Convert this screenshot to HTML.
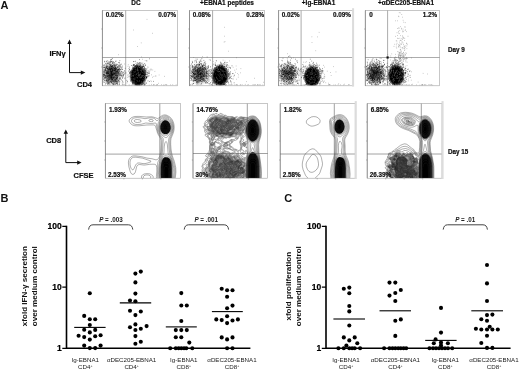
<!DOCTYPE html>
<html lang="en"><head><meta charset="utf-8"><title>Figure: EBNA1 targeting via DEC205</title>
<style>html,body{margin:0;padding:0;background:#fff}svg{display:block}text{font-family:"Liberation Sans", sans-serif}</style></head><body>
<svg width="520" height="369" viewBox="0 0 520 369">
<rect width="520" height="369" fill="#fff"/>
<text x=".6" y="9" font-size="11" font-weight="bold" text-anchor="start" fill="#111">A</text>
<text x=".6" y="202.4" font-size="11" font-weight="bold" text-anchor="start" fill="#111">B</text>
<text x="284.3" y="202.4" font-size="11" font-weight="bold" text-anchor="start" fill="#111">C</text>
<defs><radialGradient id="core1"><stop offset="0" stop-color="#000"/><stop offset=".7" stop-color="#000"/><stop offset=".86" stop-color="#000" stop-opacity=".5"/><stop offset="1" stop-color="#000" stop-opacity="0"/></radialGradient><radialGradient id="haze1"><stop offset="0" stop-color="#000" stop-opacity=".5"/><stop offset=".55" stop-color="#000" stop-opacity=".3"/><stop offset="1" stop-color="#000" stop-opacity="0"/></radialGradient><filter id="soft" x="-5%" y="-5%" width="110%" height="110%"><feGaussianBlur stdDeviation=".42"/></filter>
<clipPath id="d0"><rect x="102.4" y="10.6" width="75.2" height="75.2"/></clipPath>
<clipPath id="d1"><rect x="189.5" y="10.6" width="75" height="75.2"/></clipPath>
<clipPath id="d2"><rect x="278.6" y="10.6" width="74.5" height="75.2"/></clipPath>
<clipPath id="d3"><rect x="365.3" y="10.6" width="74.3" height="75.2"/></clipPath>
</defs>
<g clip-path="url(#d0)"><g filter="url(#soft)">
<ellipse cx="112" cy="73.9" rx="10.6" ry="12.4" fill="url(#haze1)" opacity="1.0"/>
<ellipse cx="137.9" cy="75.8" rx="8.8" ry="11.2" fill="url(#core1)"/>
<path d="M111.3 59.3h.6M112.3 58.6h.6M149 58.8h.6M110.3 60h.6M110.8 59.6h.6M139.2 59.6h.6M104.3 61.3h.6M105.9 61.2h.6M107.5 60.8h.6M111.4 61.4h.6M115.7 61h.6M119.6 60.6h.6M133.7 61.5h.6M135.2 61.3h.6M146.6 60.9h.6M104.5 61.9h.6M106.2 61.8h.6M107.5 62.3h.6M108.1 62h.6M109.5 61.8h.6M109.8 62h.6M110.1 61.7h.6M110.2 62h.6M111 61.6h.6M111.9 62.1h.6M113.3 61.7h.6M115.5 61.6h.6M133.3 61.6h.6M105.2 63.4h.6M108.4 63.3h.6M108.8 63.2h.6M109.7 62.6h.6M112.1 63.5h.6M112.4 62.9h.6M112.8 62.6h.6M114 62.7h.6M118.1 62.6h.6M119.2 62.8h.6M135.7 63.3h.6M136.9 62.7h.6M137.8 63.1h.6M139.1 63.2h.6M139.2 62.6h.6M140 62.8h.6M141.6 63.2h.6M103.8 64.5h.6M105.7 64.2h.6M106.5 63.8h.6M107.3 63.6h.6M107.3 63.8h.6M108.6 64h.6M109.3 64.3h.6M110.3 64.2h.6M113.4 64.3h.6M115.5 64.3h.6M116.4 64.3h.6M117.1 64.4h.6M120 64.4h.6M121.4 64.2h.6M137.1 64h.6M137.9 64.1h.6M138.1 63.8h.6M139.4 63.9h.6M140.2 64.1h.6M143.1 64.5h.6M144.5 63.8h.6M106.1 65.2h.6M109.5 64.8h.6M110 65h.6M110.2 65h.6M111 64.7h.6M111.8 65.4h.6M113.8 65.3h.6M114.3 65h.6M114.3 64.9h.6M114.5 65.4h.6M116.4 65.3h.6M118 65.2h.6M119 65.2h.6M132.9 64.9h.6M133 65.2h.6M133.4 64.8h.6M133.6 64.5h.6M133.6 65.4h.6M134.2 64.6h.6M134.6 65.5h.6M135.8 65.3h.6M136.3 64.9h.6M136.6 64.5h.6M136.9 64.8h.6M138.2 65.1h.6M138.9 65.4h.6M139.2 64.9h.6M140.1 65.4h.6M140.4 64.9h.6M145 65.3h.6M145.4 65.1h.6M103 65.6h.6M104.4 65.7h.6M105.8 66.2h.6M106.8 65.8h.6M106.8 66.2h.6M107.1 66.4h.6M107.7 66.3h.6M109.8 66.1h.6M110.1 65.6h.6M110.2 65.9h.6M110.4 66h.6M110.8 65.9h.6M111 66.4h.6M111.1 66.5h.6M111.6 65.9h.6M112 65.9h.6M112.2 65.5h.6M112.3 66.5h.6M112.6 66.2h.6M112.6 66.4h.6M113.5 65.5h.6M115.1 65.7h.6M115.4 65.8h.6M118.3 66.1h.6M119.5 65.9h.6M119.8 65.8h.6M119.9 66.1h.6M120.7 66.4h.6M122 66.1h.6M131.3 65.5h.6M132.9 65.8h.6M134.6 65.6h.6M134.7 66.3h.6M134.8 66.4h.6M135.4 65.7h.6M135.5 66h.6M136.1 65.9h.6M136.1 65.6h.6M136.4 66.2h.6M136.8 66.3h.6M136.9 65.7h.6M137 66.4h.6M137.2 66.3h.6M137.5 65.5h.6M137.6 65.7h.6M138 66.4h.6M139 66.2h.6M139.1 66.2h.6M140.1 65.8h.6M140.8 66.1h.6M141.1 66.2h.6M141.8 65.8h.6M142.5 66.4h.6M142.8 66.2h.6M143.1 66h.6M143.1 66.5h.6M143.3 66h.6M143.7 66.1h.6M102.9 67.2h.6M103.5 67.3h.6M104 67.4h.6M104.3 67.4h.6M104.8 67.2h.6M105.7 66.9h.6M105.9 67.4h.6M106 66.7h.6M106.4 66.9h.6M108.4 67.2h.6M108.8 67.2h.6M109 66.5h.6M109 66.9h.6M110.6 67h.6M110.6 66.7h.6M111 67h.6M111 66.6h.6M111.2 67.1h.6M111.6 66.7h.6M111.7 66.9h.6M111.8 67h.6M111.9 67h.6M112.2 66.5h.6M112.3 66.7h.6M112.9 67.1h.6M113.2 67.4h.6M114.3 66.8h.6M114.5 66.6h.6M114.6 67.3h.6M114.6 67.1h.6M114.9 66.8h.6M115 67.4h.6M115.9 67.2h.6M116.9 67.4h.6M117.1 67.1h.6M117.3 66.7h.6M117.7 67.5h.6M118.4 66.9h.6M119.4 66.8h.6M129.2 67.1h.6M134.3 67.5h.6M134.4 66.9h.6M134.4 67.3h.6M134.9 66.6h.6M135.1 66.6h.6M135.1 66.6h.6M135.3 66.7h.6M136.3 66.8h.6M136.3 67.2h.6M136.5 67.1h.6M136.7 67.1h.6M136.8 66.6h.6M136.9 66.9h.6M137.1 67.4h.6M137.1 67h.6M137.6 67.4h.6M138.4 66.9h.6M139.1 66.6h.6M139.2 66.9h.6M139.3 66.5h.6M139.8 66.9h.6M140.1 67.2h.6M140.2 67.1h.6M140.2 67.2h.6M140.3 67.5h.6M141.1 67.2h.6M141.8 66.6h.6M141.9 67.4h.6M142.3 67.1h.6M142.4 66.9h.6M142.4 67h.6M142.7 67.1h.6M144.3 67.1h.6M102.8 68h.6M104.8 67.9h.6M105 68.3h.6M105.8 68.3h.6M105.9 68.2h.6M106.2 67.5h.6M106.5 68.2h.6M107.1 68.4h.6M107.4 68.1h.6M107.4 68.5h.6M107.4 68h.6M108.8 67.6h.6M109.3 67.9h.6M109.4 67.6h.6M109.5 68.5h.6M109.7 68.2h.6M109.9 67.6h.6M110.1 68.2h.6M110.1 67.8h.6M110.4 67.9h.6M111.1 68.4h.6M111.6 67.7h.6M111.8 68h.6M111.9 68.1h.6M111.9 67.6h.6M111.9 68.1h.6M112 68.5h.6M112.1 68h.6M112.6 67.6h.6M112.7 68.4h.6M113.4 67.8h.6M113.4 67.7h.6M114.8 67.7h.6M114.9 67.6h.6M115.4 68h.6M115.4 68.5h.6M115.6 68.2h.6M116.4 68.3h.6M118.7 68.3h.6M119 68.2h.6M120.5 67.6h.6M121.3 67.7h.6M124.9 68.3h.6M132.3 67.7h.6M132.6 68.4h.6M133 67.7h.6M133.3 68.4h.6M133.4 67.9h.6M134.3 68.2h.6M135.7 68.1h.6M135.9 68.2h.6M136 67.8h.6M136 68.2h.6M136.1 68.3h.6M136.1 68.2h.6M136.2 68.3h.6M136.3 68.1h.6M136.4 67.7h.6M136.5 68.1h.6M136.7 68h.6M136.7 68.3h.6M136.9 68h.6M137 67.8h.6M137.2 67.8h.6M137.3 68.5h.6M137.3 68.4h.6M137.5 68.4h.6M137.6 68.5h.6M137.7 68.4h.6M138 67.7h.6M138.5 68.4h.6M138.7 68.4h.6M138.8 68.5h.6M139.3 68.1h.6M140 68.5h.6M140.6 67.7h.6M140.8 68.4h.6M140.9 68h.6M141 68h.6M141 68.2h.6M141.3 68.5h.6M141.6 68.3h.6M141.8 67.5h.6M142.4 67.7h.6M142.4 67.8h.6M143.6 68.4h.6M143.8 68.1h.6M144.3 67.8h.6M144.6 68.3h.6M145.5 68.5h.6M104.7 69.2h.6M105 69h.6M107.4 69.1h.6M107.7 69h.6M107.9 68.9h.6M108 69h.6M108.1 69.2h.6M108.8 68.6h.6M109.2 68.6h.6M109.3 69.1h.6M109.5 69.4h.6M109.5 69.2h.6M110.1 68.8h.6M110.2 68.7h.6M110.3 68.7h.6M110.5 68.9h.6M110.6 69.2h.6M110.7 69.5h.6M110.8 68.6h.6M111 68.7h.6M111.1 68.9h.6M111.1 69.1h.6M111.3 68.8h.6M111.5 68.6h.6M111.6 68.6h.6M111.6 68.8h.6M111.8 68.5h.6M112.1 69.5h.6M112.3 68.7h.6M112.3 68.8h.6M112.6 69.3h.6M112.6 68.8h.6M112.7 69.4h.6M113.1 68.6h.6M113.6 68.9h.6M113.7 69.1h.6M113.8 68.6h.6M113.9 68.5h.6M114.2 68.7h.6M114.2 68.5h.6M114.3 69.1h.6M114.6 68.6h.6M114.7 69h.6M115.2 69h.6M115.3 69.2h.6M115.4 69h.6M115.7 68.8h.6M115.9 68.7h.6M116.2 69.1h.6M116.6 69h.6M117.5 69.5h.6M117.7 68.9h.6M118.7 69.4h.6M119.4 68.8h.6M119.8 69.4h.6M120.5 69.4h.6M121.5 68.7h.6M121.8 69.5h.6M122.3 69.3h.6M132 69.2h.6M133.4 69.3h.6M133.5 69h.6M133.6 69h.6M134 69h.6M134.3 69h.6M134.4 69.5h.6M134.5 69.2h.6M134.5 68.7h.6M134.5 69h.6M134.8 69.3h.6M134.9 69h.6M135.1 69.3h.6M135.6 69h.6M135.7 68.5h.6M135.9 68.9h.6M135.9 69.2h.6M136 69.1h.6M136.2 69h.6M136.7 69.3h.6M136.8 69.2h.6M137 69.2h.6M137 69.3h.6M137.3 69h.6M137.7 69.1h.6M137.7 68.9h.6M137.8 68.7h.6M137.9 68.8h.6M138.1 68.8h.6M138.2 69.3h.6M138.2 69.2h.6M138.2 69h.6M138.4 69.1h.6M138.5 69h.6M138.8 69.2h.6M139 69.3h.6M139 69.5h.6M139 68.6h.6M139.2 69h.6M139.3 69.2h.6M139.4 68.9h.6M139.5 69.3h.6M139.6 68.7h.6M139.6 68.6h.6M139.7 68.9h.6M139.7 68.8h.6M139.8 69.1h.6M139.8 68.8h.6M140.2 68.5h.6M140.4 69.2h.6M140.9 68.5h.6M141 69.1h.6M141.3 68.7h.6M141.3 69.3h.6M142.2 68.9h.6M143.4 69.4h.6M143.8 68.9h.6M144.1 69.1h.6M145.7 69.4h.6M103.3 69.9h.6M104.2 70.4h.6M104.7 69.6h.6M105.2 69.8h.6M105.5 69.9h.6M105.6 70.5h.6M105.6 70.2h.6M107.7 69.5h.6M107.8 69.7h.6M108.2 69.9h.6M108.4 70.2h.6M108.5 70.3h.6M108.7 69.9h.6M108.9 69.8h.6M109.1 69.8h.6M109.3 70.4h.6M109.5 70h.6M109.5 69.7h.6M109.6 70.1h.6M109.7 69.7h.6M109.9 69.6h.6M110.1 69.7h.6M110.1 70h.6M110.3 69.8h.6M110.4 70.3h.6M110.5 69.9h.6M110.8 70.1h.6M110.9 70h.6M110.9 70.3h.6M111.3 70.1h.6M111.5 70.1h.6M111.7 70.2h.6M111.7 69.9h.6M111.8 70.3h.6M112.1 69.7h.6M112.2 70.5h.6M112.4 70.4h.6M112.8 69.5h.6M113 70.1h.6M113.3 69.8h.6M113.9 69.7h.6M113.9 69.7h.6M114.8 69.8h.6M115.2 69.9h.6M115.3 69.7h.6M115.3 69.6h.6M115.7 70.2h.6M116.5 69.6h.6M116.7 69.9h.6M117.1 70h.6M117.3 70.1h.6M117.7 70.2h.6M118.2 69.7h.6M118.3 69.6h.6M118.4 69.9h.6M118.5 70h.6M118.6 69.8h.6M118.7 70h.6M119.2 69.9h.6M120.6 69.8h.6M129.2 69.5h.6M129.5 70h.6M132.7 70.5h.6M133.1 70.1h.6M133.2 70.4h.6M133.3 70.3h.6M133.5 70h.6M133.5 70.5h.6M133.7 69.5h.6M133.7 69.8h.6M133.8 70.2h.6M134.8 69.5h.6M134.8 70.5h.6M134.8 69.9h.6M134.9 69.7h.6M135.3 69.7h.6M135.5 70h.6M135.6 69.7h.6M135.6 69.9h.6M135.7 70h.6M136 70.2h.6M136.1 69.9h.6M136.4 70.4h.6M136.4 70.5h.6M136.4 69.6h.6M136.4 70h.6M136.5 70h.6M136.6 70.3h.6M136.7 70.5h.6M136.8 70.3h.6M137.1 69.8h.6M137.1 70.1h.6M137.2 69.9h.6M137.6 70.5h.6M137.7 70.4h.6M137.9 69.6h.6M138.1 69.9h.6M138.2 69.8h.6M138.4 70.4h.6M138.6 70.1h.6M138.6 70.3h.6M138.7 70h.6M138.8 70.2h.6M138.9 70.4h.6M139 69.9h.6M139 69.8h.6M139.2 70.4h.6M139.2 69.6h.6M139.3 70.1h.6M139.3 70.2h.6M139.5 69.6h.6M139.5 70.4h.6M139.6 69.6h.6M139.6 70.3h.6M139.6 70.4h.6M139.6 70.3h.6M139.9 70h.6M140.1 70.3h.6M140.4 70.3h.6M140.7 69.8h.6M140.8 69.5h.6M140.9 69.9h.6M141 69.7h.6M141.1 69.8h.6M141.2 69.9h.6M141.2 69.5h.6M141.6 69.9h.6M141.6 70.4h.6M142.4 70.1h.6M142.4 69.7h.6M142.7 69.8h.6M142.8 70.2h.6M143.8 70.2h.6M144 70.2h.6M144.4 69.6h.6M144.9 70.3h.6M145.6 70.3h.6M145.7 70.1h.6M103.7 71.1h.6M104.4 71.2h.6M105.4 70.5h.6M106.6 70.7h.6M106.8 71h.6M106.9 70.8h.6M107 71.2h.6M107.1 71.1h.6M107.2 70.8h.6M107.3 71h.6M107.5 71.4h.6M107.8 71.3h.6M108.7 70.8h.6M108.9 70.7h.6M109 71.5h.6M109.3 71.1h.6M109.8 71.2h.6M109.9 71.3h.6M110.4 70.8h.6M110.6 71.2h.6M110.6 71.3h.6M111 71.4h.6M111.3 71.2h.6M111.5 70.9h.6M111.5 70.7h.6M111.6 70.9h.6M111.7 70.7h.6M111.8 71.4h.6M111.8 71.3h.6M112.2 71.2h.6M112.5 70.9h.6M112.6 70.5h.6M112.6 70.9h.6M113.1 70.5h.6M113.2 71h.6M113.9 71h.6M113.9 70.6h.6M114 71.1h.6M114.5 70.6h.6M114.5 70.6h.6M114.5 70.7h.6M114.5 70.7h.6M114.6 71.3h.6M114.7 70.6h.6M114.8 70.5h.6M115.4 71h.6M115.4 71.4h.6M115.5 71.4h.6M115.5 71.2h.6M115.9 71.4h.6M116.2 71h.6M116.5 70.8h.6M116.8 71h.6M116.8 70.9h.6M117.2 71.4h.6M117.2 71.4h.6M117.2 70.9h.6M119 71h.6M124.4 70.8h.6M128.2 71.1h.6M130.6 71.2h.6M130.9 71.4h.6M131.5 70.9h.6M131.6 70.8h.6M131.7 71.4h.6M132 70.9h.6M132.1 70.7h.6M132.6 70.9h.6M133.4 70.9h.6M133.4 71.3h.6M133.6 70.6h.6M133.8 70.7h.6M134 71.3h.6M134.2 70.9h.6M134.3 71.3h.6M134.4 71.2h.6M134.5 70.9h.6M134.6 71h.6M134.6 71h.6M134.6 70.7h.6M134.7 70.8h.6M135 71h.6M135.4 71h.6M135.4 71.2h.6M135.5 71.3h.6M135.7 70.7h.6M135.7 71.4h.6M135.8 71.4h.6M136 71.2h.6M136.5 70.9h.6M136.7 71.2h.6M136.7 71.4h.6M136.7 71.5h.6M136.8 70.9h.6M137 70.7h.6M137 71h.6M137.2 71.1h.6M137.3 70.7h.6M137.3 70.9h.6M137.5 70.6h.6M137.5 70.8h.6M137.5 70.9h.6M137.7 71.1h.6M137.7 71.1h.6M137.8 70.8h.6M138 70.5h.6M138 70.5h.6M138.2 71.1h.6M138.5 70.5h.6M138.6 71.2h.6M139 71.1h.6M139.3 70.8h.6M139.4 71.4h.6M139.4 70.9h.6M139.6 70.9h.6M139.8 70.9h.6M139.8 70.9h.6M140 71.4h.6M140.1 70.8h.6M140.3 71.4h.6M140.3 71.5h.6M140.6 70.6h.6M141.1 71.2h.6M141.1 71.4h.6M141.3 70.6h.6M141.3 70.7h.6M141.4 70.9h.6M141.5 70.9h.6M141.6 71.5h.6M141.6 71.5h.6M142 71.1h.6M142 70.7h.6M142.1 71h.6M142.4 71.1h.6M142.5 70.8h.6M142.5 70.9h.6M142.7 70.8h.6M143.7 70.5h.6M144.2 70.8h.6M144.4 71h.6M144.9 71.4h.6M145 70.7h.6M145.4 71.1h.6M145.9 71.3h.6M103.3 71.9h.6M103.6 72.1h.6M104.4 72.3h.6M104.8 71.5h.6M105.6 72.4h.6M106.1 72.1h.6M106.3 72.1h.6M106.4 72.4h.6M106.5 71.7h.6M107 71.8h.6M107 72.4h.6M107.1 71.7h.6M107.1 71.6h.6M107.5 72.5h.6M107.6 71.8h.6M107.6 72.3h.6M107.7 72.4h.6M107.8 72.5h.6M108.2 71.7h.6M108.3 72h.6M108.8 72.2h.6M108.8 71.5h.6M109 71.9h.6M109.5 71.5h.6M109.6 71.9h.6M109.7 71.6h.6M109.8 71.6h.6M110.1 71.8h.6M110.2 71.8h.6M110.2 71.7h.6M110.5 72.1h.6M110.9 72.1h.6M111 72.4h.6M111.1 71.8h.6M111.1 71.6h.6M111.2 71.7h.6M111.3 72.2h.6M111.4 72.3h.6M111.6 71.8h.6M111.8 71.8h.6M111.9 72.4h.6M111.9 72h.6M112.4 71.6h.6M112.4 72.3h.6M112.5 72.1h.6M112.5 71.9h.6M113 72.5h.6M113 72.4h.6M113 71.6h.6M113.5 71.8h.6M113.6 71.9h.6M113.8 72.4h.6M113.8 72h.6M114.3 72.2h.6M114.8 72h.6M114.9 71.6h.6M115.2 71.9h.6M115.3 72.4h.6M115.3 72.3h.6M115.7 71.7h.6M116.3 71.7h.6M116.4 71.6h.6M116.4 72.3h.6M117 71.6h.6M118 71.5h.6M118.1 72.3h.6M118.1 72.2h.6M118.8 72h.6M119.5 71.5h.6M121.3 71.7h.6M121.4 71.8h.6M123.2 72.4h.6M124.7 72.1h.6M129.1 72.4h.6M129.9 71.6h.6M129.9 72.4h.6M130.6 71.5h.6M131.8 72h.6M132 71.7h.6M132.2 72.1h.6M132.4 72.2h.6M133.5 71.6h.6M133.6 71.8h.6M133.7 72.1h.6M133.7 72.1h.6M134 71.8h.6M134.1 72.1h.6M134.2 71.8h.6M134.4 71.6h.6M134.6 71.8h.6M134.6 71.9h.6M134.7 72.1h.6M134.7 71.6h.6M134.7 71.6h.6M135 72.5h.6M135 71.6h.6M135 71.9h.6M135.1 72h.6M135.1 72.2h.6M135.4 71.6h.6M135.5 71.9h.6M135.5 71.9h.6M135.5 71.8h.6M135.6 71.8h.6M135.7 72h.6M135.8 71.6h.6M136 72.1h.6M136.3 72.3h.6M136.5 72.4h.6M136.7 72.2h.6M136.7 72.5h.6M136.8 71.8h.6M136.9 72.4h.6M137 72.1h.6M137.1 72.4h.6M137.2 71.6h.6M137.2 71.6h.6M137.2 71.9h.6M137.3 71.7h.6M137.3 72.4h.6M137.3 71.7h.6M137.4 71.8h.6M137.4 71.8h.6M137.4 71.7h.6M137.5 71.6h.6M137.5 71.9h.6M137.8 72.2h.6M137.9 71.7h.6M138 72.3h.6M138 71.7h.6M138.1 72.5h.6M138.1 71.6h.6M138.1 72.2h.6M138.2 71.5h.6M138.2 72.5h.6M138.4 71.7h.6M138.4 72.3h.6M138.4 72.3h.6M138.5 72.5h.6M138.5 71.8h.6M138.6 71.6h.6M138.9 71.7h.6M138.9 72.4h.6M138.9 71.9h.6M138.9 71.8h.6M139.2 72h.6M139.2 72.2h.6M139.3 72h.6M139.5 72.3h.6M139.5 72.1h.6M139.6 72.2h.6M139.6 71.8h.6M139.6 71.5h.6M139.7 71.6h.6M139.7 72h.6M139.8 72.3h.6M139.8 72h.6M139.9 72.2h.6M139.9 71.5h.6M140 72.2h.6M140.1 71.7h.6M140.2 71.5h.6M140.2 71.9h.6M140.4 72.2h.6M140.6 72.4h.6M140.6 71.7h.6M140.7 72.3h.6M140.9 71.9h.6M141 72.4h.6M141 71.8h.6M141.2 72.2h.6M141.2 71.7h.6M141.2 71.8h.6M141.5 72.1h.6M141.6 72.5h.6M141.9 71.5h.6M141.9 72.5h.6M142.4 72.1h.6M142.5 71.8h.6M142.8 72.3h.6M143.2 72.1h.6M143.5 72.3h.6M143.6 71.9h.6M143.9 72.4h.6M144.1 71.6h.6M144.4 72.4h.6M144.5 71.7h.6M144.7 72.4h.6M144.9 72.5h.6M145.5 71.9h.6M104.2 73.1h.6M105.5 73.1h.6M105.9 73.3h.6M106.3 73.5h.6M106.6 72.5h.6M106.7 73.3h.6M106.8 73.2h.6M106.8 73.3h.6M106.9 73.2h.6M107.1 73.3h.6M107.2 72.7h.6M107.2 72.6h.6M107.3 72.7h.6M107.4 73.2h.6M107.9 73.3h.6M107.9 72.8h.6M108.1 73.5h.6M108.4 73.1h.6M108.6 72.7h.6M108.8 72.8h.6M108.8 72.8h.6M108.9 73h.6M109 72.8h.6M109.1 73.4h.6M109.5 73h.6M109.6 72.7h.6M109.7 73.3h.6M109.7 72.7h.6M110.1 73.3h.6M110.4 73h.6M110.5 72.6h.6M110.8 73.4h.6M111 73h.6M111.2 72.5h.6M111.2 73.2h.6M111.4 73.2h.6M111.4 73.5h.6M111.6 72.9h.6M111.7 73.3h.6M111.7 73.4h.6M111.7 73.4h.6M111.9 72.6h.6M112 73.1h.6M112.2 72.6h.6M112.3 72.5h.6M112.3 73.4h.6M112.3 72.8h.6M112.4 72.9h.6M112.5 72.7h.6M112.7 73h.6M112.9 73.1h.6M113 73.2h.6M113.2 73h.6M113.3 72.9h.6M113.4 73.3h.6M113.6 73.1h.6M113.8 73h.6M114 72.6h.6M114.2 73.1h.6M114.4 73.1h.6M114.9 73.1h.6M115.2 73.3h.6M115.5 73.5h.6M115.9 72.9h.6M116 73h.6M116.1 73.4h.6M116.6 72.8h.6M117.3 73h.6M117.4 72.7h.6M117.6 73h.6M117.6 72.7h.6M117.9 72.8h.6M117.9 73.3h.6M118.7 73.2h.6M118.7 73.4h.6M119.7 73.3h.6M120.3 72.9h.6M122.1 72.8h.6M129 73h.6M129.4 73.3h.6M130 72.7h.6M131.4 72.6h.6M131.7 72.6h.6M132 73.4h.6M132.7 73.1h.6M132.7 72.8h.6M133 73.4h.6M133 72.7h.6M133.2 72.6h.6M133.3 72.8h.6M133.4 72.8h.6M133.7 73.2h.6M133.9 73.4h.6M133.9 72.9h.6M134.2 73.1h.6M134.3 72.6h.6M134.3 72.9h.6M134.3 73.4h.6M134.4 72.7h.6M134.5 72.7h.6M134.5 73.2h.6M134.7 73h.6M134.7 72.7h.6M134.9 72.9h.6M134.9 72.7h.6M134.9 73.2h.6M134.9 72.8h.6M135 73.2h.6M135 73.5h.6M135.2 73.2h.6M135.3 73.2h.6M135.4 72.6h.6M135.5 73.2h.6M135.5 73.5h.6M135.5 72.7h.6M135.6 72.9h.6M135.7 73.2h.6M135.9 73.2h.6M135.9 72.9h.6M136.1 73.4h.6M136.2 73.5h.6M136.2 73.2h.6M136.4 72.7h.6M136.5 73.2h.6M136.5 72.6h.6M136.6 73h.6M136.6 73.4h.6M136.6 73.1h.6M136.6 73.3h.6M136.7 73.5h.6M136.9 72.7h.6M136.9 72.5h.6M136.9 73.3h.6M137.1 72.6h.6M137.2 72.5h.6M137.4 73.3h.6M137.4 72.9h.6M137.4 72.5h.6M137.4 72.8h.6M137.4 73.3h.6M137.5 73.1h.6M137.5 73.4h.6M137.6 72.8h.6M137.6 73h.6M137.7 73h.6M137.7 73.1h.6M137.7 73.3h.6M137.8 73.1h.6M137.8 72.7h.6M138 73.1h.6M138 72.9h.6M138.1 73.3h.6M138.2 73.2h.6M138.2 73.4h.6M138.2 73.1h.6M138.2 73.2h.6M138.3 72.9h.6M138.3 72.9h.6M138.3 73h.6M138.4 73.4h.6M138.5 73.2h.6M138.5 72.9h.6M138.7 73.3h.6M138.8 73.3h.6M139 73.4h.6M139 72.8h.6M139.1 73.1h.6M139.1 73h.6M139.1 73.1h.6M139.2 72.6h.6M139.3 73.1h.6M139.3 72.7h.6M139.3 73.3h.6M139.4 73.3h.6M139.6 72.9h.6M139.6 73.3h.6M139.7 72.9h.6M139.8 73h.6M139.8 73.1h.6M139.8 72.6h.6M139.9 73h.6M139.9 72.5h.6M140.2 72.5h.6M140.2 73.3h.6M140.2 72.8h.6M140.4 72.7h.6M140.4 73.3h.6M140.5 73.2h.6M140.5 73.4h.6M140.5 73.4h.6M140.6 72.6h.6M140.6 73h.6M140.7 72.9h.6M140.8 72.8h.6M140.9 73.3h.6M141 72.9h.6M141.1 72.9h.6M141.3 73.4h.6M141.4 73.1h.6M141.5 73.5h.6M141.6 73h.6M141.7 73.2h.6M142.1 72.7h.6M142.2 73.4h.6M142.5 73.4h.6M142.6 72.6h.6M142.6 72.7h.6M142.8 73h.6M142.9 72.8h.6M143.1 72.8h.6M143.4 73.3h.6M143.4 72.6h.6M143.8 73.3h.6M143.9 72.5h.6M144 72.8h.6M144.4 73.2h.6M145 73.1h.6M146.4 72.7h.6M147 72.6h.6M147.7 72.9h.6M147.9 73.4h.6M148.7 72.9h.6M149.3 73.2h.6M103 74.1h.6M103.5 74.1h.6M106.2 73.7h.6M106.6 74.2h.6M106.7 73.6h.6M108 73.6h.6M108.2 73.8h.6M108.3 74h.6M108.3 74.4h.6M108.7 74.2h.6M109 73.9h.6M109.2 73.9h.6M109.2 74.5h.6M109.3 74.3h.6M109.4 74.2h.6M109.6 74.4h.6M109.8 73.6h.6M109.9 74.1h.6M110 74.2h.6M110.1 74.2h.6M110.1 73.7h.6M110.3 74.5h.6M110.5 73.6h.6M110.5 74.1h.6M110.8 74.4h.6M111.1 73.9h.6M111.2 74.4h.6M111.3 73.6h.6M111.4 74.4h.6M111.4 74.5h.6M111.5 74.3h.6M111.7 74h.6M111.8 74.3h.6M111.9 74.3h.6M112 73.8h.6M112.4 74.4h.6M112.4 74.1h.6M112.5 74.2h.6M113 73.9h.6M113.1 74.1h.6M113.5 74.2h.6M113.8 73.9h.6M113.8 73.8h.6M113.9 73.8h.6M114.1 73.7h.6M114.4 73.9h.6M114.5 73.6h.6M114.9 74h.6M115.3 73.8h.6M115.7 73.8h.6M115.8 74.5h.6M115.8 74.2h.6M116.3 74.1h.6M116.9 73.7h.6M117 73.9h.6M117.7 74.1h.6M117.8 73.6h.6M117.8 73.6h.6M119.6 74.1h.6M119.9 74.2h.6M121.8 74.3h.6M123.6 74.3h.6M124.7 73.5h.6M130.1 73.6h.6M132.3 73.6h.6M133.2 73.6h.6M133.4 74.2h.6M133.4 73.6h.6M133.5 74.3h.6M133.6 73.7h.6M133.6 73.6h.6M133.6 74h.6M133.7 73.7h.6M133.7 73.8h.6M133.9 74.2h.6M134.1 74.1h.6M134.2 74h.6M134.2 74.1h.6M134.4 74h.6M134.4 74.4h.6M134.4 74.4h.6M134.5 73.6h.6M134.6 74.4h.6M134.6 73.9h.6M134.7 73.9h.6M134.7 74.3h.6M134.8 74h.6M134.8 74.5h.6M134.8 74.2h.6M134.8 74.2h.6M135 74.3h.6M135 74.5h.6M135.1 73.5h.6M135.3 74.4h.6M135.4 74.5h.6M135.5 73.9h.6M135.6 73.6h.6M135.6 73.8h.6M135.7 73.9h.6M135.7 73.6h.6M135.7 73.9h.6M135.9 74h.6M135.9 73.8h.6M136.1 73.6h.6M136.2 73.6h.6M136.2 73.8h.6M136.2 74h.6M136.3 73.6h.6M136.4 73.9h.6M136.4 74h.6M136.5 74.3h.6M136.5 73.5h.6M136.6 74.1h.6M136.6 73.8h.6M136.7 73.8h.6M136.7 74.2h.6M136.7 74.3h.6M136.8 74.3h.6M136.8 73.9h.6M136.9 74h.6M137 74.1h.6M137 74.2h.6M137 73.8h.6M137 73.5h.6M137.1 73.8h.6M137.2 74.1h.6M137.2 73.7h.6M137.4 74.1h.6M137.4 73.8h.6M137.5 74h.6M137.5 74.4h.6M137.6 73.9h.6M137.6 74h.6M137.6 74.2h.6M137.7 73.9h.6M137.7 74.3h.6M137.8 74.3h.6M137.8 74.4h.6M137.8 74.4h.6M137.8 74.2h.6M137.8 73.6h.6M137.9 74.1h.6M137.9 74.2h.6M138.1 73.9h.6M138.1 74.1h.6M138.2 74.4h.6M138.3 73.6h.6M138.3 74.4h.6M138.3 73.8h.6M138.4 73.6h.6M138.4 74.4h.6M138.4 74.2h.6M138.5 74.3h.6M138.6 73.8h.6M138.6 74.2h.6M138.6 74.1h.6M138.6 73.8h.6M138.7 73.8h.6M138.7 74h.6M138.8 74h.6M138.8 73.7h.6M138.9 74.3h.6M139 74.5h.6M139.1 74.1h.6M139.1 74.3h.6M139.1 74.5h.6M139.3 73.6h.6M139.4 73.8h.6M139.5 73.8h.6M139.5 73.7h.6M139.5 74.1h.6M139.5 73.9h.6M139.6 74.4h.6M139.6 74.3h.6M139.7 74.3h.6M139.7 73.7h.6M139.8 74.4h.6M139.9 73.7h.6M139.9 73.5h.6M139.9 74.4h.6M140 73.7h.6M140 74.1h.6M140 74.4h.6M140.1 74.2h.6M140.1 73.7h.6M140.2 73.7h.6M140.4 74.4h.6M140.4 73.7h.6M140.5 73.6h.6M140.8 73.6h.6M140.9 73.8h.6M140.9 74.2h.6M140.9 73.5h.6M141 73.8h.6M141 74.1h.6M141.1 74.3h.6M141.2 74h.6M141.2 74.3h.6M141.3 74.1h.6M141.4 74.1h.6M141.4 74.1h.6M141.7 73.6h.6M141.9 74.2h.6M142 74.3h.6M142 73.6h.6M142.4 73.8h.6M142.7 73.8h.6M143.1 73.6h.6M143.4 74.3h.6M143.5 74.4h.6M143.8 73.7h.6M144.3 74h.6M144.6 73.8h.6M144.7 73.7h.6M144.8 74.2h.6M145.3 74.3h.6M145.6 73.5h.6M145.6 74.3h.6M103.4 74.5h.6M103.6 75.4h.6M103.6 74.8h.6M103.8 74.8h.6M104 74.6h.6M104.3 75.2h.6M104.4 74.8h.6M104.5 74.6h.6M106.3 75h.6M106.8 75.1h.6M107.4 74.8h.6M107.6 75.1h.6M107.9 75.2h.6M108 74.7h.6M108 75h.6M108.5 75.4h.6M108.6 74.6h.6M108.6 75.2h.6M109 74.8h.6M109.2 74.8h.6M109.4 75.2h.6M109.6 75.3h.6M110.3 74.6h.6M110.3 74.9h.6M110.5 75.1h.6M110.5 75.2h.6M110.8 74.6h.6M111 75.1h.6M111.3 75.4h.6M111.7 75.4h.6M111.7 75.3h.6M111.8 75.4h.6M111.8 74.6h.6M111.8 74.8h.6M111.9 75.3h.6M112.2 75.3h.6M112.2 74.9h.6M112.2 74.9h.6M112.2 74.7h.6M112.5 74.5h.6M113 75.1h.6M113.5 74.6h.6M113.5 75.3h.6M113.6 74.7h.6M113.9 75.2h.6M114.5 75h.6M114.8 74.5h.6M114.8 75.4h.6M114.9 75.2h.6M114.9 75.5h.6M115.2 75.3h.6M115.2 75.4h.6M115.3 74.8h.6M115.7 75.4h.6M115.8 74.8h.6M116.3 74.7h.6M116.4 74.8h.6M116.7 74.9h.6M117.4 75.1h.6M117.8 74.8h.6M118.1 75.1h.6M118.2 74.7h.6M119.3 75.1h.6M119.6 75h.6M119.7 75.2h.6M120.2 75.3h.6M120.9 75.2h.6M121.6 75.4h.6M123.2 74.8h.6M123.4 75.2h.6M130.6 75.2h.6M131 75.5h.6M131.6 75h.6M131.8 75.2h.6M132 74.5h.6M132.3 74.9h.6M132.5 75.3h.6M133.4 75.1h.6M133.4 75h.6M133.4 75h.6M133.5 74.8h.6M133.5 74.8h.6M133.6 74.8h.6M133.7 74.5h.6M133.9 75.1h.6M134 74.8h.6M134.1 75.3h.6M134.1 74.5h.6M134.2 75.2h.6M134.2 75.3h.6M134.3 74.8h.6M134.5 74.7h.6M134.6 74.9h.6M134.6 74.7h.6M134.8 75.1h.6M135 74.8h.6M135 74.5h.6M135.3 74.9h.6M135.3 75.3h.6M135.4 74.7h.6M135.5 74.9h.6M135.7 75.3h.6M135.7 75h.6M135.8 74.9h.6M135.9 74.6h.6M135.9 75.4h.6M135.9 74.6h.6M136.1 75.1h.6M136.2 75.1h.6M136.3 74.8h.6M136.3 75h.6M136.4 74.9h.6M136.6 75.2h.6M136.6 75.4h.6M136.6 75.1h.6M136.7 74.7h.6M136.9 75.3h.6M136.9 74.8h.6M136.9 75h.6M137.1 74.9h.6M137.1 74.5h.6M137.1 75.3h.6M137.1 75.2h.6M137.2 74.5h.6M137.2 75.1h.6M137.2 75h.6M137.2 75.3h.6M137.5 75h.6M137.6 75.4h.6M137.6 74.7h.6M137.8 74.8h.6M137.8 74.8h.6M137.9 74.7h.6M137.9 75.4h.6M138 75.5h.6M138.1 74.6h.6M138.1 74.7h.6M138.2 75.2h.6M138.2 75.5h.6M138.3 74.9h.6M138.3 74.5h.6M138.3 75.4h.6M138.3 74.8h.6M138.4 74.6h.6M138.4 75.4h.6M138.4 74.9h.6M138.6 75h.6M138.6 74.8h.6M138.8 74.7h.6M138.8 74.9h.6M138.9 75.1h.6M139 75h.6M139.1 75.1h.6M139.1 75.1h.6M139.1 74.8h.6M139.1 75.4h.6M139.2 74.9h.6M139.3 75.4h.6M139.5 74.7h.6M139.5 75.1h.6M139.5 74.6h.6M139.5 74.8h.6M139.5 75.4h.6M139.5 75.3h.6M139.6 74.6h.6M139.6 74.8h.6M139.6 75.2h.6M139.8 74.6h.6M139.8 74.7h.6M140 74.9h.6M140 75.2h.6M140.3 75h.6M140.6 74.5h.6M140.6 75.5h.6M140.6 74.5h.6M140.7 75.2h.6M140.7 75.4h.6M140.8 74.7h.6M140.8 75.2h.6M140.9 74.5h.6M140.9 75.3h.6M141.1 75.2h.6M141.1 75.4h.6M141.1 75h.6M141.1 75h.6M141.2 74.5h.6M141.2 74.6h.6M141.3 75.4h.6M141.5 74.6h.6M141.5 74.8h.6M141.7 75.3h.6M141.8 75.4h.6M141.9 74.6h.6M142 74.8h.6M142.1 75.1h.6M142.4 75.2h.6M142.6 74.7h.6M142.7 74.7h.6M142.7 74.8h.6M142.9 75.1h.6M143.2 74.8h.6M143.4 74.7h.6M143.9 74.5h.6M144.1 75.4h.6M144.2 75.4h.6M144.7 75.2h.6M145.5 74.5h.6M146.3 74.7h.6M146.9 74.7h.6M103.2 76.5h.6M103.5 75.6h.6M103.8 75.8h.6M104.1 75.8h.6M105.3 75.6h.6M105.3 75.6h.6M105.4 76.2h.6M106.4 75.9h.6M106.4 76.2h.6M106.7 76h.6M106.8 76.2h.6M107.1 76.3h.6M107.1 76.5h.6M107.4 75.6h.6M107.7 76.3h.6M108.3 76.3h.6M108.6 76h.6M108.9 76h.6M109.3 76.3h.6M109.4 76h.6M109.6 75.7h.6M109.7 75.6h.6M109.9 75.5h.6M110.2 76h.6M110.5 76.1h.6M110.7 76.4h.6M110.8 75.7h.6M110.8 75.9h.6M111 75.8h.6M111.3 76.2h.6M111.7 76.1h.6M111.7 75.9h.6M111.8 75.8h.6M112 75.5h.6M113.1 75.6h.6M113.3 75.8h.6M113.3 75.6h.6M113.5 75.7h.6M113.7 75.9h.6M114 76.5h.6M114.3 76.3h.6M114.8 75.7h.6M116 75.9h.6M116.3 76.5h.6M116.3 75.5h.6M116.6 75.6h.6M116.8 75.5h.6M116.9 75.5h.6M117.5 76.1h.6M117.8 76.3h.6M121.3 75.9h.6M122 75.8h.6M123.3 75.8h.6M129.8 76.3h.6M130.8 76.4h.6M131 75.7h.6M131.3 75.5h.6M132 75.8h.6M132 75.7h.6M132.7 75.8h.6M132.7 76.3h.6M133 75.8h.6M133.3 75.5h.6M133.7 76.5h.6M133.7 76.1h.6M133.7 76.1h.6M133.9 76.5h.6M134.3 76.3h.6M134.3 75.6h.6M134.4 76.3h.6M134.6 75.7h.6M134.6 76.3h.6M134.6 75.5h.6M134.7 75.7h.6M134.7 75.9h.6M134.8 76h.6M134.8 76.5h.6M135 75.6h.6M135.1 76h.6M135.1 76.3h.6M135.3 76.3h.6M135.3 76.3h.6M135.3 76.5h.6M135.4 76.4h.6M135.5 75.6h.6M135.5 76.4h.6M135.5 76.1h.6M135.6 76h.6M135.6 76.2h.6M135.6 75.5h.6M135.6 76.3h.6M135.6 75.5h.6M135.7 76.3h.6M135.7 76.1h.6M135.8 75.8h.6M135.8 76.4h.6M135.9 75.7h.6M135.9 76.2h.6M136 76.4h.6M136 75.6h.6M136 76.1h.6M136.1 76h.6M136.2 76.2h.6M136.2 75.6h.6M136.4 75.5h.6M136.4 76.1h.6M136.4 76h.6M136.4 75.8h.6M136.7 76h.6M136.7 76.4h.6M136.7 75.9h.6M136.8 75.5h.6M136.8 75.9h.6M137 75.5h.6M137 75.9h.6M137 75.8h.6M137 75.7h.6M137 75.8h.6M137 75.7h.6M137.1 76.3h.6M137.1 75.9h.6M137.2 76.4h.6M137.3 75.7h.6M137.3 76.2h.6M137.4 75.5h.6M137.5 76.4h.6M137.5 76.4h.6M137.5 75.8h.6M137.5 76h.6M137.6 75.7h.6M137.8 76.1h.6M137.8 76.1h.6M137.8 75.7h.6M137.9 76.5h.6M138 76.5h.6M138.1 76.3h.6M138.1 76.2h.6M138.2 76.2h.6M138.3 76.1h.6M138.3 76.1h.6M138.4 75.8h.6M138.5 75.6h.6M138.5 75.7h.6M138.6 76.4h.6M138.6 75.7h.6M138.6 76.4h.6M138.7 76.4h.6M138.8 75.7h.6M139 75.7h.6M139 75.6h.6M139 76.4h.6M139.1 76.3h.6M139.2 76.5h.6M139.2 75.7h.6M139.2 75.6h.6M139.3 75.6h.6M139.3 75.5h.6M139.4 76.1h.6M139.5 76.4h.6M139.6 75.7h.6M139.6 75.7h.6M139.7 76h.6M139.8 76.1h.6M139.8 76.4h.6M139.9 76.1h.6M139.9 76.4h.6M140.1 75.8h.6M140.1 75.6h.6M140.3 76.3h.6M140.3 76.1h.6M140.3 75.8h.6M140.6 75.7h.6M140.6 76.4h.6M140.6 75.6h.6M140.9 76.1h.6M141 76.2h.6M141.1 75.7h.6M141.3 75.6h.6M141.4 76.4h.6M141.5 75.9h.6M141.5 76h.6M141.5 75.7h.6M141.6 76.1h.6M141.6 75.5h.6M141.8 75.7h.6M141.8 75.9h.6M142 76.3h.6M142.2 75.6h.6M142.2 76.3h.6M142.3 75.8h.6M142.4 76h.6M142.7 75.5h.6M142.7 76.2h.6M142.8 76.1h.6M143 75.6h.6M143.1 75.7h.6M143.3 76.4h.6M143.4 76.3h.6M143.6 75.7h.6M143.7 76.2h.6M144 75.6h.6M144.4 75.9h.6M144.4 76.2h.6M145.2 76.4h.6M146.7 76.5h.6M147.8 75.6h.6M103.4 77h.6M104.2 77.1h.6M104.8 77.4h.6M105 77.2h.6M105.1 77.1h.6M105.5 77.2h.6M106 77.2h.6M106.9 76.9h.6M107 76.7h.6M107.1 76.8h.6M107.3 76.6h.6M108 76.7h.6M108.5 76.9h.6M108.5 77.2h.6M109.1 76.8h.6M109.2 77.4h.6M109.7 77.4h.6M109.8 76.8h.6M110.1 76.7h.6M110.2 77.1h.6M110.3 77.1h.6M110.5 77.2h.6M111 77.5h.6M111.1 76.7h.6M111.2 77.1h.6M111.3 77h.6M111.4 76.6h.6M111.7 77.1h.6M111.8 77.1h.6M112.1 76.9h.6M112.5 77h.6M112.6 76.8h.6M112.6 77.3h.6M112.8 76.9h.6M112.8 77.1h.6M113 77.1h.6M113.1 77.5h.6M113.2 77.3h.6M113.3 76.9h.6M113.5 76.5h.6M113.6 76.5h.6M113.7 77.3h.6M113.9 77.5h.6M114.9 76.8h.6M115 77.4h.6M115.5 77.3h.6M115.5 76.7h.6M116.8 76.8h.6M116.8 77h.6M117.1 77.5h.6M117.1 77.1h.6M117.2 77.3h.6M121.9 77.1h.6M122.5 77.2h.6M128.6 76.8h.6M130.6 77.4h.6M130.9 76.8h.6M131.4 76.9h.6M131.5 77.4h.6M131.6 77.2h.6M132.4 77.1h.6M132.5 77.3h.6M133 77.4h.6M133.1 76.7h.6M133.5 76.5h.6M133.5 76.8h.6M133.7 76.7h.6M133.9 77.3h.6M134 77.3h.6M134.2 77.4h.6M134.2 77h.6M134.3 76.8h.6M134.5 76.9h.6M134.5 76.7h.6M134.5 76.5h.6M134.6 77.1h.6M134.8 76.7h.6M134.8 77.1h.6M135 76.8h.6M135 77.4h.6M135.1 76.6h.6M135.1 76.6h.6M135.3 76.5h.6M135.4 77.1h.6M135.5 76.7h.6M135.5 77.3h.6M135.5 76.7h.6M135.6 77.5h.6M135.6 76.8h.6M135.7 77.4h.6M135.7 76.9h.6M135.8 76.9h.6M135.9 77.3h.6M135.9 76.8h.6M136 77.3h.6M136.1 77.2h.6M136.1 77.1h.6M136.3 77h.6M136.3 77.2h.6M136.4 76.8h.6M136.5 77.1h.6M136.5 77.2h.6M136.5 77.5h.6M136.6 77.2h.6M136.7 76.7h.6M136.8 77.2h.6M136.8 77.2h.6M136.9 76.6h.6M137 77.1h.6M137.1 76.6h.6M137.2 77.3h.6M137.2 76.5h.6M137.3 77.2h.6M137.4 77.3h.6M137.4 76.6h.6M137.4 77h.6M137.4 77h.6M137.6 76.7h.6M137.6 76.8h.6M137.7 76.8h.6M137.7 76.9h.6M137.7 76.8h.6M137.9 77.3h.6M137.9 77.1h.6M137.9 77h.6M137.9 76.9h.6M137.9 77.2h.6M137.9 76.8h.6M138 77.4h.6M138.1 77h.6M138.2 76.6h.6M138.2 77.1h.6M138.2 76.5h.6M138.2 76.9h.6M138.3 76.9h.6M138.3 76.8h.6M138.4 76.9h.6M138.4 76.9h.6M138.5 76.8h.6M138.6 77.2h.6M138.7 76.6h.6M138.8 77h.6M138.8 77.5h.6M138.8 76.7h.6M138.9 76.5h.6M139 77.1h.6M139 77.5h.6M139 76.7h.6M139 77.1h.6M139.1 77.4h.6M139.1 77.3h.6M139.2 76.9h.6M139.3 77h.6M139.4 76.9h.6M139.7 77.4h.6M139.7 77.1h.6M139.8 76.9h.6M139.8 77.4h.6M139.9 77.2h.6M140 76.9h.6M140.3 76.8h.6M140.4 77.5h.6M140.5 77.5h.6M140.6 77.5h.6M140.8 77.1h.6M140.8 77.4h.6M140.8 77h.6M140.8 77.1h.6M140.8 76.6h.6M140.9 77.5h.6M141 77.2h.6M141 76.5h.6M141.1 77.2h.6M141.5 77.1h.6M141.5 77.5h.6M142.1 77.2h.6M142.5 76.7h.6M142.7 77h.6M143.3 76.6h.6M143.7 77.2h.6M143.8 76.8h.6M144.2 77.2h.6M144.5 76.6h.6M144.5 77.1h.6M146 77.1h.6M146 76.7h.6M146 77.2h.6M146.4 77.4h.6M146.5 77.1h.6M147.6 76.7h.6M103.6 78.4h.6M104.3 78.4h.6M104.5 77.6h.6M106.5 78.1h.6M106.6 77.6h.6M107.2 78.4h.6M108.1 77.7h.6M108.2 78.2h.6M108.6 78.4h.6M109.3 77.9h.6M109.7 78.3h.6M110.3 77.8h.6M110.8 78h.6M110.9 78h.6M110.9 77.6h.6M111.1 77.6h.6M111.4 77.7h.6M111.6 77.6h.6M111.7 77.7h.6M111.7 78h.6M111.7 77.7h.6M111.8 77.7h.6M112 77.9h.6M112.4 78.3h.6M112.5 78.4h.6M112.6 78.1h.6M112.8 77.8h.6M113 78.3h.6M113.1 77.8h.6M113.1 77.9h.6M113.2 77.7h.6M113.3 77.6h.6M113.5 78h.6M114.2 77.7h.6M114.7 77.9h.6M114.9 78.2h.6M115.7 78.2h.6M115.8 78.4h.6M116.1 77.9h.6M116.4 77.8h.6M116.5 77.6h.6M116.6 78.4h.6M116.7 78.4h.6M117.5 77.8h.6M119.2 78.2h.6M119.6 78.1h.6M119.6 78.4h.6M120 78h.6M122.1 78.4h.6M124.7 78h.6M132 78.4h.6M132.4 77.7h.6M132.4 77.6h.6M132.6 77.9h.6M132.8 78.3h.6M132.8 77.8h.6M132.9 77.7h.6M132.9 78h.6M133.4 78.4h.6M133.5 78.1h.6M133.5 77.9h.6M133.6 77.6h.6M133.7 77.7h.6M133.8 78.3h.6M133.8 78.3h.6M133.9 78.3h.6M133.9 78h.6M134 78.3h.6M134.1 78.1h.6M134.3 78.3h.6M134.4 77.5h.6M134.4 78.4h.6M134.5 78.1h.6M134.6 78.3h.6M134.7 77.6h.6M134.8 77.9h.6M134.8 77.8h.6M134.9 78h.6M135 78.4h.6M135.3 77.9h.6M135.3 78h.6M135.3 78.1h.6M135.3 77.7h.6M135.5 77.7h.6M135.6 78.4h.6M135.7 78.1h.6M135.8 77.7h.6M135.8 77.8h.6M135.8 78.5h.6M136.1 78.2h.6M136.2 78.1h.6M136.4 78.3h.6M136.4 77.9h.6M136.5 77.9h.6M136.6 78.3h.6M136.7 77.6h.6M136.8 77.9h.6M136.8 77.6h.6M136.8 78.2h.6M136.8 77.9h.6M137.2 77.7h.6M137.2 77.7h.6M137.5 77.9h.6M137.5 77.9h.6M137.6 77.8h.6M137.9 78.1h.6M137.9 77.7h.6M138 78.4h.6M138 78.5h.6M138 77.9h.6M138 78h.6M138.1 78.5h.6M138.1 78.2h.6M138.1 78.3h.6M138.1 78h.6M138.1 77.7h.6M138.1 78.1h.6M138.3 77.6h.6M138.4 77.9h.6M138.4 78.4h.6M138.5 78h.6M138.6 77.7h.6M138.6 77.9h.6M138.7 77.8h.6M138.7 77.8h.6M138.9 78.2h.6M139 78.3h.6M139 78.2h.6M139 77.9h.6M139 77.6h.6M139.1 77.9h.6M139.1 77.7h.6M139.1 77.9h.6M139.2 78.3h.6M139.3 78.1h.6M139.3 78.3h.6M139.3 78h.6M139.4 77.6h.6M139.4 78.3h.6M139.4 77.7h.6M139.5 77.6h.6M139.6 78.5h.6M139.8 78h.6M139.9 77.7h.6M139.9 78.2h.6M140 77.7h.6M140.1 77.6h.6M140.1 77.8h.6M140.1 78.2h.6M140.1 78.3h.6M140.3 77.7h.6M140.4 78.2h.6M140.5 77.7h.6M140.6 77.8h.6M140.8 78.2h.6M140.8 77.9h.6M140.9 77.6h.6M140.9 77.8h.6M141 77.8h.6M141 78h.6M141 77.8h.6M141.1 77.9h.6M141.2 78h.6M141.2 78h.6M141.3 78.4h.6M141.4 78.3h.6M141.6 77.6h.6M141.6 78.4h.6M141.6 78h.6M141.7 78.1h.6M141.8 77.8h.6M141.9 78h.6M142.1 77.6h.6M142.1 77.6h.6M142.3 78h.6M142.3 77.8h.6M142.7 77.8h.6M143.1 78.5h.6M143.3 78.1h.6M143.7 77.6h.6M144.2 78h.6M146 77.6h.6M146 78h.6M146.3 77.6h.6M146.4 78.4h.6M146.4 77.6h.6M103.1 79.3h.6M105.1 78.6h.6M106.6 78.9h.6M106.7 79.2h.6M106.9 79.2h.6M107.6 79.1h.6M108.6 79.1h.6M108.7 79.2h.6M108.8 79.1h.6M108.9 79.3h.6M109.7 79.2h.6M109.7 78.5h.6M110.5 78.5h.6M110.6 79.3h.6M110.7 79h.6M111.2 78.9h.6M111.3 78.6h.6M111.6 78.9h.6M111.7 79h.6M111.8 78.5h.6M111.9 78.6h.6M111.9 79.1h.6M112 79.3h.6M112.3 78.8h.6M112.3 79.1h.6M113.7 79.3h.6M114 79h.6M114.7 78.8h.6M115.4 79.3h.6M116 78.9h.6M116.1 78.6h.6M116.1 78.9h.6M117.4 78.9h.6M117.6 78.8h.6M120.5 79.2h.6M129.8 79.1h.6M131.2 79.4h.6M131.4 78.8h.6M131.6 79.1h.6M131.6 79.3h.6M132.5 78.8h.6M132.6 79.2h.6M133.2 78.5h.6M133.6 78.6h.6M133.6 78.5h.6M133.6 78.5h.6M133.7 78.9h.6M133.7 79.4h.6M134.2 78.9h.6M134.4 78.8h.6M134.5 79h.6M134.6 79.1h.6M134.7 78.7h.6M134.8 78.6h.6M134.8 79.4h.6M134.9 78.6h.6M134.9 78.7h.6M135.2 79.4h.6M135.2 79.4h.6M135.3 79.3h.6M135.4 78.8h.6M135.4 79.3h.6M135.5 78.6h.6M135.5 78.9h.6M135.9 78.9h.6M135.9 78.7h.6M136 78.7h.6M136 78.9h.6M136.1 79.3h.6M136.2 78.8h.6M136.3 79.1h.6M136.3 78.8h.6M136.3 78.8h.6M136.5 79.3h.6M136.6 78.8h.6M136.6 79.2h.6M136.6 78.8h.6M136.8 78.6h.6M137 78.6h.6M137.1 79h.6M137.2 79h.6M137.2 78.6h.6M137.2 79.3h.6M137.2 79.5h.6M137.3 78.9h.6M137.3 78.5h.6M137.4 78.9h.6M137.6 79h.6M137.7 78.8h.6M137.8 78.9h.6M137.9 78.8h.6M138 79.4h.6M138 79.5h.6M138 79.5h.6M138 79.1h.6M138 78.8h.6M138.1 78.8h.6M138.1 78.8h.6M138.1 78.8h.6M138.2 78.7h.6M138.4 79.2h.6M138.4 78.9h.6M138.4 78.6h.6M138.5 78.5h.6M138.5 78.9h.6M138.6 79.3h.6M138.7 78.8h.6M138.7 79.5h.6M138.8 79.1h.6M138.8 79.3h.6M138.8 79h.6M138.8 78.5h.6M138.9 78.9h.6M139 78.9h.6M139.1 79.5h.6M139.1 78.6h.6M139.2 79.3h.6M139.2 79.1h.6M139.4 78.9h.6M139.4 78.5h.6M139.5 79.4h.6M139.5 78.7h.6M139.7 79.4h.6M139.7 79h.6M139.8 78.9h.6M139.8 78.9h.6M139.9 78.6h.6M140 79.3h.6M140.1 79.2h.6M140.1 78.9h.6M140.2 78.6h.6M140.4 79h.6M140.4 78.7h.6M140.4 79.4h.6M140.5 78.8h.6M140.6 78.8h.6M140.7 78.6h.6M140.9 79.2h.6M140.9 78.6h.6M141 79.1h.6M141 79.1h.6M141 79.1h.6M141.3 79.2h.6M141.3 79.3h.6M141.3 79.5h.6M141.5 79.4h.6M141.8 78.9h.6M141.8 79h.6M142 78.9h.6M142 79.4h.6M142.1 78.5h.6M142.3 78.5h.6M142.4 79.3h.6M142.6 78.5h.6M142.7 79.4h.6M142.7 78.7h.6M142.9 79h.6M143 79.5h.6M143.7 78.7h.6M143.9 78.7h.6M144.3 79.4h.6M145 78.7h.6M145.3 79h.6M103.8 80h.6M104.4 80.4h.6M105.7 80.4h.6M106.1 80h.6M106.6 80.1h.6M106.8 80.4h.6M108 80.1h.6M108.1 80h.6M108.6 79.9h.6M108.8 80.1h.6M109.1 79.7h.6M110.4 80.2h.6M110.9 79.6h.6M111 80.3h.6M111.2 79.7h.6M111.5 80h.6M111.5 79.9h.6M111.6 80h.6M111.7 79.8h.6M111.9 79.7h.6M112.4 79.8h.6M112.5 79.7h.6M113.3 80.4h.6M113.7 80h.6M113.8 80.1h.6M113.9 79.6h.6M114 80.4h.6M114.5 80.3h.6M114.7 79.9h.6M115 80.1h.6M115.2 80.2h.6M115.2 79.9h.6M115.3 79.8h.6M115.3 80.3h.6M115.9 79.8h.6M115.9 79.7h.6M115.9 79.7h.6M117.3 80.3h.6M117.7 79.6h.6M118 80.4h.6M119.2 79.6h.6M121.2 80h.6M126.6 80.4h.6M130.6 80.4h.6M131 80.2h.6M131.4 79.8h.6M132.6 79.9h.6M132.9 79.8h.6M133.2 80.3h.6M133.3 80h.6M133.4 80.4h.6M133.5 80.4h.6M133.7 79.9h.6M133.7 80.3h.6M134.3 80.3h.6M134.4 79.6h.6M134.4 80h.6M134.5 80.2h.6M134.5 79.6h.6M134.5 80.2h.6M134.8 80.3h.6M135 80.4h.6M135 79.8h.6M135.1 79.5h.6M135.2 80.3h.6M135.8 80.1h.6M135.8 80.1h.6M135.8 79.8h.6M135.8 80.3h.6M135.9 80.5h.6M136 79.5h.6M136.1 79.5h.6M136.2 79.5h.6M136.3 79.6h.6M136.4 79.9h.6M136.4 79.6h.6M136.5 79.9h.6M136.5 79.6h.6M137 79.6h.6M137 79.8h.6M137.1 80.2h.6M137.1 79.9h.6M137.1 80.1h.6M137.2 80.3h.6M137.4 80.3h.6M137.6 80.5h.6M137.6 80.3h.6M137.7 80.3h.6M137.7 79.6h.6M137.7 79.6h.6M137.8 80.2h.6M137.8 79.9h.6M137.8 79.7h.6M137.9 79.8h.6M137.9 79.8h.6M138 79.5h.6M138 79.7h.6M138 80.3h.6M138.1 79.6h.6M138.2 79.6h.6M138.4 80h.6M138.5 80.2h.6M138.7 79.7h.6M138.9 80.2h.6M138.9 79.7h.6M139 80h.6M139 79.8h.6M139.1 79.8h.6M139.1 79.7h.6M139.1 79.7h.6M139.1 79.9h.6M139.1 79.8h.6M139.3 80.2h.6M139.3 79.9h.6M139.4 79.6h.6M139.6 79.9h.6M139.9 80.3h.6M140.1 79.5h.6M140.2 80.2h.6M140.3 79.5h.6M140.6 79.9h.6M140.6 80.3h.6M140.6 80.1h.6M140.6 80.2h.6M140.8 79.7h.6M140.8 79.7h.6M140.8 80.2h.6M141 80.1h.6M141 80.5h.6M141 79.5h.6M141.1 80.3h.6M141.1 80.2h.6M141.1 79.7h.6M141.1 80h.6M141.2 80h.6M141.3 80.1h.6M141.4 80h.6M141.4 79.6h.6M141.5 79.6h.6M141.5 79.6h.6M141.6 79.8h.6M141.9 79.7h.6M141.9 79.8h.6M142.2 79.8h.6M142.5 80.1h.6M142.5 80h.6M142.5 79.6h.6M142.6 79.7h.6M143 79.6h.6M143.1 80.2h.6M143.2 79.8h.6M143.4 79.7h.6M143.8 80.2h.6M144.1 80h.6M106.3 80.8h.6M106.5 80.8h.6M107.1 80.6h.6M107.2 81.3h.6M107.7 81.4h.6M108.2 80.8h.6M109 81.3h.6M110.5 81.2h.6M111.8 80.5h.6M112.1 81h.6M112.4 81.4h.6M112.9 80.8h.6M113.3 81h.6M114.1 81.2h.6M115.4 81.4h.6M116.2 81.1h.6M116.4 81.2h.6M116.5 81.2h.6M117.4 81.5h.6M117.9 81.1h.6M118.3 80.6h.6M119.3 81.1h.6M122.1 81h.6M127.2 81.5h.6M130.2 81.2h.6M131.7 81.2h.6M132.2 81h.6M132.5 80.7h.6M132.8 81.4h.6M134.4 80.7h.6M134.6 80.8h.6M134.8 80.6h.6M135.1 80.9h.6M135.3 80.6h.6M135.4 80.8h.6M135.6 81h.6M135.7 81.5h.6M135.8 80.9h.6M135.9 80.9h.6M136 81.3h.6M136.1 81.2h.6M136.1 81.3h.6M136.3 81.4h.6M136.6 80.6h.6M136.6 80.7h.6M136.8 80.9h.6M136.9 81.3h.6M137.1 80.9h.6M137.6 81h.6M137.6 81.3h.6M137.7 81.2h.6M137.7 80.7h.6M138.4 80.7h.6M138.4 81.3h.6M138.5 80.8h.6M138.7 80.6h.6M138.8 80.6h.6M138.8 80.7h.6M138.9 81.2h.6M139.2 80.6h.6M139.2 81.1h.6M139.2 81h.6M139.4 80.6h.6M139.4 81.2h.6M139.5 80.5h.6M139.6 80.9h.6M139.6 81h.6M140 81.3h.6M140 80.6h.6M140.1 80.5h.6M140.1 81.4h.6M140.1 80.6h.6M140.1 81.3h.6M140.2 81.4h.6M140.2 80.6h.6M140.3 80.9h.6M140.4 80.8h.6M140.5 81h.6M140.6 80.7h.6M140.7 80.6h.6M140.9 81.2h.6M141.3 80.7h.6M141.3 80.8h.6M141.9 81.2h.6M142.5 81.2h.6M144.8 80.8h.6M145.2 80.9h.6M147.7 80.9h.6M153.2 81.4h.6M103.3 82h.6M104.5 82.5h.6M106.6 81.7h.6M107.5 82.1h.6M108.1 82h.6M108.8 82.4h.6M108.8 82.3h.6M110 81.6h.6M110.7 82.2h.6M110.7 82.2h.6M110.7 81.5h.6M111.1 82.1h.6M111.3 81.6h.6M112.8 81.7h.6M113.1 81.5h.6M113.9 81.6h.6M114.3 82.1h.6M115 81.5h.6M115.3 81.8h.6M115.6 81.8h.6M116 82h.6M116.8 82.2h.6M117 82.2h.6M118.7 82.3h.6M119.6 81.8h.6M132.7 81.7h.6M133.5 81.9h.6M133.6 81.9h.6M134.2 82h.6M134.2 82.1h.6M134.3 81.7h.6M134.6 81.8h.6M135.3 82.1h.6M135.4 82.4h.6M135.5 81.8h.6M135.5 82h.6M135.6 81.8h.6M135.8 82.2h.6M135.9 82.4h.6M136.5 82.4h.6M136.6 81.6h.6M136.6 81.7h.6M136.7 81.7h.6M136.7 81.5h.6M137.2 81.9h.6M137.5 81.9h.6M137.5 81.7h.6M137.6 82.1h.6M137.7 82.1h.6M137.8 82.2h.6M137.8 81.5h.6M137.8 81.5h.6M138.3 81.8h.6M138.3 82.2h.6M138.3 82.3h.6M138.3 82.3h.6M138.9 81.8h.6M139 82.1h.6M139.1 81.6h.6M139.1 82.4h.6M139.1 82.1h.6M139.2 81.6h.6M139.3 81.9h.6M139.4 82.2h.6M139.4 81.5h.6M140 82.3h.6M140 82h.6M140.1 81.6h.6M140.4 82h.6M140.5 81.6h.6M140.6 82h.6M140.9 82h.6M141 82.2h.6M141.2 81.7h.6M141.9 81.6h.6M142.2 82h.6M142.4 82.1h.6M143.5 82.1h.6M144.5 81.8h.6M149.1 81.5h.6M105.9 83h.6M107 83.2h.6M107.4 83h.6M108.2 82.8h.6M108.5 83.4h.6M109.3 83.2h.6M111.2 82.7h.6M111.5 82.8h.6M112.2 83.1h.6M113 83.4h.6M113.1 82.9h.6M114.5 82.8h.6M115.5 83.3h.6M115.8 83h.6M115.9 83.3h.6M116 83.4h.6M117.2 83.5h.6M117.3 83.1h.6M118.9 83.3h.6M121.9 82.9h.6M132.1 82.5h.6M132.3 82.8h.6M132.3 83.4h.6M132.9 83.3h.6M134.5 82.5h.6M134.5 83.3h.6M135 83.5h.6M135.3 83.4h.6M135.7 83.3h.6M136 83.1h.6M136 83h.6M136.1 83h.6M136.9 83.3h.6M137 83.1h.6M137.3 83.5h.6M137.3 82.9h.6M137.3 82.5h.6M137.6 82.7h.6M138.1 82.8h.6M138.2 83.5h.6M138.2 82.6h.6M138.6 83.4h.6M138.7 83.3h.6M138.7 83.1h.6M138.9 83h.6M139.2 83.4h.6M139.6 83h.6M139.7 82.8h.6M139.8 82.5h.6M140.3 83.2h.6M140.7 82.9h.6M142.1 82.6h.6M142.3 83.2h.6M142.6 83.3h.6M143.1 83.4h.6M144.6 83h.6M144.8 83h.6M146.2 83h.6M105.2 83.8h.6M108 83.7h.6M112.5 83.6h.6M113.1 84.4h.6M114.3 84h.6M116.7 84.3h.6M119 84.4h.6M132.5 84.3h.6M135.4 83.6h.6M135.7 83.7h.6M135.8 83.8h.6M136.6 84.2h.6M136.7 83.8h.6M137 84.4h.6M137 84h.6M137.2 83.7h.6M137.6 83.6h.6M137.6 83.6h.6M137.6 83.7h.6M137.6 83.5h.6M137.7 83.9h.6M137.8 83.7h.6M138.6 83.7h.6M138.6 83.8h.6M138.7 83.8h.6M141.4 84h.6M142.4 84.5h.6M142.9 83.8h.6M144.1 84h.6M107.5 84.5h.6M109.6 84.6h.6M112.7 84.9h.6M112.8 84.6h.6M113.7 84.6h.6M115 84.5h.6M117.5 84.7h.6M135 84.5h.6M135.6 84.6h.6M135.8 85.1h.6M136.7 84.9h.6M136.8 84.9h.6M137.1 84.9h.6M137.8 85.1h.6M138.7 84.8h.6M139 84.7h.6M139.4 84.9h.6M139.8 85h.6M141.3 85h.6M141.7 84.9h.6M143.5 84.8h.6M144 85h.6M144.3 84.7h.6" stroke="#000" stroke-width=".6" fill="none" opacity="1.0"/>
<path d="M146.7 19.4h.6M133.2 30h.6M152.2 33.3h.6M140.9 42.9h.6M137.4 46.5h.6M118.2 54.7h.6M141 56.9h.6M142.1 59.3h.6M110.5 60.4h.6M111.9 61.1h.6M144.8 60.6h.6M146.1 60.7h.6M112.4 61.7h.6M119.3 62.3h.6M109.6 63.4h.6M111.9 63.2h.6M112.8 63h.6M112.8 62.9h.6M114.1 63.4h.6M140.6 63.4h.6M141.6 63.4h.6M142.6 63.1h.6M112.1 63.6h.6M112.9 64.2h.6M119.3 64.1h.6M124 64h.6M133.6 64.4h.6M134.4 64.5h.6M140.3 64.5h.6M142.1 64.5h.6M144 63.5h.6M104.8 65.4h.6M109.2 64.7h.6M110.1 65.1h.6M116 64.8h.6M127.9 64.7h.6M137 64.9h.6M139.3 64.7h.6M141.4 64.8h.6M142.8 64.9h.6M108.5 66.2h.6M109.1 66.1h.6M112.5 66.4h.6M127.7 66.3h.6M132.3 66.2h.6M132.6 66h.6M144.1 66.3h.6M103.7 67.1h.6M117 66.8h.6M135.7 66.7h.6M139.7 67.3h.6M142.1 67.2h.6M147.5 67h.6M147.8 67.3h.6M109.9 67.6h.6M110.2 67.9h.6M111.9 68.2h.6M111.9 67.6h.6M112.8 68.2h.6M122.3 67.5h.6M128.8 68.4h.6M134.1 67.6h.6M136.9 68.1h.6M137.3 68h.6M139.1 67.6h.6M140.8 67.9h.6M142.2 67.9h.6M106.5 68.7h.6M112.9 69.3h.6M128.5 68.6h.6M134.9 69.1h.6M137.3 69.2h.6M137.7 69.3h.6M140.7 68.8h.6M141.5 69.1h.6M145 69.1h.6M145.5 69.3h.6M146.6 68.6h.6M146.6 68.9h.6M149.8 69.5h.6M150.7 68.9h.6M104.3 69.9h.6M106.9 69.9h.6M108.6 70.2h.6M109 70.4h.6M109.5 70.4h.6M111 70.3h.6M111.3 70.2h.6M116.2 70.3h.6M118.8 70.4h.6M130.9 70.3h.6M132.2 69.6h.6M134.9 69.8h.6M136.8 70.3h.6M136.9 69.7h.6M137.3 70.4h.6M137.8 70.5h.6M140.7 70.3h.6M140.9 70.3h.6M142.1 69.7h.6M142.8 70.2h.6M151.3 69.8h.6M152.5 70h.6M107.3 71.2h.6M107.3 70.7h.6M107.4 70.9h.6M108.8 70.9h.6M109.4 71.4h.6M113.9 71.5h.6M115 71.4h.6M119.6 71.2h.6M123.8 71.3h.6M130.3 71.3h.6M131.2 71.4h.6M133.7 71.4h.6M140.6 70.6h.6M141.3 71.4h.6M144 71.1h.6M147.4 70.9h.6M148.1 70.7h.6M149.4 71.4h.6M149.8 70.7h.6M154.6 71.4h.6M103 72.4h.6M109.2 72.4h.6M109.4 72.1h.6M109.6 71.9h.6M112.1 72.4h.6M112.7 72.3h.6M113 71.6h.6M113.6 71.5h.6M114.4 71.8h.6M119.4 71.7h.6M119.6 72.4h.6M121.8 71.6h.6M122.5 72.2h.6M129.1 72h.6M133.9 72.4h.6M135.4 71.7h.6M137.8 72h.6M138.1 72.5h.6M141.9 72.5h.6M146.1 72.1h.6M147.1 72.4h.6M148 71.7h.6M107.7 72.6h.6M109.6 73.2h.6M112.5 73.3h.6M113 72.7h.6M114.2 72.5h.6M121.2 73.4h.6M122.7 73h.6M123.8 73.4h.6M125.4 72.8h.6M125.8 72.9h.6M132.8 73.2h.6M140.6 73h.6M143 73.2h.6M144.4 72.9h.6M147.1 73.4h.6M148.9 73.3h.6M105.3 74h.6M108.8 74.3h.6M109.1 73.6h.6M109.6 73.9h.6M110.3 74.2h.6M115.3 74.3h.6M115.9 74.3h.6M116.7 74.3h.6M117.1 74.1h.6M117.5 73.6h.6M118.1 74h.6M118.1 74.2h.6M120.7 74h.6M122.2 73.5h.6M129.9 73.9h.6M130.7 73.6h.6M136.2 73.9h.6M137.6 73.5h.6M138.1 74h.6M138.6 74.3h.6M139.9 74.1h.6M140.5 74.5h.6M144.9 73.7h.6M146.5 74.4h.6M147.5 74.4h.6M103.9 75.5h.6M104.5 74.5h.6M106.4 75.1h.6M108.1 74.5h.6M108.2 74.6h.6M114.2 75.2h.6M114.2 75.4h.6M116.6 74.8h.6M118.5 74.5h.6M120.5 75.2h.6M123.8 74.6h.6M127.2 75.1h.6M128.3 74.9h.6M130.7 75.3h.6M131.5 74.9h.6M133.2 75.4h.6M133.4 75.3h.6M134.8 74.9h.6M136.3 74.5h.6M137.8 75.4h.6M138.5 75.4h.6M138.6 75h.6M139.1 74.8h.6M139.6 75h.6M141.9 75.5h.6M146.7 74.9h.6M149.1 75.3h.6M151 74.8h.6M158.8 75h.6M106.9 76.2h.6M112.3 76.3h.6M113 76h.6M113 75.6h.6M113.1 75.7h.6M113.9 76.2h.6M114.3 75.6h.6M115.5 75.9h.6M118.5 75.8h.6M118.6 75.9h.6M131.1 76.3h.6M132.2 75.6h.6M132.9 76.5h.6M138.1 76.2h.6M139.1 75.5h.6M140.8 75.8h.6M141.7 76.2h.6M141.9 76h.6M141.9 76h.6M143.3 75.6h.6M143.6 75.9h.6M144.4 76.4h.6M147.4 76.2h.6M147.9 76.2h.6M148.7 76.2h.6M153.6 76.4h.6M155.1 76h.6M155.7 76h.6M164 76.4h.6M105.9 77.1h.6M107.1 77.4h.6M107.8 76.7h.6M113 76.7h.6M113.5 77h.6M115.1 76.7h.6M115.4 76.8h.6M116.4 77h.6M119.6 76.8h.6M121.5 76.5h.6M123.1 76.8h.6M127.2 77.3h.6M130.7 76.6h.6M136.2 77.1h.6M137.5 77.4h.6M139.3 77h.6M140.5 77.2h.6M140.9 77.1h.6M145.1 77.3h.6M152.2 77.3h.6M112.1 78.5h.6M112.3 77.7h.6M115.2 78.1h.6M117.5 78.5h.6M119.3 78.1h.6M134.7 77.8h.6M137.4 77.7h.6M139.8 77.9h.6M140.6 77.7h.6M141 77.6h.6M143.4 77.5h.6M144.8 78.2h.6M147.1 77.7h.6M107.7 78.5h.6M108.8 79.3h.6M124.1 78.7h.6M132.9 78.6h.6M134.4 79.1h.6M134.6 79.1h.6M142.7 79.5h.6M145.3 78.8h.6M146.1 78.6h.6M103.6 79.8h.6M107.3 80.1h.6M111.3 80.3h.6M111.5 80.1h.6M114.1 80.2h.6M114.6 79.7h.6M116.1 79.6h.6M117 79.5h.6M132.8 79.6h.6M145.8 79.6h.6M104.1 81h.6M105.4 81h.6M105.5 80.6h.6M112.7 80.8h.6M112.7 81.3h.6M114.9 81.2h.6M116.1 80.6h.6M118 81.5h.6M133.8 80.8h.6M136.7 80.5h.6M137.1 81.2h.6M138.8 81.1h.6M139 80.9h.6M150.6 80.8h.6M111.2 81.9h.6M122.4 81.5h.6M123.1 82.2h.6M132.9 81.6h.6M134.4 81.9h.6M141.3 81.8h.6M151.1 81.6h.6M116.1 82.6h.6M126.8 82.8h.6M134.6 82.8h.6M135.8 82.9h.6M141.7 83.1h.6M144.1 83.1h.6M146 83.4h.6M158.1 83.3h.6M107.5 83.8h.6M122.7 84.2h.6M142.7 83.9h.6M145.4 84.2h.6M151 84.4h.6M165 84.5h.6M104.9 84.8h.6M108 84.9h.6M113.2 84.6h.6M117.1 84.9h.6M118.6 84.6h.6M118.9 84.9h.6M121.9 84.7h.6M122.4 84.8h.6M123.3 84.8h.6M124.2 84.6h.6M128.6 85.1h.6M129.1 85.1h.6M131.5 85.1h.6M137.1 84.8h.6M137.8 85h.6M139.6 84.7h.6M140.2 84.9h.6M144.3 84.9h.6M144.4 85h.6M144.4 85h.6M144.7 84.8h.6M144.7 84.6h.6M148.9 85.1h.6M153.4 84.8h.6M153.7 84.7h.6M153.7 84.7h.6M155.9 85.1h.6M156.1 84.9h.6M157.1 84.8h.6M157.4 84.7h.6M161.2 84.7h.6M163.5 85h.6M163.8 85.1h.6M166.4 85h.6M166.5 84.6h.6M170.1 84.8h.6M172.5 84.7h.6M175.8 84.7h.6" stroke="#777" stroke-width=".6" fill="none" opacity="1.0"/>
</g></g>
<rect x="102.4" y="10.6" width="75.2" height="75.2" fill="none" stroke="#999" stroke-width=".55"/>
<path d="M102.4 10.6V85.8" stroke="#666" stroke-width=".55" fill="none"/>
<path d="M125.7 10.6V85.8M102.4 57.5H177.6" stroke="#666" stroke-width=".55" fill="none"/>
<path d="M102.4 29h-1.2M102.4 48h-1.2M102.4 67h-1.2" stroke="#777" stroke-width=".5"/>
<text x="105.7" y="17.2" font-size="6.3" font-weight="bold" text-anchor="start" fill="#111" stroke="#111" stroke-width=".2">0.02%</text>
<text x="176" y="17.2" font-size="6.3" font-weight="bold" text-anchor="end" fill="#111" stroke="#111" stroke-width=".2">0.07%</text>
<text x="136" y="4.8" font-size="6.45" font-weight="bold" text-anchor="middle" fill="#111" stroke="#111" stroke-width=".2">DC</text>
<g clip-path="url(#d1)"><g filter="url(#soft)">
<ellipse cx="199.6" cy="73.9" rx="10.6" ry="12.4" fill="url(#haze1)" opacity="0.75"/>
<ellipse cx="220.2" cy="75.8" rx="8.8" ry="11.2" fill="url(#core1)"/>
<path d="M206.8 57.1h.6M196.9 59.2h.6M201.6 58.6h.6M195.8 60.3h.6M199.9 60.3h.6M203.6 60.4h.6M210 60.1h.6M194.7 60.8h.6M200.1 61.3h.6M201.5 61.2h.6M216.1 60.8h.6M192.2 62.5h.6M192.3 61.9h.6M196.1 61.7h.6M196.2 62.4h.6M198.9 61.6h.6M199.1 62.3h.6M204.1 62.3h.6M204.9 62h.6M220.2 62.2h.6M199.4 62.7h.6M203.8 62.9h.6M214.9 63h.6M220.7 62.7h.6M224.3 62.9h.6M224.5 62.6h.6M225.7 62.9h.6M226.8 62.5h.6M191.6 63.7h.6M196 64.5h.6M198 64.5h.6M198.7 63.8h.6M200.5 63.5h.6M201 63.7h.6M201.4 64.3h.6M203.2 64.3h.6M204.9 64.3h.6M205.5 63.6h.6M212.8 64.2h.6M220.5 63.8h.6M220.8 64.3h.6M221.6 63.9h.6M221.6 63.9h.6M223.5 63.6h.6M190.9 64.9h.6M194 64.5h.6M196.1 65.3h.6M197.1 64.8h.6M197.6 64.7h.6M199.2 64.6h.6M199.2 64.6h.6M199.4 65.3h.6M199.4 64.7h.6M199.5 64.7h.6M201.2 65.2h.6M202.1 65.4h.6M203.6 65.3h.6M203.7 65.1h.6M203.9 65.5h.6M205.4 65.3h.6M214.8 65.1h.6M215.2 65.3h.6M215.3 64.7h.6M218.9 64.8h.6M219.7 65h.6M219.8 65.2h.6M220.7 64.9h.6M221.6 65.4h.6M221.8 65.4h.6M221.8 65.2h.6M221.8 65.5h.6M222.3 65h.6M223.4 64.9h.6M224.4 64.7h.6M226.1 65.2h.6M226.5 65h.6M227 65h.6M190.2 65.9h.6M192.2 65.6h.6M192.3 66.4h.6M192.5 66.1h.6M195.6 66.2h.6M195.7 65.6h.6M196.1 66.2h.6M198.5 66h.6M198.6 65.8h.6M201.9 66.1h.6M202.2 66h.6M202.6 66h.6M202.7 65.5h.6M207.6 66.3h.6M208.1 65.7h.6M212.5 65.9h.6M215.1 65.6h.6M216.1 65.8h.6M217 65.9h.6M218 66.3h.6M218.5 66.3h.6M219 65.9h.6M219 65.6h.6M219.3 65.9h.6M219.4 66.2h.6M219.8 65.9h.6M219.9 65.7h.6M220.1 65.8h.6M220.7 66.5h.6M220.9 66h.6M221.4 66.3h.6M221.5 66.2h.6M222.2 66.5h.6M222.5 65.9h.6M223.3 66.2h.6M223.5 66.4h.6M224.2 66.2h.6M225.3 66.2h.6M226.2 66.3h.6M231.7 65.8h.6M191.7 66.9h.6M192.5 67.2h.6M192.9 66.7h.6M194.3 67.1h.6M194.7 67.2h.6M194.9 66.8h.6M195.2 67.1h.6M195.2 67.1h.6M195.9 67.1h.6M196.6 67.2h.6M197 67.4h.6M198.6 67.4h.6M199.7 67.2h.6M200.4 67.4h.6M200.6 66.7h.6M200.8 66.6h.6M202 66.7h.6M202 66.6h.6M202.1 66.7h.6M202.5 66.8h.6M203.5 67h.6M204.1 67.5h.6M205.2 66.5h.6M206.7 67.3h.6M208.3 67.3h.6M208.4 67h.6M210.2 66.8h.6M215.7 67.2h.6M216.1 66.8h.6M217.1 67.1h.6M217.2 66.7h.6M217.4 67.5h.6M218.4 67.5h.6M218.4 67.1h.6M218.5 66.8h.6M218.7 66.8h.6M219.2 66.8h.6M219.4 66.7h.6M219.9 67.2h.6M220.4 67.3h.6M220.5 66.8h.6M220.6 67.4h.6M220.6 67.3h.6M220.7 66.7h.6M220.8 66.8h.6M221.3 67.2h.6M221.4 66.6h.6M221.8 66.7h.6M222.3 66.9h.6M222.6 66.7h.6M222.8 67h.6M224.2 66.7h.6M224.4 66.7h.6M226.2 66.9h.6M227.2 67.3h.6M190.4 68h.6M192.1 67.8h.6M193.3 68h.6M194.3 68.4h.6M194.4 67.8h.6M195 68.4h.6M195 68.4h.6M196.6 67.5h.6M196.9 67.7h.6M198.1 68.4h.6M198.3 68.1h.6M199 68.1h.6M199.3 68h.6M199.7 68.1h.6M199.8 67.7h.6M200.2 67.7h.6M200.5 68.1h.6M200.9 68.3h.6M201.4 67.6h.6M201.7 67.9h.6M202.1 68.3h.6M202.7 67.9h.6M202.7 68.4h.6M203.4 68.3h.6M203.8 67.6h.6M203.8 68.1h.6M204.3 67.7h.6M204.6 68.3h.6M204.8 68.2h.6M205.3 67.6h.6M207.8 68.2h.6M214.3 68.4h.6M214.3 67.6h.6M214.7 68.5h.6M214.8 67.9h.6M215 68.1h.6M215.9 67.8h.6M216 68h.6M216.3 68.2h.6M216.6 67.8h.6M217.1 68.1h.6M217.4 68.4h.6M217.8 67.6h.6M218 68.4h.6M218.4 67.6h.6M218.4 68h.6M218.4 67.9h.6M218.5 68.1h.6M219.1 67.7h.6M219.2 67.5h.6M219.2 67.7h.6M219.7 68.4h.6M219.7 68.1h.6M220 68.2h.6M220.2 67.8h.6M220.6 68.1h.6M220.6 68.2h.6M220.7 68.1h.6M220.8 67.7h.6M221 68.1h.6M221.1 68.3h.6M221.2 68h.6M221.5 67.5h.6M221.7 68.2h.6M221.7 68.2h.6M222 68.3h.6M222.2 67.6h.6M222.3 68h.6M222.7 67.7h.6M223 67.6h.6M223.6 67.6h.6M223.6 67.9h.6M223.8 68h.6M224 68.4h.6M225.4 67.9h.6M229.2 67.6h.6M230.1 67.9h.6M230.4 68.1h.6M190.4 69.2h.6M192.1 69.4h.6M193.6 69.1h.6M193.7 68.6h.6M194.5 69h.6M195.5 68.6h.6M196.8 69h.6M196.8 69.1h.6M197.2 68.8h.6M197.4 69h.6M197.7 69.3h.6M198.1 69.3h.6M198.2 69.1h.6M198.3 68.5h.6M198.4 68.8h.6M198.5 69h.6M198.8 68.9h.6M198.9 69.5h.6M199 68.6h.6M199.2 69.2h.6M199.4 69.4h.6M199.6 69.1h.6M200.1 68.8h.6M200.2 69.1h.6M200.5 68.5h.6M200.8 68.6h.6M201.7 69.2h.6M202.3 68.7h.6M202.3 69.2h.6M202.6 68.8h.6M202.9 69.3h.6M203.5 69.2h.6M204.2 68.6h.6M204.8 69h.6M205 68.5h.6M205.1 69h.6M205.5 69h.6M206 69.3h.6M206.6 68.9h.6M207.2 68.6h.6M210.7 69.4h.6M212.6 68.9h.6M213.3 69.2h.6M214.1 69.3h.6M215.9 68.7h.6M216 68.6h.6M216.1 68.8h.6M216.5 69.4h.6M216.7 69.3h.6M216.8 69.2h.6M216.9 68.8h.6M217.1 68.5h.6M217.1 69.2h.6M217.6 69h.6M217.7 68.8h.6M218 69.4h.6M218 69h.6M218.3 68.7h.6M218.4 68.6h.6M218.5 69h.6M219.1 68.6h.6M219.1 68.7h.6M219.3 69.2h.6M219.5 69.5h.6M219.7 68.9h.6M219.9 69.3h.6M219.9 69.3h.6M220.2 69.2h.6M220.2 69h.6M220.3 68.9h.6M220.3 68.8h.6M220.5 68.8h.6M220.6 68.9h.6M220.8 69.2h.6M221.1 68.8h.6M221.7 69.2h.6M221.8 69h.6M221.8 69.1h.6M222.2 68.6h.6M222.3 68.8h.6M223 68.8h.6M223.2 69.3h.6M223.2 68.8h.6M223.2 69.2h.6M223.4 68.7h.6M223.5 69.3h.6M223.5 68.5h.6M224.1 69h.6M224.8 68.7h.6M225 68.9h.6M225.3 69.1h.6M225.6 68.6h.6M226.1 68.5h.6M226.1 69.2h.6M226.3 69h.6M226.4 68.8h.6M226.5 69.3h.6M227.6 69.4h.6M227.9 69.3h.6M192.6 69.6h.6M192.8 69.8h.6M193.3 69.7h.6M193.5 69.8h.6M194 70h.6M194.2 69.9h.6M194.7 69.7h.6M195.3 70.3h.6M195.3 70.1h.6M195.4 70.2h.6M195.6 69.7h.6M196.3 69.8h.6M196.7 70.1h.6M197 69.6h.6M197.1 70.4h.6M197.6 69.7h.6M197.6 69.5h.6M197.9 70.2h.6M197.9 70.3h.6M199.5 69.9h.6M200.2 70.4h.6M200.4 69.9h.6M200.6 70.1h.6M200.8 70.4h.6M200.8 69.8h.6M200.9 69.6h.6M201 70h.6M201.4 70h.6M201.5 69.8h.6M202.3 69.8h.6M202.5 69.8h.6M202.6 70.1h.6M202.6 70h.6M202.6 69.6h.6M203.2 70h.6M203.5 69.7h.6M203.8 70h.6M204 69.6h.6M204.2 70.3h.6M204.7 69.8h.6M205.3 69.7h.6M207.8 70.3h.6M209.1 70.1h.6M211.3 70h.6M213.2 70.3h.6M213.3 70.3h.6M213.6 70.3h.6M214.1 70.1h.6M215.5 69.5h.6M216.1 69.7h.6M216.4 70.3h.6M217 69.5h.6M217 70.2h.6M217.2 70.3h.6M217.5 69.7h.6M217.6 70h.6M217.8 69.8h.6M217.8 69.8h.6M217.9 70h.6M218 69.5h.6M218.1 69.8h.6M218.1 70.1h.6M218.2 69.7h.6M218.7 70.2h.6M218.9 70.1h.6M219 69.6h.6M219 70.1h.6M219.1 70.2h.6M219.1 69.6h.6M219.3 70.2h.6M219.6 70.4h.6M219.6 69.8h.6M219.7 69.8h.6M219.8 69.6h.6M219.8 70.1h.6M219.8 70.3h.6M219.8 69.7h.6M220 70h.6M220.1 70.1h.6M220.1 69.8h.6M220.2 70.2h.6M220.3 70.5h.6M220.3 70.1h.6M220.3 70.5h.6M220.3 70h.6M220.4 70.3h.6M220.5 69.8h.6M220.6 69.7h.6M220.6 69.6h.6M220.6 70.2h.6M220.7 70.1h.6M220.8 69.9h.6M220.8 70.5h.6M220.8 70.2h.6M220.9 69.8h.6M221 69.7h.6M221.2 70.4h.6M221.2 70.1h.6M221.2 70.3h.6M221.3 69.9h.6M221.3 69.6h.6M221.4 69.5h.6M221.4 69.7h.6M221.6 70.3h.6M221.6 69.6h.6M221.6 69.8h.6M221.6 69.6h.6M222 70.4h.6M222.2 70.4h.6M222.4 70.4h.6M222.5 69.8h.6M222.8 70.1h.6M223.2 70.4h.6M223.3 70.2h.6M223.4 70.3h.6M223.5 70.1h.6M223.6 70.1h.6M223.7 69.8h.6M224.1 70.2h.6M224.1 69.9h.6M224.1 69.9h.6M224.3 70.4h.6M224.6 70h.6M224.6 69.8h.6M224.8 69.7h.6M224.9 70.2h.6M225 70.4h.6M225.1 70.4h.6M225.4 70.2h.6M226.1 69.5h.6M190.3 70.8h.6M191.1 71.1h.6M192.5 70.5h.6M192.7 71.4h.6M193 71.1h.6M193.2 70.8h.6M193.3 71.1h.6M194.1 71.4h.6M194.8 71h.6M194.8 71.4h.6M195.4 71.1h.6M195.5 71h.6M195.5 71h.6M195.7 70.8h.6M196.2 71.5h.6M196.3 71.3h.6M196.5 70.6h.6M196.6 70.8h.6M196.6 71.1h.6M196.8 70.7h.6M196.9 71.3h.6M197 71.3h.6M197.2 71.3h.6M197.4 70.6h.6M197.6 70.6h.6M197.7 71.5h.6M197.8 70.6h.6M198.6 70.7h.6M198.8 71.4h.6M198.9 71.4h.6M199.1 70.7h.6M199.2 70.7h.6M199.4 71.1h.6M199.5 71.2h.6M199.5 71h.6M199.5 70.9h.6M199.7 70.8h.6M199.7 71.4h.6M200 70.7h.6M200.8 70.6h.6M200.8 71.2h.6M201.2 70.8h.6M201.4 70.7h.6M201.7 71.4h.6M201.8 71.3h.6M202 71.4h.6M202.5 70.9h.6M202.6 71.4h.6M202.7 70.9h.6M204.1 71.2h.6M204.4 71.2h.6M204.8 71.2h.6M206 71.2h.6M206 70.7h.6M206.7 71.4h.6M208.3 71.1h.6M208.8 71h.6M210.8 70.7h.6M211.6 71.1h.6M214.6 70.6h.6M214.8 70.7h.6M215 70.9h.6M215.2 70.6h.6M215.3 71.3h.6M215.4 70.9h.6M216 70.7h.6M216 71.3h.6M216.1 71.4h.6M216.3 71h.6M216.3 71.2h.6M216.6 70.9h.6M216.7 70.7h.6M216.8 71.5h.6M216.9 71.1h.6M217 71.2h.6M217.1 70.8h.6M217.3 70.8h.6M217.6 70.9h.6M217.6 71h.6M217.6 71h.6M217.8 71.2h.6M217.8 71h.6M217.9 71.3h.6M218 70.6h.6M218.7 71.3h.6M218.8 70.9h.6M218.9 71h.6M219 70.7h.6M219 71.4h.6M219 71h.6M219.2 71.3h.6M219.2 71.1h.6M219.3 70.8h.6M219.6 70.9h.6M219.7 71.2h.6M219.7 71.2h.6M219.7 70.9h.6M219.8 71.4h.6M220 71.4h.6M220.1 70.9h.6M220.1 70.5h.6M220.2 71.4h.6M220.3 71.4h.6M220.7 71.3h.6M220.8 71.2h.6M220.9 71.1h.6M221 71.3h.6M221.1 71.2h.6M221.2 70.9h.6M221.2 70.9h.6M221.3 70.9h.6M221.4 71.4h.6M221.9 71h.6M221.9 70.9h.6M221.9 71.3h.6M222.1 70.7h.6M222.5 71.2h.6M222.6 70.6h.6M222.9 71h.6M223 70.6h.6M223 70.8h.6M223.2 71.2h.6M223.3 70.8h.6M223.5 70.6h.6M223.5 70.7h.6M223.5 71.4h.6M223.5 71.1h.6M223.6 70.9h.6M223.7 71.1h.6M223.7 70.8h.6M223.9 71h.6M224.5 71h.6M224.6 71.2h.6M224.7 70.7h.6M224.7 71.1h.6M225.3 70.7h.6M225.6 71.3h.6M226.4 70.5h.6M226.7 71.1h.6M227 70.7h.6M227.8 71.2h.6M228.3 70.9h.6M191.6 71.8h.6M192 72.2h.6M192.5 72.4h.6M192.6 71.6h.6M194.3 72.1h.6M194.4 72h.6M195.8 72h.6M196.1 71.6h.6M196.2 72.4h.6M196.7 72.4h.6M196.7 72.2h.6M196.7 71.8h.6M197.1 72.2h.6M197.3 71.9h.6M197.7 72.1h.6M197.9 71.7h.6M198 72.4h.6M198.3 71.7h.6M198.6 71.6h.6M198.8 71.5h.6M199.2 72h.6M199.2 71.8h.6M199.4 72.5h.6M199.9 71.6h.6M200.6 72.1h.6M201 72.2h.6M201.2 71.9h.6M201.3 72.1h.6M202 72.5h.6M202.6 71.6h.6M203 71.8h.6M203 71.9h.6M203.5 72.3h.6M204.1 71.8h.6M204.5 72.3h.6M204.7 71.7h.6M206.2 71.9h.6M206.4 72.3h.6M206.5 72.3h.6M207.4 71.5h.6M209.8 71.5h.6M210.6 72.1h.6M214.7 71.9h.6M214.7 71.8h.6M215.4 72.5h.6M215.6 72.4h.6M215.7 72.5h.6M215.9 72.1h.6M216.1 72.4h.6M216.2 71.7h.6M216.3 71.9h.6M216.6 72.3h.6M216.7 71.8h.6M216.8 72.5h.6M216.9 72.3h.6M217.2 72.4h.6M217.4 72.5h.6M217.5 71.7h.6M217.6 71.9h.6M217.7 72.1h.6M217.8 72h.6M217.9 71.9h.6M218 71.8h.6M218 71.8h.6M218.1 72.2h.6M218.1 71.7h.6M218.2 72.2h.6M218.2 72.1h.6M218.3 72.3h.6M218.5 72.3h.6M218.5 71.7h.6M218.8 72.2h.6M218.9 72.1h.6M219.2 72h.6M219.3 71.6h.6M219.3 72.4h.6M219.3 72.4h.6M219.4 72.2h.6M219.6 71.6h.6M219.6 72.3h.6M219.8 72.2h.6M219.9 72.2h.6M219.9 72.2h.6M219.9 72.2h.6M220 72.3h.6M220 72.4h.6M220.1 71.8h.6M220.2 71.9h.6M220.4 71.8h.6M220.5 72.1h.6M220.6 72.3h.6M220.7 72.3h.6M220.7 71.5h.6M221 71.7h.6M221 72.2h.6M221.1 72.5h.6M221.2 71.9h.6M221.2 72.3h.6M221.2 72.1h.6M221.4 71.6h.6M221.5 72.4h.6M221.5 71.9h.6M221.6 71.7h.6M221.6 71.7h.6M221.7 71.5h.6M221.8 71.7h.6M221.8 72.1h.6M222.1 72.4h.6M222.1 71.8h.6M222.3 72.4h.6M222.4 72.1h.6M222.7 71.7h.6M222.7 71.8h.6M222.8 71.9h.6M223 71.8h.6M223.1 71.6h.6M223.1 71.8h.6M223.1 72.2h.6M223.1 71.5h.6M223.2 71.6h.6M223.2 72.5h.6M223.3 71.8h.6M223.3 71.6h.6M223.3 71.7h.6M223.4 72.1h.6M223.5 72.1h.6M223.5 72h.6M223.6 72.4h.6M223.6 71.7h.6M223.6 72.2h.6M223.7 72.3h.6M223.8 72.3h.6M223.9 72h.6M224.1 72.3h.6M224.3 71.9h.6M224.4 72.4h.6M224.5 71.8h.6M224.7 72.2h.6M225.1 72.2h.6M225.3 72.4h.6M225.3 72.3h.6M226.4 71.9h.6M227 72.2h.6M227.8 71.7h.6M230.4 71.8h.6M190.3 73.1h.6M191.3 73.4h.6M191.8 72.5h.6M192.4 72.7h.6M192.8 72.9h.6M192.9 73.3h.6M193 73.1h.6M193.2 73.4h.6M193.3 73h.6M193.4 73.4h.6M193.7 73.2h.6M193.9 73h.6M194.2 73.4h.6M194.6 73.3h.6M195.2 73.3h.6M195.3 72.7h.6M195.6 73.5h.6M196.1 72.9h.6M196.9 73.2h.6M196.9 72.9h.6M197.1 72.7h.6M197.5 72.6h.6M197.9 72.9h.6M198 72.8h.6M198.2 73h.6M198.2 73.5h.6M198.4 72.8h.6M198.4 72.5h.6M198.8 72.6h.6M198.8 73.1h.6M199.1 73.1h.6M199.3 73.1h.6M199.4 72.9h.6M199.4 73h.6M200 73h.6M200.1 73.1h.6M200.1 72.7h.6M200.3 73.4h.6M200.4 73.4h.6M200.5 72.9h.6M200.7 73.2h.6M200.8 72.8h.6M200.8 73.1h.6M201 73h.6M201.8 73.1h.6M202.5 72.8h.6M203.4 72.9h.6M203.5 73h.6M203.7 73.2h.6M204.2 72.9h.6M205 72.6h.6M205.9 72.6h.6M206.3 73.4h.6M206.6 72.8h.6M206.6 73.2h.6M206.9 73.2h.6M208.4 72.9h.6M209.2 73.2h.6M210.7 72.6h.6M211.2 73.1h.6M211.5 73.5h.6M211.9 72.8h.6M211.9 72.5h.6M212.7 72.9h.6M214.4 72.8h.6M214.9 72.8h.6M215.1 72.5h.6M215.1 72.8h.6M215.3 73.4h.6M215.4 73.4h.6M215.5 73.3h.6M215.6 72.7h.6M215.7 73.4h.6M215.7 72.8h.6M215.8 73.2h.6M216 73.1h.6M216.2 72.9h.6M216.3 72.8h.6M216.5 73h.6M216.8 73h.6M217.1 73h.6M217.1 73.2h.6M217.1 72.7h.6M217.1 73.1h.6M217.3 72.6h.6M217.4 73.1h.6M217.5 72.9h.6M217.8 73.2h.6M217.9 72.7h.6M217.9 73.4h.6M218.1 73h.6M218.1 72.5h.6M218.2 73.1h.6M218.2 73.1h.6M218.2 73.5h.6M218.2 73.4h.6M218.3 72.8h.6M218.5 73.3h.6M218.5 72.8h.6M218.5 72.6h.6M218.6 73.4h.6M218.6 72.7h.6M218.7 73h.6M218.8 73.4h.6M218.8 72.7h.6M218.8 73.2h.6M218.8 72.9h.6M219 72.7h.6M219 73.2h.6M219.1 73h.6M219.1 73.3h.6M219.2 72.6h.6M219.2 72.8h.6M219.3 72.8h.6M219.3 72.8h.6M219.4 73h.6M219.4 73.4h.6M219.4 73.1h.6M219.5 72.8h.6M219.6 72.8h.6M219.6 72.6h.6M219.6 72.8h.6M219.6 72.6h.6M219.7 73.2h.6M220 72.6h.6M220.1 72.8h.6M220.1 72.5h.6M220.1 73h.6M220.2 73.3h.6M220.2 72.9h.6M220.4 73.2h.6M220.5 73.5h.6M220.7 72.8h.6M220.8 73.4h.6M220.9 73.5h.6M221 73.1h.6M221 72.8h.6M221.1 72.9h.6M221.1 73.1h.6M221.1 72.8h.6M221.2 73.3h.6M221.2 72.6h.6M221.3 73.2h.6M221.3 72.8h.6M221.4 72.7h.6M221.4 73h.6M221.4 73.5h.6M221.5 72.7h.6M221.5 73h.6M221.6 72.6h.6M221.6 73.5h.6M221.6 72.5h.6M221.8 73h.6M221.8 73.5h.6M221.9 73.3h.6M221.9 72.8h.6M222 73.3h.6M222.1 73.4h.6M222.1 73.4h.6M222.1 72.8h.6M222.2 73.5h.6M222.2 73.1h.6M222.2 72.7h.6M222.3 73h.6M222.4 72.6h.6M222.5 72.9h.6M222.6 73.3h.6M222.7 73.4h.6M222.8 73.3h.6M222.8 73.1h.6M223.2 73.4h.6M223.6 73.4h.6M223.6 72.8h.6M223.7 72.7h.6M223.8 72.8h.6M223.9 72.8h.6M224.2 72.6h.6M224.7 73.1h.6M224.9 72.7h.6M225 72.6h.6M225.1 73.2h.6M225.4 73.1h.6M226.8 73.2h.6M226.8 73.1h.6M227.9 73.2h.6M228.1 73.3h.6M229.3 73h.6M193 73.5h.6M193 73.7h.6M193.5 74.5h.6M193.5 73.8h.6M194.3 74.3h.6M194.4 74.4h.6M194.8 73.7h.6M195.3 74.3h.6M195.4 74.1h.6M195.5 74.4h.6M196 74h.6M196.5 74.3h.6M196.7 73.8h.6M196.9 73.9h.6M196.9 74.2h.6M197 73.8h.6M197 73.6h.6M197.1 74.1h.6M197.6 74.2h.6M197.7 74.4h.6M198.2 73.8h.6M198.6 73.5h.6M198.7 74.1h.6M199.2 73.8h.6M199.4 73.9h.6M199.4 74.4h.6M199.6 73.8h.6M199.8 74.4h.6M199.9 73.6h.6M199.9 74.5h.6M200 73.9h.6M200.1 73.7h.6M200.1 74.5h.6M200.6 73.7h.6M200.8 73.9h.6M201 73.7h.6M201.1 73.7h.6M201.4 74.1h.6M201.8 73.8h.6M202 73.7h.6M202 74h.6M202.2 74h.6M202.2 73.8h.6M202.7 74.4h.6M203.5 73.8h.6M204 73.8h.6M204 73.7h.6M204.2 74h.6M205.4 74.1h.6M205.7 73.9h.6M205.7 73.7h.6M206.1 73.6h.6M207.4 73.9h.6M207.7 73.6h.6M208.4 74.3h.6M209.9 74h.6M210.9 73.6h.6M212 74.2h.6M212.5 73.5h.6M213.2 74.2h.6M213.9 74.2h.6M214.2 74h.6M215.2 73.5h.6M215.2 74.2h.6M215.3 74.5h.6M215.3 74.2h.6M215.4 74.3h.6M215.4 73.7h.6M215.4 73.6h.6M215.4 74h.6M215.7 74.4h.6M215.9 74.4h.6M216.1 73.5h.6M216.2 73.9h.6M216.4 73.6h.6M216.4 73.7h.6M216.4 73.9h.6M216.5 74.4h.6M216.6 74.4h.6M216.8 73.8h.6M216.8 74.3h.6M216.8 74h.6M217.1 73.6h.6M217.1 73.7h.6M217.2 74.2h.6M217.2 73.8h.6M217.3 74.4h.6M217.3 74.3h.6M217.4 73.8h.6M217.4 74.5h.6M217.5 73.5h.6M217.7 74.3h.6M217.7 74h.6M217.7 74.4h.6M217.8 74h.6M217.9 74h.6M217.9 73.9h.6M217.9 74.1h.6M218.1 73.5h.6M218.1 73.8h.6M218.1 74.3h.6M218.2 73.8h.6M218.2 73.8h.6M218.4 74.1h.6M218.4 74h.6M218.5 73.9h.6M218.5 74.4h.6M218.6 74.5h.6M218.7 73.6h.6M218.7 74.5h.6M218.9 74.2h.6M219 73.8h.6M219 74.3h.6M219 74h.6M219.1 73.8h.6M219.1 74.4h.6M219.2 73.6h.6M219.2 74.2h.6M219.3 74.4h.6M219.3 74.3h.6M219.4 73.9h.6M219.5 74.4h.6M219.5 74.5h.6M219.5 74.1h.6M219.6 73.6h.6M219.7 74.2h.6M219.7 74.4h.6M219.7 73.8h.6M219.8 73.5h.6M219.8 74.4h.6M219.9 73.8h.6M219.9 74.1h.6M219.9 74.3h.6M219.9 73.8h.6M220 74.2h.6M220.2 73.6h.6M220.2 74.4h.6M220.2 74.2h.6M220.5 73.5h.6M220.5 73.7h.6M220.5 74.4h.6M220.6 73.8h.6M220.6 74.4h.6M220.6 74.5h.6M220.7 73.6h.6M220.7 74.4h.6M220.7 74.3h.6M220.9 73.9h.6M221 73.5h.6M221 73.6h.6M221 73.8h.6M221.1 73.6h.6M221.1 73.7h.6M221.1 74.5h.6M221.1 73.5h.6M221.2 74.4h.6M221.3 73.5h.6M221.3 74.4h.6M221.4 73.6h.6M221.6 73.6h.6M221.7 74.2h.6M221.7 74.2h.6M221.9 74.2h.6M221.9 74.1h.6M222 73.7h.6M222.1 74h.6M222.2 73.5h.6M222.2 74h.6M222.3 74h.6M222.3 74.2h.6M222.4 73.6h.6M222.5 73.8h.6M222.5 74.3h.6M222.6 74h.6M222.7 73.8h.6M222.7 73.6h.6M222.8 74.3h.6M222.8 73.8h.6M222.8 74.1h.6M222.9 73.9h.6M222.9 73.9h.6M223 74.2h.6M223 74.1h.6M223.1 73.5h.6M223.1 73.6h.6M223.1 74.5h.6M223.1 74h.6M223.2 74.3h.6M223.3 73.6h.6M223.4 74.1h.6M223.4 73.9h.6M223.7 73.8h.6M224 73.8h.6M224.2 73.6h.6M224.3 73.8h.6M224.4 74.2h.6M224.4 74.1h.6M224.5 73.7h.6M224.5 73.8h.6M224.6 73.6h.6M224.8 74.5h.6M224.9 73.5h.6M225.7 74.1h.6M225.8 74.4h.6M225.9 74.2h.6M226.1 74.3h.6M226.2 74h.6M226.7 74.3h.6M227.9 74.3h.6M228.2 74.2h.6M228.8 74.1h.6M229.9 73.7h.6M232.4 73.5h.6M190.6 75.2h.6M191.9 74.8h.6M192.6 75.3h.6M192.7 75.1h.6M193.7 75.1h.6M194.3 74.5h.6M194.3 74.6h.6M194.4 74.7h.6M194.5 75.1h.6M194.5 75.5h.6M194.7 74.6h.6M195.5 74.6h.6M195.6 75h.6M196.2 74.9h.6M196.5 74.7h.6M196.6 74.7h.6M197.2 75.1h.6M197.8 75h.6M197.8 74.8h.6M197.9 75.5h.6M197.9 74.9h.6M198 74.5h.6M198 74.9h.6M198.1 75h.6M198.3 74.8h.6M198.3 74.9h.6M198.4 75.2h.6M198.5 74.9h.6M198.8 75.3h.6M199.3 74.6h.6M199.4 74.7h.6M199.7 74.5h.6M200.2 74.5h.6M200.4 74.7h.6M200.5 74.6h.6M200.5 75.2h.6M200.6 74.6h.6M200.8 75.3h.6M201.1 74.8h.6M201.2 75.2h.6M201.6 75.3h.6M202.3 74.9h.6M202.7 74.6h.6M202.8 74.8h.6M203 75.3h.6M203.5 74.8h.6M203.6 75.4h.6M203.7 74.9h.6M204.2 74.5h.6M204.5 74.6h.6M206.1 74.9h.6M206.1 75.4h.6M206.4 75.3h.6M207.8 75h.6M208.2 75.3h.6M209.6 75.3h.6M212.7 75.3h.6M213.6 74.8h.6M214.2 74.5h.6M214.8 75.2h.6M215.1 74.9h.6M215.1 74.7h.6M215.3 75.2h.6M215.4 75.4h.6M215.4 75.1h.6M215.8 75.2h.6M216 75.1h.6M216.1 74.7h.6M216.2 75.3h.6M216.3 75.4h.6M216.5 75.3h.6M216.5 74.7h.6M216.7 75.2h.6M217.2 75.5h.6M217.4 74.7h.6M217.4 74.6h.6M217.6 74.6h.6M217.7 74.6h.6M217.7 75h.6M217.8 75.1h.6M217.8 74.8h.6M217.9 75.1h.6M218 74.9h.6M218 75.3h.6M218 75.1h.6M218.1 75.3h.6M218.1 74.6h.6M218.3 74.7h.6M218.5 75.4h.6M218.5 74.9h.6M218.5 74.8h.6M218.6 75.4h.6M218.6 75.1h.6M218.7 74.5h.6M218.8 74.8h.6M218.8 74.5h.6M218.8 74.6h.6M218.8 74.7h.6M218.9 75.3h.6M219 75.5h.6M219 75.4h.6M219 75h.6M219.1 75.5h.6M219.1 75h.6M219.2 74.6h.6M219.2 75.4h.6M219.3 74.7h.6M219.3 75.2h.6M219.3 74.9h.6M219.4 75.5h.6M219.5 74.6h.6M219.5 75.3h.6M219.5 74.5h.6M219.5 75.3h.6M219.5 74.8h.6M219.5 75.3h.6M219.6 74.8h.6M219.6 75.1h.6M219.7 74.8h.6M219.7 75.5h.6M219.7 74.6h.6M219.8 74.9h.6M219.9 74.8h.6M219.9 74.5h.6M219.9 74.5h.6M220.1 74.6h.6M220.2 75.2h.6M220.2 74.8h.6M220.2 75.3h.6M220.3 75h.6M220.3 75.5h.6M220.4 75.1h.6M220.4 75.2h.6M220.4 75.5h.6M220.5 75.1h.6M220.5 74.9h.6M220.5 75h.6M220.5 74.6h.6M220.6 75.5h.6M220.6 74.9h.6M220.6 74.6h.6M220.6 74.7h.6M220.6 75.4h.6M220.7 75.1h.6M220.7 75h.6M220.7 74.8h.6M220.7 75h.6M220.8 75.5h.6M220.8 74.6h.6M220.8 74.7h.6M220.8 75h.6M220.8 74.7h.6M220.8 75.2h.6M220.8 74.9h.6M220.9 75.2h.6M220.9 74.9h.6M221 74.6h.6M221 75.1h.6M221 75.4h.6M221.1 74.8h.6M221.2 74.6h.6M221.3 75h.6M221.3 74.9h.6M221.3 74.6h.6M221.5 74.9h.6M221.5 74.5h.6M221.6 75h.6M221.6 74.7h.6M221.7 74.6h.6M221.7 74.9h.6M221.9 74.7h.6M222.1 75.1h.6M222.1 75.2h.6M222.4 75h.6M222.5 75h.6M222.6 75.3h.6M222.7 75.4h.6M222.8 74.8h.6M222.8 74.5h.6M222.9 74.6h.6M223 74.9h.6M223.2 74.7h.6M223.2 74.6h.6M223.3 75.5h.6M223.4 74.6h.6M223.7 75.1h.6M224 74.8h.6M224 74.7h.6M224.1 75.4h.6M224.1 74.8h.6M224.1 74.7h.6M224.2 75.1h.6M224.3 74.6h.6M224.4 74.5h.6M224.4 74.8h.6M224.7 74.8h.6M225.3 74.9h.6M225.4 74.8h.6M225.5 74.6h.6M226.3 75.4h.6M226.4 74.9h.6M226.4 74.9h.6M226.9 75.1h.6M227.2 75.3h.6M227.4 75.4h.6M227.6 74.9h.6M228.5 75.1h.6M228.7 75.4h.6M229.4 74.7h.6M229.8 74.8h.6M190 75.7h.6M191.3 76.4h.6M191.4 75.9h.6M191.5 76.3h.6M191.7 76.3h.6M193 75.9h.6M193 75.7h.6M195.2 76.3h.6M196.1 76.3h.6M196.4 76h.6M196.5 75.7h.6M196.6 76.3h.6M196.8 76.2h.6M196.8 76h.6M197.1 76.1h.6M197.4 75.6h.6M197.5 75.7h.6M197.5 76.2h.6M198 76.2h.6M198 76.2h.6M198.1 75.9h.6M198.3 76.3h.6M198.4 76h.6M198.5 76.5h.6M198.8 76.5h.6M199 75.8h.6M199.8 76.1h.6M200 75.8h.6M200.1 76.4h.6M200.1 75.6h.6M200.4 75.6h.6M200.6 76.2h.6M201.3 76.1h.6M201.5 76.5h.6M201.6 76.3h.6M201.8 76.3h.6M202.4 76.1h.6M202.6 75.5h.6M202.7 76h.6M202.9 76.2h.6M203.3 76.3h.6M203.4 76h.6M203.7 75.6h.6M204 76.2h.6M204.1 76h.6M204.2 76.4h.6M204.6 75.7h.6M204.8 76.3h.6M205.1 75.9h.6M205.4 75.5h.6M206 76.4h.6M206.7 76.2h.6M207.3 76.4h.6M209.4 75.8h.6M211.1 76.2h.6M211.5 75.6h.6M213.3 75.9h.6M213.6 76h.6M213.6 76h.6M213.8 76.3h.6M213.8 75.8h.6M213.9 76.1h.6M214.3 76h.6M214.3 76.2h.6M214.3 76.5h.6M214.4 75.6h.6M214.4 76.2h.6M214.6 76.1h.6M214.8 75.9h.6M214.9 76.2h.6M214.9 76.2h.6M215 75.7h.6M215 75.8h.6M215.3 75.9h.6M215.4 75.5h.6M215.5 76.1h.6M215.5 76.3h.6M216 76.5h.6M216.2 76.2h.6M216.2 76h.6M216.7 75.6h.6M216.8 76h.6M216.8 76.2h.6M216.8 76.3h.6M217 76.2h.6M217 75.8h.6M217.4 76.4h.6M217.5 75.7h.6M217.7 75.5h.6M217.7 76.3h.6M217.8 75.5h.6M217.8 76.3h.6M218 75.8h.6M218 75.8h.6M218 76.1h.6M218.2 76.3h.6M218.3 75.9h.6M218.4 75.8h.6M218.4 76.2h.6M218.4 76.4h.6M218.4 75.5h.6M218.4 76.5h.6M218.6 76.1h.6M218.6 75.9h.6M218.7 75.9h.6M218.8 75.6h.6M218.8 75.6h.6M218.8 75.7h.6M218.9 76.1h.6M218.9 76.4h.6M218.9 76.3h.6M218.9 76.4h.6M219.1 76.4h.6M219.1 76.1h.6M219.1 75.9h.6M219.1 76.2h.6M219.1 76.2h.6M219.2 75.7h.6M219.3 76.4h.6M219.3 76h.6M219.3 75.7h.6M219.3 76.2h.6M219.3 76h.6M219.3 76.1h.6M219.3 76.3h.6M219.4 76h.6M219.5 76h.6M219.6 76h.6M219.6 76.3h.6M219.7 75.8h.6M219.7 75.6h.6M219.8 76.3h.6M219.8 75.6h.6M219.8 75.5h.6M219.8 75.6h.6M219.8 76.3h.6M220 75.6h.6M220 75.6h.6M220.1 76.3h.6M220.1 76.1h.6M220.1 76.4h.6M220.1 76h.6M220.2 76.3h.6M220.3 75.8h.6M220.3 76.4h.6M220.4 76.1h.6M220.4 75.8h.6M220.5 75.5h.6M220.5 75.6h.6M220.6 75.9h.6M220.6 76h.6M220.6 75.7h.6M220.6 76h.6M220.7 76.1h.6M220.8 76.3h.6M220.8 75.8h.6M220.8 75.6h.6M220.9 76.5h.6M220.9 76.3h.6M220.9 75.8h.6M221.1 76.3h.6M221.4 75.9h.6M221.5 76.3h.6M221.5 76.3h.6M221.6 76.3h.6M221.6 76.2h.6M221.6 76.2h.6M221.8 76.3h.6M221.9 75.7h.6M221.9 75.9h.6M222.1 75.6h.6M222.1 76.5h.6M222.2 76.1h.6M222.2 75.8h.6M222.2 76.1h.6M222.2 76.1h.6M222.3 75.9h.6M222.4 76h.6M222.4 76.3h.6M222.4 76.3h.6M222.4 76h.6M222.5 75.5h.6M222.5 76.1h.6M222.5 76h.6M222.7 75.6h.6M222.7 75.6h.6M222.7 76.2h.6M222.7 76.1h.6M222.8 75.7h.6M222.8 76h.6M222.9 75.7h.6M223 76.2h.6M223 76.5h.6M223.1 75.9h.6M223.2 76.4h.6M223.3 76.5h.6M223.4 75.9h.6M223.6 76.4h.6M224.1 76.3h.6M224.2 76h.6M224.3 75.8h.6M224.3 76.3h.6M224.5 76.1h.6M224.6 75.7h.6M224.7 76.5h.6M224.8 75.5h.6M225 76.4h.6M225 76.3h.6M225.4 76.4h.6M225.5 75.7h.6M225.7 75.7h.6M226 76.4h.6M226.1 76.3h.6M226.2 75.7h.6M227.1 76.2h.6M227.1 75.7h.6M228.7 76.3h.6M228.7 75.9h.6M230.9 76.3h.6M233.9 75.6h.6M190.1 77.3h.6M191.8 77h.6M192.2 77h.6M192.4 76.6h.6M193 77.1h.6M193.4 76.5h.6M194.2 77h.6M194.2 77.5h.6M194.3 77h.6M194.4 77.3h.6M194.8 77.3h.6M195.5 76.6h.6M196.1 76.5h.6M196.2 76.6h.6M196.4 76.8h.6M196.5 77.4h.6M196.5 76.6h.6M196.6 76.6h.6M196.7 76.9h.6M197 76.9h.6M197.2 77h.6M197.7 76.8h.6M197.9 77.4h.6M198.2 76.6h.6M199 76.9h.6M199.4 76.6h.6M199.8 77.4h.6M199.8 77.4h.6M200.1 76.8h.6M200.2 77.4h.6M200.9 77.2h.6M201.1 77.3h.6M201.1 77.2h.6M201.2 77.2h.6M201.6 76.7h.6M201.6 76.9h.6M201.7 77.2h.6M201.9 76.9h.6M203 76.9h.6M203 76.6h.6M203.9 77.3h.6M204.1 76.6h.6M204.8 76.7h.6M206.3 76.6h.6M208 76.7h.6M210.4 76.6h.6M211.4 77.1h.6M211.9 76.9h.6M213.1 77.2h.6M213.9 76.7h.6M213.9 76.8h.6M214.3 77.3h.6M214.5 76.7h.6M215.2 77.1h.6M215.6 77.3h.6M215.8 76.7h.6M215.8 77h.6M215.8 76.9h.6M216 76.7h.6M216.7 76.7h.6M216.7 77.2h.6M217 77.1h.6M217.1 76.7h.6M217.5 77.1h.6M217.5 77h.6M217.6 76.6h.6M217.6 76.9h.6M217.7 76.9h.6M217.7 76.9h.6M217.8 76.7h.6M217.8 76.7h.6M217.9 77.2h.6M218.1 77.4h.6M218.3 77h.6M218.3 77.3h.6M218.3 76.5h.6M218.5 77.2h.6M218.6 76.5h.6M218.6 77.4h.6M218.7 77.2h.6M218.7 77.1h.6M218.9 77.5h.6M218.9 76.8h.6M219 76.9h.6M219 77h.6M219 76.6h.6M219.1 77.3h.6M219.1 76.5h.6M219.1 76.9h.6M219.5 77.2h.6M219.6 76.9h.6M219.6 77.1h.6M219.6 76.6h.6M219.6 77.2h.6M219.7 77.5h.6M219.8 76.8h.6M219.8 76.9h.6M220 76.9h.6M220 76.6h.6M220.2 77.3h.6M220.2 77.4h.6M220.2 76.6h.6M220.2 76.8h.6M220.3 77h.6M220.3 77.4h.6M220.3 77.4h.6M220.6 76.6h.6M220.6 77.1h.6M220.6 77.4h.6M220.8 76.6h.6M220.8 77.2h.6M220.8 77.3h.6M220.9 76.7h.6M221 77.5h.6M221.1 77.3h.6M221.1 77.4h.6M221.1 76.8h.6M221.1 76.8h.6M221.1 76.8h.6M221.2 77h.6M221.2 76.9h.6M221.3 77.3h.6M221.4 77.3h.6M221.4 77.1h.6M221.5 76.6h.6M221.5 76.7h.6M221.5 76.8h.6M221.6 76.6h.6M221.6 77h.6M221.7 77.5h.6M221.8 76.9h.6M221.8 76.6h.6M221.8 77h.6M221.8 77.2h.6M221.8 77.2h.6M221.8 77.3h.6M221.9 76.6h.6M221.9 76.7h.6M221.9 76.6h.6M221.9 77.3h.6M222 77.2h.6M222 77.5h.6M222.1 76.8h.6M222.2 77.4h.6M222.2 76.9h.6M222.3 76.9h.6M222.3 76.7h.6M222.4 76.7h.6M222.5 77h.6M222.5 76.7h.6M222.6 76.7h.6M222.7 76.9h.6M222.7 76.8h.6M222.7 77.3h.6M222.7 76.9h.6M222.8 76.9h.6M222.8 76.6h.6M222.8 77.3h.6M222.9 76.6h.6M223 77h.6M223.1 77.1h.6M223.2 77.3h.6M223.2 77.3h.6M223.5 77.4h.6M223.7 76.9h.6M223.8 76.8h.6M223.8 77.4h.6M224.1 76.7h.6M224.2 77.2h.6M224.3 77h.6M224.5 76.8h.6M224.5 77.2h.6M224.6 77.2h.6M224.7 77h.6M224.8 76.5h.6M225.2 76.7h.6M225.4 76.8h.6M225.5 77h.6M225.9 77.2h.6M226.1 77.2h.6M226.1 77.1h.6M226.3 76.6h.6M226.3 77.4h.6M226.3 77h.6M226.4 76.8h.6M227.2 77.4h.6M228.2 76.5h.6M230.1 77.3h.6M191.2 78.2h.6M192.8 77.6h.6M193.7 77.9h.6M193.9 78.4h.6M194.2 78.3h.6M194.8 78.4h.6M194.9 78.1h.6M195 77.5h.6M195.1 78.3h.6M195.4 78h.6M196 77.6h.6M197 77.6h.6M197.4 78.4h.6M198 78.2h.6M198.2 78.1h.6M198.8 78.1h.6M198.9 78.3h.6M199.7 78.1h.6M200.1 78.1h.6M200.2 78h.6M200.3 78.3h.6M200.6 77.6h.6M201.2 78.4h.6M201.5 77.7h.6M201.8 78.3h.6M201.8 77.9h.6M202 77.6h.6M202.2 78.4h.6M202.8 78.2h.6M202.9 78.2h.6M205.5 77.9h.6M205.8 78h.6M206.3 78.1h.6M206.6 77.6h.6M208.6 77.7h.6M212 78.2h.6M212.3 78h.6M212.4 78.2h.6M213 78h.6M213.8 78.1h.6M214.1 78.4h.6M214.3 78h.6M214.5 78.3h.6M214.9 78.2h.6M215.2 77.5h.6M215.6 77.5h.6M215.7 78.3h.6M215.7 77.8h.6M215.8 78.4h.6M215.9 78.3h.6M216.1 78.2h.6M216.2 78.4h.6M216.5 78h.6M216.7 78h.6M217 77.9h.6M217 78h.6M217 77.9h.6M217.2 78.2h.6M217.4 78h.6M217.4 77.8h.6M217.7 77.8h.6M217.8 78.3h.6M217.8 78.3h.6M217.8 78.1h.6M217.9 78.4h.6M218.1 78.2h.6M218.1 78.1h.6M218.2 77.5h.6M218.2 78.2h.6M218.2 78h.6M218.2 77.6h.6M218.3 77.7h.6M218.3 77.9h.6M218.5 77.8h.6M218.7 78.2h.6M218.8 78.5h.6M218.9 77.5h.6M218.9 78.1h.6M218.9 78h.6M218.9 78.4h.6M219.1 78.3h.6M219.1 77.8h.6M219.1 77.8h.6M219.2 77.8h.6M219.3 77.9h.6M219.3 77.9h.6M219.4 77.5h.6M219.4 78h.6M219.4 77.5h.6M219.4 77.8h.6M219.5 77.6h.6M219.7 77.9h.6M219.9 78.3h.6M219.9 77.8h.6M219.9 78.4h.6M220 77.8h.6M220 78.3h.6M220.1 78.2h.6M220.2 77.8h.6M220.6 78.2h.6M220.7 77.7h.6M220.7 77.7h.6M220.7 77.6h.6M220.8 77.8h.6M220.8 77.6h.6M220.8 78.4h.6M220.8 78.1h.6M220.8 78.1h.6M220.8 78.2h.6M220.9 78.1h.6M220.9 77.8h.6M221 77.5h.6M221.3 77.9h.6M221.3 78.4h.6M221.4 77.6h.6M221.4 77.5h.6M221.5 78h.6M221.6 78h.6M221.8 78.1h.6M221.8 77.5h.6M221.9 77.9h.6M221.9 77.8h.6M222.1 77.9h.6M222.1 77.9h.6M222.3 77.9h.6M222.3 78.2h.6M222.4 78.3h.6M222.6 77.8h.6M222.6 78.4h.6M222.9 77.6h.6M222.9 77.7h.6M223 77.9h.6M223.1 78.2h.6M223.1 78.2h.6M223.2 78.4h.6M223.2 77.6h.6M223.5 78.4h.6M223.5 77.7h.6M223.6 77.6h.6M223.7 78.1h.6M223.8 78.1h.6M223.9 77.8h.6M223.9 77.7h.6M224.4 78.5h.6M224.4 77.7h.6M224.4 78.3h.6M224.6 77.6h.6M224.6 77.9h.6M224.7 78.1h.6M224.7 77.5h.6M224.9 77.6h.6M225.5 77.6h.6M225.6 78.3h.6M225.7 77.5h.6M225.7 77.8h.6M226.1 78h.6M226.4 77.7h.6M226.6 77.7h.6M228.9 77.9h.6M229.3 78h.6M229.8 77.6h.6M189.9 78.6h.6M191.2 79.2h.6M193.3 79h.6M193.8 78.6h.6M194.3 79h.6M195.1 79.4h.6M195.7 78.5h.6M195.8 79.5h.6M195.9 79h.6M196 79.1h.6M197.2 78.6h.6M197.3 79.4h.6M197.5 79.4h.6M197.6 78.7h.6M198 79h.6M198 78.7h.6M198.1 79.2h.6M198.6 79h.6M199.1 78.9h.6M199.5 79.1h.6M199.9 78.5h.6M200 79.4h.6M200.5 78.7h.6M200.6 78.6h.6M200.8 79.4h.6M200.8 78.8h.6M201.4 79.4h.6M201.6 79.3h.6M201.9 79.4h.6M202.1 79.5h.6M202.4 79.4h.6M203 79h.6M203.1 79h.6M203.2 78.7h.6M203.6 78.9h.6M204.3 79h.6M204.3 79.1h.6M204.8 79h.6M206.4 78.7h.6M207 78.7h.6M207.2 79h.6M208.4 79h.6M209.7 79h.6M213.4 78.5h.6M213.6 79.1h.6M214.1 78.6h.6M215 79.4h.6M215.5 79.3h.6M215.8 79.1h.6M215.9 79.2h.6M216 78.7h.6M216.1 79.2h.6M216.1 78.9h.6M216.1 78.6h.6M216.3 79.3h.6M216.4 79.5h.6M217.1 79.2h.6M217.3 78.6h.6M217.4 78.6h.6M217.5 79.3h.6M217.5 79.5h.6M217.6 79.2h.6M217.6 79.5h.6M217.6 79.2h.6M217.8 79.4h.6M218 79.1h.6M218 79.5h.6M218.1 78.6h.6M218.1 78.6h.6M218.2 78.7h.6M218.4 78.7h.6M218.4 79.3h.6M218.4 79.2h.6M218.5 79.3h.6M218.7 78.8h.6M218.7 78.8h.6M218.7 78.5h.6M218.8 79h.6M218.8 79h.6M219 78.9h.6M219 78.5h.6M219 79.4h.6M219.2 78.6h.6M219.2 79h.6M219.3 78.9h.6M219.4 78.8h.6M219.4 79.3h.6M219.5 78.9h.6M219.5 78.5h.6M219.5 79.2h.6M219.7 78.8h.6M219.7 78.8h.6M219.8 78.7h.6M220.2 78.9h.6M220.2 78.9h.6M220.4 79h.6M220.4 78.8h.6M220.5 78.5h.6M220.6 78.8h.6M220.6 78.8h.6M220.7 78.5h.6M221 78.8h.6M221 79.5h.6M221 78.7h.6M221.1 79.3h.6M221.1 79.3h.6M221.2 78.6h.6M221.2 79.4h.6M221.3 78.8h.6M221.3 79.3h.6M221.4 79h.6M221.7 78.6h.6M221.7 78.6h.6M221.7 79.4h.6M222 78.6h.6M222.2 78.5h.6M222.2 79.2h.6M222.2 78.6h.6M222.4 79.1h.6M222.5 79.1h.6M222.5 78.6h.6M222.6 78.9h.6M222.7 79h.6M222.7 79h.6M222.8 79.5h.6M222.8 78.7h.6M222.9 79.5h.6M223 79.1h.6M223.1 78.9h.6M223.1 79.4h.6M223.1 78.8h.6M223.2 78.8h.6M223.3 78.8h.6M223.4 79.3h.6M223.5 78.5h.6M223.5 79.3h.6M223.5 79.5h.6M223.6 79.3h.6M223.7 79h.6M223.7 79.4h.6M223.8 79.3h.6M223.8 78.7h.6M224 78.6h.6M224.7 78.9h.6M224.8 78.6h.6M224.9 79.1h.6M225.2 79.4h.6M225.3 79.4h.6M225.6 78.7h.6M226 79.4h.6M226.1 79h.6M226.8 78.7h.6M228.6 78.9h.6M229.7 78.6h.6M231 78.6h.6M192.5 80.2h.6M193.7 80h.6M194 80.4h.6M194.1 80.5h.6M195.5 80.4h.6M195.8 80.5h.6M196.3 80.1h.6M196.5 80h.6M196.6 79.6h.6M197.6 80h.6M197.8 80.4h.6M198.8 80.2h.6M199.4 80h.6M200.2 80.3h.6M201.1 79.6h.6M202.4 80.2h.6M202.6 79.8h.6M202.8 80.5h.6M203.3 79.9h.6M203.9 80.2h.6M204 80.5h.6M205.7 80.3h.6M208.7 80.2h.6M211.8 80.4h.6M212.8 79.7h.6M212.9 79.7h.6M213 80.3h.6M213.6 79.5h.6M215.1 80.2h.6M215.4 79.7h.6M215.4 80.3h.6M215.7 80h.6M215.8 79.9h.6M215.9 80.4h.6M215.9 79.7h.6M216.1 80.4h.6M216.2 80.2h.6M216.3 80h.6M216.4 80.3h.6M216.4 80.3h.6M216.6 79.6h.6M216.7 80.2h.6M216.8 79.5h.6M216.9 79.5h.6M217.1 80.1h.6M217.3 80.1h.6M217.3 80h.6M217.4 79.7h.6M217.5 80.4h.6M217.6 80.4h.6M217.8 79.8h.6M217.8 80.4h.6M218 80.1h.6M218.1 79.5h.6M218.3 79.5h.6M218.3 79.9h.6M218.4 79.9h.6M218.5 80.3h.6M218.5 80.5h.6M218.6 80.1h.6M218.7 79.8h.6M219 79.6h.6M219 79.9h.6M219.1 80.1h.6M219.2 80.2h.6M219.2 80.3h.6M219.4 80.2h.6M219.4 79.6h.6M219.5 79.5h.6M219.5 80.3h.6M219.6 79.6h.6M219.7 80h.6M219.7 79.5h.6M219.8 79.7h.6M220 80h.6M220.2 80.5h.6M220.2 79.9h.6M220.5 79.6h.6M220.5 79.6h.6M220.6 80.5h.6M220.7 79.9h.6M220.7 80.2h.6M220.7 79.6h.6M220.9 80h.6M221.2 80.2h.6M221.5 79.7h.6M221.8 80.4h.6M221.9 80.1h.6M221.9 79.6h.6M222 80.4h.6M222 80.4h.6M222.1 80.3h.6M222.1 80h.6M222.1 79.8h.6M222.2 79.8h.6M222.2 80.2h.6M222.2 80.4h.6M222.3 80.1h.6M222.5 79.5h.6M222.6 80.4h.6M222.7 80.1h.6M222.9 79.7h.6M223.2 79.9h.6M223.3 80.4h.6M223.3 80.1h.6M223.6 80.3h.6M223.6 80.2h.6M223.7 80h.6M224 80.4h.6M224.4 80.3h.6M224.6 79.5h.6M224.8 79.6h.6M227.5 79.9h.6M190.7 80.5h.6M193.3 80.9h.6M193.3 80.5h.6M194.9 80.6h.6M195.2 80.6h.6M195.5 80.6h.6M197.2 81.3h.6M197.3 80.8h.6M198.3 81.3h.6M198.6 80.7h.6M198.8 80.7h.6M198.8 81.1h.6M199.7 80.8h.6M200.4 80.6h.6M200.5 80.7h.6M200.5 80.9h.6M200.6 81.1h.6M201.5 81.3h.6M203.3 80.6h.6M203.9 81.4h.6M204.8 81.2h.6M205.4 80.8h.6M207.5 80.6h.6M213.2 80.7h.6M214.3 81.4h.6M214.5 80.6h.6M214.8 80.5h.6M214.9 81.4h.6M215 80.7h.6M215 81.4h.6M215 80.5h.6M215.9 81.4h.6M216.1 81.4h.6M216.3 81.2h.6M216.4 81.1h.6M216.4 81.1h.6M216.7 80.7h.6M217.5 81.2h.6M217.7 81.1h.6M217.7 80.6h.6M217.9 80.9h.6M218.3 80.8h.6M218.4 81.3h.6M218.4 80.8h.6M218.5 81.2h.6M218.6 80.9h.6M218.6 80.6h.6M218.6 81.3h.6M218.7 80.8h.6M218.8 81.3h.6M218.8 81.3h.6M218.8 80.7h.6M218.9 81.1h.6M218.9 81.4h.6M219 80.6h.6M219.1 81.2h.6M219.2 81.1h.6M219.3 81.4h.6M219.5 81.2h.6M219.5 80.7h.6M219.7 80.9h.6M219.7 80.7h.6M219.7 81.4h.6M219.7 81.1h.6M219.8 81.4h.6M219.8 81.3h.6M219.9 81.2h.6M219.9 80.9h.6M219.9 80.9h.6M220 80.6h.6M220 81.3h.6M220 80.9h.6M220.1 81h.6M220.2 80.6h.6M220.2 81.2h.6M220.3 81h.6M220.4 81.1h.6M220.4 80.6h.6M220.5 81h.6M220.7 80.7h.6M220.8 81.4h.6M220.9 81.1h.6M221.2 80.8h.6M221.4 81.1h.6M221.5 81h.6M221.6 80.8h.6M221.6 80.8h.6M221.7 81.3h.6M221.7 80.7h.6M222 80.7h.6M222 80.5h.6M222 81.3h.6M222.1 81h.6M222.2 81.5h.6M222.2 81.1h.6M222.3 81.4h.6M222.4 81.2h.6M222.8 80.9h.6M223.1 81h.6M223.1 81.4h.6M223.3 81.3h.6M223.5 81.4h.6M223.6 80.8h.6M223.9 80.8h.6M223.9 81.3h.6M224.2 81h.6M224.3 81.4h.6M224.7 81.1h.6M224.8 81.5h.6M225 80.9h.6M225.6 81.4h.6M225.7 80.9h.6M227.2 81.2h.6M227.8 81.1h.6M230.3 80.8h.6M192.9 81.6h.6M196 81.8h.6M196.4 81.9h.6M196.4 82.1h.6M196.9 81.6h.6M197.2 81.8h.6M197.9 82.4h.6M198.5 81.9h.6M199.4 81.9h.6M201 81.8h.6M201.9 81.6h.6M203.7 81.7h.6M205 82.5h.6M206.1 81.7h.6M206.5 81.8h.6M213.1 81.9h.6M213.6 81.7h.6M213.7 81.8h.6M214.8 82.4h.6M214.9 82.3h.6M215.5 81.9h.6M215.8 82.3h.6M216.4 81.8h.6M216.5 81.7h.6M216.6 82h.6M216.7 81.7h.6M216.8 81.5h.6M216.9 82h.6M217.1 82.1h.6M217.9 81.5h.6M218 82.2h.6M218 82.3h.6M218.1 81.8h.6M218.3 82.1h.6M218.5 82.4h.6M218.7 81.8h.6M218.8 81.9h.6M219.2 81.6h.6M219.5 82.2h.6M219.7 81.9h.6M219.7 82.5h.6M219.8 82h.6M220 81.9h.6M220.2 82.2h.6M220.3 81.6h.6M220.4 82.3h.6M220.6 82h.6M220.7 81.6h.6M220.8 81.5h.6M220.9 81.7h.6M221 81.9h.6M221 82.2h.6M221 82.2h.6M221.5 82.2h.6M221.7 81.9h.6M222 82.2h.6M222 81.6h.6M222.1 81.5h.6M222.3 81.6h.6M222.5 81.8h.6M222.6 82.1h.6M222.7 82.1h.6M223.6 81.6h.6M223.6 82.2h.6M223.8 81.6h.6M223.9 82.3h.6M224.4 82.1h.6M226 82.2h.6M226.1 82h.6M227.1 81.6h.6M192.9 83.5h.6M196.4 83h.6M197 83.2h.6M197.3 82.5h.6M205.1 83.1h.6M206.1 83h.6M207 82.5h.6M207.1 82.9h.6M210 82.5h.6M212.7 82.5h.6M213.1 82.8h.6M214.3 83.2h.6M214.5 82.6h.6M216.5 83h.6M217.2 82.9h.6M218.1 83h.6M218.1 82.6h.6M218.2 82.6h.6M218.3 82.9h.6M218.4 82.6h.6M218.6 82.6h.6M218.6 82.8h.6M218.7 82.8h.6M218.9 83.4h.6M218.9 82.9h.6M219 83.5h.6M219.4 83.2h.6M219.4 83.3h.6M219.8 83.3h.6M219.8 82.5h.6M220.3 82.6h.6M220.5 82.6h.6M220.6 83.3h.6M220.6 82.6h.6M220.8 82.9h.6M221 82.6h.6M221.3 83.5h.6M221.8 83.2h.6M222.2 82.5h.6M222.2 82.5h.6M222.4 82.8h.6M222.4 83.2h.6M222.4 83.3h.6M222.5 82.8h.6M222.9 82.8h.6M223.2 83h.6M223.4 82.9h.6M223.5 83.1h.6M223.8 82.9h.6M224.2 82.5h.6M224.8 83.2h.6M227.7 82.7h.6M228.4 82.9h.6M233.8 82.8h.6M191.8 84.2h.6M193.2 83.6h.6M198.6 84h.6M200.7 84.2h.6M201.2 83.6h.6M208.7 83.7h.6M209.8 83.8h.6M212.7 83.5h.6M214.6 83.9h.6M215.5 83.7h.6M216.4 84.1h.6M216.9 83.9h.6M217 84.1h.6M218.7 83.6h.6M218.9 83.8h.6M219.2 84.3h.6M219.4 84.1h.6M219.5 84.4h.6M219.8 83.5h.6M219.9 83.8h.6M219.9 84h.6M220 83.6h.6M220 83.9h.6M220.2 84h.6M220.4 84.4h.6M220.6 84.4h.6M220.8 84.4h.6M220.9 84.2h.6M221.2 84.5h.6M221.6 83.7h.6M221.6 83.6h.6M222.2 83.9h.6M222.2 83.6h.6M222.6 83.9h.6M222.8 83.8h.6M223 84.2h.6M223.3 83.6h.6M223.4 84.3h.6M223.5 83.8h.6M223.5 83.8h.6M223.6 84h.6M224.3 84h.6M224.6 83.8h.6M190.3 84.9h.6M215.9 84.6h.6M216.2 84.7h.6M216.3 85h.6M217.3 84.7h.6M219.1 84.9h.6M219.9 85h.6M220.4 84.5h.6M220.6 85h.6M224.2 84.7h.6M224.2 84.6h.6M225.1 85.1h.6M225.1 85h.6M226.3 84.8h.6" stroke="#000" stroke-width=".6" fill="none" opacity="1.0"/>
<path d="M224.3 27.3h.6M224 36.2h.6M223.8 42.1h.6M224.7 41.6h.6M228 51.2h.6M202 56.5h.6M193.5 57.5h.6M236.1 57.7h.6M195.7 58.9h.6M200.7 59.5h.6M208.9 59.7h.6M222.8 60.2h.6M191.9 61.3h.6M215.8 60.7h.6M224.7 61.1h.6M229.2 60.9h.6M194.5 62h.6M212.8 61.5h.6M199.9 63.8h.6M203.9 63.9h.6M213.7 64.3h.6M220.6 64.2h.6M227.2 64.5h.6M197.5 64.6h.6M197.9 65.2h.6M217.3 64.9h.6M218.6 64.6h.6M224.8 64.5h.6M194.2 66h.6M196 65.8h.6M197.2 66.3h.6M205 66.3h.6M216.9 66.1h.6M219.7 65.7h.6M220.6 65.8h.6M227.7 65.7h.6M228.7 66.1h.6M235.8 66h.6M192 67h.6M196.4 67h.6M196.8 67.3h.6M198.3 66.5h.6M206.5 67h.6M208.1 66.7h.6M208.4 67.1h.6M210.5 66.9h.6M217.2 67.2h.6M220 66.6h.6M223 67h.6M232.8 67.3h.6M191.9 68.1h.6M196.4 67.8h.6M204.2 67.9h.6M211.8 68.5h.6M216.6 68.5h.6M217.3 68.2h.6M217.3 67.5h.6M228 67.7h.6M195.5 69.1h.6M197.8 68.9h.6M199.7 68.8h.6M201 68.9h.6M203.7 68.8h.6M204 68.6h.6M216.6 68.6h.6M217.8 69.4h.6M217.8 69h.6M218.3 69.4h.6M219.8 68.9h.6M220.2 69.3h.6M221.6 69.4h.6M225.3 68.9h.6M226.2 69.1h.6M236.1 69.1h.6M240.6 68.6h.6M198.7 69.7h.6M201.9 69.7h.6M206 70.2h.6M208.5 70.2h.6M208.8 69.6h.6M210.1 69.8h.6M220.5 69.8h.6M221.8 70.4h.6M225.2 69.8h.6M226.3 70.1h.6M234.5 70.2h.6M191.4 71h.6M193.1 70.7h.6M193.4 71.3h.6M200.6 71.3h.6M201 71.1h.6M201.2 70.8h.6M203.4 71h.6M204.3 71.5h.6M204.5 71.2h.6M207.3 71.4h.6M211.7 70.7h.6M215.8 70.5h.6M217.4 71.2h.6M217.6 70.9h.6M218.6 71.4h.6M219 71.4h.6M221.7 70.8h.6M221.9 71.3h.6M223.1 71h.6M223.8 71.3h.6M224.8 71.5h.6M190.4 72h.6M194.2 72h.6M195.7 72.2h.6M196.4 71.9h.6M196.5 72.1h.6M196.6 72.2h.6M199.2 72.2h.6M199.4 72.2h.6M200.3 71.5h.6M203.7 72.4h.6M204.9 71.9h.6M205.2 72.5h.6M205.9 72.1h.6M213.5 71.8h.6M218 71.7h.6M219.3 71.6h.6M220.1 72.3h.6M222.7 71.6h.6M225.6 72.1h.6M229.8 72.4h.6M235.1 72.3h.6M193.6 72.5h.6M199.3 73h.6M213.6 72.6h.6M223.5 72.8h.6M226.8 73h.6M228.9 73.4h.6M229.1 73h.6M232.9 73.5h.6M240.3 72.8h.6M196.5 74.5h.6M196.8 74.4h.6M198.7 73.6h.6M203 74.1h.6M204.9 74.3h.6M210.3 74.4h.6M212.7 74.3h.6M215 73.9h.6M217.7 74.3h.6M219.8 73.6h.6M219.8 74h.6M223.7 73.9h.6M224.2 74.5h.6M226.1 74.2h.6M226.6 73.5h.6M229.4 73.6h.6M232.6 73.8h.6M237.3 73.5h.6M192.6 75.2h.6M194.6 75.1h.6M194.7 75.2h.6M197.6 74.9h.6M200.4 75.4h.6M201.3 75h.6M204.8 74.6h.6M205.4 74.9h.6M206.6 74.6h.6M207.1 75.2h.6M211.7 75.2h.6M220.6 74.5h.6M220.7 75.2h.6M220.9 75h.6M221.9 75.2h.6M222.1 74.8h.6M223.8 74.9h.6M227.2 74.8h.6M227.4 74.8h.6M227.4 75.3h.6M228.1 74.5h.6M234.3 74.9h.6M238.3 74.8h.6M190.7 75.7h.6M193.5 75.6h.6M196.3 76h.6M198.4 75.9h.6M199.2 76.4h.6M209.5 76.3h.6M209.7 75.8h.6M210.8 75.7h.6M218.6 75.7h.6M219.5 76.5h.6M222.9 76.4h.6M224.1 76h.6M224.9 76.4h.6M225.1 75.8h.6M226.5 75.8h.6M226.7 76.2h.6M227.1 75.9h.6M227.5 75.8h.6M192.6 77.3h.6M195.6 77.4h.6M197.5 76.7h.6M204.3 76.7h.6M209.8 76.9h.6M216.4 77.3h.6M221.5 76.7h.6M224.9 77.3h.6M227.5 77.1h.6M229.2 77.1h.6M230 76.7h.6M233.5 76.7h.6M237.9 77.2h.6M201.1 78.4h.6M201.7 77.5h.6M211 77.8h.6M211.3 78.2h.6M213.9 77.9h.6M216.4 77.9h.6M219.6 77.9h.6M220.2 77.8h.6M221.5 78.1h.6M221.8 78.3h.6M221.9 77.7h.6M226.4 77.6h.6M228.3 78.5h.6M228.8 78.4h.6M229 78.1h.6M254.2 78.3h.6M191 78.9h.6M191 79.1h.6M191.1 78.7h.6M196.9 79.3h.6M198.1 78.9h.6M198.8 79.3h.6M200.5 78.8h.6M207.5 78.6h.6M212.8 79.5h.6M214.4 78.9h.6M214.8 79.3h.6M216.8 78.8h.6M217.1 79h.6M221.8 79.4h.6M232.2 78.9h.6M233.3 79h.6M236 79.2h.6M191.5 80.2h.6M194.2 79.8h.6M196.6 80.5h.6M200.8 79.5h.6M202.5 79.6h.6M204 80.2h.6M212.5 80.3h.6M213.5 80.2h.6M215.5 80.5h.6M218 80.3h.6M220 80.1h.6M228.6 79.5h.6M193.7 81h.6M197.6 81.2h.6M199.4 81.4h.6M202.1 81.5h.6M215.3 80.7h.6M217.6 81.5h.6M218.9 80.7h.6M219.5 80.7h.6M223.7 81.3h.6M226.1 81.4h.6M230.4 80.9h.6M197.3 82.3h.6M199.8 81.7h.6M202.5 82.3h.6M208 81.7h.6M208.7 81.5h.6M211.5 81.8h.6M226.5 81.7h.6M230.3 81.8h.6M230.7 81.6h.6M230.9 82.1h.6M246 81.6h.6M263.2 82.3h.6M198.1 82.5h.6M212.3 82.6h.6M216.9 82.7h.6M223.2 83.3h.6M223.7 82.7h.6M223.9 83.2h.6M231.4 83.2h.6M197.3 84h.6M208.8 83.6h.6M216.9 84.4h.6M219.3 83.9h.6M222.2 83.5h.6M244.9 84.4h.6M192.4 84.8h.6M196.4 84.6h.6M197 85h.6M209.6 84.9h.6M210.9 84.6h.6M211.1 84.6h.6M211.6 84.9h.6M213.7 85h.6M214.6 84.9h.6M217.2 84.6h.6M217.3 84.6h.6M219.3 84.9h.6M220.4 84.9h.6M221.3 84.9h.6M228.4 84.8h.6M229.5 84.6h.6M230.5 84.8h.6M231.2 84.7h.6M231.8 84.7h.6M233.9 84.8h.6M235.8 84.9h.6M235.9 84.5h.6M236.7 85.1h.6M237 84.9h.6M239.8 85h.6M240.3 84.7h.6M241.8 84.6h.6M247.3 85h.6M248.3 84.7h.6M252.6 84.8h.6M253.6 84.8h.6M254 84.9h.6M255.4 84.6h.6M257.2 84.8h.6M257.6 84.7h.6M257.8 85h.6M259.2 84.8h.6M260.3 84.9h.6M262.6 84.9h.6" stroke="#777" stroke-width=".6" fill="none" opacity="1.0"/>
</g></g>
<rect x="189.5" y="10.6" width="75" height="75.2" fill="none" stroke="#999" stroke-width=".55"/>
<path d="M189.5 10.6V85.8" stroke="#666" stroke-width=".55" fill="none"/>
<path d="M212.6 10.6V85.8M189.5 57.5H264.5" stroke="#666" stroke-width=".55" fill="none"/>
<path d="M189.5 29h-1.2M189.5 48h-1.2M189.5 67h-1.2" stroke="#777" stroke-width=".5"/>
<text x="192.8" y="17.2" font-size="6.3" font-weight="bold" text-anchor="start" fill="#111" stroke="#111" stroke-width=".2">0.08%</text>
<text x="264" y="17.2" font-size="6.3" font-weight="bold" text-anchor="end" fill="#111" stroke="#111" stroke-width=".2">0.28%</text>
<text x="227" y="4.8" font-size="6.45" font-weight="bold" text-anchor="middle" fill="#111" stroke="#111" stroke-width=".2">+EBNA1 peptides</text>
<g clip-path="url(#d2)"><g filter="url(#soft)">
<ellipse cx="287.6" cy="73.9" rx="10.6" ry="12.4" fill="url(#haze1)" opacity="0.7"/>
<ellipse cx="312" cy="76.7" rx="8.8" ry="11.2" fill="url(#core1)"/>
<path d="M288.1 56.5h.6M289.5 56h.6M282.7 58.2h.6M291 58.2h.6M295 59.2h.6M309.9 59.2h.6M281.7 60.4h.6M287.3 60.2h.6M290.4 60.1h.6M296.7 60.8h.6M311.5 61.1h.6M287.2 62.1h.6M287.5 61.9h.6M287.7 61.9h.6M288.7 62.1h.6M289.8 62.3h.6M313.4 62.4h.6M288.2 62.9h.6M288.5 63.4h.6M290.4 62.6h.6M297 62.6h.6M309.1 62.7h.6M312.8 63.2h.6M283.8 64.2h.6M284.1 63.6h.6M285.3 64h.6M288.8 63.8h.6M289.6 64.3h.6M290.3 63.8h.6M295.2 64h.6M309.7 64.2h.6M313.5 64.3h.6M281.2 65.3h.6M281.3 65.3h.6M285.6 64.5h.6M287 65.5h.6M287.5 64.7h.6M287.7 65.4h.6M290.7 64.6h.6M290.9 65h.6M302.6 64.5h.6M309 64.9h.6M313.2 65.4h.6M314.2 64.7h.6M315.4 65.4h.6M315.9 65h.6M318.9 65.2h.6M279.8 66h.6M279.8 66.4h.6M279.9 65.9h.6M281.2 66.3h.6M283.3 65.8h.6M284.3 66.3h.6M286.4 66.4h.6M286.6 66h.6M286.7 66.1h.6M288 66h.6M288.3 66.4h.6M288.3 65.6h.6M288.6 65.7h.6M291.2 66.1h.6M291.9 66.4h.6M292.1 65.9h.6M292.1 66.3h.6M292.9 65.8h.6M293.3 65.6h.6M293.4 66.2h.6M294.5 66.1h.6M294.7 65.7h.6M308.9 65.7h.6M309.3 66h.6M309.9 66.4h.6M310.4 65.5h.6M311.1 66.3h.6M311.3 66h.6M311.9 65.5h.6M312.9 65.9h.6M315.2 66.1h.6M315.9 65.7h.6M317.5 65.8h.6M317.7 66.3h.6M280.8 67.1h.6M283 67.5h.6M285.3 67.1h.6M287.4 67h.6M287.4 66.8h.6M289 66.9h.6M289.2 67.1h.6M289.8 67h.6M290.6 66.7h.6M290.8 66.5h.6M290.9 66.6h.6M291.2 67.5h.6M291.7 67.4h.6M292.2 67.4h.6M293 67.2h.6M294.9 67.3h.6M296.3 66.9h.6M303.3 66.6h.6M304.1 66.9h.6M305.3 66.7h.6M307.6 66.9h.6M310.3 67.1h.6M310.4 66.8h.6M311.1 67.4h.6M311.8 66.9h.6M312.3 67.3h.6M312.6 67.4h.6M312.9 66.8h.6M313 66.5h.6M314.1 66.6h.6M315.1 67.2h.6M315.5 67.3h.6M315.5 67.4h.6M316.1 67.5h.6M316.3 67.3h.6M316.4 67.4h.6M317.5 67.4h.6M281.5 68.3h.6M283.3 67.5h.6M284.4 67.7h.6M284.5 67.7h.6M285.9 67.8h.6M286.6 68.3h.6M287.1 68.3h.6M287.3 67.5h.6M287.3 67.8h.6M287.4 68.4h.6M287.5 67.6h.6M288.7 68h.6M288.9 68.2h.6M289.2 68.1h.6M289.9 67.6h.6M290.2 68.3h.6M290.5 68.3h.6M291.2 68.4h.6M291.3 67.7h.6M291.9 67.8h.6M291.9 67.5h.6M292.1 67.9h.6M292.4 68.2h.6M292.6 67.9h.6M293.2 68.4h.6M293.2 67.6h.6M293.4 68.3h.6M293.4 68.4h.6M295.1 67.5h.6M296 67.5h.6M296.2 68.2h.6M298 68.2h.6M304.8 68.2h.6M306 68.2h.6M308 68.4h.6M309.3 68.3h.6M309.3 68h.6M309.7 68.4h.6M309.7 67.8h.6M309.9 68.4h.6M310.4 68.1h.6M310.7 67.8h.6M310.9 68.2h.6M310.9 68.3h.6M311.5 67.5h.6M312 67.7h.6M312.1 68.1h.6M312.2 67.9h.6M312.3 68h.6M312.6 68.4h.6M312.7 68.4h.6M312.7 68.2h.6M312.7 67.9h.6M313.6 68.4h.6M314.1 67.8h.6M314.2 68.5h.6M314.6 68.3h.6M314.7 68.3h.6M315.9 68.5h.6M316.9 67.7h.6M317 67.8h.6M319.1 68h.6M319.3 68.2h.6M279.1 69h.6M282 68.9h.6M282.7 68.7h.6M283.3 69h.6M283.6 68.9h.6M284 68.6h.6M284.2 68.5h.6M285.5 69.3h.6M285.7 69.2h.6M286.4 69h.6M287.6 69.5h.6M288.2 69.3h.6M288.9 68.7h.6M289.1 68.6h.6M289.1 69.3h.6M289.2 69.3h.6M289.6 69.1h.6M290 69.1h.6M290.4 68.9h.6M290.5 68.8h.6M290.6 68.6h.6M290.7 69.4h.6M290.7 69.1h.6M291.2 69.2h.6M291.6 69.2h.6M294.2 68.8h.6M294.5 69.3h.6M294.9 68.6h.6M295.1 69.3h.6M297.7 68.9h.6M298.2 69.4h.6M299.9 69.1h.6M300.6 69.4h.6M301.2 68.7h.6M306.5 68.9h.6M306.8 69h.6M307.1 69.4h.6M308.1 69.3h.6M308.4 69.2h.6M308.5 68.6h.6M309.4 68.5h.6M309.7 68.8h.6M309.8 69.5h.6M310.5 68.9h.6M310.6 69.5h.6M311.1 68.7h.6M311.1 68.5h.6M311.1 69.3h.6M311.2 69.3h.6M311.4 69h.6M311.9 69.2h.6M312 68.7h.6M312.1 69.4h.6M312.4 68.6h.6M312.4 69.3h.6M312.5 69.3h.6M312.7 69.3h.6M312.8 68.6h.6M313.2 69.3h.6M313.3 68.8h.6M313.5 69.3h.6M313.8 69.4h.6M313.9 69h.6M314.1 69.3h.6M314.6 68.8h.6M315 68.9h.6M315 69.3h.6M315.3 69.2h.6M315.3 68.8h.6M315.5 68.6h.6M317.1 69.2h.6M319.8 69.4h.6M320.2 69.1h.6M322.3 68.6h.6M279.1 69.6h.6M279.4 70.2h.6M280.4 70.3h.6M281 70.2h.6M281.5 70h.6M281.7 70h.6M282 70.1h.6M282.1 70.5h.6M282.2 70.1h.6M282.3 69.6h.6M282.4 70.4h.6M283.5 70.5h.6M283.5 70.5h.6M283.7 69.7h.6M284.1 70.4h.6M285 70.2h.6M285.1 70.1h.6M285.3 69.5h.6M286.4 69.7h.6M286.4 70.5h.6M286.8 69.6h.6M290.2 70.3h.6M290.7 70.5h.6M290.7 69.6h.6M291.2 69.7h.6M291.5 70.1h.6M291.8 70.2h.6M292.2 70h.6M292.5 69.9h.6M293.3 70.5h.6M294 70.2h.6M294.9 70.2h.6M296.2 70.2h.6M297.6 70.1h.6M303.4 69.7h.6M306.4 70.4h.6M307.1 70.3h.6M307.1 69.7h.6M307.3 70.5h.6M307.7 70.2h.6M308 70.4h.6M308.4 70h.6M308.4 70.2h.6M308.7 70.1h.6M308.9 70h.6M309.1 70.2h.6M309.5 69.9h.6M309.8 69.9h.6M309.8 70h.6M310 70.2h.6M310 69.9h.6M310.2 70h.6M310.8 70.1h.6M310.9 70.3h.6M311 69.7h.6M311 70h.6M311.2 69.8h.6M311.3 70.3h.6M311.4 70h.6M311.5 69.7h.6M311.6 69.8h.6M311.9 69.9h.6M312.1 70h.6M312.3 69.7h.6M312.3 70.4h.6M312.4 69.9h.6M312.5 70.4h.6M312.9 69.9h.6M313.1 70h.6M313.4 69.7h.6M313.5 70.4h.6M313.6 69.6h.6M313.8 69.7h.6M314.1 70.4h.6M314.2 69.7h.6M314.3 70.2h.6M314.4 69.5h.6M314.9 70.4h.6M315 69.8h.6M315 70.2h.6M315.1 70h.6M315.2 69.6h.6M315.2 70.4h.6M316 70h.6M316.4 69.8h.6M316.6 70.4h.6M316.6 70.4h.6M316.9 70.4h.6M316.9 69.6h.6M317.3 69.6h.6M318 70h.6M318.2 69.8h.6M318.2 70.4h.6M319.4 69.9h.6M320.9 70.3h.6M322 70.4h.6M280.2 70.8h.6M281.5 71.3h.6M281.7 71.3h.6M281.8 71.4h.6M282.6 70.9h.6M283.2 71.5h.6M283.4 71.2h.6M284.2 71.4h.6M284.2 70.7h.6M284.4 71.3h.6M284.4 71h.6M284.5 71h.6M284.6 70.7h.6M284.8 71.4h.6M285.1 70.8h.6M286 70.8h.6M286.2 71.2h.6M286.3 71.5h.6M286.7 71.2h.6M286.9 70.9h.6M287.1 70.6h.6M287.3 70.6h.6M287.4 71.4h.6M287.6 71.1h.6M287.6 71.3h.6M287.8 71.3h.6M288.1 70.6h.6M288.1 70.9h.6M288.2 71.3h.6M288.2 70.7h.6M288.8 70.9h.6M289 71h.6M289.1 71.4h.6M289.4 71.1h.6M289.4 71.2h.6M289.7 71h.6M290.3 71.3h.6M290.5 70.9h.6M290.5 70.7h.6M290.8 71.2h.6M290.9 70.9h.6M290.9 70.7h.6M291.5 71h.6M292 71h.6M292.3 70.9h.6M293.4 70.6h.6M293.5 71.3h.6M293.7 71.4h.6M294.3 71.1h.6M294.3 70.6h.6M294.4 71.2h.6M294.4 71h.6M294.5 71h.6M294.8 71.4h.6M294.8 70.6h.6M295.1 70.7h.6M295.2 70.9h.6M297.2 71.4h.6M298.8 71.1h.6M299.6 70.6h.6M300.1 71.2h.6M302.8 70.8h.6M303.2 71.4h.6M305.2 71.3h.6M306.3 71.2h.6M306.5 71h.6M307.3 71.1h.6M307.7 71.1h.6M308.4 70.8h.6M308.9 70.9h.6M309 70.9h.6M309 71.3h.6M309.5 70.8h.6M309.6 71.4h.6M309.6 70.5h.6M309.7 70.8h.6M309.7 71.4h.6M309.7 70.8h.6M310 71.4h.6M310.1 71.5h.6M310.6 70.6h.6M310.7 70.8h.6M310.7 71.4h.6M310.8 70.7h.6M311 71.1h.6M311 70.8h.6M311 71.3h.6M311.2 70.6h.6M311.2 70.9h.6M311.2 71.4h.6M311.3 71.2h.6M311.5 71.3h.6M311.6 71h.6M311.7 71.5h.6M311.8 70.7h.6M311.8 71.4h.6M311.8 71.1h.6M311.9 70.8h.6M312.2 70.6h.6M312.2 71.2h.6M312.2 70.6h.6M312.3 70.7h.6M312.3 70.5h.6M312.4 71.2h.6M312.5 71.2h.6M312.5 71h.6M312.6 71.3h.6M312.6 70.8h.6M312.8 71h.6M313.1 71.4h.6M313.2 71.1h.6M313.5 70.7h.6M313.5 70.5h.6M313.5 70.8h.6M313.6 71.5h.6M313.7 70.8h.6M313.8 70.8h.6M314.1 70.5h.6M314.1 71.4h.6M314.1 70.5h.6M314.3 70.9h.6M314.3 71.3h.6M314.5 71.1h.6M314.5 70.5h.6M314.8 70.7h.6M314.9 70.8h.6M315.1 71.3h.6M315.3 71.1h.6M315.4 70.7h.6M315.5 71.2h.6M315.6 70.9h.6M315.9 70.8h.6M316 70.8h.6M316.2 71.3h.6M316.6 70.6h.6M316.9 70.7h.6M317.1 71.4h.6M317.3 71.2h.6M317.9 71.2h.6M318.2 70.9h.6M319.4 71.1h.6M320.2 71.2h.6M320.6 71.3h.6M321.1 71.3h.6M322.2 71.3h.6M322.7 70.7h.6M279.5 71.5h.6M279.8 72h.6M279.8 71.9h.6M281.5 71.6h.6M281.5 71.9h.6M282.4 72.3h.6M282.9 71.6h.6M283 71.7h.6M283.1 72.5h.6M283.2 72.5h.6M283.9 71.9h.6M284 71.8h.6M284.3 71.8h.6M284.5 71.9h.6M284.8 71.7h.6M285.2 72.3h.6M285.7 71.5h.6M285.7 71.7h.6M285.8 72.3h.6M285.9 72.4h.6M286 71.9h.6M286.5 71.8h.6M286.7 72.4h.6M287.7 72.3h.6M287.7 71.8h.6M287.8 72.3h.6M288.3 72.3h.6M289.3 71.8h.6M289.5 72.5h.6M289.5 71.8h.6M289.6 71.8h.6M289.8 71.8h.6M290.1 72.2h.6M290.2 72.5h.6M290.7 72.1h.6M291 71.8h.6M291.7 72.3h.6M291.8 72.3h.6M292.1 71.8h.6M293 71.7h.6M293.2 72.1h.6M294.9 71.6h.6M301.2 71.8h.6M302.5 72.3h.6M305.6 72.4h.6M305.9 71.7h.6M306 72.3h.6M306.6 72.4h.6M306.6 71.8h.6M307.4 71.8h.6M307.4 72.1h.6M307.8 71.9h.6M307.9 71.5h.6M308 71.6h.6M308 71.7h.6M308.4 71.8h.6M308.8 72.4h.6M308.8 72.1h.6M308.8 71.9h.6M309 72.3h.6M309.2 71.5h.6M309.3 72.2h.6M309.3 71.8h.6M309.6 71.5h.6M309.8 72.1h.6M309.8 71.6h.6M310 71.9h.6M310 71.9h.6M310 72.2h.6M310.1 71.8h.6M310.3 72.2h.6M310.4 71.8h.6M310.4 72.4h.6M310.8 71.6h.6M310.8 71.6h.6M310.9 72.1h.6M310.9 72.4h.6M310.9 72.5h.6M310.9 72.4h.6M311 71.7h.6M311 72.1h.6M311.1 72.3h.6M311.2 72.2h.6M311.2 72.5h.6M311.3 71.9h.6M311.4 72.3h.6M311.7 72.1h.6M311.7 72.3h.6M311.8 71.7h.6M311.8 71.9h.6M312.1 72.2h.6M312.1 72.4h.6M312.1 72.5h.6M312.3 71.6h.6M312.3 71.9h.6M312.4 71.8h.6M312.5 72.2h.6M312.6 71.8h.6M312.6 71.8h.6M312.8 72.2h.6M313 71.6h.6M313.2 72.2h.6M313.3 72.2h.6M313.3 72.4h.6M313.3 72.3h.6M313.4 72h.6M313.4 72.1h.6M313.4 72.1h.6M313.4 71.8h.6M313.4 72.2h.6M313.5 72h.6M313.5 71.6h.6M313.7 71.9h.6M313.7 71.7h.6M313.8 72h.6M313.9 71.7h.6M314 72.2h.6M314 72.3h.6M314.2 72.4h.6M314.3 72.3h.6M314.3 71.7h.6M314.7 71.9h.6M314.8 71.8h.6M314.9 72.1h.6M315 72.4h.6M315.1 72.4h.6M315.2 71.6h.6M315.4 72.3h.6M315.5 71.8h.6M315.6 72.3h.6M315.8 72.2h.6M315.9 72h.6M316.1 72h.6M316.1 71.9h.6M316.2 72.3h.6M316.3 71.6h.6M316.5 71.7h.6M316.7 72.1h.6M317.2 71.8h.6M317.2 71.8h.6M317.4 71.8h.6M317.5 72.2h.6M318.6 71.6h.6M319 71.9h.6M279 73.4h.6M279.4 73h.6M281.1 72.5h.6M281.2 73.3h.6M282.4 72.7h.6M282.5 73h.6M282.9 73.4h.6M283.5 73.1h.6M283.6 72.9h.6M283.9 73.4h.6M284 72.7h.6M284 72.8h.6M284.1 72.7h.6M284.6 73.1h.6M284.9 72.5h.6M284.9 73h.6M285 73h.6M285.1 73.4h.6M285.1 73.4h.6M285.6 73.4h.6M285.7 73h.6M286.5 72.7h.6M286.5 73h.6M286.7 72.6h.6M286.7 73.2h.6M286.9 73.3h.6M286.9 73.4h.6M286.9 72.9h.6M287 73.1h.6M287 73.3h.6M287.2 73.4h.6M287.6 72.5h.6M287.7 73.1h.6M287.8 73h.6M287.8 72.7h.6M288.1 73.1h.6M288.1 72.8h.6M288.5 72.5h.6M288.5 72.9h.6M289.2 72.5h.6M289.4 72.6h.6M289.4 73.4h.6M290 73.2h.6M290 73.4h.6M290 73.2h.6M290.7 73h.6M290.8 73.4h.6M290.8 72.5h.6M290.8 73.2h.6M290.9 73.5h.6M291.1 73.2h.6M291.5 72.8h.6M291.7 73.4h.6M291.7 73.3h.6M291.7 72.8h.6M292.1 73.5h.6M292.1 73.1h.6M292.2 72.6h.6M292.6 73.4h.6M292.8 72.6h.6M293.1 73.1h.6M293.4 72.9h.6M293.6 72.7h.6M293.7 73.1h.6M294.2 73.1h.6M294.4 73.5h.6M296.4 72.6h.6M297.7 72.8h.6M302.4 73.2h.6M303.3 73.3h.6M305 73.4h.6M305.4 73.3h.6M305.4 73.3h.6M305.8 72.7h.6M305.9 73.5h.6M306.7 73.3h.6M306.9 72.7h.6M307.1 73.1h.6M307.3 73h.6M307.4 72.9h.6M307.4 73.5h.6M307.5 72.5h.6M307.5 73.1h.6M307.9 73.4h.6M308 73.2h.6M308.3 73.3h.6M308.4 72.7h.6M308.4 72.5h.6M308.7 73.2h.6M308.7 73.2h.6M308.8 73.3h.6M309 73.3h.6M309.1 72.5h.6M309.1 73.1h.6M309.1 73.1h.6M309.3 73.2h.6M309.4 72.7h.6M309.5 73h.6M309.5 72.7h.6M309.6 72.7h.6M309.8 72.9h.6M309.8 72.6h.6M309.8 72.9h.6M309.9 72.9h.6M310 73h.6M310 73.3h.6M310.1 73.3h.6M310.2 73h.6M310.5 73.2h.6M310.5 72.6h.6M310.5 73.3h.6M310.6 72.6h.6M310.6 73.2h.6M310.6 73.3h.6M310.6 72.9h.6M310.7 73.3h.6M310.9 73.3h.6M311.1 73.5h.6M311.3 72.5h.6M311.3 73.2h.6M311.3 72.7h.6M311.4 73h.6M311.4 73h.6M311.7 72.7h.6M311.7 73h.6M311.8 72.7h.6M311.8 73.4h.6M311.8 73h.6M311.9 72.9h.6M311.9 73.2h.6M312 73.4h.6M312.2 73h.6M312.2 72.6h.6M312.2 72.8h.6M312.2 72.7h.6M312.5 73.1h.6M312.5 73.3h.6M312.8 72.7h.6M312.9 73.1h.6M312.9 72.6h.6M313 72.9h.6M313 73.5h.6M313.1 73h.6M313.3 72.6h.6M313.4 72.9h.6M313.5 73.2h.6M313.5 72.7h.6M313.6 73.2h.6M313.6 73.4h.6M313.7 72.8h.6M313.8 72.8h.6M313.8 72.6h.6M313.8 73.5h.6M313.9 73.2h.6M314 73h.6M314.2 72.9h.6M314.2 73.5h.6M314.2 73.1h.6M314.3 72.8h.6M314.3 73h.6M314.4 72.9h.6M314.5 73h.6M314.6 73.2h.6M314.6 73.4h.6M314.7 73.2h.6M314.7 72.9h.6M314.8 73.2h.6M314.9 73.5h.6M315 73.1h.6M315 73h.6M315 73.4h.6M315.1 72.9h.6M315.1 73.1h.6M315.2 72.8h.6M315.4 73h.6M315.4 73.4h.6M315.5 72.9h.6M315.6 73.3h.6M315.6 73.1h.6M315.7 72.9h.6M315.7 72.7h.6M315.9 73.3h.6M316 73.2h.6M316.3 73.2h.6M316.4 73.2h.6M316.9 73.2h.6M316.9 72.8h.6M317 72.9h.6M317.9 73h.6M318.2 72.5h.6M318.2 73.5h.6M318.3 72.9h.6M319.6 73.4h.6M319.7 73.4h.6M319.9 73.1h.6M321 73.3h.6M321.6 72.6h.6M279.2 73.8h.6M280.9 73.8h.6M281.4 73.7h.6M282.1 74.4h.6M282.2 74.3h.6M282.2 74.4h.6M283 74.5h.6M283.4 74.5h.6M283.7 73.6h.6M283.9 74.4h.6M284.1 73.7h.6M284.3 74.1h.6M284.5 73.9h.6M285.3 73.7h.6M285.4 74.1h.6M285.5 74.3h.6M285.6 73.8h.6M285.6 73.9h.6M285.7 73.8h.6M285.7 74.1h.6M285.7 73.9h.6M285.8 73.8h.6M285.8 73.6h.6M286 74.3h.6M286.1 73.9h.6M286.4 73.9h.6M286.4 73.9h.6M286.4 74h.6M286.6 74.3h.6M286.7 73.8h.6M286.9 74h.6M287 73.8h.6M287.3 74.5h.6M287.3 73.9h.6M287.5 74.1h.6M287.7 74.3h.6M287.8 73.8h.6M288.2 73.7h.6M288.5 73.5h.6M288.7 74.4h.6M288.8 74.2h.6M288.8 73.8h.6M289.1 73.8h.6M289.3 74h.6M289.5 74.3h.6M289.7 73.7h.6M290.1 73.8h.6M290.9 74.4h.6M292.2 74.4h.6M292.3 74.2h.6M292.7 74.1h.6M293.2 74.1h.6M293.4 73.7h.6M293.6 73.6h.6M293.8 73.9h.6M294.8 74.2h.6M295 73.8h.6M295.5 74h.6M297 73.8h.6M297 73.6h.6M297.5 74.1h.6M299.7 74h.6M304.4 73.8h.6M305.6 73.8h.6M305.8 74.2h.6M306.2 74.5h.6M306.4 74.2h.6M307.3 74.1h.6M307.3 73.8h.6M307.4 74.3h.6M307.6 73.7h.6M307.9 74h.6M308 74.3h.6M308.5 73.9h.6M308.7 73.8h.6M308.8 74.5h.6M308.9 74.3h.6M309 74.4h.6M309 74.3h.6M309.1 73.9h.6M309.2 74.4h.6M309.3 74.1h.6M309.3 74.1h.6M309.3 74.2h.6M309.4 74.2h.6M309.4 74.1h.6M309.7 73.9h.6M309.8 73.8h.6M309.8 74.5h.6M309.8 74.5h.6M309.9 74.5h.6M309.9 73.7h.6M309.9 73.8h.6M309.9 74.5h.6M310 73.9h.6M310 74.2h.6M310 74.3h.6M310.2 74.1h.6M310.3 73.9h.6M310.3 74.4h.6M310.3 74.2h.6M310.4 74h.6M310.5 73.7h.6M310.6 74.5h.6M310.6 74.1h.6M310.8 74.4h.6M310.8 74.3h.6M310.8 74.5h.6M310.8 73.5h.6M310.9 73.8h.6M311 74.1h.6M311 74.1h.6M311 74.4h.6M311.1 74.5h.6M311.1 73.9h.6M311.2 73.8h.6M311.2 74.3h.6M311.3 74.5h.6M311.3 74.2h.6M311.4 73.8h.6M311.4 74h.6M311.4 74h.6M311.4 74.2h.6M311.5 74.2h.6M311.6 73.7h.6M311.7 74.4h.6M311.7 73.9h.6M311.9 74h.6M312 73.7h.6M312 73.7h.6M312.1 74.1h.6M312.1 73.6h.6M312.2 73.8h.6M312.2 74.4h.6M312.2 74.2h.6M312.4 73.8h.6M312.5 73.8h.6M312.5 74h.6M312.7 74.4h.6M312.7 73.9h.6M312.7 73.9h.6M312.8 73.8h.6M312.8 74h.6M312.8 73.7h.6M312.9 73.6h.6M313 74.3h.6M313 74.2h.6M313.1 74.1h.6M313.1 74.4h.6M313.1 73.7h.6M313.2 73.8h.6M313.4 73.6h.6M313.4 73.6h.6M313.4 73.9h.6M313.5 73.9h.6M313.6 73.9h.6M313.7 73.8h.6M313.7 73.9h.6M313.7 74.2h.6M313.8 74h.6M313.9 74.5h.6M314.1 74h.6M314.2 74.1h.6M314.2 73.9h.6M314.3 73.6h.6M314.5 74.4h.6M314.5 74.2h.6M314.5 74h.6M314.6 73.5h.6M314.6 74.4h.6M314.6 74.1h.6M314.7 74.4h.6M314.7 73.8h.6M314.7 74.1h.6M314.8 74.1h.6M314.8 73.6h.6M314.9 73.6h.6M314.9 74.3h.6M315 74.1h.6M315 73.7h.6M315 73.8h.6M315 74.3h.6M315.1 74.2h.6M315.1 73.6h.6M315.5 74h.6M315.6 73.8h.6M315.7 74h.6M315.8 74.3h.6M315.9 74h.6M315.9 74.3h.6M316.2 73.9h.6M316.3 74.4h.6M316.3 73.9h.6M316.8 74.3h.6M316.9 74.3h.6M316.9 74.1h.6M316.9 73.8h.6M316.9 74.2h.6M317.1 73.7h.6M317.3 74.2h.6M317.5 73.8h.6M317.7 73.7h.6M317.9 74.2h.6M318.1 74.2h.6M318.2 73.5h.6M318.2 74h.6M318.5 74.3h.6M319.8 74.3h.6M279.2 75.2h.6M280.2 75h.6M281.3 74.8h.6M282.6 74.5h.6M282.8 74.9h.6M283.3 74.6h.6M283.3 74.6h.6M283.5 74.7h.6M284.6 74.9h.6M284.7 74.7h.6M284.7 75.5h.6M285.1 75.4h.6M285.1 75.4h.6M285.2 74.6h.6M285.7 74.7h.6M285.8 75h.6M286.2 74.7h.6M286.5 74.6h.6M287.7 75.3h.6M287.9 75.4h.6M288 74.7h.6M288 74.6h.6M288 74.6h.6M288.2 74.5h.6M289.1 74.6h.6M289.5 74.7h.6M289.8 74.9h.6M290 75.2h.6M290.1 75.1h.6M291.1 75h.6M291.3 75.2h.6M291.4 74.6h.6M292.1 75h.6M292.6 74.8h.6M292.6 75.1h.6M292.7 75.2h.6M293.1 75.3h.6M293.3 75h.6M293.4 74.8h.6M293.7 75.4h.6M294.1 75h.6M294.5 75.2h.6M295.1 75.1h.6M296.3 74.8h.6M302.6 75.2h.6M304.5 75.1h.6M305.5 74.5h.6M305.6 74.8h.6M306 75.3h.6M306.1 75.3h.6M306.2 75h.6M306.5 75.3h.6M306.5 75h.6M306.6 74.9h.6M306.8 75.5h.6M307.1 74.5h.6M307.3 75.4h.6M307.5 74.7h.6M307.5 75.1h.6M307.6 75.2h.6M307.7 74.8h.6M307.7 75.1h.6M307.9 75h.6M308 75.3h.6M308.1 74.7h.6M308.2 74.9h.6M308.4 74.9h.6M308.4 75h.6M308.4 75.3h.6M308.4 75.4h.6M308.5 75.4h.6M308.6 75.4h.6M308.7 74.6h.6M308.8 75.3h.6M308.8 75.1h.6M308.9 74.7h.6M308.9 74.5h.6M308.9 75.3h.6M309 74.9h.6M309.1 75h.6M309.1 75.3h.6M309.2 75.4h.6M309.2 75h.6M309.2 74.8h.6M309.3 75.4h.6M309.3 75.3h.6M309.3 74.8h.6M309.3 74.8h.6M309.5 75.2h.6M309.5 75.3h.6M309.6 74.9h.6M309.6 74.6h.6M309.6 75h.6M309.6 74.7h.6M309.8 74.9h.6M309.9 74.9h.6M310 74.7h.6M310.1 75.1h.6M310.1 75h.6M310.2 74.8h.6M310.2 74.6h.6M310.3 74.5h.6M310.5 75.3h.6M310.9 74.6h.6M311 75.3h.6M311 75.4h.6M311.1 74.7h.6M311.1 74.7h.6M311.3 74.6h.6M311.3 75.3h.6M311.3 75h.6M311.3 74.6h.6M311.4 74.9h.6M311.5 75.4h.6M311.6 74.8h.6M311.6 74.8h.6M311.6 75.4h.6M311.7 74.8h.6M311.7 75h.6M311.8 74.7h.6M311.9 74.7h.6M311.9 74.6h.6M312 74.7h.6M312.1 75.3h.6M312.1 75.2h.6M312.1 75.3h.6M312.1 75.3h.6M312.1 75h.6M312.2 75.2h.6M312.2 74.7h.6M312.2 75.3h.6M312.2 74.7h.6M312.2 74.7h.6M312.3 75.4h.6M312.5 74.9h.6M312.6 74.9h.6M312.6 75.4h.6M312.6 74.9h.6M312.8 74.8h.6M312.8 74.8h.6M312.8 75.1h.6M312.9 75h.6M312.9 74.6h.6M312.9 75.4h.6M313 74.9h.6M313.1 75.4h.6M313.1 75.4h.6M313.2 75h.6M313.2 75.4h.6M313.3 74.9h.6M313.5 74.9h.6M313.6 75.2h.6M313.9 75.1h.6M313.9 74.5h.6M314.2 75.2h.6M314.2 74.5h.6M314.2 75h.6M314.4 74.6h.6M314.7 75h.6M314.7 74.5h.6M314.8 74.8h.6M314.9 74.6h.6M314.9 75.5h.6M315 75.3h.6M315.1 74.6h.6M315.1 74.8h.6M315.2 75.4h.6M315.3 75.3h.6M315.3 75.3h.6M315.4 75.2h.6M315.4 74.5h.6M315.5 74.8h.6M315.5 74.9h.6M315.6 74.9h.6M315.7 74.8h.6M315.8 74.5h.6M315.8 74.9h.6M315.9 74.7h.6M316.2 74.6h.6M316.2 75.4h.6M316.3 75.1h.6M316.3 75.1h.6M316.5 74.5h.6M316.7 74.7h.6M317 75.2h.6M317.2 75h.6M317.3 74.9h.6M317.3 75.2h.6M317.3 75.3h.6M318 74.7h.6M318.2 75.2h.6M318.4 74.8h.6M318.5 74.6h.6M318.5 75.1h.6M318.7 75.3h.6M318.8 75.2h.6M320.6 75.5h.6M279.2 75.9h.6M280.1 75.7h.6M280.9 75.9h.6M281 76.1h.6M281.3 76h.6M281.5 76.3h.6M281.6 76.2h.6M282.1 76.3h.6M282.3 76.3h.6M282.4 76h.6M283.9 76.1h.6M283.9 76h.6M284.1 76.3h.6M284.1 75.9h.6M284.1 76.4h.6M284.3 76.1h.6M284.3 75.7h.6M284.6 76.1h.6M285.1 76.1h.6M285.3 76.2h.6M285.4 75.6h.6M285.4 75.6h.6M286.5 75.7h.6M286.6 76.5h.6M286.6 76.3h.6M286.7 75.6h.6M286.8 75.9h.6M287 75.6h.6M287.7 75.8h.6M287.9 75.6h.6M288.5 76.2h.6M288.8 76h.6M289.5 76.3h.6M290.1 76h.6M290.6 76h.6M291.5 75.5h.6M291.8 75.6h.6M292 75.9h.6M292.8 76.2h.6M293 76h.6M293.7 76.2h.6M295 76h.6M295.5 76.1h.6M296.5 75.7h.6M298.6 75.5h.6M302.6 75.9h.6M303.1 75.5h.6M304.4 75.5h.6M304.5 76.3h.6M304.7 75.7h.6M305 76.3h.6M305.2 76.2h.6M306 76.3h.6M306.1 76.1h.6M306.1 76.4h.6M306.7 76.2h.6M306.7 76.1h.6M307 76.3h.6M307.6 75.6h.6M307.8 75.9h.6M307.9 76.2h.6M307.9 76h.6M308 76.4h.6M308.2 76h.6M308.2 75.7h.6M308.3 76.5h.6M308.4 75.9h.6M308.5 75.5h.6M308.6 76.1h.6M308.6 75.8h.6M308.6 75.6h.6M308.6 75.9h.6M308.7 75.9h.6M308.7 75.8h.6M308.7 75.6h.6M308.8 76h.6M308.8 76.1h.6M308.9 76.5h.6M308.9 76.2h.6M308.9 75.7h.6M309 76h.6M309 76h.6M309.2 76.1h.6M309.4 75.8h.6M309.5 75.8h.6M309.5 76.3h.6M309.6 75.9h.6M309.6 75.6h.6M309.7 76h.6M309.8 75.9h.6M309.8 75.9h.6M309.9 75.7h.6M309.9 75.8h.6M309.9 75.8h.6M310 76.3h.6M310.1 75.9h.6M310.2 76.4h.6M310.2 75.7h.6M310.2 75.6h.6M310.3 75.9h.6M310.4 76.3h.6M310.5 76.2h.6M310.5 76.4h.6M310.6 76.2h.6M310.6 75.6h.6M310.7 76.4h.6M310.7 76h.6M310.7 76.3h.6M310.8 76.3h.6M310.8 76.2h.6M310.9 75.6h.6M311 75.7h.6M311.1 76.4h.6M311.1 75.7h.6M311.1 76.4h.6M311.2 76.3h.6M311.2 75.6h.6M311.3 75.6h.6M311.3 76.4h.6M311.3 76h.6M311.3 76.2h.6M311.3 75.9h.6M311.4 75.7h.6M311.4 76.2h.6M311.4 75.6h.6M311.4 76.1h.6M311.5 76.4h.6M311.6 75.7h.6M311.6 76.3h.6M311.8 75.9h.6M311.8 76.2h.6M311.9 76h.6M312 75.8h.6M312 75.6h.6M312.1 75.6h.6M312.1 75.8h.6M312.1 76.3h.6M312.1 76.2h.6M312.2 76.4h.6M312.2 75.6h.6M312.2 75.7h.6M312.3 75.7h.6M312.3 75.7h.6M312.3 76h.6M312.4 76.4h.6M312.4 76.2h.6M312.4 75.6h.6M312.5 76.4h.6M312.6 75.8h.6M312.7 76.2h.6M312.7 76.5h.6M312.7 75.8h.6M312.8 75.5h.6M312.8 76.1h.6M312.8 75.9h.6M312.8 76h.6M312.8 76.4h.6M312.8 76.4h.6M312.8 76.1h.6M312.9 75.9h.6M312.9 75.7h.6M313 76.2h.6M313.1 76h.6M313.1 76h.6M313.2 76h.6M313.3 75.6h.6M313.3 75.8h.6M313.5 75.9h.6M313.5 76.2h.6M313.6 76.4h.6M313.6 76.3h.6M313.6 76.4h.6M313.7 76.4h.6M313.7 75.5h.6M313.8 76.1h.6M313.8 75.9h.6M313.9 75.8h.6M313.9 75.9h.6M314 76.2h.6M314 75.8h.6M314.1 76.2h.6M314.3 76.3h.6M314.4 75.6h.6M314.7 76.2h.6M314.7 75.6h.6M314.8 75.8h.6M314.8 75.8h.6M315 75.5h.6M315.2 75.7h.6M315.3 75.5h.6M315.3 75.6h.6M315.4 76.2h.6M315.5 75.8h.6M315.6 75.7h.6M315.6 75.9h.6M315.7 76.4h.6M315.8 76h.6M315.9 75.8h.6M315.9 76.5h.6M316 75.7h.6M316.1 75.9h.6M316.1 75.9h.6M316.1 75.9h.6M316.1 75.7h.6M316.5 75.6h.6M316.6 76.1h.6M316.7 75.7h.6M316.8 75.8h.6M316.8 75.8h.6M316.8 75.8h.6M317.3 75.6h.6M317.4 75.8h.6M317.8 76h.6M317.8 76.1h.6M318 75.7h.6M318 76.4h.6M318.2 75.8h.6M318.2 76.3h.6M318.6 76h.6M319.7 75.7h.6M319.9 75.7h.6M280 77.2h.6M280.7 76.6h.6M281.2 77.2h.6M283.4 77.4h.6M283.6 77.1h.6M283.8 77.3h.6M284.9 76.7h.6M286 77.3h.6M286.5 77h.6M286.5 76.7h.6M286.7 76.9h.6M287.4 77.1h.6M287.7 77.2h.6M288.5 76.9h.6M288.5 76.8h.6M288.8 77.1h.6M289 76.7h.6M289 76.7h.6M289 77.3h.6M289.1 76.8h.6M289.3 76.7h.6M289.4 76.8h.6M290.7 76.7h.6M291.3 76.7h.6M291.4 77.3h.6M291.5 77.1h.6M291.5 77.1h.6M291.7 76.7h.6M291.8 76.5h.6M294.2 76.9h.6M294.9 77.4h.6M295 77.5h.6M296 77.5h.6M296.2 77.2h.6M301.2 77.2h.6M303.5 77.3h.6M303.7 77h.6M304.1 77.3h.6M304.5 76.9h.6M304.9 76.6h.6M306.2 77.2h.6M306.6 77.4h.6M306.8 76.6h.6M307.2 77.2h.6M307.5 76.8h.6M307.8 76.8h.6M307.9 76.8h.6M308 77.2h.6M308.1 76.8h.6M308.2 77.1h.6M308.2 76.9h.6M308.2 77h.6M308.2 77h.6M308.3 76.7h.6M308.3 76.5h.6M308.7 76.9h.6M308.8 77.1h.6M309 76.6h.6M309.1 76.8h.6M309.4 76.6h.6M309.5 76.5h.6M309.5 77.4h.6M309.5 77.5h.6M309.6 77h.6M309.8 76.8h.6M309.8 76.8h.6M309.9 76.9h.6M309.9 77.1h.6M310 77.2h.6M310.1 76.9h.6M310.2 77.4h.6M310.2 76.6h.6M310.3 77h.6M310.5 76.9h.6M310.5 77h.6M310.6 77h.6M310.6 76.7h.6M310.6 77.5h.6M310.7 76.9h.6M310.8 76.9h.6M310.9 76.5h.6M311 77.4h.6M311 76.9h.6M311 77.2h.6M311 77.2h.6M311 76.8h.6M311 76.9h.6M311.2 77.4h.6M311.3 77.4h.6M311.4 77.4h.6M311.4 77.4h.6M311.5 77.5h.6M311.5 77.3h.6M311.5 77.4h.6M311.5 77.2h.6M311.6 76.8h.6M311.6 77.2h.6M311.7 77.1h.6M312 77.3h.6M312.1 77.4h.6M312.2 76.8h.6M312.2 77.2h.6M312.2 77.2h.6M312.3 77.5h.6M312.3 77.5h.6M312.3 77h.6M312.3 76.6h.6M312.4 76.7h.6M312.4 77.5h.6M312.5 77.5h.6M312.5 77.5h.6M312.5 77.2h.6M312.5 77h.6M312.6 76.9h.6M312.6 77.3h.6M312.7 77.5h.6M312.8 77h.6M312.8 77.4h.6M312.8 77.2h.6M312.9 77.4h.6M312.9 77h.6M312.9 77h.6M313 76.5h.6M313 77.2h.6M313.1 77.1h.6M313.2 77.2h.6M313.2 77.4h.6M313.3 76.6h.6M313.3 77.5h.6M313.4 76.7h.6M313.5 77.1h.6M313.6 76.8h.6M313.6 76.9h.6M313.7 77.3h.6M313.8 77.4h.6M313.9 76.9h.6M313.9 77.1h.6M314 76.6h.6M314.1 76.6h.6M314.2 77.5h.6M314.2 76.7h.6M314.2 76.7h.6M314.3 77.3h.6M314.4 76.5h.6M314.4 77.2h.6M314.5 77.2h.6M314.5 77.1h.6M314.5 77.3h.6M314.6 77h.6M314.6 76.5h.6M314.6 77.5h.6M314.6 77.2h.6M314.7 76.7h.6M315 76.9h.6M315.1 77.4h.6M315.1 76.6h.6M315.1 77.2h.6M315.4 77.2h.6M315.4 77.1h.6M315.5 76.6h.6M315.5 77.4h.6M315.6 76.8h.6M316 77h.6M316 76.8h.6M316.1 77.2h.6M316.1 77.3h.6M316.4 76.8h.6M316.5 76.8h.6M316.9 77.2h.6M317.1 76.7h.6M317.2 77.4h.6M317.4 77.1h.6M317.4 76.9h.6M317.4 77.2h.6M317.5 76.8h.6M317.6 77.1h.6M317.9 77.3h.6M318.1 77.4h.6M318.1 77.2h.6M319.2 77.3h.6M320 77.4h.6M320.4 77h.6M320.7 76.6h.6M279.2 77.9h.6M280.8 78.4h.6M282.5 78h.6M282.9 78h.6M283.9 78.3h.6M283.9 77.5h.6M285.2 77.6h.6M285.5 78.2h.6M286.3 78.1h.6M287.2 78.3h.6M287.2 77.8h.6M287.3 77.9h.6M287.5 78.4h.6M288.5 77.9h.6M288.6 78.3h.6M289 78h.6M289.2 78.4h.6M289.4 77.7h.6M289.9 78.1h.6M290.2 78h.6M290.2 77.6h.6M290.4 78.1h.6M290.7 77.9h.6M290.8 78.4h.6M291.1 77.6h.6M291.1 78.4h.6M291.3 77.8h.6M291.4 77.9h.6M291.6 78.4h.6M291.6 78.1h.6M292.1 78.5h.6M292.1 78.5h.6M292.9 77.8h.6M293 77.8h.6M293.3 77.5h.6M301.4 77.6h.6M303 77.9h.6M305.3 78.3h.6M305.9 77.6h.6M306 78h.6M306.4 78h.6M306.6 77.5h.6M307.1 77.6h.6M307.5 77.8h.6M307.6 78.4h.6M307.8 77.7h.6M307.9 77.7h.6M308.2 78.4h.6M308.2 78.4h.6M308.3 78.4h.6M308.3 78.2h.6M308.3 77.9h.6M308.5 78h.6M308.5 77.9h.6M308.5 77.8h.6M308.8 77.9h.6M308.8 77.8h.6M308.9 77.6h.6M309.1 77.9h.6M309.2 78.3h.6M309.4 77.8h.6M309.5 78.5h.6M309.5 78h.6M309.6 78.4h.6M309.7 78.4h.6M309.8 78.4h.6M310.1 77.7h.6M310.1 78.2h.6M310.1 78.5h.6M310.3 77.7h.6M310.3 78.2h.6M310.3 77.6h.6M310.3 78.3h.6M310.6 77.9h.6M310.7 78.4h.6M310.8 77.8h.6M310.8 78h.6M311 77.7h.6M311.1 77.8h.6M311.1 78.1h.6M311.2 78.4h.6M311.2 77.9h.6M311.3 77.7h.6M311.3 77.6h.6M311.3 78h.6M311.3 78.5h.6M311.4 77.6h.6M311.5 78.2h.6M311.6 78h.6M311.6 78.4h.6M311.6 77.7h.6M311.6 78.1h.6M311.7 77.7h.6M311.8 78h.6M311.9 77.9h.6M311.9 77.6h.6M311.9 78.3h.6M312 78.3h.6M312.1 78.4h.6M312.2 77.9h.6M312.2 78.4h.6M312.4 78.3h.6M312.6 78.3h.6M312.6 77.8h.6M312.6 78.4h.6M312.6 77.6h.6M312.7 78.5h.6M312.7 78.3h.6M312.8 78.1h.6M312.9 77.6h.6M312.9 78.5h.6M313 78.4h.6M313 77.6h.6M313 77.5h.6M313.1 78.2h.6M313.1 78h.6M313.3 78.4h.6M313.4 78.1h.6M313.4 78.1h.6M313.4 78.5h.6M313.4 78.2h.6M313.5 77.7h.6M313.6 78.4h.6M313.6 77.6h.6M313.7 78.4h.6M314 77.9h.6M314.1 77.5h.6M314.1 78.4h.6M314.1 78.4h.6M314.1 77.9h.6M314.3 77.7h.6M314.3 78.5h.6M314.4 78.4h.6M314.4 78.3h.6M314.5 77.6h.6M314.6 78h.6M314.7 78.3h.6M314.8 77.8h.6M314.9 78.5h.6M315 77.9h.6M315 77.7h.6M315 77.7h.6M315.1 77.7h.6M315.3 78.2h.6M315.3 77.8h.6M315.5 77.7h.6M315.7 78.2h.6M315.8 77.8h.6M315.8 78.4h.6M315.8 78.5h.6M315.9 77.6h.6M315.9 78.1h.6M316 78.2h.6M316.3 78.1h.6M316.4 77.7h.6M316.4 78.2h.6M316.6 77.6h.6M316.7 78.2h.6M316.9 77.8h.6M317.3 77.8h.6M317.6 77.7h.6M317.8 77.7h.6M318.4 78.4h.6M318.7 77.9h.6M319.3 77.8h.6M319.7 77.8h.6M319.8 78h.6M281.2 78.7h.6M282.4 78.9h.6M282.4 79.1h.6M282.5 78.9h.6M283.2 78.7h.6M283.2 79.4h.6M283.6 79.2h.6M284 78.6h.6M285.2 78.9h.6M285.6 78.7h.6M286 78.7h.6M286.2 79.5h.6M287 78.6h.6M287.3 78.8h.6M288.3 79.4h.6M288.4 79.2h.6M288.7 78.9h.6M288.9 79h.6M289.6 79.4h.6M289.8 79.4h.6M289.8 78.7h.6M290.5 78.7h.6M290.9 78.6h.6M291.2 79.2h.6M291.9 79.5h.6M291.9 78.7h.6M293.2 79.2h.6M294.1 78.9h.6M294.9 79.2h.6M303.3 78.7h.6M303.7 79.3h.6M305.8 79h.6M306.1 79h.6M306.6 79.4h.6M306.7 78.5h.6M307.2 78.9h.6M307.6 78.9h.6M308 78.7h.6M308 78.6h.6M308.1 78.6h.6M308.1 78.5h.6M308.2 79.2h.6M308.4 78.7h.6M308.5 79.3h.6M308.6 79.1h.6M309 79.4h.6M309.1 78.9h.6M309.3 79.4h.6M309.4 79.1h.6M309.5 79.1h.6M309.5 79.3h.6M309.6 79h.6M309.6 79h.6M309.7 78.8h.6M309.7 78.8h.6M309.8 78.9h.6M309.8 79.5h.6M309.8 79.2h.6M309.8 78.7h.6M309.8 78.9h.6M309.9 78.7h.6M309.9 78.8h.6M310 79.2h.6M310.1 79.3h.6M310.1 78.6h.6M310.1 79.3h.6M310.1 79.3h.6M310.1 79.3h.6M310.2 79.5h.6M310.2 79.4h.6M310.3 79h.6M310.4 78.6h.6M310.5 79.1h.6M310.6 79h.6M310.7 78.6h.6M311 79h.6M311.1 79.4h.6M311.1 78.6h.6M311.2 78.7h.6M311.3 78.8h.6M311.4 78.6h.6M311.4 79.5h.6M311.5 78.6h.6M311.5 78.9h.6M311.6 79.2h.6M311.6 79.1h.6M311.7 78.8h.6M311.7 79h.6M311.7 78.9h.6M311.7 79h.6M311.8 79.3h.6M311.8 78.6h.6M311.8 78.8h.6M311.9 78.8h.6M311.9 79.2h.6M312 78.9h.6M312 78.6h.6M312 78.6h.6M312 78.8h.6M312.1 78.8h.6M312.1 79.2h.6M312.1 79.4h.6M312.1 78.7h.6M312.2 79.4h.6M312.3 79.3h.6M312.3 79.3h.6M312.4 79.4h.6M312.5 79.5h.6M312.5 78.6h.6M312.5 79.4h.6M312.5 79.4h.6M312.6 79h.6M312.7 79.4h.6M312.8 79.1h.6M312.8 79.2h.6M312.9 79.1h.6M313 79.1h.6M313 79h.6M313 79.2h.6M313 79.1h.6M313.1 79.2h.6M313.1 79.3h.6M313.2 79.2h.6M313.2 78.6h.6M313.2 79h.6M313.3 78.6h.6M313.3 79.3h.6M313.5 78.5h.6M313.5 78.6h.6M313.7 79.5h.6M313.7 78.6h.6M313.7 78.7h.6M313.7 78.5h.6M314 79.2h.6M314.1 79.2h.6M314.4 79.5h.6M314.5 79.2h.6M314.5 79.5h.6M314.7 79.1h.6M314.7 79h.6M314.8 78.7h.6M314.9 79.4h.6M314.9 79.5h.6M315.1 79.3h.6M315.2 79h.6M315.4 78.9h.6M315.6 78.9h.6M315.7 79.2h.6M316.2 79h.6M316.8 78.8h.6M316.8 79h.6M316.9 78.6h.6M317.2 79.3h.6M317.3 79h.6M317.3 79.4h.6M317.3 79.5h.6M317.6 78.7h.6M317.6 78.9h.6M317.8 79.4h.6M318.1 79.2h.6M318.8 79h.6M318.9 79h.6M319.1 79.3h.6M319.3 79h.6M319.3 79h.6M319.6 78.8h.6M322.3 78.7h.6M281.1 80h.6M281.7 80.4h.6M283.1 80.3h.6M284.2 80.2h.6M284.7 80h.6M285.8 79.8h.6M286.4 79.6h.6M287.3 80.4h.6M287.4 79.7h.6M288 79.9h.6M288.2 79.8h.6M288.6 80.2h.6M289.1 79.5h.6M289.9 79.8h.6M290.1 80h.6M290.8 79.7h.6M291.5 80.1h.6M291.5 80h.6M292.3 79.8h.6M292.3 80.4h.6M297.6 80.1h.6M304.9 79.9h.6M306.1 80.4h.6M306.3 79.7h.6M306.4 80h.6M306.8 79.5h.6M306.9 80.3h.6M307.2 79.8h.6M307.4 80h.6M307.6 79.9h.6M308.3 79.9h.6M308.6 79.7h.6M308.6 79.7h.6M308.7 80h.6M309.1 80h.6M309.1 79.9h.6M309.1 79.7h.6M309.3 79.6h.6M309.4 79.9h.6M309.4 79.6h.6M309.5 79.7h.6M309.5 80.4h.6M309.5 79.5h.6M309.5 80.3h.6M309.6 79.6h.6M309.7 79.8h.6M309.8 80.2h.6M309.8 79.9h.6M310 79.7h.6M310 79.7h.6M310 80h.6M310.1 80.3h.6M310.2 79.7h.6M310.2 80.2h.6M310.2 79.6h.6M310.3 79.7h.6M310.3 79.6h.6M310.4 79.5h.6M310.6 79.7h.6M310.7 79.8h.6M310.7 80.3h.6M310.7 80.2h.6M310.8 80.4h.6M311 80.4h.6M311 79.7h.6M311.2 80.4h.6M311.2 79.8h.6M311.2 79.6h.6M311.2 80.3h.6M311.3 79.9h.6M311.3 80.5h.6M311.6 79.8h.6M311.6 80.1h.6M311.6 79.9h.6M311.8 80.2h.6M311.8 79.5h.6M311.8 79.9h.6M311.9 80.3h.6M312 79.8h.6M312.1 80h.6M312.2 79.7h.6M312.3 79.5h.6M312.5 80.5h.6M312.5 79.9h.6M312.5 80.3h.6M312.5 80.1h.6M312.6 80.3h.6M312.7 79.9h.6M312.8 80.4h.6M312.9 80.4h.6M312.9 80.2h.6M313 80.3h.6M313.1 80.3h.6M313.1 79.9h.6M313.2 79.9h.6M313.4 80.4h.6M313.5 79.5h.6M313.5 80.3h.6M313.6 79.6h.6M313.7 80.4h.6M313.9 79.9h.6M313.9 79.6h.6M314 80.4h.6M314.1 80.3h.6M314.1 80.1h.6M314.3 79.6h.6M314.3 79.6h.6M314.3 80.1h.6M314.3 79.6h.6M314.3 80.3h.6M314.4 80h.6M314.6 80h.6M314.7 79.6h.6M314.7 80h.6M314.7 80.2h.6M314.9 80.4h.6M314.9 80.4h.6M315.1 79.7h.6M315.3 79.7h.6M315.9 80h.6M316.4 79.9h.6M316.4 79.5h.6M316.7 79.6h.6M316.9 79.9h.6M317.6 79.6h.6M317.7 80.2h.6M318 79.8h.6M318 80.2h.6M318.2 80.4h.6M318.3 80.3h.6M318.8 79.8h.6M318.9 79.5h.6M318.9 79.8h.6M319.1 79.5h.6M319.4 80.2h.6M279.5 80.7h.6M283.5 81.2h.6M283.6 81.5h.6M283.7 81.3h.6M284.6 80.5h.6M286.3 81.4h.6M286.3 81.5h.6M286.4 81.4h.6M287.6 81.3h.6M288.7 80.8h.6M291 81h.6M291.1 81h.6M293.4 81.3h.6M296.4 80.9h.6M297.6 80.7h.6M304.8 81.2h.6M305 80.6h.6M305.9 81h.6M306.6 81.3h.6M306.7 81.4h.6M306.9 81.3h.6M308.5 81.2h.6M308.5 80.6h.6M308.8 80.9h.6M308.8 81.3h.6M308.8 81.5h.6M308.9 81.4h.6M309 80.7h.6M309 80.5h.6M309.1 81.2h.6M309.2 81h.6M309.2 81.4h.6M309.3 81.4h.6M309.7 80.8h.6M309.8 80.7h.6M310.1 81.5h.6M310.1 81.4h.6M310.3 80.5h.6M310.3 81.1h.6M310.5 81.1h.6M310.6 80.9h.6M310.6 80.7h.6M310.7 81.5h.6M310.7 80.7h.6M310.8 80.6h.6M310.8 80.7h.6M310.9 80.6h.6M311 81.4h.6M311.1 80.9h.6M311.2 80.9h.6M311.3 80.5h.6M311.3 81h.6M311.3 80.9h.6M311.5 81h.6M311.5 81.4h.6M311.5 81.3h.6M311.6 81.5h.6M311.8 80.5h.6M311.9 81.1h.6M312.7 80.6h.6M312.9 81h.6M312.9 80.6h.6M312.9 81.4h.6M312.9 80.7h.6M313 80.9h.6M313.1 81h.6M313.2 81.3h.6M313.3 80.5h.6M313.4 81.3h.6M313.4 80.9h.6M313.6 81h.6M313.7 81.2h.6M313.8 81.1h.6M313.8 81.5h.6M313.9 81h.6M313.9 81h.6M314.1 81.4h.6M314.2 80.9h.6M314.4 81h.6M314.5 81.3h.6M314.5 81.2h.6M314.8 81.3h.6M314.9 80.9h.6M315 80.9h.6M315 81.5h.6M315.4 80.8h.6M315.5 81h.6M315.5 80.9h.6M315.8 81h.6M315.9 81.1h.6M316.3 80.6h.6M316.3 80.5h.6M316.3 80.8h.6M316.9 80.7h.6M318 80.5h.6M318.1 81.1h.6M318.4 81.5h.6M284.6 81.6h.6M288.8 82.5h.6M289.2 81.7h.6M289.6 81.6h.6M291.1 81.8h.6M292.8 82.3h.6M307 82.2h.6M307.8 81.6h.6M308.2 82.1h.6M308.4 81.9h.6M308.5 82h.6M308.8 81.7h.6M309 82.1h.6M309.4 81.5h.6M309.4 82.2h.6M309.4 82.3h.6M309.8 82h.6M309.9 82.3h.6M310 82.1h.6M310.2 81.7h.6M310.3 82.3h.6M310.5 81.8h.6M310.6 82.2h.6M311.4 82h.6M311.4 82.3h.6M311.6 82h.6M311.6 82.1h.6M311.7 82.5h.6M311.8 81.8h.6M311.9 81.6h.6M311.9 81.7h.6M312 82h.6M312 81.8h.6M312.1 82.3h.6M312.2 81.8h.6M312.3 82.1h.6M312.4 81.6h.6M312.5 82.3h.6M312.9 82.2h.6M312.9 82.3h.6M313 81.7h.6M313.1 82.1h.6M313.2 81.5h.6M313.4 81.6h.6M313.4 82.2h.6M313.5 81.5h.6M313.5 81.8h.6M313.5 82.2h.6M313.5 82.3h.6M313.6 81.5h.6M313.8 81.9h.6M314.5 81.8h.6M314.5 81.5h.6M314.5 81.8h.6M314.6 81.6h.6M314.7 82.2h.6M314.8 81.9h.6M314.8 81.9h.6M314.9 81.9h.6M315.2 82.1h.6M315.2 82.2h.6M315.3 81.9h.6M315.5 82h.6M315.9 82h.6M316 81.6h.6M316.1 81.9h.6M316.5 81.7h.6M316.6 82.2h.6M317.2 82.4h.6M317.3 81.9h.6M317.3 81.7h.6M317.4 82.4h.6M317.8 82.1h.6M320.2 82.2h.6M323.2 82.1h.6M280 83.4h.6M281 83.3h.6M282.9 83.5h.6M285.6 82.7h.6M286.1 83.3h.6M287.8 83.2h.6M288.2 83.2h.6M288.5 82.8h.6M289.3 83.4h.6M289.9 82.9h.6M290.5 82.9h.6M292.1 82.8h.6M292.5 82.6h.6M297 83.3h.6M297.6 83.5h.6M297.8 83.1h.6M305.6 82.6h.6M306.4 82.7h.6M306.9 83.1h.6M307 82.8h.6M307.5 82.6h.6M307.5 83.1h.6M307.6 83.2h.6M307.6 82.5h.6M307.7 83.1h.6M308.1 82.8h.6M308.2 83.1h.6M308.2 83.3h.6M308.5 82.7h.6M308.6 82.8h.6M308.7 83.1h.6M308.8 83.2h.6M309.1 82.6h.6M309.3 83.1h.6M309.6 83h.6M309.6 82.6h.6M309.7 82.7h.6M309.8 82.6h.6M310.1 82.8h.6M310.5 83.3h.6M310.6 83.4h.6M310.7 83.4h.6M310.8 82.5h.6M311 83.4h.6M311.1 82.9h.6M311.1 82.6h.6M311.3 82.6h.6M311.5 82.9h.6M311.8 82.9h.6M311.9 83.2h.6M312 83.3h.6M312.1 83.1h.6M312.1 83.1h.6M312.5 82.6h.6M312.7 83h.6M312.8 83.1h.6M312.9 82.7h.6M313 83.4h.6M313.1 83.4h.6M313.2 82.9h.6M313.3 82.9h.6M313.3 82.6h.6M313.3 82.5h.6M313.6 82.7h.6M313.8 82.9h.6M313.8 83.4h.6M313.8 82.6h.6M313.9 82.9h.6M314 83h.6M314.3 83.1h.6M314.4 82.7h.6M314.6 83.1h.6M315.1 83h.6M316.8 82.5h.6M316.8 82.6h.6M317.3 83.3h.6M284.3 84.1h.6M288.7 84.3h.6M289.8 84h.6M290.6 83.6h.6M290.7 83.8h.6M291.6 83.9h.6M292.7 83.9h.6M305.3 84.5h.6M306.1 83.9h.6M306.3 83.7h.6M306.3 84.3h.6M306.3 83.9h.6M306.5 83.8h.6M307.9 84.2h.6M308.8 83.7h.6M309.3 84.1h.6M309.3 83.5h.6M309.5 83.5h.6M309.6 84.2h.6M309.8 83.8h.6M309.9 83.5h.6M310.8 84.1h.6M310.8 83.6h.6M310.9 83.6h.6M311.4 84.4h.6M311.4 83.9h.6M311.4 84.1h.6M311.7 83.6h.6M312 84h.6M312.3 83.8h.6M312.4 84h.6M312.8 84.2h.6M313.2 84.5h.6M313.4 84h.6M313.5 84.2h.6M313.5 84.3h.6M314.1 83.7h.6M314.2 83.6h.6M314.2 83.6h.6M314.3 83.6h.6M315.1 84.1h.6M315.1 83.7h.6M315.1 83.8h.6M315.8 84.2h.6M315.8 83.7h.6M317 83.8h.6M317 83.5h.6M319.2 83.8h.6M280.9 85.1h.6M285.3 85h.6M286.7 84.8h.6M287.2 84.7h.6M307.4 84.8h.6M308.5 84.6h.6M309.1 84.6h.6M309.8 84.7h.6M310.8 85h.6M311.2 85.1h.6M312.5 84.7h.6M313.8 84.7h.6M314.5 85h.6M315.4 84.5h.6" stroke="#000" stroke-width=".6" fill="none" opacity="1.0"/>
<path d="M318.8 32.4h.6M311.6 36.8h.6M317 36.9h.6M311.7 42.5h.6M315.5 50.7h.6M287.2 53.7h.6M290.2 57.1h.6M286.9 58.4h.6M293.3 57.8h.6M282.4 61h.6M296.7 61.3h.6M303.3 62.2h.6M304.9 62.3h.6M306.3 61.7h.6M316.1 63.4h.6M316.3 63h.6M279.1 64.1h.6M279.4 64.3h.6M281 64.4h.6M281.8 64.3h.6M287.1 64h.6M292.3 64.5h.6M294.3 63.6h.6M312.3 63.6h.6M317.3 64.4h.6M282 64.5h.6M285.9 65.1h.6M308.3 65.1h.6M309.5 64.5h.6M310 65.1h.6M311.6 64.6h.6M314.3 64.9h.6M323 65.4h.6M281.4 66.3h.6M283.5 65.7h.6M303.2 65.6h.6M305.6 65.7h.6M313.3 66h.6M302.7 67.2h.6M303.2 67h.6M306.7 67.2h.6M306.9 67.2h.6M310.6 67.1h.6M312.9 67.1h.6M316 66.8h.6M324.3 67.1h.6M333.3 66.6h.6M281.5 68.5h.6M285 68.4h.6M287.7 68.4h.6M294.5 68h.6M301.9 67.7h.6M309 68.1h.6M311.3 68.4h.6M313 67.7h.6M317 68h.6M285.7 69.3h.6M289.3 68.6h.6M290.7 69.3h.6M300.4 69.2h.6M301.9 69.5h.6M312.3 68.7h.6M314.3 68.8h.6M314.4 68.9h.6M317.3 69.5h.6M282.9 69.8h.6M284.5 69.6h.6M286 69.7h.6M289.1 70.3h.6M292.6 70.3h.6M294.9 70h.6M298.6 70.1h.6M301.4 70.4h.6M304.6 70.1h.6M305.1 70.4h.6M306.2 70.3h.6M308.8 70.4h.6M312.1 69.6h.6M315 70.1h.6M315.2 70.2h.6M321.4 70.5h.6M281.1 70.5h.6M286.9 70.7h.6M287.3 71.2h.6M287.8 70.6h.6M292 71.1h.6M296.8 71.4h.6M305.7 70.7h.6M307.2 71.2h.6M308 71.2h.6M311 70.6h.6M312.1 70.9h.6M316.5 71.2h.6M320.1 71h.6M321.8 71.1h.6M322.2 71.4h.6M326.9 71.2h.6M281.2 71.7h.6M282 71.6h.6M282.7 71.6h.6M282.7 72.1h.6M284.3 72.2h.6M287 72.4h.6M287.9 71.8h.6M293.3 71.8h.6M296.2 71.8h.6M302.5 71.5h.6M305.8 72.3h.6M306 72.1h.6M308.9 71.9h.6M311.3 72h.6M311.8 72h.6M315.7 71.6h.6M316.8 72.1h.6M318.7 71.8h.6M319.4 71.9h.6M321.9 72.3h.6M322.8 71.9h.6M335.7 71.9h.6M284.7 72.8h.6M286.3 72.7h.6M288.3 73.3h.6M295.8 73.4h.6M297.4 72.6h.6M297.5 73.3h.6M299.7 72.8h.6M306 73h.6M310.1 72.6h.6M311.4 73.1h.6M312.7 73.1h.6M314.6 72.8h.6M317 73.3h.6M319.4 73.3h.6M330.3 72.5h.6M281.6 74.1h.6M284.5 73.5h.6M285.6 74.2h.6M286.8 74.5h.6M289.2 74.1h.6M292.8 73.6h.6M293.8 74.4h.6M304.7 74.1h.6M308.7 74.1h.6M310.5 73.8h.6M310.5 74.4h.6M311 74.4h.6M312.2 74.3h.6M312.2 73.7h.6M315.1 74.3h.6M316.7 74.5h.6M318.1 73.9h.6M319.4 74.3h.6M320.8 73.6h.6M322.7 73.5h.6M324.3 74.4h.6M279.7 75.2h.6M284.4 74.8h.6M285 74.7h.6M285.2 75h.6M286.3 74.7h.6M287.2 75.1h.6M292.7 75.3h.6M297.9 74.5h.6M298.6 75.1h.6M306.7 75.3h.6M307.1 75.4h.6M307.2 75.3h.6M313.6 75.3h.6M314.9 74.6h.6M317.8 75.5h.6M318.8 75.3h.6M320.3 75.3h.6M321 74.6h.6M283.9 76h.6M284.7 75.8h.6M288.6 75.5h.6M289.4 76.3h.6M295.4 76h.6M298.6 76.2h.6M306.1 75.6h.6M308.8 76.1h.6M314.4 75.9h.6M320.5 76.1h.6M323.8 76.4h.6M324.5 76.2h.6M330.8 75.5h.6M281.5 77.4h.6M282.9 77.2h.6M287.7 76.5h.6M307.6 77.3h.6M307.7 77.3h.6M310.8 77.1h.6M311 77h.6M311.6 77.3h.6M311.7 77.5h.6M313.3 77.2h.6M316.1 77h.6M316.4 76.8h.6M317.2 76.9h.6M318 76.9h.6M319.9 76.5h.6M324.5 77h.6M285.5 78h.6M288.3 77.6h.6M295.7 77.6h.6M298.2 77.8h.6M305.7 78.2h.6M310.5 78.2h.6M314 78h.6M317 78.4h.6M318.2 77.8h.6M318.7 78h.6M318.7 77.6h.6M321 77.5h.6M321.1 78.1h.6M323.2 78.1h.6M324.1 78.3h.6M280.3 78.6h.6M283.8 78.7h.6M284.6 78.8h.6M286.7 79.3h.6M298.9 79.2h.6M309.4 78.9h.6M311.4 79h.6M312 78.8h.6M315 79h.6M319.1 79.5h.6M320.2 78.7h.6M321.1 79.1h.6M322.7 78.6h.6M281.6 79.9h.6M284.7 80.3h.6M289.7 80.1h.6M293 80.3h.6M295.6 79.9h.6M306.8 80.1h.6M310 79.5h.6M310.6 79.7h.6M313.6 79.6h.6M313.8 79.8h.6M314.9 80.3h.6M318.6 79.7h.6M318.7 80.1h.6M280.8 81.2h.6M281 81.1h.6M284.1 80.8h.6M287.4 80.8h.6M288.1 80.7h.6M294.6 80.9h.6M299 80.6h.6M307.7 80.7h.6M309.2 81.2h.6M314.5 81.2h.6M319.8 80.8h.6M320.9 81.5h.6M321.9 81.1h.6M322.5 80.6h.6M324.2 81.1h.6M284.4 82.4h.6M287 82.2h.6M290.4 81.8h.6M294.9 81.9h.6M295.2 81.8h.6M296.5 81.7h.6M296.5 81.8h.6M297.4 81.7h.6M308.7 81.5h.6M311.8 82.2h.6M313.6 82.4h.6M314.3 82.5h.6M317.1 82.2h.6M317.9 81.8h.6M284.8 83h.6M289.6 82.5h.6M292 82.9h.6M309.8 83h.6M310.7 82.9h.6M315.7 83.4h.6M318.6 83.5h.6M318.8 82.8h.6M325.5 82.7h.6M328 83.2h.6M289.4 83.8h.6M309.1 84.2h.6M319.8 83.5h.6M319.9 83.6h.6M338.5 83.7h.6M344 84.2h.6M283.4 84.7h.6M284 84.5h.6M286.8 84.8h.6M292.4 85h.6M292.9 84.9h.6M293.6 85h.6M294.4 85.1h.6M294.8 84.8h.6M296.4 85h.6M298.3 84.8h.6M302.8 84.7h.6M304.2 84.9h.6M304.5 85.1h.6M307.2 85h.6M308.2 84.6h.6M309.4 84.8h.6M313.2 84.8h.6M313.7 85h.6M314.2 84.8h.6M315.5 84.8h.6M316 84.6h.6M319 85h.6M320.5 84.9h.6M328.4 84.9h.6M328.8 84.6h.6M328.8 84.6h.6M329.5 84.8h.6M329.7 84.7h.6M333.6 84.9h.6M335.3 84.9h.6M337.8 84.7h.6M340.2 84.8h.6M343.2 84.9h.6M348 84.7h.6M348.8 84.5h.6" stroke="#777" stroke-width=".6" fill="none" opacity="1.0"/>
</g></g>
<rect x="278.6" y="10.6" width="74.5" height="75.2" fill="none" stroke="#999" stroke-width=".55"/>
<path d="M278.6 10.6V85.8" stroke="#666" stroke-width=".55" fill="none"/>
<path d="M301.1 10.6V85.8M278.6 57.5H353.1" stroke="#666" stroke-width=".55" fill="none"/>
<path d="M278.6 29h-1.2M278.6 48h-1.2M278.6 67h-1.2" stroke="#777" stroke-width=".5"/>
<rect x="352.1" y="8.2" width="2" height="78.4" fill="#dcdcdc"/>
<text x="281.8" y="17.2" font-size="6.3" font-weight="bold" text-anchor="start" fill="#111" stroke="#111" stroke-width=".2">0.02%</text>
<text x="350.8" y="17.2" font-size="6.3" font-weight="bold" text-anchor="end" fill="#111" stroke="#111" stroke-width=".2">0.09%</text>
<text x="318.6" y="4.8" font-size="6.45" font-weight="bold" text-anchor="middle" fill="#111" stroke="#111" stroke-width=".2">+Ig-EBNA1</text>
<g clip-path="url(#d3)"><g filter="url(#soft)">
<ellipse cx="375.1" cy="73.9" rx="10.6" ry="12.4" fill="url(#haze1)" opacity="0.95"/>
<ellipse cx="396.1" cy="75.2" rx="8.8" ry="11.2" fill="url(#core1)"/>
<path d="M398.5 56.8h.6M379.8 58.2h.6M372.7 58.7h.6M375.9 59.1h.6M394.8 59.4h.6M400.2 58.7h.6M367.8 59.7h.6M371.8 59.8h.6M376.5 59.9h.6M376.6 59.7h.6M383.2 60.4h.6M383.7 60.4h.6M394.7 60.1h.6M397 60.4h.6M371.1 61.2h.6M378.1 60.6h.6M379.4 61.3h.6M395.7 60.9h.6M396.6 61.1h.6M366.9 62.1h.6M370.1 62.1h.6M374.2 61.7h.6M376.6 61.7h.6M379.8 61.5h.6M393.4 62.4h.6M394.8 61.9h.6M401.6 62.4h.6M367.2 63h.6M369.7 63.5h.6M370.7 62.7h.6M372.3 62.9h.6M373.1 63.3h.6M373.5 63.4h.6M375.3 62.9h.6M376.5 62.9h.6M376.6 63.2h.6M376.6 63.3h.6M378.8 62.9h.6M378.9 62.5h.6M379.9 63.4h.6M383 62.5h.6M386.9 63.3h.6M392.4 63.1h.6M392.8 62.9h.6M395.5 62.5h.6M396.4 63.2h.6M397.1 63.3h.6M397.7 63.2h.6M397.8 62.7h.6M398.9 63.3h.6M370 64h.6M371.4 64.3h.6M372.9 63.8h.6M374.2 64.4h.6M375.7 64.2h.6M377 64.5h.6M377.7 64.4h.6M378.9 64.3h.6M379.4 63.5h.6M381 64h.6M384.2 64.1h.6M391.5 64.3h.6M391.5 63.8h.6M391.7 64.5h.6M393.6 63.5h.6M393.7 64h.6M395.4 63.9h.6M396.1 63.6h.6M398 64.2h.6M398.5 64h.6M400.3 63.8h.6M402.6 64.4h.6M367.1 64.9h.6M368.6 65.3h.6M369 64.9h.6M369.2 64.9h.6M369.9 65.3h.6M370.2 65h.6M371.9 64.9h.6M372 65.3h.6M372.1 64.6h.6M373.1 64.6h.6M373.4 65.1h.6M374.2 64.8h.6M375 65.3h.6M375.2 65h.6M376.9 65h.6M377.2 65.1h.6M377.5 64.6h.6M377.6 64.6h.6M379.3 65.2h.6M382.3 65.4h.6M382.8 65.3h.6M384.3 64.8h.6M384.3 64.6h.6M390.3 65.4h.6M390.3 64.8h.6M390.9 64.9h.6M392 65.4h.6M392.1 65.3h.6M392.1 64.9h.6M394.2 64.7h.6M394.3 65h.6M395.4 64.6h.6M396.6 65h.6M396.9 64.7h.6M397.5 65.2h.6M397.8 64.6h.6M398.6 64.8h.6M399.2 64.7h.6M402 64.9h.6M402.8 65h.6M403.3 64.6h.6M366.2 66.5h.6M366.7 66.2h.6M367.4 65.7h.6M369.4 66.5h.6M370.2 66.1h.6M370.8 65.7h.6M373.4 66h.6M373.6 65.7h.6M374 65.9h.6M374.1 66.1h.6M375.4 66h.6M375.7 66.2h.6M375.7 66h.6M375.8 66.1h.6M376.2 65.7h.6M377.9 66.4h.6M378.8 65.9h.6M379.1 66.5h.6M379.5 66.3h.6M379.6 66.4h.6M379.6 66.4h.6M380.9 66.5h.6M381.1 65.8h.6M382.4 66.5h.6M383 65.7h.6M383.1 66.3h.6M387.4 65.7h.6M390.7 66h.6M391.8 65.8h.6M393.1 65.5h.6M393.3 66.3h.6M394 65.9h.6M394.1 65.6h.6M394.3 65.7h.6M394.4 65.9h.6M394.8 66.5h.6M394.8 66.1h.6M395.2 65.7h.6M395.2 65.7h.6M396.7 65.5h.6M397.7 65.8h.6M398.3 66.5h.6M398.7 66.5h.6M400.1 66h.6M400.2 66.4h.6M400.9 66.3h.6M401.6 66.3h.6M366.3 66.8h.6M369 67.3h.6M369.3 67.3h.6M369.4 66.8h.6M370.4 66.7h.6M370.8 66.7h.6M371.3 67.2h.6M371.3 67h.6M371.4 67.2h.6M373.4 66.8h.6M374.3 67.5h.6M374.8 66.8h.6M375.2 67.1h.6M375.6 66.8h.6M375.7 67.4h.6M376.1 67.2h.6M376.3 67.3h.6M376.4 66.6h.6M377.8 67.3h.6M377.9 66.9h.6M378.2 66.5h.6M378.3 67.2h.6M378.5 66.9h.6M379.1 67.4h.6M379.4 67.1h.6M380.6 66.8h.6M381.3 66.9h.6M381.5 66.5h.6M381.8 66.8h.6M381.9 67.2h.6M382.1 66.5h.6M382.3 66.9h.6M382.3 67.4h.6M385.9 66.6h.6M386.1 67.2h.6M388.3 66.6h.6M388.9 66.7h.6M389 66.8h.6M390.5 67h.6M391.5 66.7h.6M391.6 67h.6M391.8 66.7h.6M391.8 67.4h.6M392.1 67.1h.6M392.1 67.2h.6M392.8 66.6h.6M393.1 67.2h.6M393.7 67.4h.6M393.8 67.4h.6M394 66.8h.6M394.4 66.8h.6M394.6 66.8h.6M394.6 67.5h.6M394.6 67.1h.6M395 67.3h.6M395.2 67.2h.6M395.3 66.8h.6M395.8 66.6h.6M396.2 66.8h.6M396.3 67.4h.6M396.6 66.6h.6M396.9 66.7h.6M397.1 66.7h.6M397.2 66.8h.6M397.2 67.3h.6M397.2 66.8h.6M397.2 67.3h.6M397.8 67.2h.6M397.9 66.6h.6M398.4 66.6h.6M398.8 67h.6M400.2 67.2h.6M403.4 67.1h.6M366.8 67.6h.6M368 68.4h.6M368.3 67.7h.6M368.6 67.8h.6M369.2 68.5h.6M369.3 68.1h.6M370.7 67.9h.6M371.1 68.4h.6M371.5 67.8h.6M371.6 67.5h.6M372.2 68.1h.6M372.4 67.8h.6M372.6 67.8h.6M372.9 67.9h.6M372.9 67.5h.6M373.7 67.6h.6M374.1 68.4h.6M374.3 67.6h.6M374.5 67.7h.6M374.8 67.5h.6M375.4 67.8h.6M375.6 67.5h.6M375.8 68.2h.6M376.2 68.2h.6M376.4 67.6h.6M377 68.5h.6M377.1 68.4h.6M377.1 68h.6M377.1 68.1h.6M377.2 68.4h.6M377.5 67.7h.6M377.5 68.1h.6M378 67.7h.6M378 67.9h.6M378.2 68h.6M378.3 67.6h.6M378.8 68.3h.6M378.8 68.1h.6M379.3 67.7h.6M379.6 67.6h.6M381.3 67.8h.6M381.9 68.3h.6M383.4 68.5h.6M384.7 67.6h.6M386.4 67.8h.6M387.3 67.7h.6M387.5 67.5h.6M389.7 68h.6M390.3 68h.6M391.5 68.2h.6M393.3 68.3h.6M393.3 67.8h.6M393.5 68.3h.6M393.7 68.4h.6M393.8 68.4h.6M394 67.5h.6M394.7 68h.6M394.9 68.5h.6M395.3 67.9h.6M395.4 68.3h.6M395.7 68.5h.6M396.1 68.2h.6M396.1 68.2h.6M396.2 68.1h.6M396.4 67.7h.6M396.4 68h.6M396.5 68.2h.6M396.5 67.6h.6M396.6 68.3h.6M396.6 67.6h.6M396.7 67.8h.6M396.8 68.1h.6M396.9 68.4h.6M396.9 67.7h.6M397.2 68.3h.6M397.2 68.1h.6M397.3 68.3h.6M397.9 68.2h.6M398.2 67.7h.6M398.7 68h.6M399.4 67.7h.6M399.4 67.8h.6M399.5 68.4h.6M399.6 68h.6M399.7 67.7h.6M399.8 68.1h.6M400.4 68.1h.6M400.8 68.4h.6M401.4 67.9h.6M401.6 68.3h.6M402.3 67.7h.6M402.3 68h.6M405.2 68.3h.6M366.4 68.8h.6M367.1 69h.6M367.6 68.6h.6M367.7 69.2h.6M367.8 68.9h.6M369.7 68.6h.6M369.7 69h.6M369.7 68.9h.6M370.8 69h.6M371.1 68.8h.6M371.5 68.7h.6M371.5 69.1h.6M371.6 68.7h.6M371.7 69.1h.6M372.6 69h.6M372.7 69h.6M373.1 68.6h.6M373.9 69h.6M373.9 69.2h.6M374.6 69.3h.6M374.7 68.9h.6M375.4 68.6h.6M375.8 68.9h.6M375.9 68.8h.6M376.3 69.5h.6M376.9 69.5h.6M377.2 69h.6M377.5 68.5h.6M377.7 68.6h.6M378.9 69h.6M379.2 69.2h.6M379.5 68.9h.6M379.6 69.4h.6M380 69.3h.6M381.2 68.9h.6M384 69.3h.6M387 69.3h.6M391.4 68.5h.6M392.6 69.1h.6M392.8 68.5h.6M392.9 68.9h.6M393.1 69.1h.6M393.3 68.7h.6M393.5 68.8h.6M393.6 68.7h.6M393.8 69.1h.6M393.9 69.2h.6M394 69h.6M394.1 68.6h.6M394.2 69.4h.6M394.3 69.4h.6M394.4 69.5h.6M394.5 68.9h.6M394.5 69.2h.6M394.6 69.1h.6M394.6 69.1h.6M394.8 68.9h.6M394.9 68.8h.6M395 69h.6M395.1 69.2h.6M395.2 69.3h.6M395.3 68.8h.6M395.4 68.6h.6M395.8 68.6h.6M396 69.4h.6M396.1 68.9h.6M396.1 69h.6M396.3 69.1h.6M396.4 68.6h.6M396.5 68.6h.6M396.5 68.6h.6M396.9 68.8h.6M397.1 69.4h.6M397.1 69h.6M397.2 69h.6M397.4 68.7h.6M397.4 69.3h.6M397.5 69.2h.6M397.5 68.7h.6M397.6 68.5h.6M397.8 68.7h.6M397.8 69.4h.6M397.9 69.1h.6M398.1 68.8h.6M398.2 69.3h.6M398.3 69h.6M398.4 69.2h.6M398.7 69.2h.6M398.8 68.9h.6M398.8 69h.6M399.3 69.2h.6M399.3 69.1h.6M399.6 68.9h.6M399.7 68.6h.6M399.9 69.3h.6M400 68.9h.6M400.1 69.2h.6M401.2 69.5h.6M401.7 68.6h.6M401.9 69.2h.6M402 69.3h.6M402.1 69.5h.6M403.9 69.3h.6M405.1 68.6h.6M407 69.4h.6M365.9 69.9h.6M366.7 69.7h.6M369.2 69.9h.6M369.7 70.3h.6M369.9 70.2h.6M370.5 70h.6M370.6 69.7h.6M370.8 69.5h.6M370.8 69.9h.6M370.9 69.8h.6M371.4 70.3h.6M371.8 70.2h.6M371.8 70.1h.6M372 69.6h.6M372.1 69.9h.6M372.2 69.6h.6M372.4 70.3h.6M372.6 70.4h.6M372.7 70.3h.6M373.3 70.3h.6M373.3 69.8h.6M373.4 70.3h.6M373.5 70.2h.6M373.6 70.4h.6M373.9 70.5h.6M373.9 70.1h.6M374 70.3h.6M374.2 70.4h.6M374.3 69.8h.6M374.3 70.3h.6M374.4 70.1h.6M375.1 70h.6M375.2 70.1h.6M375.4 70.4h.6M375.9 70.5h.6M375.9 70.1h.6M375.9 70.4h.6M376.1 69.9h.6M376.3 69.5h.6M376.3 69.6h.6M376.4 69.7h.6M376.4 70h.6M376.7 69.8h.6M377.2 70.2h.6M377.4 69.6h.6M377.5 69.9h.6M377.7 69.9h.6M377.9 70.5h.6M377.9 70.2h.6M378.3 69.9h.6M378.4 69.9h.6M378.7 70h.6M378.8 70.4h.6M378.8 70.2h.6M379 69.9h.6M379.6 70.1h.6M380.3 69.9h.6M380.5 69.5h.6M381.1 70h.6M382.1 69.8h.6M382.3 70.5h.6M382.7 70h.6M385 70.1h.6M387.7 70h.6M388.4 70.1h.6M389 70h.6M390 70.1h.6M390.1 70.1h.6M390.5 69.5h.6M391.1 69.7h.6M391.2 70.3h.6M391.3 69.5h.6M392 70.4h.6M392.1 70.2h.6M392.2 70.3h.6M392.2 70.3h.6M392.4 70.1h.6M392.5 70.3h.6M393 70.3h.6M393 69.5h.6M393 70.4h.6M393.5 69.9h.6M393.9 69.8h.6M393.9 70.5h.6M393.9 70.3h.6M394 70.4h.6M394.1 70.1h.6M394.1 70.1h.6M394.4 70.5h.6M394.5 69.9h.6M394.5 70.4h.6M394.6 70.3h.6M394.7 70h.6M395 69.9h.6M395.3 70.1h.6M395.4 70.2h.6M395.6 70.2h.6M395.7 69.8h.6M395.8 70h.6M395.8 69.7h.6M395.8 69.9h.6M395.9 69.6h.6M395.9 69.7h.6M396 70h.6M396 69.6h.6M396 70.4h.6M396.1 69.6h.6M396.3 69.8h.6M396.4 70.1h.6M396.5 70.3h.6M396.5 69.9h.6M396.6 69.6h.6M396.6 70h.6M396.6 70.1h.6M396.7 69.9h.6M396.7 70.1h.6M396.8 70.2h.6M396.9 70.2h.6M396.9 70.2h.6M397.1 70.1h.6M397.2 69.7h.6M397.3 70.3h.6M397.3 70.4h.6M397.4 70.1h.6M397.4 70.3h.6M397.5 69.6h.6M397.5 70h.6M397.6 70.3h.6M397.6 69.8h.6M397.8 69.7h.6M397.8 69.6h.6M397.8 69.6h.6M398 69.5h.6M398.1 70.2h.6M398.2 69.7h.6M398.3 69.7h.6M398.4 70.5h.6M398.5 70.1h.6M398.6 69.7h.6M398.6 70.2h.6M398.6 70.1h.6M398.7 70.5h.6M398.8 69.6h.6M399 69.6h.6M399.3 70.1h.6M399.3 69.8h.6M399.8 70.5h.6M399.8 69.9h.6M399.8 70h.6M400.5 70.4h.6M400.6 70h.6M400.8 70.2h.6M401.1 70.1h.6M401.2 70.2h.6M401.3 70.3h.6M401.5 70.3h.6M401.6 70.1h.6M402.4 69.6h.6M403.1 70.2h.6M403.3 70.5h.6M403.8 70.5h.6M367.1 71.4h.6M367.2 71.1h.6M368.7 71.1h.6M368.8 70.9h.6M369.5 71.4h.6M369.9 70.8h.6M370.1 70.9h.6M371.2 71.1h.6M371.4 70.8h.6M371.6 70.9h.6M371.7 71.2h.6M371.9 71.1h.6M372.1 70.9h.6M372.3 70.5h.6M372.3 71.3h.6M372.5 71.3h.6M372.6 71.1h.6M372.8 71.3h.6M372.9 70.8h.6M373 70.8h.6M373.1 71.1h.6M373.5 71.5h.6M373.6 71.4h.6M373.9 70.8h.6M374 71.1h.6M374 70.5h.6M374.6 70.7h.6M374.6 71.4h.6M374.7 71.3h.6M374.8 70.9h.6M375.2 71.4h.6M375.4 70.8h.6M375.5 71.1h.6M375.5 70.7h.6M375.6 70.6h.6M375.9 70.7h.6M376.1 70.9h.6M376.2 70.9h.6M376.4 71.3h.6M376.5 71.1h.6M376.7 70.8h.6M376.7 71.4h.6M376.8 70.8h.6M376.9 71h.6M377.1 71.1h.6M377.3 71.4h.6M377.6 71h.6M377.7 71.3h.6M377.9 70.9h.6M378.1 70.9h.6M379.4 71.2h.6M379.7 71h.6M380.7 71.4h.6M381.3 71.5h.6M381.3 71.3h.6M381.8 71.2h.6M382.9 70.9h.6M383.3 71.5h.6M384.6 70.7h.6M385.5 71.4h.6M390.2 70.9h.6M390.2 70.9h.6M390.2 71.4h.6M390.3 71.1h.6M390.4 70.9h.6M390.9 71h.6M391 70.6h.6M391 70.6h.6M391.3 71.1h.6M391.8 71.2h.6M391.9 70.9h.6M392 70.8h.6M392 71.1h.6M392.1 70.6h.6M392.2 71.1h.6M392.4 71.1h.6M393 70.6h.6M393 70.9h.6M393.1 71.4h.6M393.1 71h.6M393.1 70.7h.6M393.3 70.7h.6M393.7 70.6h.6M394 71.5h.6M394 70.9h.6M394 70.7h.6M394.1 71.1h.6M394.2 70.6h.6M394.3 71.4h.6M394.4 71.5h.6M394.4 71.2h.6M394.5 71.2h.6M394.5 71.2h.6M394.6 70.7h.6M394.6 71.3h.6M394.6 71.1h.6M394.7 70.5h.6M394.9 70.6h.6M395.1 70.9h.6M395.2 71.3h.6M395.2 70.7h.6M395.4 71.1h.6M395.4 71.5h.6M395.4 70.7h.6M395.5 71.3h.6M395.5 70.5h.6M395.5 71.3h.6M395.7 70.9h.6M395.7 71.2h.6M395.8 70.5h.6M395.8 71.4h.6M395.9 71.2h.6M396 71.1h.6M396.1 71.1h.6M396.1 71.2h.6M396.2 70.9h.6M396.2 71.3h.6M396.2 71.3h.6M396.2 70.7h.6M396.3 70.7h.6M396.5 70.9h.6M396.5 71.1h.6M396.5 70.5h.6M396.6 70.6h.6M396.6 71.1h.6M396.6 71.2h.6M396.6 71.5h.6M396.9 71h.6M396.9 71.5h.6M396.9 71.1h.6M397 71.3h.6M397 71.2h.6M397 70.9h.6M397.1 71.4h.6M397.1 70.8h.6M397.3 71.4h.6M397.3 71.2h.6M397.6 71.3h.6M397.8 70.5h.6M398 71.3h.6M398.2 70.9h.6M398.4 71.1h.6M398.7 70.5h.6M398.9 70.7h.6M399.4 71.1h.6M399.5 71.3h.6M399.5 71.3h.6M399.5 71.3h.6M399.5 70.8h.6M399.5 70.5h.6M399.5 71.5h.6M399.6 70.8h.6M399.8 70.7h.6M400 71.4h.6M400.3 70.7h.6M400.5 71.1h.6M400.5 70.5h.6M400.6 71.1h.6M401.2 70.6h.6M401.3 71.3h.6M401.4 71.3h.6M402.1 70.7h.6M403.1 70.5h.6M403.1 71.4h.6M405.1 70.7h.6M406 70.9h.6M409.1 71.4h.6M409.7 70.9h.6M367.3 72.3h.6M367.4 72.1h.6M367.6 72.2h.6M368.9 72.3h.6M369.5 72h.6M370.7 72.1h.6M370.8 71.6h.6M370.9 71.8h.6M371.2 71.6h.6M372.7 72.5h.6M372.7 72.4h.6M372.9 72.3h.6M373.2 72.1h.6M373.2 71.8h.6M373.4 71.5h.6M373.7 72h.6M373.7 72.5h.6M374 72.3h.6M374.1 72.3h.6M374.1 72.1h.6M374.1 72h.6M374.4 72.4h.6M374.6 71.7h.6M375.3 72.1h.6M375.3 71.7h.6M375.4 72.3h.6M375.5 72h.6M375.6 72.5h.6M375.7 71.7h.6M375.8 72.1h.6M375.8 71.7h.6M375.8 72h.6M375.9 72.2h.6M376.1 72.1h.6M376.6 72.1h.6M376.7 72.1h.6M376.7 71.6h.6M377 72.1h.6M377.1 71.8h.6M377.2 71.7h.6M377.5 72h.6M378.2 71.7h.6M378.2 72.3h.6M378.2 71.9h.6M378.4 72.2h.6M378.6 71.8h.6M378.6 72.2h.6M378.7 72.5h.6M379.5 72.2h.6M379.7 72h.6M379.9 72h.6M380 72.1h.6M380.1 72.2h.6M380.1 71.6h.6M381.2 72.2h.6M381.6 72.2h.6M382.5 72.5h.6M382.5 71.7h.6M385.1 72.1h.6M387.5 71.9h.6M388.8 72.3h.6M389.9 72h.6M390.3 72h.6M390.7 72.3h.6M391.1 72.3h.6M391.2 71.9h.6M391.3 72.1h.6M391.4 71.8h.6M391.7 72.3h.6M391.7 72.4h.6M392 72.3h.6M392 71.8h.6M392 72.3h.6M392.3 72.3h.6M392.4 71.8h.6M392.6 71.9h.6M392.9 71.5h.6M392.9 71.8h.6M393.2 71.7h.6M393.3 71.5h.6M393.3 72.2h.6M393.3 72.3h.6M393.4 71.8h.6M393.4 72.2h.6M393.5 71.8h.6M393.5 71.7h.6M393.5 72.3h.6M393.5 72.1h.6M393.6 71.5h.6M393.8 72h.6M393.8 72.1h.6M393.9 71.8h.6M394 72.2h.6M394 72.4h.6M394.1 72h.6M394.2 72.3h.6M394.3 71.6h.6M394.4 72h.6M394.5 71.9h.6M394.5 71.5h.6M394.5 72.4h.6M394.6 72.3h.6M394.8 71.7h.6M394.9 71.5h.6M394.9 72.2h.6M394.9 72h.6M395 72.2h.6M395 72.4h.6M395 71.6h.6M395.1 72.3h.6M395.1 71.8h.6M395.1 72.5h.6M395.2 71.5h.6M395.3 71.8h.6M395.4 71.6h.6M395.4 72.1h.6M395.5 72.2h.6M395.5 72.2h.6M395.5 71.7h.6M395.6 72.1h.6M395.6 72.3h.6M395.7 72.1h.6M395.7 72.4h.6M395.7 72.2h.6M395.7 72.2h.6M395.8 71.8h.6M395.9 72.3h.6M396 72h.6M396 72.4h.6M396 71.5h.6M396 71.6h.6M396.1 71.9h.6M396.3 72.1h.6M396.3 71.9h.6M396.3 72.2h.6M396.4 71.7h.6M396.5 72.1h.6M396.5 71.6h.6M396.5 72.2h.6M396.5 72.2h.6M396.5 71.6h.6M396.7 72.4h.6M396.7 72.4h.6M396.8 71.9h.6M396.9 72.1h.6M396.9 71.7h.6M397 72.3h.6M397 72.1h.6M397 72.3h.6M397.1 72.4h.6M397.1 72h.6M397.1 72.4h.6M397.1 72.1h.6M397.4 71.6h.6M397.5 72.2h.6M397.5 72.2h.6M397.5 72.3h.6M397.6 72.1h.6M397.6 71.9h.6M397.6 71.6h.6M397.6 71.7h.6M397.7 71.7h.6M397.7 71.6h.6M397.8 72.2h.6M397.9 71.8h.6M397.9 72.4h.6M397.9 72.3h.6M398 72.1h.6M398 71.9h.6M398.1 71.7h.6M398.1 72.2h.6M398.2 72h.6M398.4 72.2h.6M398.4 72h.6M398.5 72h.6M398.5 72.1h.6M398.8 71.8h.6M398.8 71.8h.6M398.8 72.4h.6M399 72.4h.6M399.1 71.9h.6M399.2 71.8h.6M399.2 72.5h.6M399.5 71.9h.6M399.6 72.1h.6M399.6 71.7h.6M399.6 72.2h.6M399.8 72.4h.6M399.9 72.4h.6M400.1 71.6h.6M400.1 71.9h.6M400.4 71.9h.6M400.5 72.1h.6M400.6 72.4h.6M400.9 71.9h.6M401.1 72.1h.6M401.1 71.9h.6M401.2 72.1h.6M401.5 72.5h.6M402.7 72.4h.6M403.4 72.1h.6M404 72.5h.6M405.4 72.3h.6M407 71.7h.6M367.7 73.2h.6M367.9 73.3h.6M368.5 72.9h.6M369 72.9h.6M369 73.4h.6M369.2 73.3h.6M369.3 73.4h.6M370.5 72.8h.6M370.5 73.4h.6M370.5 72.9h.6M371.1 73h.6M371.3 72.6h.6M371.5 73.3h.6M371.8 73.2h.6M372 73h.6M372.6 72.5h.6M372.7 73.4h.6M373.2 72.9h.6M373.4 72.7h.6M373.5 73.4h.6M373.6 73.3h.6M373.6 72.6h.6M373.8 72.5h.6M374.1 72.8h.6M374.3 73.5h.6M374.8 72.9h.6M375.3 73.4h.6M375.4 73.3h.6M375.6 73.2h.6M375.6 73.3h.6M375.7 73.1h.6M375.9 73.1h.6M376 72.6h.6M376.1 73.1h.6M376.1 73.4h.6M376.2 73.3h.6M376.5 72.7h.6M376.5 72.8h.6M377 72.7h.6M377 72.6h.6M377.1 73.5h.6M377.3 73.2h.6M377.6 73.3h.6M377.7 72.9h.6M377.8 72.6h.6M377.8 73.4h.6M377.9 72.6h.6M378.1 73.2h.6M378.4 73h.6M379.3 72.5h.6M379.4 73.2h.6M380 73h.6M380.3 73.3h.6M380.5 72.6h.6M380.6 73.3h.6M380.6 72.7h.6M380.7 72.9h.6M380.8 72.6h.6M381.1 73.2h.6M381.3 73.2h.6M381.3 73.3h.6M382.5 73h.6M382.6 73h.6M383.1 73.5h.6M383.6 72.5h.6M388.7 73.3h.6M388.9 72.6h.6M389.6 73.1h.6M389.8 73h.6M390.4 72.8h.6M390.8 72.8h.6M390.9 72.6h.6M390.9 72.5h.6M391 72.7h.6M391.5 72.6h.6M391.7 73.2h.6M391.8 72.6h.6M391.9 73.1h.6M392.2 73h.6M392.3 73.4h.6M392.5 73.4h.6M392.6 72.5h.6M392.7 73.5h.6M392.7 72.9h.6M392.9 72.6h.6M393 73.2h.6M393 72.9h.6M393.1 73.2h.6M393.2 72.7h.6M393.2 72.5h.6M393.3 72.6h.6M393.4 72.9h.6M393.5 72.7h.6M393.6 73.2h.6M393.7 73h.6M393.8 73.3h.6M393.8 73h.6M393.8 73.1h.6M393.8 72.8h.6M393.9 72.8h.6M394.2 72.5h.6M394.2 73.2h.6M394.2 73.4h.6M394.2 73.3h.6M394.4 73.4h.6M394.5 73.5h.6M394.5 73.1h.6M394.6 73.1h.6M394.7 73.4h.6M394.9 73h.6M395 72.6h.6M395 73.4h.6M395 72.7h.6M395 73h.6M395 72.7h.6M395 72.6h.6M395.1 73.1h.6M395.1 73.1h.6M395.1 73.4h.6M395.1 72.8h.6M395.2 73h.6M395.3 73.4h.6M395.3 73.2h.6M395.4 73.1h.6M395.4 72.6h.6M395.4 72.5h.6M395.7 73.4h.6M395.7 72.6h.6M395.7 73.3h.6M395.8 72.9h.6M395.9 73.5h.6M396 72.6h.6M396.1 73.4h.6M396.1 72.8h.6M396.1 72.6h.6M396.1 73.2h.6M396.1 73.1h.6M396.1 73.4h.6M396.2 72.9h.6M396.3 73.5h.6M396.4 72.9h.6M396.4 73.1h.6M396.4 72.5h.6M396.4 73.2h.6M396.4 72.9h.6M396.5 72.9h.6M396.5 73.4h.6M396.5 73.1h.6M396.6 73.4h.6M396.8 73h.6M396.9 72.7h.6M397 72.8h.6M397 72.6h.6M397 72.7h.6M397.1 72.6h.6M397.2 72.8h.6M397.2 73.4h.6M397.2 73.5h.6M397.3 73.1h.6M397.5 73.4h.6M397.7 73.2h.6M397.8 73.4h.6M397.8 73.1h.6M397.8 73.4h.6M398.1 73.1h.6M398.2 72.8h.6M398.3 73.4h.6M398.3 73.5h.6M398.3 72.9h.6M398.5 73.3h.6M398.6 73h.6M398.7 73.4h.6M398.7 72.9h.6M398.7 72.8h.6M398.7 72.9h.6M398.8 73h.6M398.9 72.5h.6M399 73.2h.6M399.1 72.9h.6M399.1 73h.6M399.4 72.7h.6M399.9 73.2h.6M400.2 73.1h.6M400.4 73.5h.6M400.5 73.1h.6M400.6 73.5h.6M400.6 73.5h.6M401.2 72.9h.6M401.5 73.2h.6M401.9 73.5h.6M403.3 73h.6M404.7 73h.6M405.1 72.6h.6M405.2 72.7h.6M405.3 72.9h.6M366.9 74.3h.6M367.1 74.2h.6M367.7 74.1h.6M368.4 74.4h.6M369.1 73.8h.6M369.4 73.5h.6M370.2 74.4h.6M370.3 74h.6M370.4 74.2h.6M370.8 73.5h.6M370.8 73.9h.6M370.9 73.6h.6M371.1 73.9h.6M371.1 74.1h.6M371.8 73.6h.6M371.9 73.8h.6M372.3 74h.6M372.4 74.4h.6M372.8 74.3h.6M372.9 74.1h.6M372.9 74.2h.6M372.9 74.2h.6M373 74.4h.6M373.2 73.8h.6M373.3 74.3h.6M373.7 74.2h.6M373.7 74.2h.6M373.9 73.6h.6M373.9 73.6h.6M374.1 74.5h.6M374.2 74.2h.6M374.5 73.7h.6M374.5 74h.6M374.6 73.9h.6M374.9 74.4h.6M375.4 73.9h.6M375.4 73.7h.6M375.7 74.3h.6M375.9 73.6h.6M376 74h.6M376.4 74.4h.6M376.5 74.1h.6M376.6 74.4h.6M377 74.3h.6M377.1 73.7h.6M377.1 74.5h.6M377.6 73.5h.6M377.7 74.3h.6M378.4 74.1h.6M378.7 73.8h.6M378.8 74.5h.6M379.2 73.7h.6M379.6 74.4h.6M379.7 74h.6M380 73.7h.6M380.1 74.2h.6M380.7 73.9h.6M380.8 73.9h.6M381.2 73.9h.6M381.3 73.6h.6M382.3 74.3h.6M382.3 74.5h.6M382.6 73.6h.6M383 74.3h.6M384.9 73.8h.6M388.3 73.9h.6M388.8 73.8h.6M389.2 74.2h.6M389.5 74.2h.6M390.1 73.7h.6M390.7 73.9h.6M390.8 74.1h.6M390.8 73.6h.6M390.8 74.5h.6M391 73.8h.6M391.2 73.8h.6M391.6 73.9h.6M391.7 73.7h.6M391.8 74.1h.6M391.8 74h.6M391.8 74h.6M391.8 74.5h.6M391.9 73.9h.6M391.9 74.3h.6M392.2 74.2h.6M392.2 73.6h.6M392.7 73.6h.6M392.9 74.1h.6M392.9 73.7h.6M393.3 74.3h.6M393.4 73.5h.6M393.4 73.6h.6M393.5 73.9h.6M393.5 73.5h.6M393.6 73.8h.6M393.6 74.4h.6M393.7 74.1h.6M393.7 74.5h.6M393.7 73.9h.6M393.8 74h.6M393.9 73.6h.6M394 73.6h.6M394.3 73.7h.6M394.3 74.4h.6M394.3 74.1h.6M394.4 73.9h.6M394.4 73.9h.6M394.4 74.3h.6M394.5 73.8h.6M394.5 74.1h.6M394.5 74.2h.6M394.6 74.5h.6M394.6 74.5h.6M394.7 73.8h.6M394.7 74.2h.6M394.9 74.4h.6M394.9 73.6h.6M394.9 74.1h.6M394.9 74.1h.6M395.1 73.8h.6M395.1 73.9h.6M395.2 73.9h.6M395.2 73.7h.6M395.3 73.7h.6M395.4 74h.6M395.4 74.4h.6M395.6 73.8h.6M395.6 73.9h.6M395.7 74.3h.6M395.7 74h.6M395.7 74.3h.6M395.7 74h.6M395.8 73.8h.6M395.9 73.7h.6M395.9 74.4h.6M395.9 74.3h.6M396 73.8h.6M396.1 73.9h.6M396.1 73.6h.6M396.2 73.8h.6M396.3 73.8h.6M396.4 74.1h.6M396.5 74h.6M396.5 74.4h.6M396.5 74.1h.6M396.7 74.3h.6M396.7 73.8h.6M396.7 74.3h.6M396.8 73.8h.6M396.8 74.3h.6M396.8 73.7h.6M396.8 73.6h.6M396.9 74.3h.6M397 73.8h.6M397 73.7h.6M397 74.3h.6M397 74.5h.6M397.1 74.2h.6M397.1 74h.6M397.2 74.1h.6M397.2 74.3h.6M397.4 73.5h.6M397.4 74.3h.6M397.4 74.5h.6M397.5 73.9h.6M397.5 73.9h.6M397.5 73.7h.6M397.5 73.6h.6M397.6 73.9h.6M397.7 73.7h.6M397.8 74h.6M398 73.8h.6M398 74h.6M398 74.3h.6M398 74.2h.6M398 74.2h.6M398 74h.6M398.1 74.1h.6M398.1 73.6h.6M398.3 73.5h.6M398.5 73.9h.6M398.5 74.3h.6M398.5 74.5h.6M398.6 74.5h.6M398.6 74.3h.6M398.6 74.3h.6M398.6 73.5h.6M398.7 73.6h.6M398.8 74h.6M398.9 73.6h.6M399 74h.6M399.2 74.2h.6M399.2 74h.6M399.5 73.8h.6M399.5 73.5h.6M399.6 74.1h.6M399.6 74h.6M399.6 73.8h.6M399.9 73.9h.6M400 73.7h.6M400.2 73.9h.6M400.2 74.2h.6M400.3 73.9h.6M400.4 74.1h.6M400.5 73.6h.6M400.7 73.5h.6M400.7 73.6h.6M400.8 73.9h.6M401 73.6h.6M401.1 74.4h.6M401.1 73.7h.6M401.6 73.6h.6M401.6 73.9h.6M401.9 73.8h.6M402.2 74.4h.6M402.4 73.8h.6M402.5 74.4h.6M402.5 73.6h.6M402.6 74.4h.6M403 74.5h.6M403.2 73.6h.6M403.3 73.6h.6M404.5 73.6h.6M405.1 73.8h.6M405.1 73.7h.6M365.9 75h.6M366.1 75.1h.6M366.3 74.8h.6M367.3 75.2h.6M367.3 75.1h.6M367.7 74.9h.6M368 75.2h.6M368.4 74.5h.6M368.4 75.1h.6M368.5 74.8h.6M368.8 75h.6M369.7 74.8h.6M370.1 75.3h.6M370.2 75.4h.6M370.3 75.2h.6M370.5 75.4h.6M370.6 75.3h.6M371.1 74.6h.6M371.1 74.8h.6M371.2 75.5h.6M371.3 75.2h.6M371.7 74.9h.6M371.8 74.8h.6M371.8 75.4h.6M372.2 74.5h.6M372.5 74.6h.6M372.9 74.5h.6M373 75.4h.6M373.3 75.4h.6M373.4 75.3h.6M373.7 75.2h.6M373.8 75.1h.6M374.1 74.9h.6M374.2 75.2h.6M374.2 74.7h.6M374.4 75.4h.6M374.4 75.3h.6M374.6 75h.6M375 75.2h.6M375.2 74.7h.6M375.8 74.5h.6M376 75.4h.6M376.5 75.1h.6M376.6 74.7h.6M376.6 74.9h.6M377.2 74.8h.6M377.3 75.4h.6M377.6 74.7h.6M377.8 75.2h.6M378 74.9h.6M378.4 74.7h.6M379.3 75.3h.6M379.3 75.1h.6M379.4 74.6h.6M379.9 75.4h.6M380.6 75.1h.6M380.8 75.5h.6M383 75.3h.6M383.4 75.4h.6M383.7 75.1h.6M384.2 74.7h.6M387.6 75.5h.6M388.1 74.7h.6M388.2 74.5h.6M389.1 75.3h.6M389.4 75.2h.6M389.6 75.2h.6M389.7 75.4h.6M389.9 75.2h.6M390 74.7h.6M390.5 74.8h.6M390.7 74.6h.6M390.8 75.3h.6M390.8 75.2h.6M391 74.8h.6M391.2 74.7h.6M391.3 75.4h.6M391.3 74.7h.6M391.5 75h.6M391.6 74.6h.6M391.6 74.5h.6M391.7 75h.6M391.7 75.1h.6M391.7 74.9h.6M392 75.1h.6M392 75.3h.6M392.2 75.1h.6M392.3 74.8h.6M392.3 75.1h.6M392.8 74.7h.6M392.9 74.8h.6M393 74.9h.6M393.1 74.7h.6M393.1 75.4h.6M393.1 74.7h.6M393.2 75.5h.6M393.2 74.9h.6M393.2 74.7h.6M393.2 74.5h.6M393.2 74.8h.6M393.4 75.5h.6M393.4 75.2h.6M393.5 74.8h.6M393.5 74.9h.6M393.5 75.2h.6M393.5 74.5h.6M393.6 75.5h.6M393.6 74.9h.6M393.6 74.5h.6M393.6 75h.6M393.7 74.7h.6M393.7 75.2h.6M393.7 74.6h.6M393.7 75.4h.6M393.8 74.9h.6M393.9 74.8h.6M393.9 74.7h.6M394 74.9h.6M394 74.8h.6M394.1 74.7h.6M394.1 74.9h.6M394.1 75.1h.6M394.2 74.9h.6M394.3 74.6h.6M394.4 75.3h.6M394.4 75.2h.6M394.5 75.4h.6M394.8 74.6h.6M394.9 75.4h.6M394.9 74.6h.6M394.9 75.3h.6M395 74.6h.6M395 74.6h.6M395.2 74.7h.6M395.3 75.4h.6M395.3 75.1h.6M395.4 75h.6M395.4 75.3h.6M395.5 75.2h.6M395.6 75h.6M395.6 75.1h.6M395.7 75.2h.6M395.7 75.2h.6M395.7 75.1h.6M395.9 75.2h.6M395.9 74.6h.6M395.9 74.5h.6M395.9 75.2h.6M395.9 74.6h.6M396 75.1h.6M396 75.1h.6M396 74.9h.6M396.1 75.4h.6M396.1 74.6h.6M396.2 74.5h.6M396.2 74.5h.6M396.2 74.8h.6M396.3 75.2h.6M396.3 74.9h.6M396.4 75.3h.6M396.4 74.6h.6M396.4 74.5h.6M396.5 74.7h.6M396.5 75.4h.6M396.5 74.7h.6M396.5 74.6h.6M396.6 74.7h.6M396.7 74.9h.6M396.8 74.6h.6M396.9 74.7h.6M396.9 74.8h.6M396.9 75h.6M397 75.3h.6M397 75h.6M397.1 75.2h.6M397.1 74.6h.6M397.1 75.2h.6M397.4 74.7h.6M397.4 75.1h.6M397.5 74.6h.6M397.5 74.6h.6M397.5 75.1h.6M397.5 74.9h.6M397.6 75h.6M397.7 75.4h.6M397.7 74.9h.6M397.8 74.9h.6M397.8 74.7h.6M397.9 75h.6M397.9 74.7h.6M398 75.5h.6M398 74.5h.6M398 75.1h.6M398 75.3h.6M398.1 74.8h.6M398.1 74.9h.6M398.1 74.6h.6M398.1 75.1h.6M398.1 75h.6M398.2 74.9h.6M398.3 75.5h.6M398.5 74.8h.6M398.6 75h.6M398.6 75.5h.6M398.7 75.4h.6M398.8 74.7h.6M398.8 75.5h.6M398.9 75.3h.6M398.9 75.1h.6M398.9 74.8h.6M398.9 75.2h.6M399 75h.6M399.1 75.2h.6M399.2 74.5h.6M399.3 74.7h.6M399.3 74.9h.6M399.4 74.6h.6M399.6 74.8h.6M399.7 74.7h.6M399.8 74.6h.6M399.8 75.5h.6M399.9 74.7h.6M400.1 75.1h.6M400.1 75h.6M400.1 75.3h.6M400.2 75h.6M400.2 75.3h.6M400.6 74.5h.6M400.9 74.7h.6M401 75.3h.6M401.2 75h.6M401.2 74.9h.6M401.3 74.7h.6M401.4 74.8h.6M401.4 75.4h.6M401.4 74.9h.6M401.5 75.4h.6M401.7 74.7h.6M402 75.1h.6M402.5 74.6h.6M403.2 74.8h.6M403.5 75.2h.6M403.5 74.8h.6M367.2 76.5h.6M369.4 76.4h.6M369.5 76.2h.6M369.6 76.3h.6M370.1 76.4h.6M370.1 76.3h.6M370.3 76.3h.6M370.8 75.9h.6M370.8 75.8h.6M371 75.7h.6M371.4 76.2h.6M371.4 75.8h.6M371.5 75.7h.6M371.8 76.3h.6M372.2 76.1h.6M372.3 75.6h.6M372.5 75.8h.6M372.7 76.1h.6M373.2 75.6h.6M373.5 75.6h.6M373.5 75.9h.6M373.5 76h.6M373.6 75.8h.6M373.7 75.9h.6M373.7 76h.6M373.9 75.9h.6M374.1 76h.6M374.2 75.9h.6M374.4 76.2h.6M374.4 75.5h.6M374.4 75.7h.6M374.9 76.4h.6M375.1 75.5h.6M375.1 76.2h.6M375.2 76.3h.6M375.4 75.5h.6M375.5 76.1h.6M375.9 75.5h.6M376.2 75.6h.6M376.2 76.1h.6M376.3 76.2h.6M376.5 75.8h.6M376.9 76.5h.6M377.5 75.8h.6M377.8 75.5h.6M377.9 75.8h.6M377.9 76h.6M378 75.9h.6M379.1 76.1h.6M379.2 76.1h.6M379.3 75.8h.6M380.4 75.5h.6M380.7 76h.6M380.8 75.7h.6M381.3 75.8h.6M381.6 75.9h.6M383.7 75.5h.6M383.9 75.6h.6M384.4 76.4h.6M384.8 76h.6M386.4 76.2h.6M387.2 76.3h.6M389.5 75.5h.6M390.2 75.8h.6M390.6 76.4h.6M390.7 75.9h.6M391 75.8h.6M391.2 75.6h.6M391.6 76h.6M391.9 75.9h.6M391.9 76.2h.6M391.9 75.6h.6M392 76.4h.6M392.2 75.8h.6M392.4 76.5h.6M392.4 76.4h.6M392.4 76.3h.6M392.5 76.3h.6M392.8 75.9h.6M393 76.5h.6M393 76.4h.6M393.1 75.5h.6M393.1 76.3h.6M393.1 76.5h.6M393.3 76.2h.6M393.6 76.1h.6M393.7 75.7h.6M393.9 75.9h.6M394 75.6h.6M394 75.8h.6M394.1 75.9h.6M394.1 76h.6M394.2 76.2h.6M394.2 76h.6M394.2 76.5h.6M394.2 76.2h.6M394.3 75.7h.6M394.3 75.6h.6M394.3 75.5h.6M394.3 76.2h.6M394.4 76.3h.6M394.4 76.4h.6M394.4 76.3h.6M394.5 76.4h.6M394.5 75.5h.6M394.8 76.3h.6M394.8 76.1h.6M394.8 76.4h.6M394.8 75.9h.6M394.9 76.3h.6M394.9 75.7h.6M394.9 76.2h.6M394.9 75.6h.6M395 76.4h.6M395 76.2h.6M395.1 76.4h.6M395.1 76.2h.6M395.1 76.5h.6M395.1 75.6h.6M395.1 76.1h.6M395.2 76.2h.6M395.2 75.7h.6M395.2 76h.6M395.3 76.1h.6M395.3 75.7h.6M395.3 75.7h.6M395.4 75.5h.6M395.4 76.2h.6M395.5 76.1h.6M395.6 75.6h.6M395.6 75.7h.6M395.6 75.8h.6M395.7 76.4h.6M395.7 76.2h.6M395.7 76.1h.6M395.7 76.1h.6M395.8 76.5h.6M395.8 75.8h.6M395.9 75.9h.6M395.9 76.4h.6M395.9 75.6h.6M396.1 76.4h.6M396.1 76.3h.6M396.3 76.2h.6M396.3 75.9h.6M396.4 75.7h.6M396.4 76.4h.6M396.5 76.3h.6M396.5 75.9h.6M396.5 76.5h.6M396.6 76.4h.6M396.6 75.6h.6M396.6 75.6h.6M396.7 75.7h.6M396.8 76.5h.6M396.8 76h.6M396.9 76.3h.6M396.9 76.1h.6M396.9 76.3h.6M397.2 76h.6M397.2 75.7h.6M397.3 76.2h.6M397.3 76.3h.6M397.3 76.2h.6M397.3 76.4h.6M397.4 75.6h.6M397.4 76.3h.6M397.4 76h.6M397.5 76h.6M397.5 75.7h.6M397.7 76.3h.6M397.8 75.8h.6M398 76h.6M398.1 76.1h.6M398.1 76.1h.6M398.1 76.2h.6M398.2 76.1h.6M398.2 75.8h.6M398.2 76h.6M398.2 76.3h.6M398.3 75.8h.6M398.4 75.6h.6M398.5 75.9h.6M398.5 76.1h.6M398.6 76.2h.6M398.7 76h.6M398.7 76.4h.6M398.8 76.3h.6M399 75.7h.6M399.1 76.1h.6M399.2 75.6h.6M399.2 75.5h.6M399.3 76.1h.6M399.3 76h.6M399.4 76.2h.6M399.4 75.6h.6M399.4 75.9h.6M399.4 75.8h.6M399.4 76.2h.6M399.6 76.1h.6M399.9 76.4h.6M399.9 76.2h.6M399.9 75.9h.6M399.9 76.2h.6M400.1 76.2h.6M400.1 76h.6M400.3 76.4h.6M400.4 75.7h.6M400.4 75.9h.6M400.7 76.1h.6M400.8 75.7h.6M400.8 76h.6M400.8 76.2h.6M401 75.6h.6M401 76.1h.6M401.2 75.7h.6M401.4 75.6h.6M401.5 76.2h.6M401.8 75.9h.6M403.4 76h.6M404.5 75.8h.6M407.4 76.3h.6M367.6 76.5h.6M367.7 77.3h.6M367.8 76.9h.6M369.3 77.4h.6M369.4 76.5h.6M369.4 76.9h.6M369.7 77.2h.6M370 76.6h.6M370.4 77h.6M370.8 77.4h.6M370.8 77.1h.6M371.1 77.5h.6M371.1 77.3h.6M371.3 77h.6M371.5 77.2h.6M371.5 77h.6M371.6 76.8h.6M372.2 77.3h.6M372.2 77.4h.6M372.4 77.1h.6M372.5 76.5h.6M373 77.3h.6M373.2 76.6h.6M373.5 77h.6M373.6 77h.6M373.8 77.4h.6M374.5 76.7h.6M374.9 76.9h.6M374.9 76.7h.6M375.2 76.9h.6M375.2 77.2h.6M375.2 77h.6M375.2 77.4h.6M375.6 76.5h.6M375.6 77.4h.6M375.8 76.6h.6M376.1 77h.6M376.2 77.2h.6M376.5 76.8h.6M376.9 76.5h.6M377.1 77.1h.6M377.2 76.6h.6M377.3 76.7h.6M377.3 76.8h.6M377.7 77.3h.6M378.1 77.2h.6M378.3 77.1h.6M378.7 77.5h.6M378.8 76.7h.6M378.9 76.9h.6M379.6 76.7h.6M379.9 77.5h.6M380.1 77h.6M380.6 77.2h.6M380.7 76.6h.6M381.1 76.5h.6M381.2 76.6h.6M381.4 76.6h.6M381.8 77.3h.6M381.9 76.9h.6M383.2 77.4h.6M383.5 76.9h.6M386.3 76.8h.6M387.5 77.5h.6M388.8 77h.6M389.6 76.6h.6M389.8 77.4h.6M389.9 76.5h.6M390.1 77h.6M390.2 77h.6M390.3 76.5h.6M390.7 76.8h.6M391.2 77.4h.6M391.2 76.9h.6M391.3 77.3h.6M391.7 76.7h.6M392.1 76.6h.6M392.4 76.8h.6M392.5 77.2h.6M392.7 76.9h.6M392.7 77.2h.6M392.7 76.7h.6M392.8 77.5h.6M392.8 76.5h.6M392.9 76.8h.6M392.9 76.9h.6M393.4 77.3h.6M393.7 76.7h.6M393.7 76.8h.6M393.8 76.9h.6M394 77.1h.6M394 77.3h.6M394.1 76.7h.6M394.2 77h.6M394.4 76.6h.6M394.4 77h.6M394.5 77h.6M394.6 76.7h.6M394.6 76.5h.6M395 77.1h.6M395 76.7h.6M395.1 77.3h.6M395.1 77.2h.6M395.4 76.6h.6M395.4 76.8h.6M395.5 77.3h.6M395.7 77.1h.6M395.7 77.4h.6M395.7 77h.6M395.9 77.3h.6M395.9 77h.6M395.9 76.7h.6M396 76.5h.6M396.1 76.9h.6M396.1 77.1h.6M396.2 77.1h.6M396.6 76.6h.6M396.6 76.6h.6M396.6 76.8h.6M396.7 77.4h.6M396.8 77h.6M396.9 77h.6M396.9 76.9h.6M397 76.7h.6M397 77.1h.6M397.1 76.8h.6M397.1 76.6h.6M397.2 76.8h.6M397.3 76.8h.6M397.3 77h.6M397.4 77.4h.6M397.4 76.7h.6M397.5 77.1h.6M397.5 77.4h.6M397.6 77.1h.6M397.8 77h.6M397.8 77.2h.6M397.9 76.7h.6M398.1 76.8h.6M398.1 77.1h.6M398.1 76.5h.6M398.2 76.9h.6M398.2 76.7h.6M398.2 77.4h.6M398.2 77h.6M398.3 76.8h.6M398.6 76.6h.6M398.6 77.3h.6M398.8 77.4h.6M399.1 77.2h.6M399.1 77.2h.6M399.2 76.7h.6M399.2 77.1h.6M399.2 77h.6M399.3 77.2h.6M399.3 76.7h.6M399.4 76.7h.6M399.9 77.1h.6M399.9 76.6h.6M400.1 76.9h.6M400.1 76.9h.6M400.1 77h.6M400.2 77.4h.6M400.2 77.4h.6M400.3 76.6h.6M400.5 76.6h.6M400.6 76.8h.6M400.6 77h.6M400.8 76.7h.6M400.9 77.1h.6M401.3 77h.6M402.1 77.3h.6M402.2 76.6h.6M402.2 76.8h.6M402.7 77.3h.6M405.7 77.2h.6M367.2 77.9h.6M367.8 78.4h.6M367.9 78.5h.6M368.1 78.3h.6M368.4 78h.6M368.9 78.1h.6M369.2 77.9h.6M369.3 78.2h.6M369.6 78.3h.6M370.3 78.3h.6M370.8 78.3h.6M371 78.1h.6M371 77.7h.6M371.1 77.9h.6M371.3 78.5h.6M371.7 77.6h.6M371.7 78.4h.6M371.8 77.9h.6M372.3 78h.6M372.5 78.2h.6M372.6 77.6h.6M372.8 78.1h.6M372.9 78.3h.6M373.2 78.2h.6M373.6 78h.6M373.6 78.2h.6M373.6 78h.6M373.8 77.7h.6M373.9 78.2h.6M374 77.7h.6M374 78.2h.6M374.4 78.5h.6M375.1 77.6h.6M375.7 78.5h.6M376.4 77.9h.6M376.5 77.8h.6M377 78.1h.6M377 77.9h.6M377.2 78.4h.6M377.3 78.4h.6M377.3 77.7h.6M377.8 77.5h.6M378.1 78.1h.6M378.2 77.9h.6M378.4 78.5h.6M378.9 78.1h.6M379.2 78.1h.6M379.2 78.5h.6M379.2 77.7h.6M379.3 77.6h.6M379.6 78.4h.6M380.7 77.9h.6M381.1 78.3h.6M381.4 78.4h.6M381.8 78h.6M382 78.4h.6M382.1 78.4h.6M382.4 78.1h.6M383.3 78.4h.6M384.4 78.4h.6M385 78.4h.6M388 78.3h.6M388.9 77.8h.6M390.2 78.2h.6M390.7 78.5h.6M390.9 78.1h.6M391.8 77.6h.6M392 78.4h.6M392.1 77.8h.6M392.1 78h.6M392.4 78.1h.6M392.5 78.2h.6M392.8 78.2h.6M392.9 78.4h.6M393 77.5h.6M393.2 78.4h.6M393.2 78h.6M393.2 78.4h.6M393.3 78.2h.6M393.3 78.4h.6M393.4 78.4h.6M393.4 77.6h.6M393.5 78.1h.6M393.6 77.6h.6M393.6 78.3h.6M394 77.5h.6M394 77.5h.6M394.2 78.4h.6M394.3 77.9h.6M394.5 78.5h.6M394.6 77.7h.6M394.7 78.2h.6M394.8 78h.6M394.9 77.6h.6M394.9 78.5h.6M395 78.2h.6M395 77.6h.6M395.2 78.2h.6M395.2 77.7h.6M395.3 78.4h.6M395.4 77.7h.6M395.4 78h.6M395.4 77.5h.6M395.4 77.9h.6M395.5 77.7h.6M395.7 77.6h.6M395.7 77.8h.6M395.7 77.7h.6M395.8 78h.6M395.8 78h.6M396.2 78.1h.6M396.2 77.6h.6M396.3 77.9h.6M396.4 77.8h.6M396.4 77.5h.6M396.5 78.3h.6M396.5 77.8h.6M396.7 78.3h.6M397 78h.6M397 78.3h.6M397.1 78h.6M397.2 77.9h.6M397.2 78h.6M397.3 77.7h.6M397.3 77.9h.6M397.4 78.1h.6M397.4 77.7h.6M397.5 77.6h.6M397.6 78.4h.6M397.7 78.1h.6M397.7 78.4h.6M397.8 77.7h.6M397.9 77.8h.6M397.9 78.1h.6M397.9 78.1h.6M398 77.8h.6M398 78h.6M398 78.2h.6M398 78.3h.6M398.1 77.9h.6M398.3 78.4h.6M398.3 78.3h.6M398.3 78.2h.6M398.4 77.6h.6M398.5 77.9h.6M398.6 77.7h.6M398.6 78.2h.6M398.7 78.2h.6M399.1 77.8h.6M399.3 78.3h.6M399.3 77.8h.6M399.3 78.2h.6M399.6 77.9h.6M399.6 77.9h.6M399.6 77.7h.6M399.7 78.2h.6M399.8 77.9h.6M399.8 77.8h.6M399.8 77.6h.6M399.8 78.4h.6M399.9 78.1h.6M399.9 77.9h.6M400.2 78.3h.6M400.2 78.4h.6M400.3 78.3h.6M400.4 78.4h.6M400.4 77.8h.6M400.5 77.6h.6M401 78.2h.6M401.2 78.2h.6M401.6 78.3h.6M401.6 78.3h.6M401.8 77.7h.6M402 78h.6M403.2 78.3h.6M404.6 78.5h.6M405.2 77.7h.6M366.7 79.4h.6M366.8 79.2h.6M370 78.5h.6M370.4 78.6h.6M371.8 79.4h.6M371.8 78.5h.6M371.8 78.7h.6M372 79.5h.6M372.1 79.2h.6M372.2 78.9h.6M372.2 78.6h.6M373.7 78.7h.6M373.7 78.7h.6M374.4 79.4h.6M374.4 79.4h.6M374.6 79.3h.6M374.9 79h.6M375.2 78.7h.6M375.9 79.1h.6M376.6 79h.6M377 79.3h.6M377.2 79.1h.6M377.2 78.9h.6M377.8 78.6h.6M378.5 79h.6M379.1 78.5h.6M379.2 79.1h.6M379.4 79h.6M379.6 78.8h.6M380.1 79.1h.6M380.5 79.3h.6M381 78.9h.6M381.1 79.2h.6M381.2 78.9h.6M382 79.1h.6M382.8 79h.6M383 78.8h.6M384.2 79h.6M386.1 78.8h.6M386.6 79.3h.6M387.3 79h.6M387.3 78.9h.6M388.8 79.1h.6M389.9 78.5h.6M390.4 79.2h.6M390.5 79.1h.6M390.7 79.3h.6M391.1 78.8h.6M391.3 79.1h.6M391.5 78.7h.6M391.9 79.2h.6M392.1 79.2h.6M392.2 79.1h.6M392.2 79.1h.6M392.3 79.4h.6M392.6 78.9h.6M392.6 79.3h.6M392.6 78.7h.6M392.7 78.7h.6M392.8 79.3h.6M392.9 79.4h.6M393.1 78.7h.6M393.2 79.3h.6M393.3 78.9h.6M393.4 78.6h.6M393.7 79.4h.6M394.1 79.1h.6M394.2 78.5h.6M394.2 78.6h.6M394.3 78.6h.6M394.4 78.6h.6M394.5 78.6h.6M394.5 78.7h.6M394.6 79h.6M394.6 78.6h.6M394.7 78.5h.6M394.8 78.9h.6M394.9 78.8h.6M395.2 79.3h.6M395.2 78.6h.6M395.3 78.8h.6M395.4 79.2h.6M395.5 79h.6M395.6 78.8h.6M395.6 79h.6M395.6 79.2h.6M395.8 78.9h.6M395.9 79.4h.6M395.9 79.1h.6M395.9 78.8h.6M395.9 79.2h.6M396 79.3h.6M396.1 78.9h.6M396.2 78.9h.6M396.2 78.8h.6M396.2 79h.6M396.3 78.9h.6M396.4 79.2h.6M396.4 79.3h.6M396.4 78.8h.6M396.5 79.5h.6M396.6 78.7h.6M396.9 79.3h.6M397 79.2h.6M397.2 78.5h.6M397.3 79.4h.6M397.3 79.1h.6M397.3 78.6h.6M397.4 78.6h.6M397.5 78.5h.6M397.5 79.2h.6M397.5 78.5h.6M397.7 79.2h.6M397.7 79.3h.6M397.7 78.6h.6M397.9 78.7h.6M398 79.4h.6M398 79.5h.6M398 79.4h.6M398.1 79.5h.6M398.2 78.9h.6M398.2 79.3h.6M398.2 78.9h.6M398.2 78.8h.6M398.3 78.6h.6M398.5 79.3h.6M398.5 79.5h.6M398.8 79.1h.6M398.9 79.5h.6M399 79.4h.6M399.2 79.3h.6M399.4 79.3h.6M399.7 79.2h.6M399.8 79.1h.6M399.9 78.6h.6M400 78.9h.6M400.4 78.6h.6M400.7 78.6h.6M400.7 79.3h.6M401.3 79.2h.6M401.8 78.8h.6M401.9 79.1h.6M402.2 79.5h.6M402.3 78.8h.6M402.3 79.4h.6M402.3 79.2h.6M403.3 78.9h.6M403.5 79.3h.6M406.2 79.3h.6M366.9 80.3h.6M367.6 80.5h.6M368.3 79.5h.6M369.1 80h.6M369.7 79.7h.6M370.4 79.9h.6M370.9 79.8h.6M371.3 80.4h.6M371.8 80h.6M372.3 79.8h.6M372.4 80.2h.6M372.6 79.6h.6M373.3 79.7h.6M374 79.7h.6M374.1 79.8h.6M374.4 79.8h.6M375.1 80.1h.6M376.1 80.2h.6M376.5 80.1h.6M376.6 80.1h.6M377 79.8h.6M377.1 79.8h.6M377.2 80.2h.6M377.6 79.9h.6M378.7 79.7h.6M378.9 79.9h.6M379.1 79.6h.6M379.3 80.3h.6M379.6 80.4h.6M383.1 80.1h.6M383.7 79.5h.6M383.9 79.8h.6M385.1 79.9h.6M389.1 80.2h.6M390.1 80.3h.6M390.2 79.9h.6M390.5 80h.6M390.7 79.8h.6M390.8 80.2h.6M391.1 80.4h.6M391.4 79.8h.6M391.9 80.1h.6M392.6 79.7h.6M393 79.8h.6M393.3 80h.6M393.3 80.2h.6M393.4 80.2h.6M393.4 79.7h.6M393.6 80.2h.6M393.8 79.9h.6M393.9 79.9h.6M393.9 80h.6M393.9 80h.6M394 80.1h.6M394.2 80h.6M394.5 79.6h.6M394.6 79.6h.6M394.6 80h.6M394.6 79.8h.6M394.7 80.3h.6M394.9 80.2h.6M394.9 79.9h.6M395 79.9h.6M395.1 80.3h.6M395.1 79.9h.6M395.4 79.7h.6M395.4 79.5h.6M395.4 79.8h.6M395.4 79.7h.6M395.5 79.6h.6M395.7 80.3h.6M395.8 79.8h.6M395.8 79.8h.6M395.9 79.8h.6M396 80.1h.6M396 79.7h.6M396 79.7h.6M396.1 80h.6M396.1 80.2h.6M396.1 80.2h.6M396.9 79.8h.6M396.9 80.1h.6M397 79.5h.6M397 79.8h.6M397.2 80.3h.6M397.2 79.9h.6M397.5 80.4h.6M397.5 79.9h.6M397.6 80.1h.6M397.7 79.6h.6M397.8 80.2h.6M397.8 80.3h.6M397.9 80.1h.6M397.9 79.6h.6M397.9 79.7h.6M398 79.6h.6M398.3 79.6h.6M398.4 80.3h.6M398.4 80h.6M398.5 80h.6M398.6 80.1h.6M398.8 79.9h.6M398.9 80.1h.6M398.9 79.6h.6M399 80.2h.6M399.1 80.4h.6M399.2 80.2h.6M399.9 79.9h.6M400.1 80h.6M400.1 79.6h.6M400.2 80.1h.6M400.3 79.5h.6M400.4 79.8h.6M400.4 79.5h.6M401.3 79.5h.6M401.6 79.5h.6M401.7 80.3h.6M402 80.2h.6M402.1 79.6h.6M402.4 79.7h.6M402.9 79.7h.6M402.9 79.8h.6M403.1 80h.6M404.2 80.3h.6M366.3 80.6h.6M366.8 80.5h.6M369.5 81.4h.6M370 80.8h.6M371.3 80.5h.6M371.9 81.1h.6M372.1 81h.6M372.3 80.6h.6M372.4 81.2h.6M372.8 80.5h.6M373.3 81h.6M373.4 80.7h.6M373.6 80.8h.6M374.4 81.3h.6M374.7 81.2h.6M374.8 80.8h.6M375.6 80.5h.6M376.6 81.3h.6M377.5 80.8h.6M378.5 81.4h.6M378.5 81.3h.6M379.3 81h.6M380.1 80.7h.6M380.3 81.3h.6M383.3 80.7h.6M389.1 80.5h.6M389.1 81h.6M390.6 81.3h.6M391 80.8h.6M391.2 80.8h.6M391.7 81.3h.6M391.9 81.4h.6M392.3 81.3h.6M392.7 81.1h.6M392.7 81.2h.6M393.5 80.8h.6M393.8 80.7h.6M393.9 81h.6M394 81.3h.6M394.1 80.6h.6M394.2 80.8h.6M394.4 81.2h.6M394.5 81.5h.6M394.5 80.7h.6M394.6 81.5h.6M394.9 81.3h.6M394.9 81.2h.6M394.9 80.6h.6M395.2 80.6h.6M395.4 80.9h.6M395.5 80.5h.6M395.8 81.1h.6M395.9 81.1h.6M395.9 80.8h.6M396.3 80.9h.6M396.6 81h.6M396.7 81.2h.6M396.7 80.7h.6M397 80.8h.6M397 80.9h.6M397.1 80.6h.6M397.2 81.3h.6M397.3 80.8h.6M397.4 80.5h.6M398.1 80.8h.6M398.1 81.2h.6M398.1 81.4h.6M398.3 81.2h.6M398.3 80.9h.6M398.5 81.3h.6M398.7 81.5h.6M399.3 80.9h.6M399.6 80.7h.6M400.1 81h.6M400.3 80.8h.6M400.4 81.3h.6M400.6 80.6h.6M401.1 80.7h.6M401.1 80.6h.6M401.2 81.4h.6M401.2 80.9h.6M401.4 81.1h.6M401.5 80.5h.6M401.7 80.6h.6M402.9 81.4h.6M368.2 82h.6M368.8 82.3h.6M368.8 81.9h.6M369.2 82.4h.6M370.9 82.2h.6M373.2 82.5h.6M373.4 81.9h.6M373.8 82.4h.6M374.2 81.6h.6M374.8 82.3h.6M374.8 82.2h.6M376 82.2h.6M376.9 81.7h.6M379.2 81.8h.6M379.4 81.8h.6M380 82.3h.6M380.1 82.2h.6M380.3 82.4h.6M382.3 81.9h.6M382.7 81.7h.6M383.1 81.9h.6M387.4 81.9h.6M390.2 82.3h.6M391.6 81.8h.6M391.6 81.9h.6M392 81.6h.6M392.5 82h.6M392.8 81.6h.6M393.2 81.9h.6M393.7 82.3h.6M393.8 82.3h.6M394.5 81.6h.6M394.5 81.7h.6M394.9 82.4h.6M395 81.7h.6M395 82h.6M395.6 81.6h.6M395.8 82h.6M396 81.7h.6M396.5 82.2h.6M396.5 81.6h.6M396.7 82.2h.6M396.8 82.5h.6M397.3 82.4h.6M397.3 81.6h.6M397.5 82.3h.6M397.8 81.5h.6M397.8 81.6h.6M398.5 81.8h.6M398.8 81.7h.6M398.8 81.9h.6M399 81.9h.6M399 82.2h.6M399.7 82.4h.6M400.8 81.5h.6M401.7 81.6h.6M402.1 82h.6M403 82.3h.6M404.6 82.4h.6M404.7 82.3h.6M404.8 81.5h.6M369.4 83.5h.6M370.4 83.1h.6M370.6 82.5h.6M371.7 82.9h.6M372.4 82.6h.6M373 82.7h.6M376.8 83.2h.6M377 82.5h.6M377.5 82.7h.6M378.9 82.8h.6M379.6 82.8h.6M379.8 82.8h.6M379.9 82.9h.6M380.2 82.9h.6M387.4 82.8h.6M388.8 83h.6M389.1 83.5h.6M390.5 83.1h.6M391.7 83h.6M391.8 82.9h.6M392.3 83.2h.6M392.3 82.6h.6M392.7 83.5h.6M392.8 83h.6M392.9 82.6h.6M393.2 82.7h.6M393.3 82.7h.6M393.6 83.1h.6M393.7 83.3h.6M394.1 83.3h.6M394.3 82.7h.6M394.6 83.1h.6M394.6 82.6h.6M396.3 82.8h.6M396.5 82.7h.6M396.5 82.7h.6M397.3 83.1h.6M398.5 82.9h.6M399.1 82.8h.6M399.7 83.1h.6M400.3 82.6h.6M400.8 82.6h.6M401.5 83h.6M367.2 83.7h.6M370.8 83.6h.6M371.2 84.2h.6M374.3 84.3h.6M375.2 83.7h.6M375.5 83.7h.6M378.3 84.3h.6M384.1 83.7h.6M387 84.4h.6M393.1 83.5h.6M393.4 84h.6M393.8 83.9h.6M394.2 84.5h.6M394.6 84.2h.6M394.6 84h.6M395 84h.6M395.1 83.7h.6M395.7 83.7h.6M396.4 84.4h.6M396.5 84.1h.6M396.5 83.7h.6M397.3 84.1h.6M398 84.3h.6M398.4 83.6h.6M399.1 84.4h.6M399.3 83.8h.6M399.5 84.2h.6M400.1 84.2h.6M371 84.7h.6M372.2 84.9h.6M375.1 84.8h.6M375.5 84.9h.6M375.6 85h.6M376.1 84.6h.6M376.5 85h.6M377.6 84.5h.6M389.9 84.6h.6M392 84.7h.6M392.6 84.5h.6M394 84.7h.6M394.3 84.9h.6M397.3 84.7h.6M398.9 85.1h.6M402.1 84.7h.6" stroke="#000" stroke-width=".6" fill="none" opacity="1.0"/>
<path d="M398.9 12.6h.6M399.9 12.9h.6M401.5 14.5h.6M398.1 16.2h.6M398.6 16.6h.6M402.1 17.2h.6M402.8 20.3h.6M395.4 20.8h.6M397.2 20.8h.6M403.5 22.2h.6M404.9 22.6h.6M400.3 26.6h.6M404.6 26.9h.6M404.8 27.1h.6M398.2 28h.6M398.9 28.1h.6M401 28.3h.6M397 28.5h.6M401.2 29h.6M402.7 29.1h.6M404.8 30.3h.6M405 29.9h.6M398.3 31.4h.6M399.5 30.6h.6M402.4 31h.6M403 31.3h.6M402.6 31.9h.6M406.4 31.6h.6M396.7 32.7h.6M398.4 33h.6M399.4 33.6h.6M397.1 35.5h.6M395.3 36.4h.6M400.4 35.6h.6M402.2 35.8h.6M407.7 36.3h.6M402.1 37h.6M403.4 37.3h.6M397.1 38.3h.6M397.9 38.5h.6M399.6 38.3h.6M402.7 38.4h.6M403.5 38h.6M404.5 38.4h.6M401.5 38.7h.6M402.4 39.5h.6M399.8 40.5h.6M400.2 40.3h.6M404.3 40.5h.6M395.9 40.7h.6M396.6 41.1h.6M401.1 40.9h.6M399.4 42.1h.6M402.4 42h.6M396.7 43.3h.6M401.3 43.1h.6M402.7 43h.6M406.4 43.2h.6M394.5 44.3h.6M399.8 43.7h.6M406.3 43.7h.6M407 44.2h.6M396 44.8h.6M398.5 44.5h.6M399 45.4h.6M399.8 44.8h.6M401.3 44.5h.6M403 44.5h.6M393.7 46.4h.6M398 46.2h.6M398.1 46.2h.6M399.1 45.9h.6M403.8 45.9h.6M405.5 45.9h.6M406.6 45.9h.6M395.9 47h.6M398.6 47.3h.6M400.2 47h.6M403.8 46.6h.6M404.4 46.9h.6M396.5 48.1h.6M401.7 47.8h.6M402.3 47.6h.6M403.6 48.1h.6M404.9 47.6h.6M400.3 49.4h.6M402.6 48.8h.6M404.1 48.5h.6M406.6 48.6h.6M399.8 49.9h.6M400.5 50h.6M404.6 49.8h.6M400.6 51.3h.6M401.3 51.2h.6M404.4 50.5h.6M397.2 51.6h.6M398 52h.6M399.3 52.4h.6M403.4 52.3h.6M398.8 53.3h.6M399.2 52.6h.6M399.2 53.4h.6M400.2 52.7h.6M400.7 52.8h.6M401.6 53.2h.6M402.6 53.5h.6M403.4 52.7h.6M405.5 52.9h.6M406 53.3h.6M391.5 53.9h.6M395.1 54.4h.6M397.9 54.3h.6M399.7 54.3h.6M400.7 53.8h.6M402.4 53.9h.6M402.8 54.2h.6M404.3 54h.6M387.5 54.7h.6M398.2 55.5h.6M398.2 55h.6M399.1 55.3h.6M399.2 55h.6M399.6 55.2h.6M399.9 55.5h.6M400.2 55.3h.6M401.5 54.8h.6M403.3 55h.6M405.2 54.7h.6M405.4 55h.6M390.5 56h.6M400 55.7h.6M400.9 55.8h.6M401.6 55.8h.6M402.7 55.7h.6M402.8 55.9h.6M402.9 56.3h.6M403.8 55.9h.6M403.9 56.2h.6M390.6 57.5h.6M395.1 56.9h.6M398.3 56.6h.6M399.8 56.6h.6M400.4 56.8h.6M402.1 56.7h.6M403 56.7h.6M406.3 57.4h.6M381.2 58.4h.6M394 58.4h.6M394.2 57.6h.6M394.8 57.8h.6M395.5 57.9h.6M396.3 57.5h.6M398.3 57.6h.6M398.4 58h.6M399.6 57.7h.6M399.7 58.3h.6M400.1 58.5h.6M400.9 57.7h.6M403.4 57.8h.6M403.7 58.3h.6M404.9 58.4h.6M406.2 58.4h.6M407.2 58.5h.6M411.3 58h.6M393.9 58.6h.6M398.6 58.9h.6M399.1 59.1h.6M399.2 59.1h.6M399.3 58.6h.6M400.2 59h.6M402.2 58.5h.6M403.4 59.4h.6M404.3 58.9h.6M404.5 59h.6M405.7 59h.6M405.7 58.6h.6M406.3 58.8h.6M372.3 60.2h.6M374.3 60.1h.6M390.2 60h.6M394.3 60.2h.6M394.5 59.8h.6M395.3 60h.6M395.6 59.8h.6M396.1 59.6h.6M399 60h.6M400.2 60.3h.6M401.3 59.6h.6M402.8 59.7h.6M405.6 60.4h.6M372.7 60.9h.6M379.3 61h.6M392.7 60.5h.6M392.7 61.3h.6M393.4 61h.6M393.9 60.8h.6M394.8 61h.6M395.5 60.7h.6M395.9 60.8h.6M397.3 60.6h.6M398 61.3h.6M399.4 61.2h.6M399.9 60.9h.6M400.2 61.2h.6M400.9 60.5h.6M402.8 60.7h.6M403.1 61.4h.6M371.8 61.5h.6M377 62.1h.6M377.5 62h.6M381.1 62.1h.6M391.5 62.2h.6M398 61.8h.6M398.2 62.4h.6M399.1 61.6h.6M399.7 61.6h.6M401.8 62.1h.6M405.6 61.8h.6M406.8 62.2h.6M369 62.9h.6M372.4 63.3h.6M392.5 62.9h.6M395.6 62.7h.6M397.8 63h.6M400 63.5h.6M373.2 63.9h.6M377 64.2h.6M390.3 64.4h.6M392.1 63.6h.6M395.7 64.3h.6M396.8 63.9h.6M397.5 64.5h.6M401.3 63.8h.6M402.4 63.6h.6M402.7 63.9h.6M402.9 63.7h.6M380.6 65.1h.6M394.7 64.9h.6M397 65.1h.6M403.1 65.1h.6M370.2 65.7h.6M375.2 66.5h.6M376.1 66.3h.6M378.8 65.8h.6M379.1 65.7h.6M381.5 66.1h.6M383.1 66.1h.6M393.6 66.5h.6M394.6 65.6h.6M397.7 66.4h.6M399.9 65.8h.6M404.9 66.2h.6M406.7 65.7h.6M369.2 67.2h.6M370.2 66.9h.6M379.8 67.2h.6M380.8 67.3h.6M382.2 67.3h.6M383.2 66.8h.6M394 67.3h.6M395.8 66.8h.6M396.2 66.9h.6M398.5 67.2h.6M402.4 67.4h.6M403.2 67.1h.6M403.2 67.2h.6M403.4 67.3h.6M378 67.6h.6M379.1 67.6h.6M391.1 68.4h.6M393.9 67.6h.6M399.8 68.3h.6M400.2 68.2h.6M400.3 67.8h.6M401.9 68.3h.6M404.4 68h.6M405.6 68.4h.6M368.5 69.3h.6M368.6 69.2h.6M369.7 69.1h.6M375.4 69.2h.6M379.7 68.8h.6M382.9 68.7h.6M391 68.9h.6M391.1 68.9h.6M393.6 68.9h.6M399.7 69.4h.6M408 68.9h.6M367.2 70.4h.6M367.4 70.5h.6M372.6 70.1h.6M374 70.1h.6M374.9 70.2h.6M376.3 70.3h.6M377 69.6h.6M377.8 69.8h.6M377.9 70.4h.6M381.4 70.4h.6M381.4 69.6h.6M382.6 69.6h.6M382.9 69.9h.6M383.3 69.7h.6M384 69.9h.6M385.2 70.2h.6M391.2 70.5h.6M391.5 70.5h.6M391.6 70.4h.6M393.2 70.5h.6M397 70.2h.6M404.8 69.7h.6M405.1 70.2h.6M408 69.7h.6M371.1 71.5h.6M374.8 71.3h.6M376.5 70.8h.6M386.1 71.3h.6M391 71.3h.6M391 71.2h.6M393 70.9h.6M393 71.2h.6M395.8 71h.6M396.2 71.4h.6M396.5 70.6h.6M400.4 71h.6M400.9 71.3h.6M402 71.1h.6M402.8 71.3h.6M403.4 70.8h.6M370.1 71.7h.6M370.1 71.9h.6M370.7 72.3h.6M378.4 71.9h.6M387.6 71.8h.6M390.2 72.4h.6M390.3 72h.6M398.4 71.7h.6M398.9 72.3h.6M401 71.8h.6M402 72h.6M411.2 71.8h.6M367 73.5h.6M368.4 72.8h.6M369.5 72.8h.6M372.2 73.5h.6M377.5 73.4h.6M381.5 73.3h.6M382.6 72.8h.6M387.5 73.2h.6M390.3 73.1h.6M391.1 72.9h.6M393.3 72.5h.6M393.8 73h.6M394.7 73.3h.6M395.2 72.5h.6M395.2 72.6h.6M395.4 73.3h.6M396.5 72.7h.6M397.3 73.2h.6M397.5 73.4h.6M399.1 72.9h.6M400.3 72.7h.6M400.7 73.3h.6M406 72.8h.6M422.8 73.4h.6M367.8 74.3h.6M371.1 73.5h.6M371.3 74.2h.6M374.9 74.5h.6M377.8 74.1h.6M378.8 73.6h.6M382.2 74.3h.6M384.2 73.7h.6M385.4 74.3h.6M386.7 74.1h.6M388.2 74.4h.6M388.9 74h.6M389.4 73.8h.6M390.3 73.9h.6M394.5 74.4h.6M399.4 74.5h.6M399.6 74.5h.6M399.8 73.6h.6M403.7 73.6h.6M403.8 73.8h.6M407.2 74h.6M408.2 73.9h.6M408.4 74.5h.6M427.2 74h.6M366.5 74.9h.6M367.4 75.5h.6M368.8 74.5h.6M371.2 75.3h.6M373.6 74.8h.6M376.6 74.9h.6M377.3 74.8h.6M379.1 75.1h.6M381.8 74.8h.6M387.1 75.3h.6M392.3 75h.6M394.2 75.4h.6M394.4 75.3h.6M394.6 75h.6M397.2 75.4h.6M398.9 74.5h.6M401 74.7h.6M402.7 74.9h.6M404 75h.6M405.4 75.2h.6M410.2 75.4h.6M374.1 75.7h.6M374.5 76.5h.6M375.2 75.7h.6M376.6 76h.6M376.9 76.3h.6M377.6 76.2h.6M378.5 76.3h.6M380 75.8h.6M380.3 76h.6M380.4 75.9h.6M383 76h.6M384 76.3h.6M385.7 76.1h.6M385.7 76.1h.6M389.6 75.7h.6M392.7 75.7h.6M396.5 75.8h.6M397.1 76.3h.6M399.7 76.5h.6M402 76.1h.6M403.3 76.1h.6M408.4 76.2h.6M409.1 75.7h.6M366.1 77.4h.6M369.5 76.8h.6M374.7 77.3h.6M375.7 76.8h.6M375.9 76.9h.6M377.1 77.2h.6M377.9 76.5h.6M381 77h.6M381.4 77.4h.6M383.8 76.9h.6M383.8 76.7h.6M384.6 77.1h.6M386 76.5h.6M387.9 76.5h.6M389.3 77.3h.6M390.8 77.2h.6M391.8 76.7h.6M394.8 76.6h.6M396.5 76.9h.6M399.8 77h.6M400.8 76.8h.6M409.7 77.5h.6M410.2 77.4h.6M367.9 77.6h.6M370.9 77.9h.6M374.7 78.4h.6M375 78.1h.6M376.9 78.3h.6M379.1 78.2h.6M379.2 77.9h.6M381 78.1h.6M381.2 78.1h.6M382.6 77.8h.6M388.3 78.3h.6M392.4 77.6h.6M393.8 78.3h.6M395.8 78.3h.6M396 78h.6M397.4 78.3h.6M398.1 77.5h.6M399.4 78.2h.6M400.4 78h.6M401.4 77.5h.6M405.8 77.8h.6M367.4 78.8h.6M376 78.6h.6M380.6 79.2h.6M381.9 79.1h.6M386.7 79.1h.6M388 79.1h.6M388.3 79.3h.6M393 78.7h.6M393 79.2h.6M397.2 78.6h.6M398.6 78.7h.6M399.2 79.4h.6M402.7 79.4h.6M408.1 79h.6M377.8 79.7h.6M392.2 79.9h.6M393.4 79.6h.6M393.6 80.1h.6M394 80.4h.6M399.3 80.4h.6M403.6 80.1h.6M404.7 79.8h.6M410.9 80.2h.6M365.8 80.7h.6M372.6 81.1h.6M374.4 80.7h.6M375.2 80.5h.6M382 81h.6M384.5 80.5h.6M385.9 80.8h.6M387 80.7h.6M390.6 80.5h.6M392.7 81h.6M398.1 80.8h.6M398.8 80.8h.6M400.1 81.1h.6M401.2 80.6h.6M403.2 81.4h.6M404.2 80.7h.6M405.3 80.8h.6M405.5 81.2h.6M407.9 80.8h.6M373.1 82.2h.6M379.1 82.2h.6M388.1 81.9h.6M388.7 81.8h.6M393.4 81.8h.6M398.1 81.7h.6M406.2 81.7h.6M417.8 82.1h.6M370.5 82.8h.6M376.7 82.6h.6M378.9 83.2h.6M379.1 82.7h.6M385.1 83.5h.6M373.6 84h.6M382.4 84h.6M385.4 84.3h.6M392.2 84.5h.6M395 83.9h.6M402.8 83.6h.6M403.8 84.3h.6M412.4 84.3h.6M428.6 84.5h.6M371.2 84.9h.6M374.7 85h.6M375.1 84.6h.6M377.2 85h.6M377.5 85.1h.6M378.4 84.5h.6M378.5 85.1h.6M383.4 84.7h.6M384.2 84.8h.6M385.8 84.7h.6M388.8 84.8h.6M389.4 84.6h.6M393.2 84.8h.6M395 84.8h.6M395.6 84.9h.6M396.6 84.6h.6M396.9 84.9h.6M399.7 84.7h.6M400.4 84.7h.6M401.1 85h.6M401.4 84.8h.6M405.7 84.7h.6M406.5 84.7h.6M407.8 85h.6M408.9 84.8h.6M411 84.6h.6M416.3 84.9h.6M419.6 85.1h.6M421.6 85.1h.6M421.7 84.8h.6M421.8 84.7h.6M422.4 84.9h.6M422.6 84.7h.6M424.3 84.8h.6M424.7 84.7h.6M425.6 84.8h.6M429.7 84.7h.6M430.7 84.9h.6M431.3 84.7h.6M432.5 85.1h.6" stroke="#777" stroke-width=".6" fill="none" opacity="1.0"/>
</g></g>
<rect x="365.3" y="10.6" width="74.3" height="75.2" fill="none" stroke="#999" stroke-width=".55"/>
<path d="M365.3 10.6V85.8" stroke="#666" stroke-width=".55" fill="none"/>
<path d="M387.6 10.6V85.8M365.3 57.5H439.6" stroke="#666" stroke-width=".55" fill="none"/>
<path d="M365.3 29h-1.2M365.3 48h-1.2M365.3 67h-1.2" stroke="#777" stroke-width=".5"/>
<rect x="386.5" y="56.4" width="2.2" height="2.2" fill="#111"/>
<text x="369.3" y="17.2" font-size="6.3" font-weight="bold" text-anchor="start" fill="#111" stroke="#111" stroke-width=".2">0</text>
<text x="437" y="17.2" font-size="6.3" font-weight="bold" text-anchor="end" fill="#111" stroke="#111" stroke-width=".2">1.2%</text>
<text x="406" y="4.8" font-size="6.45" font-weight="bold" text-anchor="middle" fill="#111" stroke="#111" stroke-width=".2">+αDEC205-EBNA1</text>
<text x="448" y="52.4" font-size="6.3" font-weight="bold" text-anchor="start" fill="#111" stroke="#111" stroke-width=".2">Day 9</text>
<text x="448" y="153.5" font-size="6.3" font-weight="bold" text-anchor="start" fill="#111" stroke="#111" stroke-width=".2">Day 15</text>
<path d="M69.5 72.6V43M69.5 72.6H82" stroke="#111" stroke-width="1" fill="none"/>
<path d="M69.5 39.4l2.2 4.6h-4.4zM85.4 72.6l-4.6 2.2v-4.4z" fill="#111"/>
<text x="49.4" y="55.6" font-size="7.5" font-weight="bold" text-anchor="start" fill="#111" stroke="#111" stroke-width=".2">IFNγ</text>
<text x="77" y="87.4" font-size="7.5" font-weight="bold" text-anchor="start" fill="#111" stroke="#111" stroke-width=".2">CD4</text>
<path d="M65.8 162.6V133M65.8 162.6H78" stroke="#111" stroke-width="1" fill="none"/>
<path d="M65.8 129.4l2.2 4.4h-4.4zM81.6 162.6l-4.4 2.2v-4.4z" fill="#111"/>
<text x="46.2" y="143.2" font-size="7.5" font-weight="bold" text-anchor="start" fill="#111" stroke="#111" stroke-width=".2">CD8</text>
<text x="73.6" y="177.8" font-size="7.5" font-weight="bold" text-anchor="start" fill="#111" stroke="#111" stroke-width=".2">CFSE</text>
<defs>
<clipPath id="c0"><rect x="105.4" y="103.7" width="75.2" height="74.5"/></clipPath>
<clipPath id="c1"><rect x="193" y="103.7" width="74.7" height="74.5"/></clipPath>
<clipPath id="c2"><rect x="280.2" y="103.7" width="75" height="74.5"/></clipPath>
<clipPath id="c3"><rect x="367.2" y="103.7" width="74.8" height="74.5"/></clipPath>
</defs>
<g clip-path="url(#c0)">
<path d="M164.1 120.5l.9-.2 1.2 .1 .8 .3 1.2 .8 1.4 1.8 .9 2.8 .2 1.6-.1 1.2-.3 1.2-.5 1.2-.8 1.2-.8 .7-1.2 .7-.8 .2-2-.1-1.9-1.1-1.2-1.6-.8-2.4 0-2.8 .8-2.4 1.5-2.2zM161 178.1l-.2-4 .1-6.8 .2-2.8 .4-2 .8-2.4 .8-1.6 1.1-.9 1.2-.3 2.4 .2 1.2 .7 .9 1.1 .9 2 .5 2.4 .4 4.4-.1 10" fill="#000" stroke="none"/>
<path d="M141.5 178.1l0-1.6 .3-.8 .7-.8 1.7-.9 2.8-.4 2.8 .3 2 1 .8 .8 .5 .8 .1 .8-.2 .8M156.5 178.1l-.1-1.6 .4-4.8 0-4-.4-2-.5-.8-.5-.4-.8-.2-1.6-.1-3.2 .1-4.8 .7-1.6 0-3.6-.5-1.6 .3-1 .9-.6 1.1-1 4.5-.6 1.5-.8 1.1-1.2 .5-.8-.1-.8-.6-1-1.6-1.5-5.2-.5-4 .2-2.4 .8-2 1.6-1.6 1.2-.7 1.2-.3 2 0 6.4 .8 5.2 1.4 5.2 .7 3.6 1 .8-.1 .8-.3 1.2-1.1 1.2-2.2 .8-3.2 .5-8 0-4.4-.5-2-2.2-3.6-.8-1.6-2.1-7.2-.9-1-1.2-.2-6.4 .1-8 .8-2.8 0-2-.2-1.9-.7-1.6-1.2-1.2-1.6-.3-.8 0-.8 .5-1.2 1.3-1.3 2-1 2-.5 4-.1 7.2 .6 5.6-.2 2 .4 3.6 1.3 1.2-.4 3.6-2.6 1.2-.4 1.2-.2 1.6 .2 1.6 .7 1.6 .9 1.6 1.4 .9 1.2 .9 1.6 .8 2 .4 2 .2 2.4-.2 2.8-.7 2.8-2.3 5.6-.3 2.4 0 3.6 .3 4.4 .8 4.9 .6 2.3 1.9 5.2 1.4 6 .2 4.8-.6 6M133.4 157.3l2.4-.1 6.6 .9 8.1 2.8 .5 .4 0 .4-3 1.2-3 .7-2 0-4-.7-1.6 .3-.8 .6-.9 1.1-1.9 4.1-.4 .5-.8 .3-.4-.1-.8-.9-.9-1.9-.4-2-.1-2.8 .4-2 .6-1.2 1.2-1.1zM143.4 178.1l-.1-1.2 .3-.8 .4-.4 1.4-.6 1.6-.2 1.6 .2 1.5 .6 .4 .4 .3 .8-.2 1.2M157.7 178.1l-.2-2 .2-6.4-.1-6.4 .5-1.6 2.1-3.9 1.1-3.7 .2-2.4 .6-11.2-.2-1.2-.4-1.2-2.5-3.6-1.1-2.4-.7-3.2-1-5.4-.4-.5-.4 0-4 .5-5.6-.5-4.8 1.3-3.2 .2-2.4-.1-1.6-.5-1.2-.8-1-1.4-.1-1.2 .5-1.2 1.4-1 1.6-.5 2.4-.2 3.6 .3 4 .8 4.4-.8 2.8 0 1.2 .3 1.2 .5 2 1.9 .4 .1 1.2-.6 2.6-2.4 1.4-1 1.2-.5 1.6-.3 1.6 .3 1.2 .6 1.6 1 1.2 1.1 .9 1.2 .8 1.6 1.1 3.6 .1 2.4-.3 2.8-.9 2.8-2.1 4.8-.3 1.6-.1 2.4 .3 6.4 .9 5.9 2.3 6.9 1.6 6.8 .2 4-.7 6M135.4 119.7l2-.2 2.4 .4 1.2 .6 .2 .8-.2 .4-1.2 .5-2.4 .3-1.6-.2-1.2-.6-.4-.8 .4-.8zM149.6 119.7l1.4-.3 1.2 .2 .9 .5 .1 .8-.3 .4-1.1 .4-2-.3-.9-.5-.1-.4 .2-.4zM158.7 178.1l-.2-3.6 .3-9.2 .4-2 1.8-5 1.3-4.6 1-14-.2-1.2-.4-.8-2.6-3.2-1.3-2.4-.9-3.6-.2-3.6 .7-2.4 .9-1.6 1.3-1.6 1.2-1.1 1.2-.7 2-.5 1.2 .2 1.6 .6 1.2 .8 1.2 1.2 1.4 2.3 .7 2 .4 2 .1 2.4-.4 2.4-.9 2.4-2.4 4.4-.5 2.4 .4 8 .8 5.6 .4 1.6 1.9 4.8 1.9 8.4 .1 4-.7 5.6M163.5 118.5l1.1-.3 1.6 .1 1.6 .7 1.2 .9 .9 1 1 1.6 .7 2 .4 1.6 .1 1.6-.1 1.6-.4 1.6-.6 1.6-1 1.6-1.4 1.6-1.6 1.5-.8 .4-.8-.1-1.2-.7-2-1.5-1.3-1.2-.8-1.2-.6-1.2-.8-3.2 0-3.2 .8-2.4 1.9-2.9 1.2-1zM159.7 178.1l-.3-4.8 .3-6 .3-2.8 1.6-6 2.3-5.2 .3-6.4 .6-3.6 .6-1.3 .4-.4 .4 0 .6 .9 .5 1.6 .9 9.6 .2 .8 1.7 2.4 .8 1.6 1.1 4 .9 5.2 .2 2.4-.5 8M165 119.3l1.2 .1 1.2 .5 1.8 1.4 .8 1.2 .7 1.6 .5 1.6 .2 1.6-.3 2.8-1.1 2.4-1.8 1.9-1.2 .7-1.2 .2-1.2-.1-1.2-.4-1.2-.8-.8-.8-.8-1.1-.5-1.2-.6-3.2 0-1.6 .4-1.6 1.4-2.8 1.7-1.7 .8-.5zM160.4 178.1l-.2-4 .2-6.4 .4-4.4 .9-3.2 1-2.4 1.1-1.4 .8-.5 .8-.1 2 .3 1.6 .9 1.2 1.6 1 2.4 .5 2.4 .6 6-.3 8.8M163.9 120.5l1.1-.3 1.2 .1 1.2 .5 .8 .6 1.5 1.9 .6 1.6 .4 1.6 0 2.4-.3 1.2-.7 1.6-1.5 1.6-1.2 .6-.8 .3-2-.2-1.2-.5-.8-.6-.7-.8-.7-1.2-.5-2 0-2.8 .5-2 1.4-2.3 .8-.8zM160.9 178.1l-.2-4 .1-6.4 .5-4.4 .7-2.8 1-1.9 1.2-1.2 1.2-.3 2.4 .3 1.2 .6 1 1.3 .8 2 .5 2.4 .5 4.4-.2 10M163.9 121.3l.7-.3 1.2 0 .8 .2 1.2 .7 1.4 1.8 .8 2.4 .1 2.4-.5 2-.6 1-.8 .9-1.2 .7-.8 .3-1.2 0-.8-.1-1.6-1-1.1-1.4-.6-2-.1-2.4 .5-2 1.2-2zM161.3 178.1l-.2-4 .1-6.4 .5-4.4 .7-2.4 1-1.7 1.2-.8 1.2-.1 1.6 .1 1.2 .4 .9 .9 1 2 .4 2 .5 4.4-.1 10M164.9 121.7l.9 0 .8 .2 1.4 1 1.2 2 .5 2-.1 2-.8 2-1.4 1.3-1.6 .6-1.6-.2-1.4-.9-1-1.6-.5-2 .2-2.4 .6-1.6 1.3-1.7 .8-.5zM161.7 178.1l-.2-4 .1-6.4 .4-4 .6-2 .8-1.3 1.2-.9 1.2-.2 1.6 .1 1.2 .4 .9 1.1 .8 2 .5 3.2 .2 3.2-.1 8.8M164.5 122.5l1.3-.2 .8 .3 .8 .5 1 1.4 .8 2.4-.2 2-.6 1.6-1 1-1.6 .6-1.2-.1-1.3-.7-1-1.2-.5-1.6 0-2 .5-1.6 1.1-1.6zM162.1 178.1l-.1-4 0-5.6 .4-4.4 .6-1.8 .8-1.2 .8-.5 1.2-.2 1.6 0 1.2 .6 .8 1.1 .5 1.2 .5 2.8 .2 3.2-.1 8.8M164.5 123.3l1.3-.2 1.2 .5 1 1.3 .6 1.6 0 1.6-.4 1.6-1.2 1.3-1.2 .4-1.2-.1-.8-.4-1-1.2-.4-1.2-.1-1.6 .4-1.6 .8-1.2zM162.6 178.1l-.2-5.6 .2-5.2 .2-2.4 .5-1.6 .5-.9 .8-.6 1.2-.2 1.6 .1 .8 .3 .8 1 .5 1.5 .7 4.8-.2 8.8M164.6 124.1l.8-.2 1.2 .3 .9 1.1 .5 1.2 .1 1.6-.4 1.2-.7 .8-1.2 .6-.8 0-1.1-.6-.6-.8-.4-1.2 0-1.2 .3-1.2 .6-1zM163.3 178.1l-.3-5.2 .3-6.8 .5-1.6 .4-.8 .4-.3 .8-.3 1.6 .2 .8 .3 .7 .9 .5 1.3 .6 3.9-.1 8.4M165.3 124.9l.5 0 .8 .5 .5 .7 .3 1.2-.1 .8-.3 .8-.8 .7-.8 .2-.8-.3-.6-.6-.3-.8-.1-.8 .5-1.6 .5-.5zM164.3 178.1l-.4-3.6 .1-4.4 .6-3 .4-.6 .4-.2 2 .4 .6 .6 .5 1.2 .3 2.4-.2 7.2M165 126.9l.4-.2 .5 .2 .1 .4-.2 .7-.4 .2-.4-.4z" fill="none" stroke="#222" stroke-width=".36"/>
</g>
<rect x="105.4" y="103.7" width="75.2" height="74.5" fill="none" stroke="#999" stroke-width=".55"/>
<path d="M105.4 103.7V178.2" stroke="#666" stroke-width=".55" fill="none"/>
<path d="M159.8 103.7V178.2M105.4 154.1H180.6" stroke="#555" stroke-width=".55" fill="none"/>
<path d="M105.4 122h-1.2M105.4 141h-1.2M105.4 160h-1.2M123.9 178.2v1.2M142.4 178.2v1.2M160.9 178.2v1.2" stroke="#777" stroke-width=".5"/>
<text x="109" y="111.6" font-size="6.3" font-weight="bold" text-anchor="start" fill="#111" stroke="#111" stroke-width=".2">1.93%</text>
<text x="108" y="176.9" font-size="6.3" font-weight="bold" text-anchor="start" fill="#111" stroke="#111" stroke-width=".2">2.53%</text>
<g clip-path="url(#c1)">
<path d="M243.7 141.7l.5 0 .8 .9 1.1 2.3-.7 1.5-1.2 .5-1.2-.8-1-2 .4-1.2zM214.6 151l-.5 .7 .1 .8 .8 1 .8 .2 .3-.4-.1-.4-1-1.8zM243.7 152.9l.1 .6-.4 .2-.4-.2zM209.6 178.1l-1.8-2.1-1.2-3-1.3-1.3-.3-1.2 .8-2.4 1.7-1.2 1.6-6.8 1.5-2.8 0-.8-1.3-1.6 1.3-2 .8-6-.5-1.6-.1-1.6 .8-2.8-1.1-2.4-.1-3.2-1-.2-.6-1-.1-.8 .7-1.2-.1-.4-1.3-1.2-1.5-4.4 .5-.5 1.6 .3 .3-.2 .1-.5-.4-1.5 0-3.2 .5-.8 1.9-1.3 3.6-1.8 2-.2 2.4 .3 2-.4 3.6 .7 4.8 1.5 3.2-.7 2.4 .6 2 1 1.6-.1 2.4-1.1 2.4 .1 2.4 1.3 2 .1 1.3 .8-.2 1.2-1.5 2.1-.7 1.9-1.3 1.2-.8 4.4-1.2 1.9-2 1-2.8 .2-2.4 .7-2-.6-1.6 .9-2.4 .9-1.2 0-1.6-.7-4.4 1.4-7.2 .1-1.4 1.8-.5 1.6-.8 .8 .5 1.6 .1 1.2-.7 2.1-.6 .7 1.4 1.1 1.2 2.1 .4 .1 2-.8 2.2-1.7 2.6-.5 .7-.7 1-2 1.1-.8 1.6-.5 1.8 .1-.6 3.1-2.8 .2-3.6 1.5-1.6 1.6-1.5 .8-1.4 3.2 .9 .5 2-.3 .6-.2 1.4-1.4 2-.1 .9 .3 1.5 1.3 3.6 .5 3.2 1.8 5.2 .2 1 .6 1.5 2 .7 .2 1.2-.8 1.9 1.4 .8 .8 .7 2-.1 4.8 .2 2.4 .7 1.2-1 4 .2 3.2" fill="#000" fill-opacity="0.3" stroke="none"/>
<path d="M215.8 118.5l1.2 0 2 1 2-.2 2 1 2.8 .1 1.6-.7 2.4 .8 2-.7 1.6 .1 .8 .3 .8 1.2 2 .7 .8 1 1.6-1.2 2-.3 .6 .5 .6 2.4-.4 .7-.8 .5-2.6 0-.2 .4 .4 1.2 0 2.1-.8 .3-1.6-.7-.8 .1-3.6 4.8-1.2 .8-1.2 .1-2-1.2-5.6 .5-4.4-.6-.8 .7-.4 0-1.6-1.9-1.6 0-1.2-1-.6-1.2 .1-1.2-.6-2.4 .4-2.8 2-2.4 1.2-2zM234.2 126.9l-1.3 1.6-1.5 1.2-2.4 1-.4 .6 .1 .8 1.1 .1 3.8-1.3 .3-1.6 1.1-.9 .5-1.1-.1-.7zM212.7 178.1l-1-1.6 .8-2.8 1-1.6-.9-.7-1.8-.5-.3-1.6 .1-.8 1-1.6 .2-1.6 1.7-1.6-.5-1.2 .1-1.2 1.5-1 1.2-3 .8-.9 2-.5 3.2-.1 2.4 1.6 1.6-.2 3.2 .4 1.9 1.3 .7 1.2 .6 .4 2.8 .9 2-1 1.2 0 3.3 2.1 .4 1.6-.1 .8-1.2 1.1-1.2 .5-.2 3.2 .2 .6 .4-.3 1.2-2.9 .8-.2 2.3 4 0 2-.7 .7-2 .1-.3 .4-.1 1.2-.4 .4-1.2 0-1.6 .7-2 0-.8 .7-.4 1" fill="#000" fill-opacity="0.35" stroke="none"/>
<path d="M251.6 119.7l1.4-.1 1.2 .3 1.2 .7 1.2 1.4 .9 1.7 .6 1.6 .5 2 .3 2.8-.2 3.6-.7 2.4-.7 1.6-1.1 1.7-1.2 1.2-1.2 .7-1.2 .3-.8-.1-1.2-.7-1.2-1.3-.9-1.4-.8-1.6-.8-2-.6-3.6 0-2 .3-2 1.3-3.6 1-1.6 .7-.8 1-.8zM246.7 178.1l.2-13.2 .3-3.2 .4-2.4 .9-2.8 1.3-2.4 1.6-1.5 .8-.3 .8-.1 1.2 .4 1.6 1.5 1.4 2.4 .8 2.4 .4 2.8 .4 4.8 .1 11.6" fill="#000" stroke="none"/>
<path d="M239.4 136l-.5 .5-1.1 2.5-2 1.2-2.4 .5-.9 1.8-2.2 1.6-.5 .8 .4 .9 1.9 1.1 2.3 2 2.2 .6 1.2 .8 1.2 .3 .8-.3 .8-1.9 .1-2.3-.9-4 .3-1.2 .7-1.6 0-1.6 .3-1.2-.3-.4-.6-.2zM231.4 136.9l-1.6 .8-2-.2-1.6 .7-1.6-.2-.4 .1-1.2 1.1-.8-.1-.8-.3-.4 .1-.3 .4 0 .8 .4 .4 1.5 .6 1.6 1.4 1.2 0 3.2-1.2 .8-.8 1.2-.7 .8-.3 2.8 0 1.2-.9 .4-.9 0-.4-.4-.3-1.6-.3zM218.6 139l-.3 .3 .1 .4 .2 .1 .5-.5zM215.8 142.1l-.8 .3-.2 .5 .1 2.4 .1 .4 1.2 1.4 .8 .2 1.2-.3 2.2-1.3 .2-.4 0-.4-.8-.8-.8-.5-1.6-.5zM224.2 148.9l-.4 .8 .2 .4 3 1.4 1.6 .3 2 1.4 .8-.1 2-.8 .8 0 .8 .4 .3-.2-.1-.4-1.4-1.1-1.2-.4-3.2-1.5-.8-.2-1.2 .2-2.4-.6zM236.6 153.2l-.5 .5 0 .4 .5 .4 2-.1 .5-.3-.5-.4-.8-.1-.8-.5zM205 178.1l.1-.4 1.1-.5 .1-.7-.1-.4-1.2-1.2-.4-.8-.6-.4-1.3-.4-.3-.4-.3-1.6 0-1.6 .6-1.6-.8-1.6 0-.4 .7-1.2 .3-1.2 .6-.8 .3-.4 1.3-.8 .4-2.4 2-2-.1-.6-1.6-.4-.3-.6 .5-.8 1.4-.8 .5-1.2 1-1.2 .6-2 0-3.6 .4-2-.5-1.6 .1-2-.9-2.1-1-1.1-2.2-1.5-.2-.5 .2-1.2 .4-.2 .8 .5 .4-.2 0-.7-.4-.6-1.2-.2-.5-.6-.4-1.2 .2-1.2-.1-.8-1.7-2 .3-.4 1-.4 .4-.6 .1-.6-.4-1.2 .9-1.6 .2-.9 1.8-1.1 1-2.4 1.6-1.5 .4-1.1 2.8-1.1 1.6 .1 1.4-.8 1 .2 1 1 1 0 .4-.1 .8-1.1 2.4 .7 1.2 1.3 2 0 1.6 1.1 4.8 .2 2.4 .9 2-.9 .8 .2 .8 .7 2.8-.8 1.6 .4 4.8 .5 .8-.3 2-1 2-.4 1.2 .1 1.6 .4 1.2 .7 1.6 1.6 1.1 1.4 .8 1.6 .7 2 .5 2.8 .4 3.6-.1 2.8-.3 2.4-.6 2.4-1.3 4-.4 3.2 .4 8.1 1 5.9 1.3 9.2 .2 5.6-.2 4.4M206.2 129.7l0 .4 .4 .1 .2-.5-.2-.2zM239.4 135.3l-.8 .4-.7 .8-.2 .4-.2 1.6-.5 .4-.4 .1-.3-.1 0-.4 .5-1.6-.1-.4-.5-.3-4.4 .1-.9 .2-1.5 .7-1.6-.3-1.2 .7-.4 .1-1.6-.3-1.6 .6-1.6-.2-1.2 .7-1.6-.3-.6 .3-.2 .4-.2 .8 .2 .9 .8 .2 .8-.3 .4 0 .8 .7 1.6 .4 1.4 1.3 .6 .2 5.2-1.5 1-1.1 1-.6 .8 .2 .4 .4-.6 1.6-2.3 2-.5 .8 .1 .4 .5 .7 2 1.5 1.4 1.4 .4 .8-1 .1-3.2-1.1-4.4-.9-.8 .3-.8 .8-.6 1.2 .1 .8 .5 .2 1.6 .1 2 1.1 1.6 .2 1.1 .8 .9 .4 .8 .1 2-.3 .4 .2 0 .8 .4 .3 .8-.1 1.2 .4 3.2 .3 1.4-.9 .2-.4 0-1.6-.6-1.2 .1-.4 1.1-4.8-.6-1.2-.7-2.4 0-.8 .3-1 1.1-1-.2-1.2 0-.8 .3-.4 1-.8-.2-.6-.8-.5zM215.4 141.7l-.6 .4-.3 .4-.3 2.8 .3 .8 .7 .8 .1 1.6 .3 .4 .6 0 1.2-1.1 3.4-1.7 1.1-.8 .2-.4-.2-.4-2.9-2-1.6-.2-1.2-.6zM234.5 149.7l1.7 .3 .6 .5-.6 .5-1.2-.1-.8-.8zM237.5 151.7l.3-.4 .4 0 .4 .4 0 .4-.3 .4-.2 0-.5-.4zM245 157.1l-.6 .6 0 .4 .6 .3 .3-.3 .1-.4 0-.4zM207.8 178.1l-.6-.8-.6-1.7-1-1.5-.6-.6-1.6-.5-.4-.5 .1-2.4 .7-.8 .2-.8-.1-.8-.9-.8-.3-.8 .7-1.3 .4-.4 1.2-.3 1.6-2-.5-.8-.2-1.2 .3-.6 1.9-1.8 .3-.8-.4-1.6 0-.4 .6-1.6 1.2-.9 .2-6.3 .3-1.6-.1-1.1-.4-1.3 .4-1.6-.7-1.2-.5-1.2-1.8-2 .6-1.6-.1-2-.3-.6-.4-.3-1.2-.4-.2-.3 .1-1.6-1.1-2 .7-2.4 .1-1.4 .4-.5 1.5-.9 .2-1.2 .7-1.4 .4-.4 .8-.2 .4-.4 .4-1 .4-.2 1.2 0 .4-.3 0-.5-.3-.8 .2-.4 1.7-.5 1.6 .6 .8-.3 1.6 .3 2-.1 1.2-.3 1.2 .1 1.2 1 2-.1 1.2 1 1.6 .1 1.2 .3 2.8-.4 2.4 .9 2-.4 .7 1 .5 .1 .6-.1 1.4-.9 1.2-.4 3.6 .5 1.6 .6 2-.3 1.6-.9 1.2-.3 2.4-.2 1.2 .4 1.2 .6 2.2 2.1 1.1 2 .9 2.4 .5 2.8 .3 3.2 0 2.8-.4 2.4-.7 2.8-1.5 4-.4 2.8 .5 7.2 1.3 6.8 .9 8 .3 6.4-.1 4.8M241.8 134.5l-2.4 .1-3.6 1-.8-.1-.8-.5-.8 .4-4 1.2-.8-.1-1.2-.6-.4 .1-.4 .8-.4 .2-1.2-.1-1.6 .3-1.6-.1-1.6 .7-1.6-.2-.6 .1-.8 .8-.6 2.1-2 1-.4 .5-.2 1.6-.4 2 1 1.6 0 1.2 .3 .8 .5 .3 1.2-.2 1.6-1.5 4-1.8 1.6-2.1 4-1.6 1.2-.1 .6 .2 .3 .4-.1 .4-1.2 1.2 0 .8 .4 .8 .8 .8 .8 1.2-.4 .2-1.5-.2-1.3-.7-1.6-.4-1.2 .2-2 1.7-.4 .1-.8-.1-.4 .4-.6 1.2-.2 1.3-.4 .1-.8-.6-.4 0-.4 .4-.4 1.6 0 .4 .4 .3 2-.5 .6-1.4 .6-.3 .8-.1 1.2 .2 1.2-.1 .7 .3 .6 .8 .7 .5 1.6-.1 3.2 1.3 1.2-.1 .8 1.3 1.6-.2 2 .1 2.2 .4 .5 .4 .5 1.7 .4 .5 .4 .1 .4-.2 .2-.5-.7-2 .2-.4 .7-.2 .7 .6 1 2 .7 .8 .8 .2 .7-.2 .4-.8 1.4-5.2-.1-.7-1.1-1.7-.5-.2-.4 .6-.2 2-.6 1.4-.8 .3-1.2-.1-.4-.2-.4-.6 .1-.8 .3-.3 1.3-.5 .4-.4 .1-.4-1-1.4-.4-.1-.8 .5-.4-.6 .3-2 .7-1.2 0-.4-.9-1.6 .2-1.6-.7-.6-.2-.6 .2-.5 .4-.3 .4 0 .8 .5 1-.9 .2-.4-.1-.4-1.4-.8-.2-.8 .5-.5 1.6-.7-.1-.4-1.5-1.7-.4-.3zM215 139l-.3 .3 .2 .4 .5 0 .2-.4-.2-.3zM231.4 140.5l.4 .2 0 .6-.4 .5-.4 0-.3-.5 .1-.4zM245.8 141.1l-.4 .4-.1 .6 .5 1.2 .4 .5 .4 .2 .4-.1 .2-.6-.2-1.6-.4-.5zM221.7 142.5l.5 .1 .2 .3-.1 .4-.5 0-.3-.4zM246.6 146.9l-.4 0-.2 .4 .2 .6 .5-.2zM214.6 151.7l-.2 .8 .2 .5 .4 .3 .4-.2 0-.6-.4-.6zM209.1 178.1l-1.3-1.3-1-2.3-.6-1-.8-.8-1.1-.6 0-1.6 .6-1.2 .1-1.2 .4-.5 1.5-.7 .1-.4-.9-.8-.1-.8 .2-.4 .4-.2 .8 .4 .4-.1 .4-.5 0-2 .3-1.2-.3-.2-1.2-.2-.2-.4 1-1 .8-.4 1.2-.3 .4-.4 0-.8-1.2-1.4-.3-.9 .3-.9 1.2-.7 .3-.8-.1-2 .3-6.8-.4-1.6 .6-1.6-.3-.7-.7-.9-.5-1.5-1.3-1.3 .3-1.2-.1-1.6 .3-1.2-.9-1.2 0-1.2-.3-.9-1.7-2.3 0-.8 .5-.9 1.3-.3 .7-2 0-2 .4-.7 1.6-.9 .8-.9 1.4-.3 .6-.4 .6-1.2 1.8 .1 1.6-.2 2 .3 2-.6 .8 .2 1.2 .8 1.6-.1 1.2 .7 2.4 .5 1.2 .5 .8-.2 1.2-.5 .8-.1 1.6 .6 1.6 .2 1.2 .8 .8 .2 1.2-.2 1.2-.9 1.2-.4 3.2 .3 1.6 1.1 2.7-.7 2.5-1 2.4-.2 1.2 .4 1.2 .7 1.2 1 .8 1.1 1.1 2 .6 2 .6 2.8 .3 3.2-.1 2.4-.6 3.2-.8 2.4-1.5 3.6-.5 2.4 .5 6.4 1.8 8 .7 7.2 .3 7.6-.1 4.4M209.1 132.9l.3-.2 .8 .2 .1 .4-.5 1-.4 .2-.5-.4-.1-.8zM243.8 142.1l.4 .1 .8 .9 1 1.8-.2 .8-.8 .7-.8-.1-.8-.5-1-1.3 0-.8zM211.6 142.5l.2-.1 1.2 .1 .4 .3 .1 .5-.4 1.6-.4 .8-.9 .4-.4-.2-.3-1.4 .1-1.2zM225.5 143.7l.7-.3 .8 .1 .5 1.4 0 .8-.5 .3-1.2-.2-2 .7-.4-.4 .3-.8 .7-.8zM220.1 147.7l.7 0-.6 1.1-.4 .4-1.6 .1 .4-.8zM216.5 150.1l.9-.2 .3 .2-.5 2-.2 .5-.4 .2-.6-.7-.4-1.2 .1-.4zM242.9 153.3l.9-.2 .1 .2-.5 .3-.4-.1zM210.4 178.1l-1-1.6-.8-.3-.6-.5-.8-2.4-.1-1.2-1.3-.5-.5-.7 0-.4 .4-1.2 .1-.8 .4-.4 1.5-.4 .6-.8-.1-1.2 .6-1.6 .1-2 1.7-3.3 .9-2.3-.1-.7-.4-.5-1.2 0-.4-.4 0-.4 .4-.3 .8-.2 .4-.5 .1-2.6 .3-1.2-.1-1.2 .1-.6 2 .5 .5 .5 .5 1.2-1 .9 0 .7 .8 2 1.2 .7 2.4 .4 1.6-.4 1.2 0 .4-.3 .6-1.2 .5-.4 2.1 .2 .4 .2 .9 1.2 1.5 .5 1.2 .7 .8-.7 .8-.1 .4 .2 .6 .6 .6 1.1 .4 .2 1.2 .1 1.6-.3 .4 .1 1.2 1 .4-.2 .4-.9 1 .1 .7 .4 1.3 2 1.4 1.3 .5-.1 .4-1.2 .3-.4 .4 .1 .8 .9 .4 .2 1.6 .4 .4-.3 2.5-8.5 .3-5.6-.2-2.8-.8-2-1.2-2-.7-2.4-1.4-2-.1-2-.4-.3-.8 .5-.8 .2-1 .8-.6 .3-1.6-.2-1.6 .2-1.2 .7-.8 .2-.4-.2-.8-1.1-.4-.1-.5 .2-1 1.2-2.1 .9-1.6 .2-1.2-1-.8-.1-1.2 .8-1.2 .3-.6 .5-.6 .2-2.4-.3-.8-.3-.4 .5-.4 .3-.4-.1-1.6-.5-2-.4-.4-.2-.7-1.2-.5-.1-.5 .5 .1 1.2 1 .4 .1 .4-.1 .8-1.2 2-1 .5-.4-.1-.5-.8-.3-1 .8-.1 .8-.9 0-.4-.9-.4-.5-.8 .4-1.2-.1-.8-.8-1.2-.5-1.3-.4-.3-1.2 0-.3-.4-.2-1.6-.7-1.9-.8-.9 .4-.2 .9 .6 1.1 .4 .4 0 .2-.4 .2-1.5-.8-1.7 .1-1.2-.3-1.6 .2-.4 1.5-.8 .9-.8 2-.8 1.2-.8 2-.2 1.6 .6 .8 0 2-.7 1.6 .6 1.6 0 1.2 .6 2.4 .5 1.6 .7 .8-.1 2-.9 1.2 .5 1.6 .2 1.6 1.1 2.4-.1 1.2-1 1.2-.3 2.4 .2 .6 .3 1 1 .4 0 1.6-.6 1.2-.2 2.4-.9 2.4-.2 1.2 .4 1.2 .7 1 1 .8 1.2 1.2 2.4 .5 2 .5 4 0 2.8-.2 2-.5 2-1 2.4-1.9 3.6-.3 1.2-.1 1.2 .7 6 1.9 6 .5 2.8 .7 8 .1 10.4M241 127.2l-.7 .5-.1 .4 .4 .4 .8 .3 .4-.3 .2-.4-.2-.4-.4-.4zM243.4 143.7l.4-.4 .8 .3 .4 .5 0 .9-.4 .1-.8-.3-.5-.7zM211.6 144.1l.2-.3 .4-.1 .4 .3 0 .5-.4 .6-.5-.2zM239.8 167.3l0 .5zM245.4 173.9l-.4 1 .4 1.5 .4 .1 .1-2.4-.1-.4zM211.3 178.1l-1.3-2-.6-.5-.8-.3-.3-.8 .3-.9 2-.2 .4-.1 .1-.4-.4-.4-1.5-.8-.2-.4 .2-1.6-.3-1.2 .5-1.2-.3-1.6 .4-1.6 .2-2 .5-.5 1.2 0 .4-.2 0-.5-.6-1.2 0-.8 .3-.8 .7-.7 .8-.3 .3 .2-.2 1.2 .1 .4 .6 .6 .4-.2-.4-2-.4-.3-.5-1.3-1-1.6-.3-2 .2-.6 .4-.1 .4 .4 .7 1.5 .8 1.2 1.7 1.2 3.6-.7 1.2 .2 .4-.1 1.4-1 .2-.6 .4-.1 .4 .3-.5 .8 .2 .4 .7 1.2 .4 .2 2-1 .4 .1 1.2 .9 .4 .1 .4-.1 .8-.8 .4-.1 .4 .5 .4 1.3 .4 .3 2 .2 1.2-.6 .8 .3 .6 .7 .2 .8-.2 .4-.9 .4 .3 .5 .4 0 .8-.9 .4-.1 2.8 .4 .4 .1 1.2 1.1 1.4 .5 .6 .9 1.2 .1 .6 .6 .3 .8-.2 1.2 .2 1.2-.3 .4-1.5 .8-.2 .4 .3 .8 1.2 .7 .4 1.3 .4 .6 .4-.2 .2-.8-.1-2 .6-6.8 1.4-5.2 2.3-5.2 .6-6-.1-1.2-.3-.8-2.9-4.8-1.7-3.6-.4-2.8 0-2-.2-1.2 .4-2-.2-.7-.4-.5-1.2 .7-.3 .5 .3 .8 .7 .8 .2 .4-1.5 2.8-.6 .1-.8-.6-.8-.2-1.6 .2-.4 .5 .1 .4 .3 .3 1.6 .1 .4 .4 0 .4-.4 .4-.5 0-1.1-.7-2 .5-1.2 .9-.4 0-.8-1-.4-.2-1.2 .5-1.2 1.4-1.6 .7-1.2 0-1.6-1.1-.8 0-1.2 .5-1.6-.4-.7 .5-.2 .8-.3 .3-.4 .1-1.2-.4-.8-.8-.8-.3-.8 .2-.8 .7-1.2 .1-1.2-.3-.8-1.2-.8-.6-1.6 .6-1.1-2.4-1.3-1.4-1.2-.2-.2-.4 .2-.9 .8-.4 .4-.9 .3-2.6-.3-1.6 .4-.5 1-.3 .2-.4-.4-.3-1.2 .1-.6-.6-.1-.8 2.7-1.8 2.8-1 1.2-.3 2.4 .8 1.6-.2 1.2 .2 2.4-.2 3.6 .8 2 .9 .4 0 2-.9 .4-.1 1.2 .4 1.2-.1 .5 .3 .7 1.2 .4 .1 1.6-.3 1.2 .3 1.6 .1 1.6-.5 1.2-.9 .4 .1 .5 .7 0 .8-.7 1.2 .2 .1 1.4-.1 2.2-1.7 2.8-1.3 1.2-.3 1.6-.1 1.2 .3 .8 .4 .9 .7 1 1.2 1.1 2 .9 2.8 .5 3.6-.1 3.6-.5 2.4-.8 2-1.1 2-2.3 3.2-.4 .8-.1 .8 1.1 6 2.3 5.2 1 3.6 .7 7.6 .1 11.2M237.3 178.1l-.7-.3-.5 .3M244.1 178.1l-.3-.4-.4-.2-.4 .1-.4 .5M215.2 118.1l1.4-.2 2.4 1 1.6-.3 1.2 .1 1.2-.1 .8 .3 1.6-.1 2 .4 2.4 1 2-1 1.2 .2 1.5-.1 .5 .4 .4 1.2 .8 .2 .8-.1 .8-.3 2.4 .5 2-.4 1.2-.5 .1 .6-.7 .8-.2 .8 .3 .8 .5 .3 1.1-.7 .9-.2 2.4-1.9 2.8-1.4 2-.4 1.2 .2 .8 .3 1.3 1 1.2 1.6 .9 2 .8 2.8 .4 3.2-.1 2.4-.4 2.4-.8 2.4-1.7 2.8-1.2 1.3-1.6 1.2-.8 .3-.8-.2-1.6-1.4-2.3-3.2-1.6-3.6-.4-1.2-.2-2 .3-4.4-.1-1.6 .4-1.6-.1-.1-1.6 .4-.5 .9-1.2 .8-.3 1.4-1.6-.3-1.1 .5-.2 .4 .1 .8 1.4 1.2-.5 .4-1.3 .2-1.2 .6-.2 .4 .1 .8-1.9 1.5-.4-.1-.5-1 .1-.4 2-1.2-.4-.8-.4-.1-1.4 .9-.3 .4-.3 .8-1.5 1.2-.9 1.1-1.6 .8-1.2-.1-1.2-1-.8-.1-1.6 .4-1.2-.4-.8 .1-.7 .4-.5 .9-.4 .1-.5-.2-.8-.8-1.1-.3-1.2 0-.4 .7-.4 .3-.8 .1-.8-.2-1.6-2-.8 0-.8 .3-.3-.1-.7-1.6-1.6-2 .5-.8 0-.4-.3-1.2 .1-3.6 1.1-.9 1.2-1.5-.4-.2-2 .4-.4-.1-.4-.5 .4-.6 2-1.3 1.6-.3zM242.4 128.9l.6-.2 .3 .2 .1 .4-.4 1.1-.4 .1-.5-.4-.2-.4zM232.6 129.2l-.7 .9 0 .4 .3 .3 .4-.1 .5-.6 0-.8zM229.4 131.2l-.2 .1 .2 .2zM212.1 152.5l.1-.2 .2 .2-.2 .2zM212.6 154.1l0-.4 .4 .2 .1 .6-.2 0zM214 155.3l.6 .2 .2 .6-.2 .2-.5-.2-.3-.4zM234.1 157.7l.6 0 .4 .4 0 .4-.5 .1-.4-.2-.3-.3zM239.4 166.7l-.2 .6 .2 1.2 .4 .5 .4-.6 .2-1.5-.6-.3zM212 178.1l-.8-.8-1-1.9-.4-.3-.7-.2-.2-.4 .5-.3 .4 .1 .5 .2 .7 .8 .4 0 .5-.4 .1-1.6 .8-1.2-.2-.1-.8 .3-.8-.1-1.2-.8-.3-.5 .3-1.2 0-1.2 .6-1.2-.8-1.6 .5-2 0-1.2 .5-.4 1.2 .2 .6-.6 0-.4-.8-1.6-.1-.8 .2-.4 .6-.4 1.1 1.7 .4 .3 .4 .1 .5-.5 .1-2 .3-.8 .4-.4 1.5-.8 2.4-.4 1.2 .3 1.6-.5 .7 .6 .9 1.2 .4 .2 2-1.3 1.2 .8 .8 .3 .8-.2 .4-.3 .4 .1 .1 .8 .3 .4 .8 .4 1.2 .2 .3 .2 0 1.6 1.3-.1 1.2 1.1 2-1 2.4 .1 .4 .1 .8 .7 1.2 .5 .8 1.3 1.2 .2 .4 .3 .2 .4-.2 .8 .4 1.2-.1 .4-.4 .4-1.1 .5-.3 .3 0 .4 .3 .7 1.1 1.3 .6 1.2 .4 2.4-.9 1.4-1.2 0-.2 .2-.1 .4 .3 .7 .4 0 .4-.4 .4-.1 .3 .6-.1 .4-.2 .3-.8-.2-.4 .2-.7 1.3M240.4 178.1l-.2-.6-.4-.4-.4 0-.8 .7-.4 0-1.2-.6-.8 0-.4 .1-.6 .8M246.3 178.1l0-10 .6-7.2 1.5-5.2 1-2 1.9-2.8 .9-2.9 .4-.4 .4 .4 .9 2.5 2.9 4.4 1.3 3.6 .4 2 .4 5.2 .2 12.4M215.5 118.5l1.1-.2 2.4 1.3 2-.5 .7 .2 .9 .9 2.4-.7 .8 .3 1.6-.3 2.4 1.2 2-1.1 2.4 .1 .4 .3 .2 1.3 2.1 .4 .3 .4 .2 1 .4 .3 .4-.1 .5-.4-.1-1.2 3.2-.3 .3 .3 .2 1.2 .7 1.6-.2 .4-1 1.1-1.6 .5-.5 0 .2-.8-.1-.5-1.4 .5-.1 .4 .8 .8 0 1.2 .6 1.2-.3 .4-.8 .4-.4 0-1.2-1.2-1 0-.6 1.2-1.1 1.2-.2 .8-1.1 .9-.8 1.1-1.2 .7-1.2 .1-2-1.3-2 .4-1.2-.3-2 .4-3.2-.3-.8-.3-.8-.6-.4 0-.1 .4 .4 1.2-.3 .4-.8 0-.5-.4-1.1-1.9-.4-.2-1.6 0-1.5-1.9-.3-.4 .1-.4 .5-.7 0-.5-.7-.8-.2-.8 .4-3.2 2.4-2.4 1.2-2.4zM212.4 119.3l.6-.1 .3 .1 0 .4-.4 .4-1.5 .8-.8 .1-.2-.1 .1-.4 .9-.4zM250.8 119.7l1.4-.3 1.6 .2 1.2 .6 1.2 1.1 1 1.6 .7 1.6 .6 2 .4 2.8-.1 4-.5 2-.7 2-1 1.7-1.2 1.4-1.6 1.1-1.2 .3-1.2-.3-.8-.6-1.2-1.3-1-1.5-1.7-3.6-.7-2.8 .5-6.4 .9-1.9 .2-1.3 .2-.4 .9-.8zM235.4 126.4l-1.6 .6-.2 .3-.1 .8-.2 .4-1.1 .5-1.2 1.1-1.2-.1-.8 .5-.8 1.2 .2 .4 .6 .2 .8 0 2.4-.8 1-.6 .7-2 1.1-.6 .8-1.4 .2-.4zM235.9 132.5l.3-.2 .5 .2-.5 .5-.2-.1zM213.1 178.1l-1.3-.8-.4-.8 .1-.4 .8-.8 .3-2 1.3-1.2-.3-.4-1.4-.7-.7 .7-.5 .1-.8-.5-.2-.4 .4-1.2 0-1.2 1.2-1.2 .1-.4 0-1.2 .2-.8 .4-.4 1.1-.3 .2-.5-.8-1.2 .2-1.2-.1-.4-.8-.8-.2-.8 .3-.3 1.2 1.5 .4 .2 .8-.2 .4-.4 .8-2.8 .8-1.1 2.4-.5 1.2 .4 .4 0 1.2-.5 .8 .3 .8 1.2 .8 .6 .4-.1 1.2-1 .4 0 .8 .6 2 .3 1.6 1.1 1.2 .3-.3 1.2 .3 .6 .4 .1 1.2-.3 .4 0 .8 1.1 .8-.1 1.2-.9 1.2-.2 1.6 .5 .5 .8 1.5 0 .4 .8 .5 2.4 .3 .3 1.2 .2 .3 .3-.1 .4-1 .4-.4-.2-.8-.9-.4-.1-1.2 .8-1.2 .4 0 3.8 .4 .6 .8-1.4 .8-2.6 .4-.2 .4 0 .4 .3 .8 2 1.2 1.6 .2 .7 0 2-.2 .3-.8 .2-1.6-.5-.4 0-.4 .4 0 .4 .6 .8 .1 1.2 .5 .8-.2 1.2M231 178.1l-.4-.3-.4 .3M240.9 178.1l0-.8 .3-.8-.3-.4-1.1-.2-.8 .1-1.2 .7-1.6-.3-.8 .1-.4 .4-.5 1.2M246.6 178.1l-.1-7.2 .2-6 .5-4.4 1.2-4 1-2 .8-1.1 1.2-1 .8-.4 .8-.1 1.6 .8 1.3 1.4 1.4 2.4 .7 2.4 .4 2.8 .4 4.8 .1 11.6M215.7 118.9l.5-.2 .8 .1 1.6 1.3 2.4-.4 1 1.2 .2 .8 .5 0 1.1-.5 .8 0 1.6 .8 .4-.1 .2-.2 0-1.2 .2-.4 .4-.2 .8 .2 1.6 1 .4-.1 1.6-.9 2 .1 .3 .3-.3 2 .2 .4 .6 0 .8-.8 .8-.2 .4 .2 .4 1.8 .4 .3 1.6-.9 .8-.9 1.6-.6 .4 .4 .3 2.3-.3 .4-.4 .1-.7-.5-.5 0-1.6 .5-1.2-.2-.8 .4-.4 0-.8-.5-.4 .2 .1 .8-.4 .4-2.4 .8-.1 .4 .4 .4 0 .4-1.2 1.1-.4 .3-1.6 0-.4 .2-1.4 2 0 .4 .6 .7 1.2 .1 2-.4 .8-.3 .8-.5 .5 0 0 .4-.9 .8-.4 .9-1.2 .8-.8 .1-.4-.1-1.6-1.6-2 .7-1.6-.3-1.6 .3-1.2-.2-2 .1-.8-.2-1.1-.9-.5-.1-.4 .1-.3 .4-.1 .5-.4 0-.3-.9 .6-.8 .1-.8-.4-.3-1.2-.1-.4 .3-.4 .9-.8 .3-.4-.2-1-1.7 .4-.8 0-.8-1-1.6 .2-2.4 .3-.8 1.1-1.3 .9-.7zM250.8 120.1l1.4-.3 1.2 0 1.2 .5 1.2 1 .9 1.2 .9 2 .7 2.4 .4 2.4 0 2.4-.2 2-.6 2-.6 1.6-.8 1.2-1.1 1.3-1.2 .9-1.2 .4-.8 0-1.2-.5-1.7-1.7-1.6-2.8-1-2.4-.4-1.6 .1-3.6 .8-3.6 .8-2 .7-1.2 1.1-1.1zM221.4 122l0 .3 .5-.2-.1-.2zM228.2 123l0 .8 .4-.2 .1-.3-.1-.3zM236.5 126.9l.9-.3 .9 .3 .3 .8 .1 1.2-.1 .5-.4-.1-.8-.7-1.5-.5 0-.4zM234.3 129.3l.7-.1 .1 .5-.5 .6-.4 .1-.1-.7zM215.8 162l-.3 .1-.1 .5 .4 .1 .2-.2 .1-.4zM241.3 167.3l.5 0 .3 .4 .6 1.2 .3 1.2 .9 .8 .2 .4-.1 1.2-.2 .5-.4 .3-2-.4-.7 .4-.5 .6-.4 0-.7-1 1.4-2.4 .3-2.4zM215 174.3l-.2 .6 .2 .5 .4 .1 .1-1-.1-.2zM213.6 178.1l-.2-.4-1.2-.7-.2-.5 .8-1.2-.1-1.2 .3-.7 1.6-1 .3-.3 .1-.4-.4-.4-.8 0-.8-.3-1.8-1.3-.3-.8 .2-.4 1.3-1.2-.1-1.6 .3-.6 2.4-.5 .4-.5-.2-.8-1-.2-.8-.6 .1-.8 .3-.4 1.2-.6 1.4-3.8 .4-.4 2.2-.4 1.2 .6 1.6-.6 .4 .1 .4 .3 1.2 1.4 .4 .2 .8 0 .7 .8 .5 .2 .5-.2 .7-1.1 .8 0 .8 .3 1.1 .8 .7 1.6 1 .7 1.6-.2 .8 .9 .4 .2 .8-.3 1.6-1.1 .8-.1 .8 .3 .4 .4 .4 1.2 .8 .1 .8-.3 .2 .2-.1 2-.2 .4-.7 .8-1.2 .2-.3 .6 .1 2-.5 1.2 .1 2 .5 1.2-.5 .8 0 .4 .3 .8-.1 .4-.4 .3-.6 .1-.2-.1-.4-1.1-.4-.3-.4 .1-.6 1.4-1.1 .8-.5 1.6M231.4 178.1l-.4-.9-.8-.4-.4 .5-.1 .8M246.8 178.1l.1-12.8 .3-3.6 .4-2 .9-2.8 1.3-2.3 1.6-1.3 1.6-.3 1.6 .5 1.2 1.1 1.4 2.3 .7 2.4 .5 3.6 .3 4 0 11.2M216 119.3l.6-.2 .5 .2 .4 .4 .1 .8-.6 .7-.4 .2-1.2 0 .2-1.3zM219.5 120.5l.7-.1 .4 .2 .2 .3 0 .4-.6 1.2-1.3 1.6-.1 .8 .2 .3 .4 .2 2.4-2.3 .8-.3 .8 .1 .4-.1 .4-.7 .4-.1 2.4 .6 .4 .3 .1 1.2-.7 1.6 .6 .2 .4-.3 1.4-1.5 .3-.8-.3-.8-1.4-.2-.3-.2-.2-1.2 .5-.5 .8 .3 1.2 .9 2-.4 .8 .1 .3 .4-.2 .8-1.8 1.2-.5 .8-.1 .4 .3 .6 .8 .5 1.2-1.2 .4 0 .3 .5-.1 .4-1.8 .5-.1 .7 .1 1.2-.1 .4-.6 .4-1.7-.1-1.6-.9-.1 .6 .7 .8 .2 .8-1.3 1.6 .3 1.2-.5 .4-.7 0-1-.5-1.6 .4-1.2-.3-1.6 .3-1.2 0-2.1-1.5-.1-1.6-.2-.2-2.8-.4-1.2-1.3-.7-1.3-.2-2 .5-1.5 2.4-1.7 .4 .2 .2 1.4 .2 .3 .4 0 .4-.3 .4-.8 .4-.3 1.2 0 .3-1.3zM251 120.5l1.2-.3 1.2 .1 1.2 .5 1.2 1.1 1 1.4 .8 2 .8 4-.1 3.6-.3 1.6-.7 2-1 1.6-.9 1.1-1.2 .8-1.2 .4-1.2-.1-.8-.4-1.8-1.8-1.7-3.2-.8-3.2 .1-3.6 .4-2 .8-2 1.1-2 1.1-1.1zM240.9 122.9l.2 0 .1 .4-.2 .1-.3-.1zM224.6 125.7l-.5 .4 .1 .4 .4 .3 1.2 .3 .6-.2 .2-.8-.2-.4zM217.8 127.1l-.4 .6 .4 .4 .5-.4-.1-.5zM236.9 127.3l.9 0 .2 .4-.2 .3-.8-.1-.3-.2zM213 130.5l.4-.3 .2 .3 0 .4-.2 .3-.4-.3zM230.2 133.3l1.2-.2 .4 .2 0 .4-.8 .5-.8 0-.4-.5zM223.8 160.8l.1 .5 .9 1.2 .2 1.4 .4 .1 .4-.2 .6-.9-.9-.8-.5-1-.4-.4-.4-.2zM234.2 163.1l-.1 1 .5 .7 .4 .1 .4-.4-.1-.4zM241.3 168.1l.1-.2 .4 .1 .5 .9-.1 .8-.4 .6-.6-1zM241.4 170.9l.4-.3 1.6 .5 .3 .6-.3 .9-.4 .3-1.6-.5-.8 .2-.4-.1 .2-.8zM213.7 173.7l.1 0 0 .8-.4 .2-.1-.6zM220.6 174.2l-.4 .7 .1 .4 .7 1 .4 .2 .3-.4-.1-.8-.6-1.1zM214.1 178.1l-.3-1-.5-.6 .1-.2 .4-.1 1.5 1.1-.1 .8M217.1 178.1l-.3-.8 .1-1.2-.6-1.2-.2-1.2-.6-.8-.1-1.6-.4-.5-.4-.1-.8 .1-.8-.3-1.3-1.2-.1-.4 .3-.4 1.3-.8 .3-.4-.6-1.2 .2-.4 1.9-.3 .8-.5 .3-.4 .2-1.2 .7-.8 0-.4-.1-.4-1.1-.6-.2-.6 .2-.8 .8-1.2 .4-1.3 1.6-.2 1.2 .3 2-.6 .4 .2 1.6 1.5 2.4 1.3 .8-.3 .8-1 .4 0 .8 .2 .7 .7 .3 1.2 .4 .4 1 .6 1.6 .2 1.2 1.2 2.8-1.8 1.2-.1 .5 .7-.1 1.2 .4 .4 .8 .2 .5 .6 0 .8-.5 .5-.7-.1-.9-.6-.4-.1-.1 .3 .5 .8 .2 2 0 .8-.2 .3-.4 .2-2 .1-1.2 1.1-2 .2-.4 .5 0 .4 .4 .4 .8 .2 .8-.2 .8-.5 1.2-.2 1.2-.5 .4 .5 .2 1.5-.2 .7-.4 .3-.8 .2-.8 .4-.8 1.4-1.6 1 .2 1.6M231.7 178.1l.1-.9 .4-.3 1.1-.4-.7-.8-2-.9-1.7 1.3 .2 2M247 178.1l.1-12.8 .6-4.8 1-3.2 1.1-1.9 .8-.8 .8-.4 1.6-.3 1.6 .4 1.2 1 1 1.6 .8 2.4 .5 2.4 .4 4.4 0 12M216.3 119.7l.3-.1 .4 .2 .2 .3-.2 .4-.4 .2-.4-.1-.2-.5zM227.8 120.9l.4-.1 .4 .2 .3 .7-.7 .2-.4-.2zM251.2 120.9l1-.3 1.2 .1 1.2 .5 1.2 1.2 .8 1.3 .7 1.6 .8 4 0 3.6-.5 2-.7 1.6-1 1.6-.9 .9-.8 .5-1.2 .3-.8 0-1.2-.5-.8-.7-1.1-1.3-1.5-3.2-.7-2.8 .2-3.2 .9-3.2 1.3-2.4 .9-1zM219.4 121.3l.4-.3 .3 .3-.3 .6-.4-.2zM230.5 122.1l.5 0 .3 .4-.7 .5-.4-.1-.2-.4zM217.3 122.9l.5-.2 .4 .1 .4 .5-.6 1.6 0 .8-.8 1.2-.9 2-.5 .3-.8-.1-1.4-1-.6-.8-.4-2.9 .4-.6 .4-.1 1.6 .7 1.2-.1 .4-.2zM225.2 122.9l1.4 0 .4 .3 .2 .9-.6 .8-.4 .1-2 0-.4 .2-.2 1.3 .3 .4 1.8 .8 .5 .4 .4 .8 .9 .8 .1 .4-.2 .4-1.2 .7-.4-.1-.5-1.4-.3-.3-.4 .3-.6 1.6 0 .8-.2 .4-.4 .1-1.2-.3-1.6 .5-.8 0-.8-.2-1.1-.9-.3-.4 .1-.4 .4-.8 .2-1.2 .7-1 .4-.4 .8-.3 .2-.3 0-1.6 1.8-1.8 .4-.2 1.2 .6zM228.9 125.3l.5-.1 1.2 1.7 0 1.2-.4 .3-1.2-.2-.6-.5-.1-1.2 .2-.8zM226 132.5l.2-.2 .2 .2-.2 .2zM225.2 160.1l.2 0zM227.8 166.1l-.4 .5 0 .7 .8 .4 .5 0 .3-.4-.4-.9-.4-.5zM231.8 166.4l-.6 .9 0 .4 .4 .4 1.4 .9 .2-.5-.6-1.6-.4-.6zM221.4 169.5l-.6 .6-.1 .4 .3 .2 .4 0 .4-.4 0-.8zM230.2 171.7l-.2 .8 .2 1.2 .4-.3 .2-1.3-.1-.4zM242.1 171.7l.5-.3 .4 .1 .2 .6-.2 .3-.4 0-.5-.3zM223 173.2l-.3 .1 .3 .1zM217.9 178.1l-.3-.4-.1-1.6-.8-1.2-.1-1.6-.5-.8-.2-1.2-.5-.8-.1-1.2-.3-.2-.6 1-.6 .3-.4 0-.8-.7-.3-.8 1.1-.7 1.5-.1 .2-.4-.1-1.2 .1-.4 1.6-1.2 .1-1.2 .6-.8 .4-1.2-.5-.4-1.1-.4-.3-.4 .3-.9 1.6-1.7 .8-.2 1.2 .2 1.6-.7 .8 .2 1.6 1.7 1.1 .6-1.9 .3-.2 .5 1.6 2.4 .1 1.2 .5 .4 1.3-.4 1.1-1.2 .2-.4-.2-.4-1.4-.4-.5-1.2 2.3-.1 .4-.3 0-.8 .4-.1 .4 .1 .3 .4-.2 .8 .2 .4 1.7 .8 1.6 .3 .4 .4 .5 1.7 1.1 1.3 .8-.2 .6-.3 .2-.4-1-1.2 0-.4 .4-.4 1.8-1.3 .6 .1 .4 .4-.2 .8-.4 .7-1.2 1.3-.3 0 1.6 1.6 .1 2-.2 .2-.4-.1-.6-.9-.6-.4-.4 0-.4 .4-.1 1.2-.7 1.1-.8 .3-1.2-.1-.7 .7-.4 .8 .2 .4 .7 .4 1 .2 2-.8 1.6 0 .4 .4 0 .8-1.6 1-1.1 1.6-.9 .4-.4 0-1.6-.8-1-.8-.2-.4-.4 0-2 2.4 .4 1.2 0 .8M222.2 178.1l0-.4 .4-.3 1.2-.3 .3-.2-1.9-1.5-.6-1.3 0-.8-.2-.4-.4-.1-.8 1.1-.2 1 .4 1.6 .2 1.6M232.1 178.1l.1-.5 .4-.3 .4 .2 .1 .6M247.2 178.1l.1-12.8 .2-2.8 .4-2 .9-2.8 1-1.6 1.2-1.1 .8-.2 1.2-.2 1.6 .4 1.2 .9 1.1 1.8 .6 2 .5 3.2 .3 3.6 .1 11.6M251.4 121.3l.8-.2 1.2 .1 1.2 .6 1.1 1.1 .8 1.2 .6 1.6 .8 4 0 2-.2 1.6-1 2.8-.7 1.2-1 1.1-1.2 .7-.8 .1-1.2-.1-.8-.5-1.6-1.6-1.4-2.5-.5-1.6-.2-1.6-.1-1.6 .3-2 .9-2.8 1.1-2 1.1-1.1zM225.5 123.7l.7-.3 .4 .1 .1 .6-.5 .4-.8-.1-.3-.3zM222.6 124.5l.4 .3 .2 .5 .1 2 1.4 .8-.8 1.2-.4 1.2-.7 .8-.6 .3-1.2 .1-1-2 0-.8 1-1.7 .1-1.5 .2-.4zM215.4 125.3l.4-.2 .8-.1 .3 .3 .1 .4-.8 2.3-.4 .4-.8 .2-1.2-.9-.4-.8-.1-.4 .5-.7 .8 0zM229 126.9l.4-.4 .4 .3 .2 .5-.2 .3-.4 0-.3-.3zM218.6 130.9l.4 0 .4 .4 .2 .4-.2 .3-.9-.7zM220.6 158.1l.8-.3 .4 .3-.1 .4-1.1 .4-.3-.4zM218.1 158.5l.8 0 .3 .4-.2 .4-1.6 1.4-.8-.1-.2-.5 .2-.4zM228.9 161.7l1.3 .1 2 .5 .5 .6-.1 1.5-1.2 .6-.8 1.9-.4 .1-.8-.9 .3-1.2-.7-.3-1.2 0-.3-.1-.1-.4 .9-2 .3-.4zM237.2 161.7l.6-.1 .1 .5-1.3 1.5-.4 0-.3-.3 0-.4zM222.7 162.5l.3-.4 .8 .7 .2 .5-.1 1.2 .3 .2 .4 .2 1.6-.1 .8 .3 .1 .6-.5 1.6 .3 .4 1.7 1 .4 0 1.2-1.2 1.8 1.4 .1 .4-.1 .4-.6 .8-.4 .3-.8 .2-.5 .3-.3 2.4-1.6 1.7-.4 .1-.3-.2-.3-.8-1.8-.7-.5 .7-.3 1.2-.4 0-1.1-.8-.1-.5 1.2-.2 .6-.5 .1-.4-1.1-1-1.2 0-.4-.2-.2-.4 .6-1.1 .5-2.1-.1-.7-.4-.3-.4 .2-.5 1.2-1.5 1-1.6 .3-1.2 .5-.4 0-.4-.4-.2-2.2 .2-1.7 .4-.1 1.6 .3 .8-.2 .5-.7 0-1.6 .7-1 .4-.1 1.6 .6 .3-.3zM232.8 164.9l.2-.2 .4 .3 .1 .3-.1 .3-.4-.1zM236.1 165.7l.5 0 .4 .2 .2 .6-.2 .1-1.1-.5zM233.5 166.5l.3-.3 1 .3-.2 1.4-.4 .4-.8-.6-.2-.4zM223.8 166.9l-.2 .4 .4 .4 .6 0 .5-.4-.5-.7-.4-.1zM213.2 168.9l.8 0 .1 .4-.3 .5-.4 0-.4-.4zM225.8 170.5l.2 .4 .2 .1 .4 .1 .5-.2-.1-.5-.4-.1zM218.5 171.7l1.3 .1 .4 .3-.5 2.4 .2 1.6-.1 .4-.8 .5-.4 0-.4-.4-1.1-2.1 0-.8 .3-.7 .6-.9zM235 172.1l.8 0 .5 .4-1.7 2.4-.4 .3-.4 .1-.8-.2-1.5-1-.1-.8 .4-.6 1.6 .1zM225.3 178.1l.1-.4 .4-.6 1.2-.4 .8 .2 .3 .4 0 .8M247.4 178.1l.2-12.8 .5-4.4 .7-2.4 1.3-2 1.3-.9 1.6-.2 1.6 .3 1.2 1 .9 1.4 .6 2 .8 6 .1 12M251.6 121.7l1-.2 1.2 .3 .8 .5 1 1 1.2 2.4 .5 1.6 .3 2.4-.1 3.2-.4 1.6-.7 1.6-1.4 1.7-.8 .6-1.2 .3-1.6-.4-.9-.6-1-1.2-1.4-2.8-.6-2.4 .2-3.2 1-3.2 1.3-2zM221.8 125.7l.4-.3 .4 .1 .1 .2-.1 1.2-.6 .8 .2 .4 .8 .6 .2 .6-.4 1.2-.6 .7-.4 .1-.8-.4-.5-1.2 .3-1.2 .8-.8 0-1.6zM215.2 126.1l.6-.3 .4 .2 .1 .9-.5 1-.8 .2-.6-.4-.5-.8 .2-.4zM228.7 162.5l.3-.2 .8-.1 2 .4 .4 .3 0 .8-.4 .5-.8 .4-2.4-.5-.5-.4zM220.5 163.7l.5 0 1.2 .5 1.4 1.1 .3 .4-.2 .4-.7 .7-1.2-.1-.6 .6-.5 1.2-.5 .2-.8 .8-.4 .2-2 .2-.3-.2 .1-.8 2.6-2.1 .4-.9 .3-1.8zM225.1 165.3l1.1 0 .3 .4 0 .4-.3 .6-.4 .1-.4-.1-.6-.6-.1-.4zM224.5 168.1l1.3-.4 .8 .3 1.4 .9 .2 1 .4 .2 .4-.2 .7-1.4 .5-.3 .8 .3 .6 .4 .1 .4 0 .4-.7 .7-1.2 .2-.5 .3-.4 2.4-.3 .3-1.2 .3-.8 0-.9-.6-.9-1.2 .1-.4 .5-.2 1.6 0 .4-.1 .7-1.3-1.9-.3-1.6 .2-.4 .1-1.2 1-.4-1 .2-.8 .6-.9zM218.8 172.5l.6 0 .2 .4-.3 1.6 .1 1.6-.4 .3-.5-.3-.9-2 .4-.8zM234.2 172.9l.8-.2 .3 .2-.5 1.2-.6 .7-.8 .1-1.2-.8-.1-.4 .1-.2 1.2-.2zM226.1 178.1l.1-.4 .8-.3 .4 .1 .1 .6M247.6 178.1l.2-12.8 .1-2.4 .4-2 .9-2.4 1-1.5 1.2-.7 1.6-.2 1.2 .1 1.2 .7 1.1 1.6 .7 2 .7 6 .1 11.6M252.1 122.1l.9 0 .8 .2 .8 .6 1 1.2 1.2 2.8 .5 3.2-.2 2.8-1 2.8-.7 1-.8 .8-.8 .4-.8 .2-.8-.1-.8-.3-.8-.6-.9-1-1.3-2.4-.5-2.8 .2-2.8 1-3.2 .8-1.2 .7-.8zM214.9 127.3l.1-.2 .4 .2zM221.1 128.9l.3-.2 .4 0 .7 .6 0 .8-.3 .5-.4 .2-.4-.1-.5-.6 0-.8zM229.1 162.9l.7-.2 1.2 .1 .4 .1 .3 .4-.3 .5-.8 .1-1.6-.3-.2-.3zM220.5 164.5l.5-.3 .4 .1 .7 .6 0 .4-.2 .4-1.3 .9-.3-.5zM224.6 168.5l1.2-.3 1.3 .7-.2 .4-2.3 .1-.4-.1-.1-.4zM230.1 168.9l.5-.2 .4 .2 .3 .4-.3 .6-.8 .2-.4-.4zM228.1 171.7l.3 0 0 .4-.2 .4-1.1 .8-.5 .1-.6-.5-.1-.4 .3-.4 1.2-.1zM247.9 178.1l.1-12.8 .5-4 .7-2 1-1.5 1.2-.8 1.6-.1 1.2 .1 1.2 .7 1.1 1.6 .6 2 .6 5.2 0 11.6M251.4 122.9l.8-.3 1.2 .1 .8 .4 .8 .8 .7 1 .7 1.6 .6 2.8-.1 3.2-.8 2.4-.7 1.1-.8 .9-.8 .4-.8 .2-.8-.1-.8-.3-1.5-1.4-1.1-2-.6-2.4 .1-2.4 .6-2.4 1.2-2.4zM221.4 129.3l.4 0 .2 .4-.2 .5-.4-.1zM248.1 178.1l.1-12.8 .5-3.6 .7-1.9 .8-1.2 1.2-.8 1.6-.2 1.2 .1 1.2 .7 .8 1.3 .7 2 .6 5.2 0 11.2M252 123.3l.6-.1 .8 .1 .8 .5 .8 .9 1.1 2.2 .6 3.2-.2 2.4-.9 2.4-1 1.3-.8 .5-.8 .1-.8 0-.8-.4-1.2-1.1-1.1-2-.6-2.4 .2-2.4 .8-2.4 1.1-1.9zM248.4 178.1l.1-12.8 .4-3.2 .8-2 .9-1.1 1.2-.5 1.6-.1 1.2 .2 .8 .7 .8 1.4 .6 2.2 .4 4 0 11.2M251.6 124.9l.6-.3 .8 0 1.2 .7 1 1.6 .6 2.4 .1 2-.5 2-1.1 1.6-1.3 .6-1.2-.2-1.2-1-.8-1.4-.4-1.6 0-1.6 .4-2 .8-1.7zM249 178.1l.2-12.4 .3-2.4 .3-1.2 .8-1.3 .8-.5 1.6-.2 1.2 .2 .8 .5 .8 1.3 .4 1.6 .4 3.6 0 10.8M252.3 126.5l.7 0 .8 .5 .6 1.1 .5 1.6-.1 1.6-.3 1.2-.7 .9-.8 .5-.8-.1-.8-.5-.7-1.2-.3-1.2 .1-1.6 .4-1.2 .5-.9zM250 178.1l.4-13.2 .6-1.7 .8-.6 .8-.1 1.2 .1 .8 .6 .4 .7 .4 1.3 .2 1.7 .1 6.8-.2 4.4" fill="none" stroke="#222" stroke-width=".36"/>
</g>
<rect x="193" y="103.7" width="74.7" height="74.5" fill="none" stroke="#999" stroke-width=".55"/>
<path d="M193 103.7V178.2" stroke="#666" stroke-width=".55" fill="none"/>
<path d="M247.3 103.7V178.2M193 153.5H267.7" stroke="#555" stroke-width=".55" fill="none"/>
<path d="M193 122h-1.2M193 141h-1.2M193 160h-1.2M211.5 178.2v1.2M230 178.2v1.2M248.5 178.2v1.2" stroke="#777" stroke-width=".5"/>
<text x="196.6" y="111.6" font-size="6.3" font-weight="bold" text-anchor="start" fill="#111" stroke="#111" stroke-width=".2">14.76%</text>
<text x="195.6" y="176.9" font-size="6.3" font-weight="bold" text-anchor="start" fill="#111" stroke="#111" stroke-width=".2">30%</text>
<g clip-path="url(#c2)">
<path d="M338.8 119.7l1-.1 1.2 .3 1.7 1.4 1.3 2.4 .5 2.8-.4 2.8-1.2 2.4-1.5 1.5-.8 .4-1.2 .2-1.6-.3-.8-.5-1-.9-1.1-2-.4-2.4 .2-2.8 .8-2.4 .7-1.1 .8-.8 .8-.5zM335.1 178.1l-.2-4.8 .2-5.6 .4-3.6 .4-2.4 .5-1.6 1-1.8 1.2-1 1.2-.2 2 .3 1.2 .7 1 1.2 .8 2 .5 2.4 .4 4.4-.1 10" fill="#000" stroke="none"/>
<path d="M311.6 116.9l1.8-.3 2 .1 1.6 .5 1.4 .9 1.1 1.2 .6 1.2-.1 1.6-.6 1.2-1 .8-1.4 .7-2.8 1-1.6 .3-1.2 0-1.2-.3-2.4-1.3-.8-.8-.6-1.2 0-1.2 .3-.8 .7-.9 1.3-1.1zM308 178.1l-1.7-1.6-.8-1.2-2.4-5.6-.8-3.6 0-2 .2-2 1.4-5.6 1.1-2.3 4.4-4.1 1.6-.9 1.6-.4 1.6 .3 1.2 .7 4.6 5.1 .7 1.2 .7 1.6 1.1 5.6-.2 2.4-2.5 7.4-1.2 1.7-3.5 3.3M330.9 178.1l-.5-4.8 .3-4.4 1.3-6.4 2.2-6.4 .5-2 .3-3.6 .3-9.6-.1-1.6-.6-1.5-2.9-3.7-1.2-2.4-.5-2.8-.4-6.4 0-1.6 .6-1.8 1.2-1.3 2-.9 3.2-1.7 1.6-.4 1.6-.2 1.6 .2 1.6 .6 1.6 1 1.2 1.1 1 1.4 1.1 2 .8 2.4 .4 2 .1 2.8-.7 3.6-1 2.4-2.3 4-.4 1.2-.1 1.6 .4 5.2 0 4.8 .3 2.4 .5 2 2.5 6 1.2 6.8 .5 6-.3 4M312.6 154.5l.8-.1 1.3 .5 1.1 .9 1.1 1.5 .7 1.6 .5 2 .4 2.8 0 1.6-.7 2.5-1.6 2.2-1.2 1-1.6 .9-1.2 .4-1.2 0-1.2-.4-.8-.5-1.6-2-1.1-2.9-.2-2.4 .4-1.6 .9-1.7 4-5.5zM331.8 178.1l-.5-4.4 .2-4 .9-4.8 2.6-8.4 .5-2.4 .4-3.2 .3-10.8-.1-1.2-.5-1.2-3.2-4-1.1-2.4-.4-2.4-.2-3.6-.4-3.2 .1-1.2 .4-1.2 1-1 1.6-.6 3.2-1.9 1.2-.4 1.6-.2 1.6 .2 1.6 .5 1.2 .7 1.2 1.1 1 1.2 .9 1.6 .8 2 .5 2 .1 2.8-.6 3.6-.8 2-2.7 4.4-.4 2.4 .6 6-.2 5.2 .2 2 .6 2.2 2.6 6.2 1.2 6.4 .4 5.6-.4 4.4M332.8 178.1l-.5-4 .1-3.6 .8-4.8 3.4-12 .3-2.8 .2-7.2 .4-4.4-.3-1.2-.4-.8-3.3-3.6-1.2-2-.5-2.4-.4-7.6 .2-.8 .6-.8 1.6-.9 2-1.4 1.6-.8 2-.3 1.2 .1 1.2 .3 1.2 .6 1.4 1.2 .9 1.2 .9 1.6 .6 1.6 .5 2 0 2.8-.5 2.8-1.1 2.4-2.7 4-.5 2 .9 6.4-.4 5.6 .2 2 .5 1.6 1.6 3.2 1.1 2.8 .8 3.2 .8 4.4 .2 5.2-.5 4.4M337.6 118.1l1.4-.3 1.6 .1 1.2 .4 1.2 .8 1.3 1.4 1 1.6 .7 2 .3 1.6 .1 1.6-.3 1.6-.4 1.6-.7 1.6-1.2 1.7-1.6 1.6-1.6 1.3-.8 .2-.8-.2-1.6-.9-2.6-2.1-1.4-2-.6-2.4 0-4 .5-3.2 .7-1.2 1.1-1.2 1.1-.9zM333.8 178.1l-.6-4.8 .8-6.8 1.6-7.2 2.3-5.2 .4-1.6 .2-2-.1-4.8 .3-2.4 .7-1.6 .4-.3 .4-.1 .8 .8 .4 .7 .7 2.5-.1 2-.7 3.6 .3 2.4 .5 1.2 1.7 2.2 1 1.8 .8 2 .5 2 .8 5.2 .3 3.6-.1 2.8-.5 4M338.3 118.9l1.1-.2 1.2 .2 1.2 .5 .9 .7 1 1.2 .7 1.2 .5 1.2 .4 2-.1 2.8-.5 1.6-.7 1.6-1.8 2.1-1.2 .7-1.2 .4-1.2 0-.8-.3-1.2-.7-1.1-1-1.3-2-.5-2.4 0-2 .2-2 .8-2.4 1.5-2 .8-.6zM334.6 178.1l-.3-3.2-.1-2.8 .6-6.4 .7-4.4 .8-2.4 1.1-2 1.2-1.1 1.2-.4 1.6 .5 1.6 1.1 1.4 1.9 .8 2 .7 4 .4 4.8 0 3.6-.2 4.8M338.5 119.7l.9-.2 1.2 .2 1.2 .6 .6 .6 .9 1.2 .6 1.2 .6 2.8-.1 2.4-.3 1.2-.8 1.6-1 1.2-.9 .8-1.2 .5-.8 .1-.8-.1-1.2-.4-1.5-1.3-1.1-2-.4-2.4 .2-2.4 .6-2.4 1.4-2.1 .8-.6zM335.1 178.1l-.3-3.6 0-2.8 .4-6 .7-4 .6-2 .9-1.5 1.2-1 1.2-.2 1.6 .2 1.6 .8 1 1.3 .9 2 .4 2 .4 4.8-.1 10M338.4 120.5l1-.2 .8 .1 .8 .3 .9 .6 1.3 2 .7 2.8 .1 1.2-.3 1.6-.9 2-1.4 1.5-1.6 .7-1.6-.2-1.6-1.1-1.1-1.7-.4-2 0-2.8 .6-2 1.3-1.9zM335.5 178.1l-.2-6.4 .3-5.6 .4-3.2 .8-2.4 .6-1.1 1.2-1.1 1.2-.2 1.6 .1 1.2 .5 1.2 1.3 .7 1.7 .4 2 .4 4 0 10.4M338.3 121.3l.7-.3 .8 0 .8 .2 .8 .5 .7 .8 .7 1.2 .6 2-.1 2.4-.7 2-1.2 1.5-1.6 .8-1.6-.2-1.2-.9-1-1.6-.4-1.6-.1-2 .5-2 1-1.8zM335.8 178.1l-.1-6.4 .2-5.2 .5-3.2 .6-2 .8-1.3 .8-.6 1.2-.2 1.6 0 1.2 .5 1 1.2 .8 2 .4 2.8 .2 2.8-.1 9.6M338.2 122.1l.8-.3 .8-.1 1.2 .5 1.2 1.5 .7 2 0 2-.7 2-1.2 1.5-1.2 .5-1.2-.1-1.2-.7-.8-1.2-.5-1.6-.1-2 .4-1.6 .9-1.6zM336.2 178.1l-.1-6.4 .2-4.8 .4-2.8 .7-2 .8-1.2 .8-.5 1.2-.1 1.6 .1 .8 .4 .8 1.1 .6 1.8 .6 5.2-.1 9.2M339.3 122.5l.9 .1 1.2 .9 .7 1.4 .3 1.6-.1 1.6-.7 1.6-1 .9-1.2 .4-1.2-.3-1-1-.5-1.2-.2-1.6 .2-1.6 .5-1.2 1-1.2zM336.7 178.1l-.2-6 .3-4.8 .3-2.4 .5-1.6 .8-1.2 1-.5 1.2-.1 1.2 .1 .8 .6 .7 1.1 .4 1.6 .5 4.8-.2 8.4M338.5 123.7l.9-.4 .8 .2 1 1 .5 1.2 .1 1.6-.3 1.2-.9 1.2-.8 .4-.8 0-.8-.4-.7-.8-.4-1.2 0-1.2 .2-1.2 .5-.9zM337.3 178.1l-.3-5.2 .3-4.4 .3-2.4 .5-1.6 .5-.8 .8-.6 1.2-.1 .8 .1 .8 .5 .6 .9 .4 1.6 .4 4.4-.2 7.6M339.1 124.5l.7 0 .6 .4 .5 .8 .2 .8-.1 1.2-.4 .8-.4 .4-.8 .3-.7-.3-.4-.4-.4-.8-.1-.8 .4-1.6 .4-.5zM338.4 178.1l-.6-4 .4-5.6 .3-1.6 .5-1 .4-.3 .8-.2 .8 0 .8 .6 .4 .7 .4 1.4 .2 6-.4 4" fill="none" stroke="#222" stroke-width=".36"/>
</g>
<rect x="280.2" y="103.7" width="75" height="74.5" fill="none" stroke="#999" stroke-width=".55"/>
<path d="M280.2 103.7V178.2" stroke="#666" stroke-width=".55" fill="none"/>
<path d="M334.3 103.7V178.2M280.2 154H355.2" stroke="#555" stroke-width=".55" fill="none"/>
<path d="M280.2 122h-1.2M280.2 141h-1.2M280.2 160h-1.2M298.7 178.2v1.2M317.2 178.2v1.2M335.7 178.2v1.2" stroke="#777" stroke-width=".5"/>
<rect x="354.7" y="101.1" width="2.1" height="77.9" fill="#dcdcdc"/>
<text x="283.8" y="111.6" font-size="6.3" font-weight="bold" text-anchor="start" fill="#111" stroke="#111" stroke-width=".2">1.82%</text>
<text x="282.8" y="176.9" font-size="6.3" font-weight="bold" text-anchor="start" fill="#111" stroke="#111" stroke-width=".2">2.58%</text>
<g clip-path="url(#c3)">
<path d="M406 119.7l2 .1 1.6 1.4 1.5 .1 1.3 2-.4 .1-1.2-.6-2 .5-2.4-1-.3-.6zM390.3 178.1l-.3-2-1.5-1.6-.3-.8 1-4.8-1-2 0-1.2 1-1.3 1.7-.7-.4-1.2 .3-2-1.1-1.2-.1-1.2 .7-.8 1.7-.4 1.2-1.4 1.6-.4 1.6-2.4 2.8-.3 .8 .4 1 2.1 .6 .2 .5-.2 1.1-1.4 1.1 .2 1.3 1.2 1.6-1.1 1.6 .1 1.6-.5 1.2 .1 1.4 1 .3 1.2 1.5 2.1 1.6-.9 .7 .4 .8 4 0 6.4 .6 2.4 .1 2 1.1 3.2-.2 .8-1.4 1.2-.1 .8M394.8 178.1l-.8-.6-.2 .6" fill="#000" fill-opacity="0.4" stroke="none"/>
<path d="M395.9 155.7l.5-.4 .6 .4 0 .8-.6 .5-.8-.4zM393.7 158.5l.7-.2 .8 .2 .6 .8-.1 .8-.9 .3-1.1-.3-.5-.8zM409.5 158.9l.1-.3 .3 .3 .1 1-.4 .1zM413.1 160.5l.5-.2 1.6 .7 .6 .7-.1 .4-.9 .5-1.2-.2-.5-.7zM392.2 169.3l.5 .4-.3 .7-.6-.3zM405.2 173.2l-1.1 .9 .7 1.1 .8 .3 .8-.3 .4-.7-.8-1.2zM396.9 178.1l-1.6-3.6 .1-1.6-1.1-3.2 .2-2-.5-.2-1.2 .5-.4-.1-.4-.6-.1-.8 .9-1.6 .4-2.1 .4 0 .8 .9 .8 1.9 1.1-.3 .3-.4-.6-2.4 .1-2.4 1.6-2.4 1.1-.5 2 .1 2-.6 2.4 .9 2.3 2.5 .1 1.2-.6 1.6 0 1.6 .4 .8 2.6 .5 .8-.2 1.2-1.1 1.3 0 .6 .4 0 .4-2 1.6-.3 1.2 .8 .7 2.3 .9 .2 .4-.1 2.4 .8 .2 1.2-.4 .4 .4 .2 1-.4 .8-1.4 1.6-2.2-.8-.5 2.8M405.1 178.1l-.7-1-.8-.2-1.2 .3-.5 .9M409.8 178.1l-.2-.5-.4 .1 0 .4" fill="#000" fill-opacity="0.5" stroke="none"/>
<path d="M424.1 119.7l1.1-.1 1.2 .2 1.2 .7 .9 .8 .9 1.2 .8 1.6 .5 1.6 .3 2 0 2-.3 2.4-.5 1.6-.7 1.6-.8 1.2-1.1 1.1-1.2 .8-1.2 .2-1.2-.2-.8-.5-1.7-1.8-1.4-2.8-.6-3.2 0-2 .2-2.4 .9-2.8 1.4-2 .8-.6zM408.2 120.9l.6-.3 .4 .1 .3 .2 .1 .4-.4 .3-.4 0-.6-.3zM419 178.1l.1-11.2 .3-4 .7-3.6 .8-2 1.1-1.9 1.6-1.5 .8-.4 .8-.2 1.6 .5 1.6 1.2 1.4 1.9 .8 2 .7 3.6 .4 3.6 .1 12" fill="#000" stroke="none"/>
<path d="M386.1 178.1l.4-2-.8-2.4-.6-.8 0-.4 .5-.7 1.2-.7 .1-.6-.4-1.2-1.2-1.2-.1-.4 .2-.4 .8-.4 .3-.4-1-1.6-.4-2.4 .3-1.2 2-3.2 .2-1.6 .8-1.2 0-1.6 .4-.5 2-.4 1-1.1 2.4-1.2 1-1.3 1.2-.7 4-3.1 2.4-1.1 2-.5 1.6 .4 1.6 .9 4.1 3.4 1.5 .8 1.2 2.2 2.3 1.4 .5 .1 .8-.1 .4-.3 .4-.9 .5-4.4 .1-6-.6-2.5-1.6-3-.8-.8-1.2-.9-5.3-2.8-1.9-.9-4.8-1.7-3.2-1.6-2.8-2.2-1-1.2-.8-1.6-.5-2 0-1.6 .6-1.6 1.3-1.7 1.6-1.3 1.6-.9 2.4-.5 2.8-.2 3.6 .3 2.8 .6 2.8 1.1 3.6 1.9 1.2 .4 1.2 .1 3.6-1 1.2 .1 1.2 .2 1.6 .8 1.6 1.3 1.5 2 .8 1.6 .7 2 .5 2 .1 2.8-.1 2.4-.8 4-2.3 5.9-.2 1.7 0 2.4 .4 6 2 7.6 1.2 7.6 .1 3.2 0 8.8M386.6 178.1l.3-2-.5-1.2 .1-1.6-.2-.4 .1-.3 .4 0 .4-.3 .3-1-.5-2.8 .3-1.6-.6-2 .7-.8 .1-.4-.3-.7-1.2 .1-.4-.6 .4-.8 .4-.1 .8 .6 .4-.5-.3-.8-.1-.8 1.2-1.6-.3-1.6 .1-.4 .7-.8-.1-1.6 .3-.4 2.5-.3 1.2-1.5 2-.5 1.2-1.3 1.9-.8 3.7-2.2 1.2-.5 2.4-.3 2.4 .7 2.4 1.5 1.9 1.6 1.3 .3 .8 1.7 2 .8 1.9 2.4 .5 .3 .4-.1 .3-.6 1-4 .4-9.2-.1-1.3-.4-1.4-2-3.8-.8-1-1.2-.9-5.2-2.8-1.7-.8-5.1-1.9-3.2-1.6-2.5-2.1-.9-1.2-.5-1.2-.3-2 .3-1.6 .8-1.6 1.1-1.1 1.2-.9 1.6-.8 2-.3 2.4-.2 3.2 .3 3.2 .8 2.8 1.2 3.2 1.9 1.2 .5 1.2-.2 3.2-1.1 1.6 0 1.2 .2 1.2 .6 1.6 1.3 1.1 1.4 1.1 2 .7 2 .4 2 .2 2.4-.1 2.4-.8 3.6-2.5 6-.2 1.6 0 2 .4 6.8 1.9 6 1.3 7.2 .3 4.4 0 9.6M387.3 178.1l.3-1.4 .9-.6 .3-.4-.4-.3-.8 .1-.4-.3-.3-.7 1.1-2.8-.3-2.4 .4-1.2-.6-2.8 .8-1.2 .2-1.6 .9-1.6-1-.6 .6-1.8-.3-1.6 .3-.4 1.6-.8-.7-.8-.1-.4 1.4-.1 1.6-.6 1.6 .9 .3-.2 .1-.3-.1-.9 .3-.8 1.4-1.6 4-1 1.6-.8 3.6-.6 3.2 1 1.7 1.4 2.9 2 1.8 .1 .7 .7 .2 1.2 2.7 1.6 .4-.2 .3-.6 1.1-3.2 .5-4 .2-7.6-.2-1.2-.7-1.5-2.8-5-1.2-1.3-1.2-.8-4.8-2.2-5.6-1.9-2.8-1.4-2.4-1.9-.7-.8-.5-1.2-.4-1.6 .2-1.2 .6-1.4 1.2-1.4 1.2-.8 1.6-.6 4-.4 2.8 .2 2.8 .9 2.8 1.4 3.2 2.2 .8 .3 .8-.1 2.4-1.3 1.6-.5 1.6-.1 1.2 .3 1.2 .6 1.3 1.1 1.2 1.6 1 2 .7 2 .3 2.4 .1 2-.3 2.4-1 3.6-2.4 5.2-.2 1.2-.1 2 .6 7.2 2.2 6 1.2 6.4 .3 4.8 0 10M390.5 178.1l-1-1.2 .2-.8-.3-.8-.6-.5-1-.3-.1-.4 .7-2-.1-2.4 .6-1.2-.8-1.6-.1-1.2 1.4-2 .4-1.6 .9-1.2 .1-.4-1.2-.8-.2-.4 .1-2 .5-.4 1.6 0 .4-.3 .2-.5 0-1.2 .2-.2 .4-.1 1.2 .6 .8 0 .5-.7 .2-1.6 .9-1 .8-.4 1.6-.4 1.2-.1 1.6 .9 .4 0 .6-.2 .7-.8 .7-.4 2 0 2.4 .8 1.4 1.2 1.4 .1 2.4 1.1 1.2-.1 .4 .1 .4 1.8 2 .9 .5 .5 .1 .4-.7 1.2 .1 .5 .8 1.2 .4-.9 .1-1.2 .7-1 2-5.1 .6-3.5 .3-6-.1-1.6-.5-1.6-2.5-4.4-1.1-2.8-.2-1.2-.1-4.4-.4-1.2-.4-.1-.4 0-2.8 1.5-1.2 .4-1.6 .1-2.4-.3-2.8-.7-2.4-1.1-2.4-1.7-1.1-1.7-.3-1.2 0-1.2 .3-.8 1.5-1.6 2.4-1 3.2-.5 2.8 .4 2.8 1.1 2.9 2 1.9 2.2 .8 .6 .8-.3 2.4-2.1 1.6-.9 1.6-.4 1.6 .2 1.6 .8 1.2 1.1 1.1 1.6 .8 1.6 .6 2 .2 1.6 .1 2.4-.2 2.4-.5 2-.7 2-2.8 4.8-.3 1.2 0 1.2 .8 8 .5 1.6 1.3 2.4 .9 2 .9 4 .6 6.4 0 10.8M406.7 116.9l2.5 0 1.6 .4 1.5 .8 2.4 2 .5 .8 .2 .8-.8 2.4-.6 .8-.8 .4-2 .3-2.8-.2-3.2-.8-2.2-1.7-1.5-2.4 0-.8 .2-.4 1.1-1 1.2-.8zM424 118.9l1.2-.2 1.6 .4 1.2 .8 1.1 1 .8 1.2 .8 1.6 .6 2.4 .2 1.6-.1 3.6-.5 2-.7 2-1 1.6-1.2 1.5-2 1.9-.8 .5-.4 0-1.2-1-2.7-3.3-1.5-3.2-.5-2.8 .1-4.8 .7-2.8 1-1.6 .9-1.1 1.2-.8zM416.4 166.5l.2 .4 1 .9 .1-.1-.5-1.3-.4-.2zM390.4 171.7l-.5 .8 .4 .4 .9 .4 .3-.4-.2-.8-.5-.4zM390.9 178.1l.2-1.6-.2-.4-2.2-2-.2-.4 .6-1.2-.1-1.2 .2-.9 1.2-1.1 .2-.4-.1-.4-.9-.3-1-.9-.2-.8 .2-.8 1-1.2 .4 0 .4 .4 0 .8 .4 .3 .8-.8 .4-1.1-.1-.8-.8-1.2 .7-1.2 0-.4-.6-.6-1.2-.6-.2-.8 .4-.8 1.8 0 .8-.8 .4-1 1.2-.1 .8-.5 .4-.4 .3-1.6 .9-.7 1.2-.1 1.2-.5 .8 .1 .4 .5 .8 1.7 .4 .2 .7-1.2 .5-.3 1.2 0 1.6 .7 .8-1 .8-.1 1.6 1.1 2.4-.2 1.3 .6 .3 .4 0 1.2 1 1.6 .6 1.5 .8-.1 1.2-.7 1 2.1 .3 2.4 .3 1 .4 .4 .4-1.2 .8-4.2 3.7-7.6 .5-2 .6-3.5 .4-1 .4 0 .4 1 1.4 5.9 3.1 4.8 .8 2 .5 2 .5 3.2 .2 3.6 .1 11.2M395.7 178.1l-1.3-1.2-.5-1.2-1.5-.9-.4 0-.4 1.3 1.2 .9 .2 .3 .2 .8M406.3 117.7l1.3-.1 2.8 .4 1.6 .9 1.6 1.3 .5 .7 .1 1.6-.3 1.2-.6 .8-1.3 .4-1.2-.2-1.6 .1-1.2-.2-2.4-.6-1.6-1.1-.6-.8-.9-2 0-.4 1.9-1.6 .8-.3zM423.9 119.3l1.3-.2 1.2 .3 1.2 .6 1.2 1.1 1 1.4 .7 1.6 .5 1.6 .2 2-.2 4-.4 1.6-.8 2-1 1.6-1.2 1.3-1.2 .9-1.2 .3-1.2-.3-.8-.5-1.9-2.1-.7-1.2-.9-2-.5-2.8 .1-4.4 .4-2 .5-1.2 .6-1.2 1.1-1.2 .9-.7zM410.8 155.9l-.2 .2 .2 .5 .6-.5-.2-.4zM389.4 173.3l.6-.1 .9 .5 .4 .4-.1 1-.4 .2-1.2-.8-.5-.8zM391.1 178.1l.2-.8 .3-.3 .4-.1 .6 .4 .3 .8M396.1 178.1l-.2-.4-1-.8-.2-1.2-1.5-.9-.7-.7-.3-1.2-.7-1.2-1.6-.8 .2-.8 1-1.2 .1-.8-1.6-.2-.7-.6-.2-.4 .1-1 .8-.7 .6 .9 .6 .4 .8-.8 .6-1.2 0-1.2-.4-1.2 .6-1.2 0-.4-.8-.9-1.2-.4-.2-.3 .2-.8 .4-.1 .8 .4 .4 0 .4-.3 1.4-1.6 1.7-1.2 .5-.8 .1-.8 .3-.4 .4-.1 1.6 .7 .4-.1 .8-.8 .4 .2 .5 .9 .3 1 .4 .3 .6-.1 .5-.4 .4-1.2 .5-.3 1.2 .3 .4 .4 .4 .8 .4 .2 .8-.3 .8-1.2 .4 .1 .8 .7 .4 .2 1.2-.7 1.2 0 .6 .6 .3 1.2 1.4 1.6 .5 1.7 .4 .3 .4 0 1.2-.4 .4 .1 .5 .7 .2 .8 .3 3.2-.6 .4-1.2-.2 .5 1 0 .4-1 1.2-1.9 .7-.2 .5 1.4 .3 1.2-.5 .8 .1 .6 .5 .6 1.3 .4 .4 .4-.7 0-2.6 1.5-8 1.1-2.4 1.4-2.1 2-2.3 .8-.3 .8 .5 3.2 3.3 1 1.7 .8 2.4 .4 2.4 .5 4 .1 12.4M414.7 178.1l-.2-.8-.5-.2-.4 .3-.2 .7M418.5 178.1l-.2-1.2-.7-.7-.4-.1-.1 .8 .3 1.2M404.8 118.5l.8-.2 4 .3 2 1 .8 .9 .8 1.6 .2 .8-.3 .8-.7 .6-.4 0-1.2-.6-2 .5-3.2-.9-1.1-.8-.4-.8 .3-1.2 .1-1.2zM423.8 119.7l1-.2 1.2 .1 1.2 .5 1.2 1 1.1 1.4 .6 1.2 .5 1.6 .4 2-.1 3.6-.4 2-.8 2-.7 1.2-1 1.2-1.2 1-1.2 .4-.8 0-1.2-.4-1.2-1-.8-.9-1.4-2.7-.7-3.2 0-3.6 .7-3.2 .8-1.6 .6-.8 1.2-1.1zM409.8 154.5l.6-.3 .4 .1 .3 .2 0 .4-1.1 .6-.3-.6zM411.2 158.1l-.3 .8 .3 .6 .4 .3 .4-.3 .2-.6-.2-.4-.4-.4zM412 161.2l-.2 .1-.1 .4 .3 .6 .2-.6zM394.8 162.4l-.4 .1 .1 .4 .7 .5 0-.5zM412.8 163.2l0 .1 .4 .1 .5-.1zM395.6 163.5l-.2 .2 .1 .8 .1 .3 .4 0 .2-.3-.1-.4zM415.2 171.2l-.2 .5 .1 .4 .5 .2 .2-.6-.2-.5zM389.9 173.7l.5 .1 .3 .3 .1 .4-.4 .2-.4-.3-.3-.3zM391.3 178.1l.3-.7 .4-.1 .4 .2 .3 .6M396.4 178.1l-1.2-1.6 .1-.8-.2-.4-1.5-.7-.4-.5 .4-1.2-.4-.4-.8-.3-.8-.9-1.1-.8 .1-.4 1-1.6 0-.6-.4-.5-.4 0-.8 .3-.4-.1-.5-.3-.2-.8 .3-.5 .4-.1 1.2 1.2 .4-.3 1.2-1.9 .1-1.2-.3-1.6 .9-1.2-.1-.4-.8-1.2 .1-.4 .9-1 1.6-.5-.1-.9 1.3-1.6 .4-1 .4-.2 1.6 1.2 .4 0 .8-.7 .4 .2 0 .5-.4 .5-.4 .1-.8-.5-.4 .4-.2 .7 .2 .5 1.2-.4 .8 .4 .4-.1 .8-.5 1.6-.6 .2-.1 0-1.2 .6-.3 .8 .4 .2 1.1 .3 .4 1.1-.1 1.2-.9 .4 0 .9 1.4 .3 .2 .8-.2 1.2 1.1 .4 0 .8-.9 .8 .4 .4 .6 .4 1.6 .4 .6 .8 .4 1.2-.3 .4 .3 .4 1.4 .1 1.6-.1 .2-.4 .1-.8-.1-.9 .2-.5 .4 .8 .8 .1 .8-.7 .8-1.6 .9-.4 .7 .4 .5 1.6 .4 1.6-.4 .6 .3 .4 1.2 .9 1.2 .1 1.6 .4 .5 .4-1.3-.2-1.6 .1-3.2 1.3-8 1.2-2.5 1.2-1.6 1.6-1.4 1.2-.3 1.6 .5 2 1.7 1.1 1.6 .8 2 .7 3.6 .3 3.6 .1 12M403.2 178.1l-.4-.3-.6 .3M415 178.1l-.1-1.2-.5-.4-.4 0-.4 .2-.4 .5-.1 .9M418.8 178.1l-.3-1.6-.9-1.1-.4-.2-.4 .2-.2 .7 .3 2M405.4 119.3l.2-.3 .4 0 2.8 .3 .4 .1 .9 .7 1.1 .3 .5 .5 .2 1.2 .5 1.2-.4 .3-.8-.5-.8-.1-1.6 .6-1.2-.6-1.2-.2-.4-.3-.2-.4 0-1.6zM423.7 120.1l1.1-.3 1.2 .1 .8 .3 1.2 .9 .9 1 .9 1.6 .9 3.2 .1 2-.1 2-.9 3.2-.8 1.6-1 1.2-1.2 .9-1.2 .4-.8 0-1.2-.4-.8-.6-1-1.1-1.3-2.4-.7-2.8 0-4 .7-3.2 .6-1.2 .9-1.2 .8-.7zM403.6 154.5l.4 0zM411.9 156.9l.5-.1 .5 .5 .3 1.6 .8 1.1 2 1 .2 .3 .3 .8-.2 .4-1.9 .4-.8-.1-.6-.3-.9-2.4 .5-1.2-.1-.4-.7-.8-.1-.4zM409.6 164l.1 .5 .3 .2 .4 0-.2-.6zM389.3 166.5l.3 0 .5 .4 0 .4-.6 0-.3-.4zM394 167.7l-.9 .8 .1 .9 .4 .6 1.2-1.9 0-.4-.4-.2zM414.8 170.9l-.1 .8 .2 .8 .3 .2 .8-.2 .3-.8-.3-.8-.4-.3-.4 0zM405.6 173.9l-.3 .6 0 .4 .3 .3 .4-.1 .4-.3 0-.7-.4-.3zM391.6 178.1l.4-.5 .4 .5M396.6 178.1l-.9-1.6-.1-.8-.4-.9-1.1-.7 .2-.8-.2-.8-1.5-1.2-1.4-.6-.2-.6 1.1-2-.6-1.2 .3-.8 .9-1.2-.2-2.4 .3-.7 .4-.3 .6 .2 .3 1.2 .9 1.2 .2 1.2 .8 0 .5-.4-.1-1.1-1.1-1.7 0-.4 .7-.8-.4-.1-.8 .2-.4-.1-1.2-.9-.5-.7 .5-.9 .8-.4 1.6 .2 .8 .8 .4-.2 .3-1.1-.3-.2-.8 .1-.4-.2-.5-.9 .4-.8 1.3-1.2 .4 .2 .3 .6-.2 1.6 .3 .3 1.2-.4 1.6 .2 1.6-.9 .8 0 1.2 .4 1.1 0 2.1-1 .4 .3 .8 1.3 .4 .1 .8-.2 1 .7 .1 1.6 .7 1.2-.4 .8 .2 .8 1.2 1.7 .4 .2 1.2 .1 .6 .4 .1 .4 0 .4-.4 .4-1.9 1.2-.5 .8 .1 .4 .6 .4 1.8 .6 1.6 0 .5 1 .9 1.2 .6 2.8-1.6 1.2-.2 1.2 .4 1.6M404 178.1l0-.4-.3-.4-.5 0-.8 .1-.4 .3-.1 .4M415.3 178.1l.1-1.2-.3-.4-1.1-.8-.4 .1-.4 .7-.3 1.6M419 178.1l-.1-1.2-.6-1.6-.1-.8 .6-1.2 .2-.8-.1-5.2 1.2-7.6 1.1-2.6 1.2-1.7 1.6-1.1 1.2-.3 1.6 .3 1.6 1.1 1.4 1.9 .8 2 .5 2.4 .4 4 .1 12.4M423.8 120.5l1-.2 1.2 .1 .8 .3 1.2 .9 1.1 1.3 .6 1.2 .5 1.6 .3 1.6 .1 2-.3 2-.8 2.8-.9 1.6-1 1-1.2 .8-.8 .1-1.2 0-.8-.4-1.6-1.4-1.3-2.5-.6-2.4-.1-3.6 .6-2.8 1.2-2.4 1-1zM396.3 155.3l.6 0 .2 .8-.3 .6-.4 .3-.4 0-.5-.5 0-.4zM406.8 156.9l0-.3 .3 .3zM393.9 158.5l.5-.1 .8 .3 .5 .6 0 .4-.4 .4-.5 .2-1.2-.5-.3-.5 0-.4zM412.8 160.1l.4-.1 .4 .5 1.6 .8 .5 .4 0 .4-1.3 .5-.8-.2-.4-.3-.1-1.2zM393.1 162.5l.1-.1 .4 .4 1 1.3 .1 .4-.3 1.2 .1 .8-.9 .8-.8 .4-.6-.4-.3-.4 .1-.4 .4-.7 .7-.5zM407.6 162.8l.9 1.7-.9 .4-.1 .4 2.9 .5 .9-.5 .2-.8-.2-.4-1.3-1.1-1.2-.3zM392 169.3l.4-.1 .1 .5-.1 .4-.4 .2-.4-.2zM411.2 169.9l-.3 .2-.1 .4 .4 .4 .8 .2 .3-.6-.3-.4zM405.6 173.1l-.7 .6-.2 .8 .2 .8 .7 .3 .9-.3 .4-.8-.2-.8-.7-.5zM410 173.6l-.2 .5 .3 .4 1 0 0-.4-.5-.4zM398.8 175.3l-.4 .1-.2 .3 .2 .5 .4 .1 .4-.6zM397 178.1l-.8-1.6-.7-2.4 .9-1.2 0-.4-1.3-.4 0-.4 .6-.8-1.1-1.2-.1-.4 .7-1.2-.4-1.6 .8-.6 1.2-.6 .2-.4-.2-.9-.8-1.5 0-.4 .5-.8 .1-1.2 .6-.8 .6-1.6 1-.5 2 .2 .8-.7 .8-.2 2 .5 .8 .5 2.4 2.2 .4 1.4 .4 0 .8-.4 .1-.2-.3-1.2 .2-1.2 .4-.4 .4 .1 .6 2.3 0 .4-.5 .4 .1 .8 1 1.2 .8 1.4 .4 .3 1.2-.2 .6 .5-.2 .5-1.2 .6-.4 .4-.8 .9-.2 .8 .6 .6 2.4 1.1 .2 .3-.3 2.4 .1 .5 .4 .2 .8 0 .6-.3 .6-.7 .4 .3 .2 1.2-1.8 2.2-.4 0-.7-.6-1.2-1.6-.1-.8-.4-.5-.4 .2-.3 1.9 .7 1.2-.2 2.4M399.3 178.1l-.5-.7-.4 .2-.5 .5M405 178.1l-.3-.8-.3-.3-.8-.2-1.6 .5-.4 .8M410.6 178.1l-.2-1.1-.8-.2-1.1 .1-.4 .4 .3 .4 .9 .4M419.3 178.1l-.4-2.8 .4-2.8-.1-5.2 1.1-7.2 1-2.4 1.1-1.5 1.6-1.1 1.6-.2 1.6 .3 1.6 1.2 1 1.7 .7 2 .5 2.8 .4 3.6 0 11.6M423.8 120.9l1-.3 1.2 .1 .8 .4 1.2 .9 1.4 2.1 .4 1.2 .4 2 0 3.2-.8 3.2-.9 1.6-.9 1-.8 .5-1.2 .4-1.2-.1-.8-.3-1.6-1.5-1.1-2-.6-2.8 0-3.2 .7-3.2 1.2-2zM396.1 155.7l.3-.2 .3 .2 .1 .4-.4 .5-.5-.1-.1-.4zM394 158.9l.8 .1 .3 .3-.2 .4-.5 0-.4-.2-.2-.2zM401.2 159.3l-.4 .1-.2 .3-.1 .4 .3 .6 .4-.1 .3-.5 .1-.4zM414 161.3l.8 .4-.1 .4-.9 0-.2-.4zM402.4 161.7l0 .5 .2-.1 0-.4zM393.5 164.1l.1-.3 .5 .3 .1 .4-.2 .3-.4-.2zM392.8 166.1l.5 0 .2 .4-.3 .5-.4 0-.4-.4zM401.6 168.4l-.4 .1-.3 .4 0 .4 .3 .4 .4-.1 .4-.7 0-.4zM413.1 170.1l.5-.1 .4 .5 0 1.2-.4 .5-.4-.3-.3-.6zM408 170.5l.5 0zM402 171.7l-.1 .4 .5 0zM402.8 172.7l.1 1.8 1.1 .4 .8 1 .4 .1 .8-.1 1-.6 .2-.4 .1-.8-1.3-1.4-.4-.1-1.2 .6zM415.4 173.7l1-.3 .4 .3-1.2 1.4-.4 .2-.4-.4-.2-.8zM399.7 178.1l-.3-1.2 .1-.4 .5-.5 1.5-.3 .2-.4-.1-.4-.8-.2-.8 .2-2.2 0-.4 .4-.2 .4 .7 1.2-.3 .6-.4-.1-.6-1.7-.7-1.2 .1-.4 1.1-.8 .4-1.2-.2-1.2-.2-.4-.3-.2-1.6-.5-.3-.5 .5-1.2-.1-1.6 .7-.5 1-.3 .3-.4 0-.8-.9-2 .4-.8 .1-1.2 .7-1.2 .4-1.2 .3-.4 .5-.2 2 .3 1.6-.9 1.2 .2 .8 .3 2.7 2.7 0 1.2-.6 1.2 .2 1.6-.4 .8 .1 .4 .4 .4 .8 .3 2.8 .5 1.1 0-1.5 2.3-.3 1.3 .6 .8 1.3 1 .2 1-.2 .4-.4 .1-.8-.3-.8 .1-.3 .5 0 .4 .7 .9 1.6 .4 .6 .3 .2 2.4M410.9 178.1l-.1-1.2-.4-.4-.4-.2-1.6 .2-1.6 .9-1.2-.1-1.2-.9-.8 0-1.6 .5-.4 .4-.2 .8M419.5 178.1l-.2-2.4 .2-3.6-.1-4.4 .4-3.6 .7-4 .9-2 1-1.3 1.2-.9 2-.4 1.6 .3 1.2 .8 1.1 1.5 .8 2 .6 3.2 .2 2.4 .1 12.4M423.9 121.3l.9-.2 .8 0 1.2 .4 .8 .6 1.4 2 .6 1.6 .3 1.6 0 3.6-.9 2.8-1.4 2-.8 .6-1.2 .4-1.6-.3-1.6-1.2-1.1-1.9-.7-2.8-.1-2.8 .6-2.8 .7-1.6 .6-.8 .8-.8zM402.2 157.7l1-.3 .8 .2 1.9 1.7 .6 .8 .1 .8-.7 1.6-.3 1.3-.6-.1-.3-1.2-2.3-1.6-.3-.4 .1-1.2-.4-.8 0-.4zM398.5 158.1l.3-.2 .8 0 1 .6-.7 1.6 0 1.2 .5 .4 .8 .1 .8 1.7 1.2-.9 .8-.2 .6 .9 .4 1.2 1 1.2 .8 .5 2.4 .7 .4 .4-.6 2-.2 .2-1.2 .4-.5 .6 .3 .4 1 .5 .4 .2 1.2-.1 .7 .6-.3 .3-.8 .2-.4 .2-.6 .9 .1 .4 .9 1.2 0 .5-1.6 .2-1.2 .8-.6-.3 1.4-1.1 .2-.5 .1-.8-2.3-2.3-1.2 .7-.4 0-.6-.4-1-2 .4-1.6-.4-.6-1.2 .1-.7 .5-.1 1.1 .7 .9 .1 .4-.4 .8-.4 .2-2-.2-.4-.4-.4-1.2-1.7-.4-.6-.4 .3-1.2 0-1.2 .2-.4 .6-.3 1.2 .5 .3-.2 0-1.6-.7-1.2-.2-.8 .5-.8-.3-1.2zM399.2 165.7l-.2 .4 0 .4 .6 .5 .4-.5-.4-.6zM400.8 172.5l.8 .3 .5 .5 .2 .4-.3 .7-2.8-.1-.9-.2-.3-.3 0-.7 .4-.4 1.2 .1zM402.3 175.7l.5-.3 .8 .3-.8 .5-.5-.1zM400 178.1l-.1-1.2 .4-.4 .5-.1 .5 .1 .1 .4-.3 1.2M411.3 178.1l-.1-1.6 .4-.3 .5 1.9M419.7 178.1l0-10.4 .4-4 .6-3.2 .9-2 1.2-1.4 1.2-.6 1.6-.3 1.6 .3 1.2 .7 1 1.3 .8 2.4 .5 2.4 .3 3.2 0 11.6M424 121.7l.8-.2 1.2 .1 1.6 1 .9 1.1 .6 1.2 .6 2.8 .1 1.6-.3 2-.8 2.4-.7 1.1-.8 .8-1.6 .7-1.6-.3-1.4-1.1-1.2-2-.5-2.4-.1-3.2 .6-2.4 1.1-2 .7-.7zM403.1 158.1l.5-.2 .8 .9 1.4 .9 .3 .8-.5 1.1-.4 .1-1.2-.2-1.3-1-.1-.4zM398.7 158.5l.5-.3 .8 .3-.2 .8-.6 .8-.4-.1-.3-.3zM398.4 162.5l.8-.3 1.6 .1 .4 .6 .4 1.6 .4 .2 1-.2 .2-1.2 .4-.1 .1 .5-.1 .8 1.2 .6 1.2 1.1 1.4 .7 .2 1.4 .8 .6-1.4 .8-1 1.2-1.6 1-.4 .1-.4-.3-.4-.8 0-.8 .5-1.2-.3-.8-.6-.5-2 0-.3-.3 .1-1.2-1-1.5-.8-.5-.8 0-.5-.4-.1-.4 .1-.4zM395.9 166.9l.5-.3 2 1.3 1.2 .2 .3 .4 .1 1.2 .6 1.2-.2 .2-1.6 .1-.4-.3-.4-1.1-2.1-.5-.2-.4zM404.8 168.3l-.3 .6 .5 0 .2-.2 0-.3zM406.4 171.3l.4-.2 .4 .1 1 .5 .5 .4 0 .4-.3 .6-.4 .2-.4 0-.7-.4-.5-.8zM400.7 173.3l.5 0 .5 .4-.9 0zM400.4 178.1l-.1-.8 .1-.2 .4 0 0 .8-.3 .2M419.9 178.1l0-10.4 .4-3.6 .8-3.6 .7-1.6 1-1.2 1.2-.6 2-.3 1.6 .4 1.1 .9 .7 1.2 .8 2.4 .5 4.8 .1 11.6M424.3 122.1l.9-.1 .8 .1 .8 .4 .8 .7 .7 .9 .6 1.2 .5 2.4 0 2.8-.9 2.8-1.3 1.8-.8 .5-.8 .2-1.6-.3-1.2-1-1.1-2-.6-2.4 0-2.4 .7-2.8 1-1.7 .8-.8zM403.7 159.3l.7 .1 .8 .3 .3 .4 0 .4-.3 .4-.4 .3-.8-.1-.8-.5-.2-.5 .2-.4zM399.4 162.9l1 .1 .3 .3-.1 .4-.2 .4-.8-.3-.5-.5zM401.4 165.7l1-.4 2 .3 .4 .1 .6 .8-.2 .4-.8 .5-.4 0-.8-.5-.4-.1-1.2 .3-.5-.2zM405.9 167.3l.5-.3 .4 .3 0 .7-.4 .7-.4-.7zM396.3 167.7l.1-.3 .8 .3 .6 .4 .4 .8-.6 .3-1.2-.2-.3-.5zM404.4 170.1l.8-.2 .3 .2-.2 .4-.9 .6-.5-.2 .1-.4zM406.9 171.7l.7 0 .4 .3 .2 .5-.2 .3-.4 .1-.4-.1-.4-.7zM420.2 178.1l0-10.4 .4-3.6 .6-2.8 .7-1.6 .9-1.2 1.2-.7 2-.3 1.2 .2 1.2 .8 .9 1.6 .6 2 .6 4.8 .1 11.2M424.7 122.5l.9 0 .8 .2 1.2 1 1.1 2 .5 2.4-.1 2.4-.8 2.4-1.1 1.6-.8 .6-.8 .2-.8 0-.8-.3-1.2-1.1-.9-1.8-.5-2.4 .1-2.4 .7-2.4 1-1.6 .8-.6zM403.5 160.1l.5-.4 .4 .2 .4 .2 0 .4-.4 .3-.4 0-.5-.3zM396.7 168.1l.5 .1 .2 .3-.2 .2-.4 0-.2-.2zM407.5 172.1l.1 .2zM420.4 178.1l.1-10.4 .4-3.6 .5-2.4 .7-1.6 1.1-1.2 1.2-.6 1.6-.2 1.2 .2 1.2 .9 .7 1.3 .6 2 .6 4.4 0 11.2M424.1 123.3l.7-.3 .8 0 .8 .3 .8 .7 1.1 1.7 .5 2 0 2.4-.7 2.4-1.1 1.6-1.4 .7-1.2-.2-1.2-.9-1-1.6-.4-2 0-2.4 .4-2 .9-1.6zM420.7 178.1l.1-10 .8-5.6 .6-1.6 1-1.2 1.2-.6 1.6-.2 1.2 .2 .9 .6 .7 1.2 .7 2 .5 4.4 .1 10.8M424.4 124.5l1.2-.2 1.2 .7 .9 1.5 .4 1.6-.1 2-.5 1.6-.7 1.2-1.2 .7-1.2-.2-.8-.7-.6-1-.5-1.6-.1-1.6 .4-1.8 .7-1.4zM421.4 178.1l0-9.2 .9-5.2 .5-1.5 .8-1 .8-.4 1.6-.3 1.2 .3 .8 .8 .6 1.3 .4 1.6 .4 3.6 .1 6.8-.1 3.2M424.9 126.1l.7 0 .8 .5 .4 .7 .3 1.2-.1 1.2-.3 1.2-.7 .8-.8 .3-.7-.3-.5-.5-.4-.9-.2-1 .4-2 .5-.8zM422.3 178.1l0-7.6 .5-3.4 .5-1.8 .7-1.4 .8-.6 1.2-.3 .8 .2 .5 .5 .6 1.2 .3 1.2 .4 8-.2 4" fill="none" stroke="#222" stroke-width=".36"/>
</g>
<rect x="367.2" y="103.7" width="74.8" height="74.5" fill="none" stroke="#999" stroke-width=".55"/>
<path d="M367.2 103.7V178.2" stroke="#666" stroke-width=".55" fill="none"/>
<path d="M421.3 103.7V178.2M367.2 154H442" stroke="#555" stroke-width=".55" fill="none"/>
<path d="M367.2 122h-1.2M367.2 141h-1.2M367.2 160h-1.2M385.7 178.2v1.2M404.2 178.2v1.2M422.7 178.2v1.2" stroke="#777" stroke-width=".5"/>
<rect x="441.5" y="101.1" width="2.1" height="77.9" fill="#dcdcdc"/>
<text x="370.8" y="111.6" font-size="6.3" font-weight="bold" text-anchor="start" fill="#111" stroke="#111" stroke-width=".2">6.85%</text>
<text x="369.8" y="176.9" font-size="6.3" font-weight="bold" text-anchor="start" fill="#111" stroke="#111" stroke-width=".2">26.39%</text>
<path d="M66.5 225.8V348.3H250.4" stroke="#000" stroke-width="1.6" fill="none"/>
<path d="M66.5 226.4h-4.2M66.5 287.2h-4.2M66.5 348.3h-4.2" stroke="#000" stroke-width="1.2"/>
<text x="61.7" y="229.4" font-size="8.5" font-weight="bold" text-anchor="end" fill="#000" stroke="#000" stroke-width=".2">100</text>
<text x="61.7" y="290.2" font-size="8.5" font-weight="bold" text-anchor="end" fill="#000" stroke="#000" stroke-width=".2">10</text>
<text x="61.7" y="351.3" font-size="8.5" font-weight="bold" text-anchor="end" fill="#000" stroke="#000" stroke-width=".2">1</text>
<text transform="translate(27.4 286.2) rotate(-90)" font-size="8.1" font-weight="bold" text-anchor="middle" fill="#111">xfold IFN-γ secretion</text>
<text transform="translate(36.8 286.2) rotate(-90)" font-size="8.1" font-weight="bold" text-anchor="middle" fill="#111">over medium control</text>
<g fill="#000"><circle cx="89.8" cy="293.2" r="2.05"/><circle cx="84.2" cy="315.9" r="2.05"/><circle cx="89.8" cy="319.3" r="2.05"/><circle cx="95.2" cy="319.3" r="2.05"/><circle cx="89.8" cy="325" r="2.05"/><circle cx="84.2" cy="329.8" r="2.05"/><circle cx="95.2" cy="329.9" r="2.05"/><circle cx="89.8" cy="332.4" r="2.05"/><circle cx="78.6" cy="335.8" r="2.05"/><circle cx="100.6" cy="335.3" r="2.05"/><circle cx="84.2" cy="337.1" r="2.05"/><circle cx="95.2" cy="336.3" r="2.05"/><circle cx="89.8" cy="339.6" r="2.05"/><circle cx="84.2" cy="345.6" r="2.05"/><circle cx="100.6" cy="345.6" r="2.05"/><circle cx="89.8" cy="348.1" r="2.05"/><circle cx="95.2" cy="348.1" r="2.05"/></g>
<path d="M74.2 327.4H105.6" stroke="#000" stroke-width="1.1"/>
<g fill="#000"><circle cx="135.4" cy="273.6" r="2.05"/><circle cx="140.8" cy="271.6" r="2.05"/><circle cx="135.4" cy="282.4" r="2.05"/><circle cx="135.4" cy="293.6" r="2.05"/><circle cx="130" cy="300.5" r="2.05"/><circle cx="135.4" cy="301.2" r="2.05"/><circle cx="130" cy="310.7" r="2.05"/><circle cx="140.8" cy="311.5" r="2.05"/><circle cx="135.4" cy="315.1" r="2.05"/><circle cx="135.4" cy="324.4" r="2.05"/><circle cx="130" cy="327.3" r="2.05"/><circle cx="146.6" cy="326.1" r="2.05"/><circle cx="140.8" cy="328.8" r="2.05"/><circle cx="135.4" cy="330" r="2.05"/><circle cx="135.4" cy="336.1" r="2.05"/><circle cx="140.8" cy="341.8" r="2.05"/><circle cx="135.4" cy="343.7" r="2.05"/></g>
<path d="M119.8 302.9H151.2" stroke="#000" stroke-width="1.1"/>
<g fill="#000"><circle cx="181.3" cy="293.1" r="2.05"/><circle cx="181.3" cy="305.5" r="2.05"/><circle cx="186.8" cy="305.5" r="2.05"/><circle cx="181.3" cy="321" r="2.05"/><circle cx="175.8" cy="330.1" r="2.05"/><circle cx="181.3" cy="330.1" r="2.05"/><circle cx="186.8" cy="330.1" r="2.05"/><circle cx="175.8" cy="337.3" r="2.05"/><circle cx="181.3" cy="337.3" r="2.05"/><circle cx="189.3" cy="342.6" r="2.05"/><circle cx="170.2" cy="348.3" r="2.05"/><circle cx="175.8" cy="348.3" r="2.05"/><circle cx="178.7" cy="348.3" r="2.05"/><circle cx="181.3" cy="348.3" r="2.05"/><circle cx="184" cy="348.3" r="2.05"/><circle cx="186.3" cy="348.3" r="2.05"/><circle cx="192.3" cy="348.3" r="2.05"/></g>
<path d="M165.8 326.9H196.8" stroke="#000" stroke-width="1.1"/>
<g fill="#000"><circle cx="221.7" cy="288.7" r="2.05"/><circle cx="227.1" cy="290.2" r="2.05"/><circle cx="232.5" cy="290.2" r="2.05"/><circle cx="227.1" cy="296.7" r="2.05"/><circle cx="232.5" cy="305.6" r="2.05"/><circle cx="227.1" cy="308.2" r="2.05"/><circle cx="227.1" cy="316.2" r="2.05"/><circle cx="216.3" cy="319.4" r="2.05"/><circle cx="221.7" cy="320.1" r="2.05"/><circle cx="232.5" cy="320.5" r="2.05"/><circle cx="237.9" cy="319.4" r="2.05"/><circle cx="227.1" cy="323.1" r="2.05"/><circle cx="221.7" cy="337.4" r="2.05"/><circle cx="227.1" cy="339.4" r="2.05"/><circle cx="232.5" cy="337.4" r="2.05"/><circle cx="227.1" cy="348.2" r="2.05"/><circle cx="232.5" cy="348.2" r="2.05"/></g>
<path d="M211.9 311.6H242.8" stroke="#000" stroke-width="1.1"/>
<path d="M88.6 229.6C89 226.6 90.2 224.8 93 224.8H128.4C131.2 224.8 132.4 226.6 132.8 229.6" stroke="#3a3a3a" stroke-width=".95" fill="none"/>
<text x="111" y="222" font-size="6.3" font-weight="bold" text-anchor="middle" fill="#222"><tspan font-style="italic">P</tspan> = .003</text>
<path d="M184.2 229.6C184.6 226.6 185.8 224.8 188.6 224.8H224.2C227 224.8 228.2 226.6 228.6 229.6" stroke="#3a3a3a" stroke-width=".95" fill="none"/>
<text x="206.2" y="222" font-size="6.3" font-weight="bold" text-anchor="middle" fill="#222"><tspan font-style="italic">P</tspan> = .001</text>
<text x="85.2" y="361.5" font-size="6.2" font-weight="normal" text-anchor="middle" fill="#222">Ig-EBNA1</text>
<text x="85.2" y="368.5" font-size="6.2" text-anchor="middle" fill="#222">CD4<tspan font-size="3.4" dy="-1.6">+</tspan></text>
<text x="131.6" y="361.5" font-size="6.2" font-weight="normal" text-anchor="middle" fill="#222">αDEC205-EBNA1</text>
<text x="131.6" y="368.5" font-size="6.2" text-anchor="middle" fill="#222">CD4<tspan font-size="3.4" dy="-1.6">+</tspan></text>
<text x="183.8" y="361.5" font-size="6.2" font-weight="normal" text-anchor="middle" fill="#222">Ig-EBNA1</text>
<text x="183.8" y="368.5" font-size="6.2" text-anchor="middle" fill="#222">CD8<tspan font-size="3.4" dy="-1.6">+</tspan></text>
<text x="232" y="361.5" font-size="6.2" font-weight="normal" text-anchor="middle" fill="#222">αDEC205-EBNA1</text>
<text x="232" y="368.5" font-size="6.2" text-anchor="middle" fill="#222">CD8<tspan font-size="3.4" dy="-1.6">+</tspan></text>
<path d="M326 225.8V348.3H510.6" stroke="#000" stroke-width="1.6" fill="none"/>
<path d="M326 226.4h-4.2M326 287.2h-4.2M326 348.3h-4.2" stroke="#000" stroke-width="1.2"/>
<text x="321.2" y="229.4" font-size="8.5" font-weight="bold" text-anchor="end" fill="#000" stroke="#000" stroke-width=".2">100</text>
<text x="321.2" y="290.2" font-size="8.5" font-weight="bold" text-anchor="end" fill="#000" stroke="#000" stroke-width=".2">10</text>
<text x="321.2" y="351.3" font-size="8.5" font-weight="bold" text-anchor="end" fill="#000" stroke="#000" stroke-width=".2">1</text>
<text transform="translate(291.1 286.2) rotate(-90)" font-size="8.1" font-weight="bold" text-anchor="middle" fill="#111">xfold proliferation</text>
<text transform="translate(300.5 286.2) rotate(-90)" font-size="8.1" font-weight="bold" text-anchor="middle" fill="#111">over medium control</text>
<g fill="#000"><circle cx="343.8" cy="288.7" r="2.05"/><circle cx="349.3" cy="287.6" r="2.05"/><circle cx="349.3" cy="293.2" r="2.05"/><circle cx="349.3" cy="306" r="2.05"/><circle cx="349.3" cy="311.4" r="2.05"/><circle cx="349.3" cy="325.5" r="2.05"/><circle cx="343.8" cy="337.4" r="2.05"/><circle cx="354.7" cy="337.4" r="2.05"/><circle cx="349.3" cy="340.4" r="2.05"/><circle cx="357.3" cy="343.3" r="2.05"/><circle cx="346.4" cy="345.6" r="2.05"/><circle cx="338.4" cy="348.2" r="2.05"/><circle cx="343.8" cy="348.2" r="2.05"/><circle cx="349.3" cy="348.2" r="2.05"/><circle cx="352.1" cy="348.2" r="2.05"/><circle cx="354.7" cy="348.2" r="2.05"/><circle cx="360.1" cy="348.2" r="2.05"/></g>
<path d="M333.4 319H365" stroke="#000" stroke-width="1.1"/>
<g fill="#000"><circle cx="389.5" cy="282.6" r="2.05"/><circle cx="395.3" cy="282.6" r="2.05"/><circle cx="400.8" cy="290" r="2.05"/><circle cx="395.3" cy="293" r="2.05"/><circle cx="389.5" cy="295.6" r="2.05"/><circle cx="395.3" cy="301" r="2.05"/><circle cx="395.3" cy="320.7" r="2.05"/><circle cx="400.8" cy="319.4" r="2.05"/><circle cx="395.3" cy="335.9" r="2.05"/><circle cx="384.1" cy="348.2" r="2.05"/><circle cx="389.5" cy="348.2" r="2.05"/><circle cx="392.5" cy="348.2" r="2.05"/><circle cx="395.3" cy="348.2" r="2.05"/><circle cx="398.2" cy="348.2" r="2.05"/><circle cx="400.8" cy="348.2" r="2.05"/><circle cx="403.6" cy="348.2" r="2.05"/><circle cx="406.2" cy="348.2" r="2.05"/></g>
<path d="M379.5 310.8H411" stroke="#000" stroke-width="1.1"/>
<g fill="#000"><circle cx="441" cy="307.9" r="2.05"/><circle cx="441" cy="332.6" r="2.05"/><circle cx="435.6" cy="339.4" r="2.05"/><circle cx="433.8" cy="343.3" r="2.05"/><circle cx="441" cy="342.6" r="2.05"/><circle cx="447.9" cy="343.3" r="2.05"/><circle cx="441" cy="345.4" r="2.05"/><circle cx="429.5" cy="348.2" r="2.05"/><circle cx="433" cy="348.2" r="2.05"/><circle cx="436" cy="348.2" r="2.05"/><circle cx="439" cy="348.2" r="2.05"/><circle cx="442" cy="348.2" r="2.05"/><circle cx="445" cy="348.2" r="2.05"/><circle cx="448" cy="348.2" r="2.05"/><circle cx="452.2" cy="348.2" r="2.05"/></g>
<path d="M425.2 340.4H456.6" stroke="#000" stroke-width="1.1"/>
<g fill="#000"><circle cx="487" cy="265" r="2.05"/><circle cx="487" cy="283.4" r="2.05"/><circle cx="487" cy="301" r="2.05"/><circle cx="487" cy="315.1" r="2.05"/><circle cx="492.4" cy="314.6" r="2.05"/><circle cx="481.3" cy="319.2" r="2.05"/><circle cx="487" cy="320.8" r="2.05"/><circle cx="489.7" cy="326.8" r="2.05"/><circle cx="475.9" cy="328.7" r="2.05"/><circle cx="481.3" cy="329.5" r="2.05"/><circle cx="487" cy="329.5" r="2.05"/><circle cx="492.4" cy="329.5" r="2.05"/><circle cx="497.8" cy="329.5" r="2.05"/><circle cx="487" cy="335.7" r="2.05"/><circle cx="481.3" cy="343" r="2.05"/><circle cx="487" cy="347.9" r="2.05"/><circle cx="492.4" cy="347.9" r="2.05"/></g>
<path d="M471.3 310.8H503" stroke="#000" stroke-width="1.1"/>
<path d="M443.2 229.6C443.6 226.6 444.8 224.8 447.6 224.8H483C485.8 224.8 487 226.6 487.4 229.6" stroke="#3a3a3a" stroke-width=".95" fill="none"/>
<text x="465.2" y="222" font-size="6.3" font-weight="bold" text-anchor="middle" fill="#222"><tspan font-style="italic">P</tspan> = .01</text>
<text x="346" y="361.5" font-size="6.2" font-weight="normal" text-anchor="middle" fill="#222">Ig-EBNA1</text>
<text x="346" y="368.5" font-size="6.2" text-anchor="middle" fill="#222">CD4<tspan font-size="3.4" dy="-1.6">+</tspan></text>
<text x="395.4" y="361.5" font-size="6.2" font-weight="normal" text-anchor="middle" fill="#222">αDEC205-EBNA1</text>
<text x="395.4" y="368.5" font-size="6.2" text-anchor="middle" fill="#222">CD4<tspan font-size="3.4" dy="-1.6">+</tspan></text>
<text x="445.2" y="361.5" font-size="6.2" font-weight="normal" text-anchor="middle" fill="#222">Ig-EBNA1</text>
<text x="445.2" y="368.5" font-size="6.2" text-anchor="middle" fill="#222">CD8<tspan font-size="3.4" dy="-1.6">+</tspan></text>
<text x="494" y="361.5" font-size="6.2" font-weight="normal" text-anchor="middle" fill="#222">αDEC205-EBNA1</text>
<text x="494" y="368.5" font-size="6.2" text-anchor="middle" fill="#222">CD8<tspan font-size="3.4" dy="-1.6">+</tspan></text>
</svg></body></html>
